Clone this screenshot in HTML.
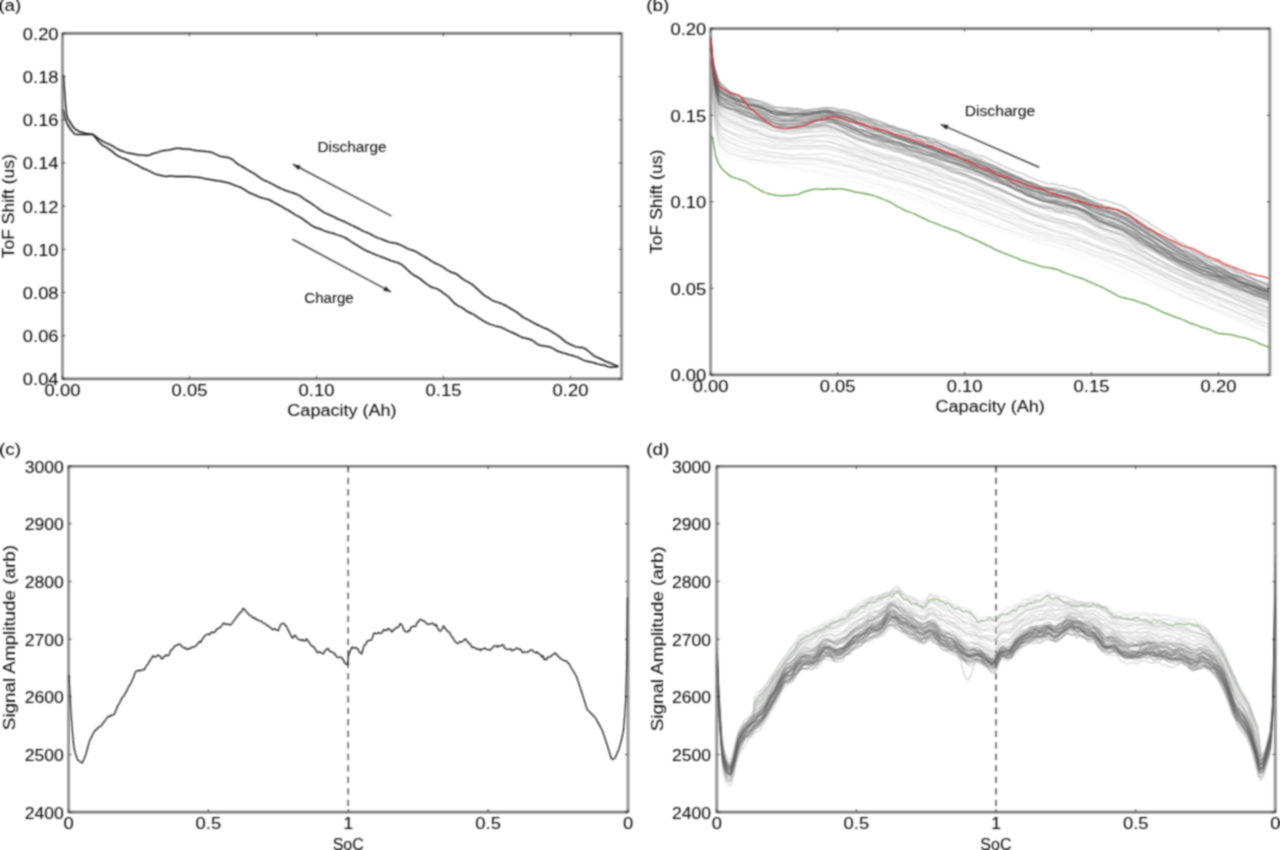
<!DOCTYPE html>
<html><head><meta charset="utf-8"><title>figure</title>
<style>html,body{margin:0;padding:0;background:#fff;overflow:hidden}svg{display:block}
.t{font-family:"Liberation Sans",sans-serif;fill:#000;stroke:#000;stroke-width:0.0;}
.s{font-family:"Liberation Serif",serif;fill:#000;stroke:#000;stroke-width:0.00;}

.axv{fill:none;stroke:#979797;stroke-width:3.0}
.axh{fill:none;stroke:#7c7c7c;stroke-width:2.6}
.tk{fill:none;stroke:#000;stroke-width:.8}
.lb{fill:none;stroke:#b4b4b4;stroke-width:1.1;stroke-linejoin:round}
.dk{fill:none;stroke:#555;stroke-width:1.1;stroke-linejoin:round}
.ld{fill:none;stroke:#bbb;stroke-width:1.1;stroke-linejoin:round}
.dd{fill:none;stroke:#5e5e5e;stroke-width:1.1;stroke-linejoin:round}
</style></head>
<body>
<svg width="1280" height="850" viewBox="0 0 1280 850">
<defs><filter id="bl" x="0" y="0" width="1280" height="850" filterUnits="userSpaceOnUse"><feConvolveMatrix order="7" kernelMatrix="0.00000 0.00003 0.00022 0.00043 0.00022 0.00003 0.00000 0.00003 0.00087 0.00692 0.01383 0.00692 0.00087 0.00003 0.00022 0.00692 0.05519 0.11027 0.05519 0.00692 0.00022 0.00043 0.01383 0.11027 0.22029 0.11027 0.01383 0.00043 0.00022 0.00692 0.05519 0.11027 0.05519 0.00692 0.00022 0.00003 0.00087 0.00692 0.01383 0.00692 0.00087 0.00003 0.00000 0.00003 0.00022 0.00043 0.00022 0.00003 0.00000" preserveAlpha="false"/></filter></defs>
<rect width="1280" height="850" fill="#fff"/>
<g filter="url(#bl)">
<path class="axv" d="M62.50 32.40V379.90M621.60 32.40V379.90"/>
<path class="axh" d="M62.50 33.40H621.60M62.50 378.90H621.60"/>
<path d="M63.5 75.5l1 14.5 1 15 1 9 1.5 5 2 3 2.5 4 2.5 3 5 2.8 6 1.7 6.9 1 0-.1 1.5 1.2 1.5 1.1 1.5 1.1 1.5 1 1.5 1 1.5 .9 1.5 .9 1.5 .8 1.5 .7 1.5 .7 1.5 .6 1.5 .7 1.5 .8 1.5 .9 1.5 1 1.5 .9 1.5 .8 1.5 .7 1.5 .6 1.5 .5 1.5 .6 1.5 .5 1.5 .5 1.5 .2 1.5 .3 1.5 .2 1.5 .3 1.5 .3 1.5 .3 1.5 .2 1.5 .2 1.5 .2 1.5 .1 1.5 .1 1.5 .1 1.5 0 1.5 0 1.5-.5 1.5-.7 1.5-.6 1.5-.4 1.5-.4 1.5-.4 1.5-.5 1.5-.5 1.5-.4 1.5-.4 1.5-.2 1.5-.2 1.5-.1 1.5-.2 1.5-.3 1.5-.4 1.5-.4 1.5-.3 1.5-.2 1.5-.1 1.5 .2 1.5 .2 1.5 .3 1.5 .1 1.5 0 1.5 .1 1.5 .1 1.5 .1 1.5 .4 1.5 .3 1.5 .4 1.5 .2 1.5 .1 1.5 .1 1.5 .2 1.5 .1 1.5 .2 1.5 .1 1.5 .2 1.5 .1 1.5 .3 1.5 .3 1.5 .6 1.5 .7 1.5 .8 1.5 .7 1.5 .6 1.5 .5 1.5 .4 1.5 .3 1.5 .2 1.5 .2 1.5 .2 1.5 .4 1.5 .7 1.5 .9 1.5 1.3 1.5 1.3 1.5 1.2 1.5 1.1 1.5 .9 1.5 .8 1.5 .9 1.5 .9 1.5 1 1.5 .9 1.5 .9 1.5 .8 1.5 .9 1.5 .8 1.5 1 1.5 1 1.5 1.1 1.5 1.1 1.5 1 1.5 1 1.5 .8 1.5 .6 1.5 .6 1.5 .7 1.5 .7 1.5 .8 1.5 .8 1.5 .8 1.5 .8 1.5 .8 1.5 .7 1.5 .7 1.5 .7 1.5 .6 1.5 .7 1.5 .6 1.5 .5 1.5 .4 1.5 .4 1.5 .6 1.5 .5 1.5 .6 1.5 .6 1.5 .7 1.5 .8 1.5 1 1.5 1.1 1.5 1.1 1.5 1 1.5 .9 1.5 .9 1.5 1 1.5 1 1.5 1 1.5 1.1 1.5 1 1.5 1.1 1.5 1.2 1.5 1.1 1.5 1 1.5 .9 1.5 .8 1.5 .7 1.5 .6 1.5 .6 1.5 .7 1.5 .7 1.5 .8 1.5 .8 1.5 .8 1.5 .6 1.5 .6 1.5 .6 1.5 .6 1.5 .6 1.5 .8 1.5 .8 1.5 .8 1.5 .7 1.5 .7 1.5 .6 1.5 .8 1.5 .7 1.5 .8 1.5 .8 1.5 .9 1.5 .7 1.5 .7 1.5 .5 1.5 .6 1.5 .7 1.5 .8 1.5 .8 1.5 .8 1.5 .8 1.5 .7 1.5 .6 1.5 .5 1.5 .5 1.5 .6 1.5 .5 1.5 .7 1.5 .6 1.5 .6 1.5 .4 1.5 .3 1.5 .1 1.5 .2 1.5 .4 1.5 .5 1.5 .6 1.5 .6 1.5 .6 1.5 .7 1.5 .9 1.5 .9 1.5 .7 1.5 .6 1.5 .4 1.5 .5 1.5 .5 1.5 .6 1.5 .8 1.5 .9 1.5 1 1.5 .8 1.5 .9 1.5 .8 1.5 .9 1.5 .9 1.5 1 1.5 .9 1.5 1 1.5 .9 1.5 .8 1.5 .7 1.5 .7 1.5 .7 1.5 .8 1.5 .8 1.5 1 1.5 1.1 1.5 1 1.5 .9 1.5 .8 1.5 .7 1.5 .5 1.5 .5 1.5 .6 1.5 .9 1.5 1.2 1.5 1.3 1.5 1.2 1.5 1 1.5 .9 1.5 .8 1.5 .8 1.5 .9 1.5 .9 1.5 1 1.5 1.2 1.5 1.3 1.5 1.4 1.5 1.4 1.5 1.4 1.5 1.3 1.5 1.4 1.5 1.2 1.5 1 1.5 .9 1.5 1 1.5 1 1.5 .9 1.5 .8 1.5 .6 1.5 .4 1.5 .5 1.5 .4 1.5 .6 1.5 .7 1.5 .6 1.5 .8 1.5 .8 1.5 .9 1.5 .9 1.5 .9 1.5 .9 1.5 .9 1.5 .9 1.5 1 1.5 1.2 1.5 1.3 1.5 1.2 1.5 1 1.5 .8 1.5 .7 1.5 .7 1.5 .8 1.5 .9 1.5 .9 1.5 .9 1.5 .7 1.5 .7 1.5 .7 1.5 .7 1.5 .8 1.5 .7 1.5 .6 1.5 .5 1.5 .7 1.5 .8 1.5 1 1.5 .9 1.5 .9 1.5 .9 1.5 1 1.5 .9 1.5 1.1 1.5 1.2 1.5 1.2 1.5 1.3 1.5 1.2 1.5 1.1 1.5 .8 1.5 .8 1.5 .6 1.5 .6 1.5 .6 1.5 .5 1.5 .4 1.5 .2 1.5 .2 1.5 .2 1.5 .3 1.5 .7 1.5 .9 1.5 1.2 1.5 1.3 1.5 1.3 1.5 1.3 1.5 1.1 1.5 .9 1.5 .7 1.5 .6 1.5 .6 1.5 .7 1.5 .8 1.5 .8 1.5 .7 1.5 .5 1.5 .5 1.5 .6 1.5 .7 1.5 .7 1.5 .6 1.5 .6 1.5 .6" fill="none" stroke="#111" stroke-width="1.5" stroke-linejoin="round" stroke-linecap="round"/>
<path d="M63.2 110l1.3 6 1.5 5 1.5 3.5 2.5 4 2.5 3.3 2.5 2.5 5 .3 12.9 0 0-.3 1.5 2 1.5 1.8 1.5 1.9 1.5 1.8 1.5 1.6 1.5 1.4 1.5 1 1.5 .8 1.5 .8 1.5 .9 1.5 1 1.5 1.1 1.5 1.2 1.5 1.3 1.5 1.2 1.5 1.1 1.5 1 1.5 .7 1.5 .7 1.5 .6 1.5 .5 1.5 .6 1.5 .7 1.5 .8 1.5 .9 1.5 .9 1.5 .8 1.5 .7 1.5 .6 1.5 .8 1.5 .8 1.5 .9 1.5 .8 1.5 .7 1.5 .6 1.5 .6 1.5 .7 1.5 .8 1.5 .8 1.5 .7 1.5 .7 1.5 .6 1.5 .4 1.5 .3 1.5 .4 1.5 .4 1.5 .4 1.5 .2 1.5 .1 1.5-.2 1.5-.1 1.5-.1 1.5 .1 1.5 .1 1.5 .2 1.5 0 1.5 0 1.5 0 1.5 0 1.5 0 1.5 .1 1.5 0 1.5 0 1.5 .1 1.5 0 1.5 .2 1.5 .2 1.5 .1 1.5 .1 1.5 0 1.5 .2 1.5 .2 1.5 .4 1.5 .4 1.5 .3 1.5 .3 1.5 .3 1.5 .2 1.5 .3 1.5 .3 1.5 .3 1.5 .2 1.5 .2 1.5 .2 1.5 .2 1.5 .3 1.5 .3 1.5 .3 1.5 .3 1.5 .4 1.5 .4 1.5 .6 1.5 .6 1.5 .6 1.5 .5 1.5 .6 1.5 .5 1.5 .6 1.5 .7 1.5 .8 1.5 .9 1.5 .9 1.5 1.1 1.5 .9 1.5 .7 1.5 .6 1.5 .6 1.5 .6 1.5 .7 1.5 .7 1.5 .6 1.5 .5 1.5 .5 1.5 .4 1.5 .4 1.5 .3 1.5 .4 1.5 .7 1.5 .8 1.5 .9 1.5 .8 1.5 .8 1.5 .7 1.5 .8 1.5 .8 1.5 .9 1.5 .9 1.5 .9 1.5 .8 1.5 .8 1.5 .9 1.5 .9 1.5 1 1.5 1 1.5 .9 1.5 .8 1.5 .7 1.5 .8 1.5 1 1.5 1.1 1.5 1.1 1.5 1 1.5 1.1 1.5 1.1 1.5 1.2 1.5 1 1.5 .8 1.5 .7 1.5 .5 1.5 .5 1.5 .5 1.5 .6 1.5 .6 1.5 .7 1.5 .6 1.5 .5 1.5 .5 1.5 .3 1.5 .4 1.5 .4 1.5 .5 1.5 .6 1.5 .5 1.5 .5 1.5 .4 1.5 .6 1.5 .5 1.5 .7 1.5 .9 1.5 .9 1.5 1 1.5 1.1 1.5 1 1.5 .9 1.5 .9 1.5 .9 1.5 .9 1.5 .9 1.5 1 1.5 .9 1.5 .8 1.5 .8 1.5 .7 1.5 .6 1.5 .6 1.5 .7 1.5 .6 1.5 .7 1.5 .6 1.5 .6 1.5 .5 1.5 .6 1.5 .6 1.5 .5 1.5 .6 1.5 .6 1.5 .6 1.5 .7 1.5 .6 1.5 .4 1.5 .4 1.5 .4 1.5 .5 1.5 .6 1.5 .7 1.5 1 1.5 1.1 1.5 1.4 1.5 1.4 1.5 1.4 1.5 1.4 1.5 1.4 1.5 1.2 1.5 1 1.5 .8 1.5 .7 1.5 .9 1.5 1.1 1.5 1.2 1.5 1.2 1.5 1.2 1.5 1.1 1.5 1.1 1.5 1.1 1.5 .9 1.5 .7 1.5 .5 1.5 .4 1.5 .5 1.5 .7 1.5 .9 1.5 1 1.5 1.1 1.5 1.1 1.5 1 1.5 1.1 1.5 1.3 1.5 1.5 1.5 1.6 1.5 1.7 1.5 1.6 1.5 1.2 1.5 1 1.5 .8 1.5 .7 1.5 .8 1.5 1 1.5 1 1.5 1.1 1.5 1 1.5 .7 1.5 .7 1.5 .7 1.5 .8 1.5 .9 1.5 1 1.5 1.1 1.5 1 1.5 .9 1.5 .9 1.5 1 1.5 .8 1.5 .8 1.5 .7 1.5 .6 1.5 .5 1.5 .5 1.5 .5 1.5 .4 1.5 .2 1.5 .4 1.5 .4 1.5 .6 1.5 .7 1.5 .8 1.5 .8 1.5 .7 1.5 .7 1.5 .6 1.5 .6 1.5 .7 1.5 .7 1.5 .8 1.5 .8 1.5 .8 1.5 .7 1.5 .4 1.5 .4 1.5 .3 1.5 .4 1.5 .4 1.5 .5 1.5 .8 1.5 1 1.5 1.2 1.5 1.2 1.5 .8 1.5 .5 1.5 .4 1.5 .2 1.5 .2 1.5 .3 1.5 .2 1.5 .3 1.5 .5 1.5 .6 1.5 .8 1.5 .9 1.5 .9 1.5 .7 1.5 .6 1.5 .5 1.5 .4 1.5 .4 1.5 .4 1.5 .5 1.5 .5 1.5 .4 1.5 .4 1.5 .4 1.5 .5 1.5 .4 1.5 .5 1.5 .7 1.5 .8 1.5 .8 1.5 .7 1.5 .6 1.5 .4 1.5 .3 1.5 .3 1.5 .3 1.5 .4 1.5 .4 1.5 .4 1.5 .5 1.5 .4 1.5 .4 1.5 .2 1.5 .2 1.5 .4 1.5 .6 1.5 .6 1.5 .4 1.5 .3 1.5-.1 1.5-.1 1.5 0 1.5-.1 1.5-.6" fill="none" stroke="#111" stroke-width="1.5" stroke-linejoin="round" stroke-linecap="round"/>
<path d="M390.9 215.8l-97.7-51.4" fill="none" stroke="#222" stroke-width="1.2" stroke-linejoin="round" stroke-linecap="round"/>
<path d="M293.2 164.4L300.6 165.4L298.2 170.0Z" fill="#222"/>
<path d="M292.7 239.4l97.9 52.4" fill="none" stroke="#222" stroke-width="1.2" stroke-linejoin="round" stroke-linecap="round"/>
<path d="M390.6 291.8L383.2 290.8L385.7 286.2Z" fill="#222"/>
<text class="t" x="352.0" y="152.0" font-size="14.05" text-anchor="middle" lengthAdjust="spacingAndGlyphs" textLength="69.1">Discharge</text>
<text class="t" x="329.0" y="303.4" font-size="14.05" text-anchor="middle" lengthAdjust="spacingAndGlyphs" textLength="49.5">Charge</text>
<path class="tk" d="M62.5 378.9v-3.0M62.5 33.4v3.0"/>
<text class="t" x="62.5" y="395.8" font-size="16.39" text-anchor="middle" lengthAdjust="spacingAndGlyphs" textLength="35.8">0.00</text>
<path class="tk" d="M189.5 378.9v-3.0M189.5 33.4v3.0"/>
<text class="t" x="189.5" y="395.8" font-size="16.39" text-anchor="middle" lengthAdjust="spacingAndGlyphs" textLength="35.8">0.05</text>
<path class="tk" d="M316.5 378.9v-3.0M316.5 33.4v3.0"/>
<text class="t" x="316.5" y="395.8" font-size="16.39" text-anchor="middle" lengthAdjust="spacingAndGlyphs" textLength="35.8">0.10</text>
<path class="tk" d="M443.5 378.9v-3.0M443.5 33.4v3.0"/>
<text class="t" x="443.5" y="395.8" font-size="16.39" text-anchor="middle" lengthAdjust="spacingAndGlyphs" textLength="35.8">0.15</text>
<path class="tk" d="M570.5 378.9v-3.0M570.5 33.4v3.0"/>
<text class="t" x="570.5" y="395.8" font-size="16.39" text-anchor="middle" lengthAdjust="spacingAndGlyphs" textLength="35.8">0.20</text>
<path class="tk" d="M62.5 378.9h3.0M621.6 378.9h-3.0"/>
<text class="t" x="58.6" y="385.3" font-size="16.39" text-anchor="end" lengthAdjust="spacingAndGlyphs" textLength="35.8">0.04</text>
<path class="tk" d="M62.5 335.7h3.0M621.6 335.7h-3.0"/>
<text class="t" x="58.6" y="342.1" font-size="16.39" text-anchor="end" lengthAdjust="spacingAndGlyphs" textLength="35.8">0.06</text>
<path class="tk" d="M62.5 292.5h3.0M621.6 292.5h-3.0"/>
<text class="t" x="58.6" y="298.9" font-size="16.39" text-anchor="end" lengthAdjust="spacingAndGlyphs" textLength="35.8">0.08</text>
<path class="tk" d="M62.5 249.3h3.0M621.6 249.3h-3.0"/>
<text class="t" x="58.6" y="255.7" font-size="16.39" text-anchor="end" lengthAdjust="spacingAndGlyphs" textLength="35.8">0.10</text>
<path class="tk" d="M62.5 206.2h3.0M621.6 206.2h-3.0"/>
<text class="t" x="58.6" y="212.5" font-size="16.39" text-anchor="end" lengthAdjust="spacingAndGlyphs" textLength="35.8">0.12</text>
<path class="tk" d="M62.5 163.0h3.0M621.6 163.0h-3.0"/>
<text class="t" x="58.6" y="169.3" font-size="16.39" text-anchor="end" lengthAdjust="spacingAndGlyphs" textLength="35.8">0.14</text>
<path class="tk" d="M62.5 119.8h3.0M621.6 119.8h-3.0"/>
<text class="t" x="58.6" y="126.1" font-size="16.39" text-anchor="end" lengthAdjust="spacingAndGlyphs" textLength="35.8">0.16</text>
<path class="tk" d="M62.5 76.6h3.0M621.6 76.6h-3.0"/>
<text class="t" x="58.6" y="83.0" font-size="16.39" text-anchor="end" lengthAdjust="spacingAndGlyphs" textLength="35.8">0.18</text>
<path class="tk" d="M62.5 33.4h3.0M621.6 33.4h-3.0"/>
<text class="t" x="58.6" y="39.8" font-size="16.39" text-anchor="end" lengthAdjust="spacingAndGlyphs" textLength="35.8">0.20</text>
<text class="t" x="342.0" y="416.4" font-size="16.39" text-anchor="middle" lengthAdjust="spacingAndGlyphs" textLength="109.3">Capacity (Ah)</text>
<text class="t" x="14.0" y="206.2" font-size="16.39" text-anchor="middle" lengthAdjust="spacingAndGlyphs" textLength="104.2" transform="rotate(-90 14.0 206.2)">ToF Shift (us)</text>
<path class="axv" d="M710.60 27.60V375.90M1269.80 27.60V375.90"/>
<path class="axh" d="M710.60 28.60H1269.80M710.60 374.90H1269.80"/>
<path d="M711 137l1.5 0 1.5 9.3 1.5 8.4 1.5 5.1 1.5 3.4 1.5 2.8 1.5 2.1 1.5 1.7 1.5 1.4 1.5 1.3 1.5 1.3 1.5 1.3 1.5 1 1.5 .7 1.5 .6 1.5 .5 1.5 .6 1.5 .5 1.5 .4 1.5 .5 1.5 .4 1.5 .6 1.5 .6 1.5 .8 1.5 .9 1.5 1 1.5 1 1.5 1 1.5 .9 1.5 .9 1.5 .8 1.5 .8 1.5 .8 1.5 .7 1.5 .8 1.5 .6 1.5 .5 1.5 .5 1.5 .4 1.5 .4 1.5 .3 1.5 .3 1.5 .3 1.5 .3 1.5 .2 1.5 .1 1.5 0 1.5 0 1.5-.1 1.5 0 1.5-.2 1.5-.1 1.5-.1 1.5-.2 1.5-.1 1.5-.2 1.5-.1 1.5-.4 1.5-.5 1.5-.7 1.5-.7 1.5-.6 1.5-.5 1.5-.4 1.5-.4 1.5-.4 1.5-.4 1.5-.3 1.5-.2 1.5-.1 1.5 0 1.5 .1 1.5 .1 1.5 0 1.5 0 1.5-.2 1.5-.1 1.5-.1 1.5-.1 1.5 .1 1.5 .1 1.5 0 1.5 .1 1.5-.1 1.5-.1 1.5 0 1.5 0 1.5 .2 1.5 .2 1.5 .3 1.5 .3 1.5 .4 1.5 .4 1.5 .5 1.5 .4 1.5 .4 1.5 .2 1.5 .2 1.5 .2 1.5 .3 1.5 .3 1.5 .3 1.5 .3 1.5 .2 1.5 .3 1.5 .3 1.5 .3 1.5 .5 1.5 .6 1.5 .5 1.5 .6 1.5 .5 1.5 .6 1.5 .7 1.5 .6 1.5 .5 1.5 .6 1.5 .6 1.5 .6 1.5 .8 1.5 .9 1.5 1 1.5 .9 1.5 .9 1.5 .7 1.5 .8 1.5 .8 1.5 .8 1.5 .7 1.5 .7 1.5 .6 1.5 .5 1.5 .6 1.5 .5 1.5 .5 1.5 .6 1.5 .7 1.5 .8 1.5 .8 1.5 .8 1.5 .7 1.5 .7 1.5 .7 1.5 .7 1.5 .7 1.5 .7 1.5 .6 1.5 .5 1.5 .6 1.5 .5 1.5 .6 1.5 .6 1.5 .7 1.5 .5 1.5 .6 1.5 .6 1.5 .5 1.5 .5 1.5 .6 1.5 .6 1.5 .5 1.5 .5 1.5 .5 1.5 .5 1.5 .6 1.5 .6 1.5 .9 1.5 .9 1.5 .8 1.5 .7 1.5 .6 1.5 .5 1.5 .6 1.5 .6 1.5 .7 1.5 .7 1.5 .7 1.5 .7 1.5 .7 1.5 .7 1.5 .7 1.5 .8 1.5 .7 1.5 .7 1.5 .7 1.5 .7 1.5 .7 1.5 .9 1.5 .9 1.5 .7 1.5 .7 1.5 .6 1.5 .6 1.5 .6 1.5 .6 1.5 .6 1.5 .6 1.5 .5 1.5 .6 1.5 .5 1.5 .6 1.5 .6 1.5 .6 1.5 .6 1.5 .7 1.5 .7 1.5 .6 1.5 .5 1.5 .5 1.5 .5 1.5 .4 1.5 .5 1.5 .4 1.5 .5 1.5 .4 1.5 .5 1.5 .5 1.5 .4 1.5 .5 1.5 .5 1.5 .4 1.5 .4 1.5 .2 1.5 .2 1.5 .2 1.5 .2 1.5 .3 1.5 .3 1.5 .3 1.5 .3 1.5 .4 1.5 .6 1.5 .8 1.5 .7 1.5 .6 1.5 .7 1.5 .5 1.5 .6 1.5 .5 1.5 .5 1.5 .5 1.5 .6 1.5 .6 1.5 .5 1.5 .4 1.5 .4 1.5 .4 1.5 .5 1.5 .6 1.5 .7 1.5 .7 1.5 .8 1.5 .6 1.5 .6 1.5 .6 1.5 .7 1.5 .6 1.5 .7 1.5 .6 1.5 .7 1.5 .7 1.5 .7 1.5 .8 1.5 .9 1.5 .8 1.5 .7 1.5 .8 1.5 .9 1.5 .8 1.5 .9 1.5 .8 1.5 .7 1.5 .6 1.5 .4 1.5 .3 1.5 .4 1.5 .4 1.5 .4 1.5 .4 1.5 .3 1.5 .3 1.5 .4 1.5 .5 1.5 .6 1.5 .6 1.5 .6 1.5 .5 1.5 .4 1.5 .4 1.5 .4 1.5 .6 1.5 .7 1.5 .8 1.5 .8 1.5 .7 1.5 .7 1.5 .6 1.5 .7 1.5 .7 1.5 .8 1.5 .8 1.5 .6 1.5 .6 1.5 .5 1.5 .5 1.5 .6 1.5 .6 1.5 .7 1.5 .6 1.5 .5 1.5 .5 1.5 .5 1.5 .6 1.5 .6 1.5 .5 1.5 .7 1.5 .7 1.5 .8 1.5 .7 1.5 .6 1.5 .4 1.5 .4 1.5 .5 1.5 .6 1.5 .6 1.5 .6 1.5 .6 1.5 .5 1.5 .4 1.5 .3 1.5 .4 1.5 .5 1.5 .6 1.5 .8 1.5 .8 1.5 .7 1.5 .6 1.5 .4 1.5 .3 1.5 .2 1.5 .2 1.5 .1 1.5 .1 1.5 .1 1.5 .2 1.5 .2 1.5 .2 1.5 .3 1.5 .4 1.5 .5 1.5 .4 1.5 .4 1.5 .3 1.5 .2 1.5 .3 1.5 .3 1.5 .5 1.5 .4 1.5 .5 1.5 .5 1.5 .6 1.5 .6 1.5 .7 1.5 .8 1.5 .6 1.5 .7 1.5 .6 1.5 .6 1.5 .6 1.5 .6 1.5 .5 1.5 .6" fill="none" stroke="#5f9a4a" stroke-width="1.3" stroke-linejoin="round" stroke-linecap="round"/>
<path class="lb" stroke-opacity="0.49" d="M711 43.9l1.5 22.1 1.5 12.4 1.5 7.1 1.5 6.3 1.5 5.2 1.5 2.2 1.5 1.5 1.5 1.1 1.5 .9 1.5 .8 1.5 .6 1.5 .5 1.5 .4 1.5 .3 1.5 .5 1.5 .6 1.5 .7 1.5 .6 1.5 .8 1.5 .7 1.5 .8 1.5 .7 1.5 .7 1.5 .7 1.5 .6 1.5 .6 1.5 .6 1.5 .6 1.5 .6 1.5 .6 1.5 .5 1.5 .7 1.5 .7 1.5 .8 1.5 .8 1.5 .7 1.5 .7 1.5 .6 1.5 .4 1.5 .5 1.5 .4 1.5 .6 1.5 .5 1.5 .5 1.5 .4 1.5 .4 1.5 .3 1.5 .3 1.5 .3 1.5 .3 1.5 .1 1.5 .2 1.5 .1 1.5 .2 1.5 .1 1.5 .1 1.5-.1 1.5-.1 1.5-.2 1.5-.1 1.5 0 1.5 0 1.5 .1 1.5 0 1.5 .1 1.5-.1 1.5 0 1.5-.1 1.5-.1 1.5-.2 1.5-.2 1.5-.2 1.5-.2 1.5-.3 1.5-.2 1.5-.2 1.5 0 1.5 .2 1.5 .3 1.5 .5 1.5 .5 1.5 .5 1.5 .5 1.5 .6 1.5 .6 1.5 .6 1.5 .6 1.5 .6 1.5 .7 1.5 .8 1.5 .8 1.5 .8 1.5 .8 1.5 .8 1.5 .8 1.5 .8 1.5 .7 1.5 .6 1.5 .6 1.5 .5 1.5 .4 1.5 .5 1.5 .5 1.5 .6 1.5 .5 1.5 .4 1.5 .4 1.5 .5 1.5 .5 1.5 .4 1.5 .2 1.5 0 1.5 .2 1.5 .2 1.5 .4 1.5 .5 1.5 .6 1.5 .5 1.5 .4 1.5 .3 1.5 .4 1.5 .2 1.5 .3 1.5 .2 1.5 .3 1.5 .3 1.5 .3 1.5 .3 1.5 .3 1.5 .3 1.5 .3 1.5 .4 1.5 .4 1.5 .5 1.5 .6 1.5 .4 1.5 .4 1.5 .4 1.5 .4 1.5 .5 1.5 .3 1.5 .3 1.5 .3 1.5 .2 1.5 .2 1.5 .3 1.5 .4 1.5 .3 1.5 .4 1.5 .3 1.5 .4 1.5 .3 1.5 .5 1.5 .5 1.5 .5 1.5 .5 1.5 .4 1.5 .6 1.5 .5 1.5 .6 1.5 .5 1.5 .6 1.5 .6 1.5 .6 1.5 .6 1.5 .6 1.5 .5 1.5 .5 1.5 .5 1.5 .5 1.5 .6 1.5 .6 1.5 .7 1.5 .7 1.5 .8 1.5 .6 1.5 .6 1.5 .5 1.5 .5 1.5 .5 1.5 .7 1.5 .6 1.5 .7 1.5 .5 1.5 .6 1.5 .6 1.5 .6 1.5 .6 1.5 .6 1.5 .6 1.5 .7 1.5 .8 1.5 .8 1.5 .7 1.5 .8 1.5 .7 1.5 .6 1.5 .7 1.5 .7 1.5 .8 1.5 .9 1.5 1 1.5 1 1.5 1 1.5 .8 1.5 .8 1.5 .6 1.5 .7 1.5 .7 1.5 .8 1.5 .8 1.5 .7 1.5 .7 1.5 .6 1.5 .6 1.5 .5 1.5 .5 1.5 .5 1.5 .5 1.5 .4 1.5 .5 1.5 .4 1.5 .4 1.5 .4 1.5 .3 1.5 .2 1.5 .3 1.5 .1 1.5 .3 1.5 .3 1.5 .4 1.5 .5 1.5 .4 1.5 .3 1.5 .2 1.5 .4 1.5 .4 1.5 .3 1.5 .3 1.5 .2 1.5 .2 1.5 .2 1.5 .3 1.5 .4 1.5 .6 1.5 .7 1.5 .7 1.5 .9 1.5 .9 1.5 1 1.5 1 1.5 .9 1.5 .8 1.5 .8 1.5 .7 1.5 .8 1.5 .8 1.5 .8 1.5 .7 1.5 .7 1.5 .6 1.5 .5 1.5 .5 1.5 .5 1.5 .5 1.5 .5 1.5 .6 1.5 .6 1.5 .8 1.5 .8 1.5 .9 1.5 .8 1.5 .7 1.5 .7 1.5 .7 1.5 .8 1.5 .8 1.5 .9 1.5 .9 1.5 1 1.5 1 1.5 .9 1.5 .9 1.5 .9 1.5 1 1.5 1 1.5 1.1 1.5 1 1.5 .9 1.5 .8 1.5 .8 1.5 .8 1.5 .9 1.5 .9 1.5 1 1.5 1 1.5 1 1.5 1 1.5 1.1 1.5 1 1.5 .9 1.5 .9 1.5 .9 1.5 .9 1.5 .9 1.5 .9 1.5 .9 1.5 1 1.5 .9 1.5 1 1.5 .8 1.5 .8 1.5 .8 1.5 .9 1.5 .9 1.5 .9 1.5 .9 1.5 .9 1.5 .7 1.5 .8 1.5 .7 1.5 .7 1.5 .6 1.5 .5 1.5 .5 1.5 .5 1.5 .5 1.5 .6 1.5 .6 1.5 .7 1.5 .7 1.5 .7 1.5 .7 1.5 .7 1.5 .6 1.5 .5 1.5 .5 1.5 .5 1.5 .5 1.5 .6 1.5 .5 1.5 .5 1.5 .6 1.5 .7 1.5 .6 1.5 .6 1.5 .4 1.5 .3 1.5 .3 1.5 .5 1.5 .6 1.5 .6 1.5 .5 1.5 .3 1.5 .2 1.5 .3 1.5 .4 1.5 .5 1.5 .6 1.5 .6 1.5 .6 1.5 .5 1.5 .5 1.5 .4 1.5 .4 1.5 .3 1.5 .4 1.5 .5 1.5 .5 1.5 .6 1.5 .5 1.5 .5"/>
<path class="lb" stroke-opacity="0.48" d="M711 48.8l1.5 22.7 1.5 12.6 1.5 7.2 1.5 6.4 1.5 5.4 1.5 2.2 1.5 1.4 1.5 .8 1.5 .6 1.5 .5 1.5 .6 1.5 .6 1.5 .6 1.5 .8 1.5 .9 1.5 .8 1.5 .7 1.5 .6 1.5 .6 1.5 .7 1.5 .6 1.5 .6 1.5 .5 1.5 .5 1.5 .3 1.5 .3 1.5 .2 1.5 .4 1.5 .5 1.5 .7 1.5 .8 1.5 .7 1.5 .5 1.5 .5 1.5 .4 1.5 .4 1.5 .4 1.5 .5 1.5 .6 1.5 .4 1.5 .4 1.5 .4 1.5 .2 1.5 .1 1.5 .2 1.5 .1 1.5 .2 1.5 .3 1.5 .2 1.5 .2 1.5 .1 1.5-.1 1.5-.1 1.5-.3 1.5-.2 1.5-.2 1.5-.3 1.5-.3 1.5-.2 1.5-.2 1.5-.2 1.5-.2 1.5-.3 1.5-.4 1.5-.4 1.5-.5 1.5-.5 1.5-.6 1.5-.5 1.5-.4 1.5-.4 1.5-.4 1.5-.3 1.5-.3 1.5-.2 1.5-.1 1.5 0 1.5 0 1.5 .1 1.5 .2 1.5 .4 1.5 .6 1.5 .7 1.5 .6 1.5 .5 1.5 .4 1.5 .4 1.5 .5 1.5 .8 1.5 .8 1.5 .9 1.5 .8 1.5 .8 1.5 .7 1.5 .6 1.5 .5 1.5 .6 1.5 .7 1.5 .7 1.5 .7 1.5 .6 1.5 .5 1.5 .5 1.5 .6 1.5 .6 1.5 .6 1.5 .6 1.5 .6 1.5 .5 1.5 .4 1.5 .5 1.5 .5 1.5 .5 1.5 .6 1.5 .5 1.5 .5 1.5 .5 1.5 .5 1.5 .3 1.5 .3 1.5 .4 1.5 .5 1.5 .7 1.5 .8 1.5 .9 1.5 .8 1.5 .7 1.5 .5 1.5 .2 1.5 .2 1.5 .3 1.5 .4 1.5 .5 1.5 .6 1.5 .6 1.5 .5 1.5 .6 1.5 .7 1.5 .8 1.5 .8 1.5 .9 1.5 .7 1.5 .6 1.5 .6 1.5 .5 1.5 .7 1.5 .5 1.5 .5 1.5 .3 1.5 .3 1.5 .4 1.5 .4 1.5 .7 1.5 .6 1.5 .7 1.5 .5 1.5 .5 1.5 .5 1.5 .5 1.5 .5 1.5 .5 1.5 .6 1.5 .7 1.5 .6 1.5 .6 1.5 .4 1.5 .4 1.5 .3 1.5 .3 1.5 .5 1.5 .6 1.5 .6 1.5 .6 1.5 .6 1.5 .5 1.5 .5 1.5 .6 1.5 .5 1.5 .5 1.5 .5 1.5 .4 1.5 .3 1.5 .3 1.5 .4 1.5 .5 1.5 .7 1.5 .7 1.5 .6 1.5 .7 1.5 .7 1.5 .7 1.5 .6 1.5 .5 1.5 .5 1.5 .3 1.5 .4 1.5 .4 1.5 .7 1.5 .7 1.5 .9 1.5 .8 1.5 .7 1.5 .6 1.5 .5 1.5 .4 1.5 .5 1.5 .6 1.5 .7 1.5 .8 1.5 .7 1.5 .7 1.5 .8 1.5 .7 1.5 .8 1.5 .7 1.5 .7 1.5 .6 1.5 .7 1.5 .7 1.5 .7 1.5 .7 1.5 .6 1.5 .6 1.5 .4 1.5 .3 1.5 .3 1.5 .3 1.5 .3 1.5 .3 1.5 .4 1.5 .4 1.5 .4 1.5 .3 1.5 .4 1.5 .5 1.5 .5 1.5 .5 1.5 .5 1.5 .5 1.5 .4 1.5 .5 1.5 .4 1.5 .3 1.5 .3 1.5 .4 1.5 .6 1.5 .8 1.5 .9 1.5 .9 1.5 1 1.5 1 1.5 .9 1.5 .9 1.5 .8 1.5 .7 1.5 .8 1.5 .8 1.5 .7 1.5 .7 1.5 .4 1.5 .3 1.5 .3 1.5 .5 1.5 .6 1.5 .8 1.5 .6 1.5 .6 1.5 .5 1.5 .5 1.5 .6 1.5 .6 1.5 .8 1.5 .6 1.5 .6 1.5 .4 1.5 .4 1.5 .5 1.5 .7 1.5 .9 1.5 .9 1.5 .9 1.5 .8 1.5 .7 1.5 .9 1.5 .9 1.5 1 1.5 1.1 1.5 1.1 1.5 .9 1.5 .7 1.5 .7 1.5 .6 1.5 .8 1.5 .9 1.5 1 1.5 1.1 1.5 .9 1.5 .7 1.5 .7 1.5 .8 1.5 .9 1.5 .8 1.5 .9 1.5 .8 1.5 .8 1.5 .9 1.5 .8 1.5 .9 1.5 .9 1.5 1 1.5 .8 1.5 .8 1.5 .7 1.5 .6 1.5 .5 1.5 .6 1.5 .6 1.5 .7 1.5 .8 1.5 .9 1.5 .8 1.5 .8 1.5 .9 1.5 .9 1.5 1 1.5 .9 1.5 .9 1.5 .6 1.5 .6 1.5 .5 1.5 .5 1.5 .5 1.5 .6 1.5 .6 1.5 .6 1.5 .6 1.5 .5 1.5 .6 1.5 .5 1.5 .5 1.5 .5 1.5 .6 1.5 .6 1.5 .6 1.5 .6 1.5 .8 1.5 .7 1.5 .8 1.5 .8 1.5 .7 1.5 .7 1.5 .6 1.5 .4 1.5 .4 1.5 .5 1.5 .5 1.5 .5 1.5 .5 1.5 .6 1.5 .5 1.5 .6 1.5 .5 1.5 .6 1.5 .6 1.5 .4 1.5 .5 1.5 .4 1.5 .6 1.5 .5 1.5 .7 1.5 .6 1.5 .6"/>
<path class="lb" stroke-opacity="0.47" d="M711 43.6l1.5 23.2 1.5 12.8 1.5 7.5 1.5 6.5 1.5 5.4 1.5 2.4 1.5 1.5 1.5 1 1.5 .9 1.5 .8 1.5 .8 1.5 .6 1.5 .5 1.5 .4 1.5 .5 1.5 .6 1.5 .5 1.5 .5 1.5 .6 1.5 .7 1.5 .9 1.5 .8 1.5 .8 1.5 .7 1.5 .6 1.5 .6 1.5 .5 1.5 .4 1.5 .3 1.5 .3 1.5 .5 1.5 .6 1.5 .7 1.5 1 1.5 .9 1.5 .9 1.5 .8 1.5 .7 1.5 .7 1.5 .6 1.5 .6 1.5 .5 1.5 .4 1.5 .5 1.5 .5 1.5 .5 1.5 .4 1.5 .3 1.5 .1 1.5-.1 1.5 0 1.5 0 1.5 .1 1.5 .1 1.5 .2 1.5 0 1.5 0 1.5-.1 1.5 0 1.5 0 1.5 .1 1.5 .2 1.5 .1 1.5-.1 1.5-.2 1.5-.4 1.5-.3 1.5-.2 1.5-.2 1.5-.1 1.5-.1 1.5-.2 1.5-.4 1.5-.3 1.5-.2 1.5 0 1.5 .3 1.5 .3 1.5 .3 1.5 .2 1.5 .4 1.5 .5 1.5 .6 1.5 .6 1.5 .6 1.5 .6 1.5 .4 1.5 .4 1.5 .5 1.5 .7 1.5 .8 1.5 .8 1.5 .8 1.5 .8 1.5 .7 1.5 .7 1.5 .5 1.5 .5 1.5 .5 1.5 .4 1.5 .6 1.5 .6 1.5 .7 1.5 .6 1.5 .6 1.5 .4 1.5 .3 1.5 .2 1.5 .4 1.5 .5 1.5 .6 1.5 .6 1.5 .4 1.5 .4 1.5 .3 1.5 .4 1.5 .4 1.5 .4 1.5 .4 1.5 .3 1.5 .2 1.5 .3 1.5 .3 1.5 .4 1.5 .5 1.5 .5 1.5 .6 1.5 .6 1.5 .5 1.5 .6 1.5 .5 1.5 .6 1.5 .6 1.5 .7 1.5 .6 1.5 .6 1.5 .5 1.5 .4 1.5 .4 1.5 .5 1.5 .5 1.5 .5 1.5 .6 1.5 .4 1.5 .4 1.5 .4 1.5 .5 1.5 .4 1.5 .5 1.5 .5 1.5 .6 1.5 .6 1.5 .7 1.5 .6 1.5 .6 1.5 .5 1.5 .6 1.5 .5 1.5 .5 1.5 .5 1.5 .6 1.5 .7 1.5 .8 1.5 .8 1.5 .8 1.5 .8 1.5 .8 1.5 .7 1.5 .6 1.5 .5 1.5 .4 1.5 .5 1.5 .6 1.5 .6 1.5 .6 1.5 .7 1.5 .6 1.5 .7 1.5 .7 1.5 .6 1.5 .7 1.5 .7 1.5 .7 1.5 .8 1.5 .7 1.5 .6 1.5 .4 1.5 .3 1.5 .5 1.5 .5 1.5 .6 1.5 .5 1.5 .6 1.5 .7 1.5 .7 1.5 .8 1.5 .7 1.5 .7 1.5 .6 1.5 .7 1.5 .7 1.5 .7 1.5 .6 1.5 .7 1.5 .6 1.5 .6 1.5 .6 1.5 .5 1.5 .5 1.5 .5 1.5 .5 1.5 .6 1.5 .7 1.5 .8 1.5 .6 1.5 .5 1.5 .1 1.5 .1 1.5 0 1.5 .1 1.5 .2 1.5 .2 1.5 .5 1.5 .6 1.5 .6 1.5 .5 1.5 .2 1.5 .1 1.5-.1 1.5 0 1.5 .2 1.5 .3 1.5 .3 1.5 .4 1.5 .4 1.5 .3 1.5 .3 1.5 .3 1.5 .2 1.5 .3 1.5 .3 1.5 .4 1.5 .4 1.5 .4 1.5 .5 1.5 .7 1.5 .8 1.5 .9 1.5 .9 1.5 .9 1.5 .8 1.5 .7 1.5 .6 1.5 .7 1.5 .9 1.5 1 1.5 1.1 1.5 .9 1.5 .7 1.5 .5 1.5 .3 1.5 .4 1.5 .3 1.5 .3 1.5 .4 1.5 .4 1.5 .5 1.5 .5 1.5 .5 1.5 .5 1.5 .6 1.5 .5 1.5 .6 1.5 .7 1.5 .7 1.5 .7 1.5 .7 1.5 .7 1.5 .8 1.5 .9 1.5 .9 1.5 .9 1.5 .9 1.5 .9 1.5 .9 1.5 1 1.5 1.1 1.5 .9 1.5 .9 1.5 .7 1.5 .6 1.5 .7 1.5 .8 1.5 1 1.5 1 1.5 .9 1.5 .8 1.5 .7 1.5 .6 1.5 .7 1.5 .9 1.5 1.1 1.5 1 1.5 1.1 1.5 1 1.5 .9 1.5 .9 1.5 .6 1.5 .6 1.5 .6 1.5 .7 1.5 .8 1.5 .9 1.5 1 1.5 .9 1.5 .9 1.5 .7 1.5 .6 1.5 .6 1.5 .6 1.5 .8 1.5 .9 1.5 .9 1.5 .8 1.5 .7 1.5 .6 1.5 .7 1.5 .6 1.5 .6 1.5 .6 1.5 .6 1.5 .7 1.5 .6 1.5 .8 1.5 .8 1.5 .8 1.5 .8 1.5 .7 1.5 .6 1.5 .5 1.5 .6 1.5 .7 1.5 .7 1.5 .7 1.5 .6 1.5 .5 1.5 .6 1.5 .6 1.5 .7 1.5 .7 1.5 .6 1.5 .6 1.5 .6 1.5 .5 1.5 .6 1.5 .7 1.5 .7 1.5 .7 1.5 .5 1.5 .4 1.5 .4 1.5 .4 1.5 .5 1.5 .5 1.5 .5 1.5 .5 1.5 .6 1.5 .8 1.5 .6 1.5 .6 1.5 .5 1.5 .5"/>
<path class="lb" stroke-opacity="0.46" d="M711 46.4l1.5 23.7 1.5 13 1.5 7.3 1.5 6.3 1.5 4.9 1.5 2.1 1.5 1.1 1.5 .9 1.5 .8 1.5 .8 1.5 1 1.5 .8 1.5 .8 1.5 .7 1.5 .6 1.5 .6 1.5 .5 1.5 .5 1.5 .6 1.5 .7 1.5 .7 1.5 .7 1.5 .5 1.5 .5 1.5 .3 1.5 .3 1.5 .4 1.5 .5 1.5 .5 1.5 .7 1.5 .5 1.5 .5 1.5 .4 1.5 .4 1.5 .6 1.5 .6 1.5 .7 1.5 .6 1.5 .6 1.5 .7 1.5 .7 1.5 .6 1.5 .4 1.5 .3 1.5 .2 1.5 .4 1.5 .3 1.5 .3 1.5 .2 1.5 .1 1.5 0 1.5-.1 1.5 0 1.5 0 1.5 0 1.5-.1 1.5 .1 1.5 .2 1.5 0 1.5 0 1.5-.2 1.5-.2 1.5-.1 1.5 0 1.5 0 1.5-.1 1.5-.1 1.5-.2 1.5-.3 1.5-.3 1.5-.3 1.5-.2 1.5-.1 1.5-.2 1.5-.1 1.5-.2 1.5 0 1.5 .2 1.5 .4 1.5 .5 1.5 .5 1.5 .5 1.5 .4 1.5 .5 1.5 .5 1.5 .5 1.5 .5 1.5 .3 1.5 .4 1.5 .5 1.5 .5 1.5 .7 1.5 .8 1.5 .7 1.5 .7 1.5 .7 1.5 .8 1.5 .8 1.5 .9 1.5 .7 1.5 .5 1.5 .3 1.5 .3 1.5 .3 1.5 .5 1.5 .5 1.5 .4 1.5 .4 1.5 .4 1.5 .3 1.5 .4 1.5 .3 1.5 .4 1.5 .5 1.5 .6 1.5 .6 1.5 .7 1.5 .6 1.5 .5 1.5 .4 1.5 .3 1.5 .3 1.5 .3 1.5 .4 1.5 .4 1.5 .6 1.5 .6 1.5 .6 1.5 .7 1.5 .5 1.5 .7 1.5 .7 1.5 .7 1.5 .7 1.5 .4 1.5 .3 1.5 .4 1.5 .5 1.5 .5 1.5 .6 1.5 .6 1.5 .4 1.5 .6 1.5 .7 1.5 .8 1.5 .8 1.5 .8 1.5 .5 1.5 .3 1.5 .2 1.5 .4 1.5 .5 1.5 .7 1.5 .8 1.5 .7 1.5 .6 1.5 .4 1.5 .4 1.5 .5 1.5 .5 1.5 .5 1.5 .6 1.5 .7 1.5 .7 1.5 .7 1.5 .7 1.5 .7 1.5 .6 1.5 .6 1.5 .5 1.5 .3 1.5 .3 1.5 .4 1.5 .5 1.5 .7 1.5 .8 1.5 .7 1.5 .6 1.5 .6 1.5 .6 1.5 .7 1.5 .8 1.5 .8 1.5 .8 1.5 .7 1.5 .6 1.5 .4 1.5 .4 1.5 .4 1.5 .6 1.5 .6 1.5 .8 1.5 .7 1.5 .8 1.5 .7 1.5 .8 1.5 .7 1.5 .6 1.5 .7 1.5 .7 1.5 .8 1.5 .8 1.5 .7 1.5 .6 1.5 .4 1.5 .4 1.5 .4 1.5 .5 1.5 .7 1.5 .7 1.5 .7 1.5 .7 1.5 .6 1.5 .5 1.5 .4 1.5 .5 1.5 .6 1.5 .6 1.5 .6 1.5 .5 1.5 .4 1.5 .2 1.5 .1 1.5 .1 1.5 .1 1.5 .3 1.5 .3 1.5 .3 1.5 .2 1.5 .2 1.5 .2 1.5 .4 1.5 .4 1.5 .4 1.5 .4 1.5 .3 1.5 .4 1.5 .3 1.5 .4 1.5 .5 1.5 .5 1.5 .6 1.5 .5 1.5 .5 1.5 .4 1.5 .5 1.5 .6 1.5 .6 1.5 .7 1.5 .8 1.5 .8 1.5 .9 1.5 .9 1.5 .8 1.5 .8 1.5 .7 1.5 .7 1.5 .7 1.5 .6 1.5 .6 1.5 .6 1.5 .6 1.5 .4 1.5 .4 1.5 .3 1.5 .4 1.5 .5 1.5 .5 1.5 .5 1.5 .6 1.5 .7 1.5 .6 1.5 .7 1.5 .6 1.5 .6 1.5 .7 1.5 .8 1.5 1 1.5 1 1.5 .9 1.5 .8 1.5 .8 1.5 .8 1.5 .9 1.5 .9 1.5 .8 1.5 .8 1.5 .8 1.5 .8 1.5 .9 1.5 1 1.5 1.1 1.5 .9 1.5 .6 1.5 .4 1.5 .4 1.5 .5 1.5 .7 1.5 .7 1.5 .9 1.5 .9 1.5 .9 1.5 .7 1.5 .5 1.5 .5 1.5 .6 1.5 .8 1.5 .9 1.5 .9 1.5 .8 1.5 .6 1.5 .6 1.5 .7 1.5 .8 1.5 .8 1.5 .9 1.5 .7 1.5 .7 1.5 .7 1.5 .6 1.5 .6 1.5 .5 1.5 .6 1.5 .6 1.5 .7 1.5 .7 1.5 .7 1.5 .7 1.5 .7 1.5 .5 1.5 .5 1.5 .5 1.5 .4 1.5 .4 1.5 .4 1.5 .3 1.5 .4 1.5 .4 1.5 .5 1.5 .7 1.5 .8 1.5 .8 1.5 .8 1.5 .7 1.5 .6 1.5 .4 1.5 .5 1.5 .6 1.5 .8 1.5 .8 1.5 .8 1.5 .7 1.5 .5 1.5 .6 1.5 .5 1.5 .5 1.5 .6 1.5 .5 1.5 .7 1.5 .7 1.5 .7 1.5 .7 1.5 .5 1.5 .6 1.5 .5 1.5 .6 1.5 .5 1.5 .5 1.5 .6 1.5 .7 1.5 .7 1.5 .7"/>
<path class="lb" stroke-opacity="0.45" d="M711 47.9l1.5 24.3 1.5 13.4 1.5 7.7 1.5 6.5 1.5 5.3 1.5 2.3 1.5 1.4 1.5 .9 1.5 .7 1.5 .6 1.5 .7 1.5 .6 1.5 .5 1.5 .6 1.5 .7 1.5 .6 1.5 .6 1.5 .5 1.5 .6 1.5 .6 1.5 .7 1.5 .9 1.5 .9 1.5 .9 1.5 .7 1.5 .5 1.5 .4 1.5 .4 1.5 .5 1.5 .5 1.5 .6 1.5 .5 1.5 .5 1.5 .6 1.5 .5 1.5 .7 1.5 .8 1.5 .8 1.5 .7 1.5 .5 1.5 .5 1.5 .3 1.5 .3 1.5 .3 1.5 .3 1.5 .4 1.5 .4 1.5 .3 1.5 .4 1.5 .3 1.5 .4 1.5 .2 1.5 .1 1.5 0 1.5-.2 1.5-.3 1.5-.1 1.5-.2 1.5-.1 1.5-.2 1.5-.3 1.5-.2 1.5 0 1.5 0 1.5 0 1.5-.1 1.5-.1 1.5-.1 1.5-.2 1.5-.2 1.5-.2 1.5-.2 1.5-.2 1.5-.2 1.5-.3 1.5-.3 1.5-.1 1.5 0 1.5 .2 1.5 .4 1.5 .5 1.5 .4 1.5 .4 1.5 .4 1.5 .3 1.5 .3 1.5 .4 1.5 .5 1.5 .6 1.5 .6 1.5 .6 1.5 .4 1.5 .5 1.5 .6 1.5 .6 1.5 .4 1.5 .5 1.5 .4 1.5 .6 1.5 .6 1.5 .6 1.5 .6 1.5 .3 1.5 .1 1.5 .2 1.5 .2 1.5 .5 1.5 .5 1.5 .5 1.5 .4 1.5 .3 1.5 .2 1.5 .1 1.5 0 1.5 .1 1.5 .3 1.5 .5 1.5 .6 1.5 .7 1.5 .5 1.5 .3 1.5 .3 1.5 .3 1.5 .4 1.5 .4 1.5 .4 1.5 .4 1.5 .4 1.5 .5 1.5 .5 1.5 .6 1.5 .7 1.5 .7 1.5 .7 1.5 .6 1.5 .4 1.5 .3 1.5 .3 1.5 .4 1.5 .4 1.5 .6 1.5 .8 1.5 .8 1.5 .8 1.5 .6 1.5 .5 1.5 .5 1.5 .5 1.5 .6 1.5 .6 1.5 .6 1.5 .6 1.5 .6 1.5 .7 1.5 .5 1.5 .5 1.5 .4 1.5 .5 1.5 .5 1.5 .6 1.5 .6 1.5 .6 1.5 .6 1.5 .8 1.5 .7 1.5 .6 1.5 .6 1.5 .5 1.5 .5 1.5 .6 1.5 .7 1.5 .8 1.5 .7 1.5 .7 1.5 .5 1.5 .5 1.5 .5 1.5 .5 1.5 .6 1.5 .7 1.5 .7 1.5 .8 1.5 .7 1.5 .7 1.5 .6 1.5 .6 1.5 .7 1.5 .8 1.5 .7 1.5 .8 1.5 .6 1.5 .6 1.5 .5 1.5 .5 1.5 .6 1.5 .7 1.5 .8 1.5 .7 1.5 .8 1.5 .8 1.5 .8 1.5 .8 1.5 .9 1.5 1 1.5 .9 1.5 .8 1.5 .8 1.5 .8 1.5 .9 1.5 .8 1.5 .8 1.5 .7 1.5 .6 1.5 .5 1.5 .4 1.5 .4 1.5 .3 1.5 .4 1.5 .5 1.5 .6 1.5 .6 1.5 .6 1.5 .6 1.5 .5 1.5 .4 1.5 .4 1.5 .3 1.5 .3 1.5 .5 1.5 .5 1.5 .4 1.5 .2 1.5 .1 1.5 .1 1.5 .3 1.5 .4 1.5 .6 1.5 .5 1.5 .4 1.5 .2 1.5 .2 1.5 .2 1.5 .4 1.5 .4 1.5 .5 1.5 .5 1.5 .6 1.5 .6 1.5 .6 1.5 .8 1.5 .9 1.5 .8 1.5 .8 1.5 .9 1.5 .8 1.5 .8 1.5 .7 1.5 .5 1.5 .3 1.5 .3 1.5 .5 1.5 .5 1.5 .6 1.5 .5 1.5 .4 1.5 .5 1.5 .4 1.5 .5 1.5 .4 1.5 .4 1.5 .4 1.5 .5 1.5 .6 1.5 .8 1.5 .7 1.5 .6 1.5 .5 1.5 .6 1.5 .7 1.5 .8 1.5 .8 1.5 .9 1.5 .8 1.5 .8 1.5 .7 1.5 .9 1.5 .8 1.5 .9 1.5 .9 1.5 .9 1.5 .9 1.5 .8 1.5 .8 1.5 .7 1.5 .7 1.5 .7 1.5 .7 1.5 .7 1.5 .7 1.5 .8 1.5 .7 1.5 .7 1.5 .7 1.5 .7 1.5 .7 1.5 .8 1.5 .9 1.5 .8 1.5 .8 1.5 .9 1.5 .9 1.5 .9 1.5 .9 1.5 .8 1.5 .8 1.5 .7 1.5 .8 1.5 .8 1.5 .7 1.5 .8 1.5 .8 1.5 .9 1.5 .8 1.5 .6 1.5 .6 1.5 .5 1.5 .5 1.5 .6 1.5 .7 1.5 .6 1.5 .7 1.5 .8 1.5 .7 1.5 .6 1.5 .6 1.5 .6 1.5 .6 1.5 .6 1.5 .7 1.5 .8 1.5 .8 1.5 .9 1.5 .8 1.5 .8 1.5 .6 1.5 .6 1.5 .7 1.5 .7 1.5 .8 1.5 .8 1.5 .9 1.5 .8 1.5 .9 1.5 .9 1.5 .7 1.5 .7 1.5 .7 1.5 .6 1.5 .5 1.5 .6 1.5 .7 1.5 .6 1.5 .6 1.5 .4 1.5 .4 1.5 .4 1.5 .4 1.5 .4 1.5 .4 1.5 .5 1.5 .6 1.5 .7"/>
<path class="lb" stroke-opacity="0.43" d="M711 51l1.5 25 1.5 13.5 1.5 7.6 1.5 6.3 1.5 5.2 1.5 2.3 1.5 1.6 1.5 1.2 1.5 .9 1.5 .9 1.5 .7 1.5 .5 1.5 .5 1.5 .6 1.5 .7 1.5 .9 1.5 .9 1.5 .9 1.5 .6 1.5 .5 1.5 .3 1.5 .3 1.5 .4 1.5 .4 1.5 .4 1.5 .4 1.5 .4 1.5 .4 1.5 .3 1.5 .3 1.5 .2 1.5 .3 1.5 .3 1.5 .4 1.5 .5 1.5 .5 1.5 .6 1.5 .6 1.5 .5 1.5 .5 1.5 .5 1.5 .3 1.5 .2 1.5 .1 1.5 .1 1.5 .2 1.5 .3 1.5 .4 1.5 .2 1.5 .1 1.5-.2 1.5-.3 1.5-.4 1.5-.3 1.5-.3 1.5-.1 1.5-.1 1.5 0 1.5 0 1.5 .1 1.5 .2 1.5 .1 1.5 0 1.5-.1 1.5-.3 1.5-.4 1.5-.5 1.5-.4 1.5-.4 1.5-.3 1.5-.2 1.5-.2 1.5-.1 1.5-.1 1.5 .1 1.5 .2 1.5 .3 1.5 .2 1.5 .2 1.5 .2 1.5 .2 1.5 .2 1.5 .3 1.5 .3 1.5 .3 1.5 .4 1.5 .4 1.5 .5 1.5 .7 1.5 .9 1.5 1 1.5 1 1.5 .8 1.5 .7 1.5 .5 1.5 .5 1.5 .5 1.5 .5 1.5 .5 1.5 .3 1.5 .3 1.5 .3 1.5 .3 1.5 .4 1.5 .4 1.5 .5 1.5 .6 1.5 .5 1.5 .5 1.5 .4 1.5 .3 1.5 .2 1.5 .3 1.5 .3 1.5 .3 1.5 .4 1.5 .4 1.5 .5 1.5 .5 1.5 .6 1.5 .5 1.5 .4 1.5 .5 1.5 .5 1.5 .4 1.5 .3 1.5 .4 1.5 .4 1.5 .6 1.5 .6 1.5 .6 1.5 .6 1.5 .7 1.5 .5 1.5 .5 1.5 .5 1.5 .5 1.5 .5 1.5 .7 1.5 .7 1.5 .6 1.5 .5 1.5 .5 1.5 .5 1.5 .4 1.5 .6 1.5 .5 1.5 .7 1.5 .6 1.5 .5 1.5 .5 1.5 .6 1.5 .5 1.5 .5 1.5 .7 1.5 .7 1.5 .9 1.5 1 1.5 1 1.5 .8 1.5 .6 1.5 .5 1.5 .4 1.5 .5 1.5 .5 1.5 .5 1.5 .6 1.5 .6 1.5 .6 1.5 .6 1.5 .7 1.5 .7 1.5 .6 1.5 .5 1.5 .4 1.5 .6 1.5 .8 1.5 .9 1.5 .9 1.5 .7 1.5 .6 1.5 .3 1.5 .4 1.5 .6 1.5 .6 1.5 .7 1.5 .6 1.5 .6 1.5 .5 1.5 .7 1.5 .6 1.5 .6 1.5 .6 1.5 .5 1.5 .5 1.5 .6 1.5 .6 1.5 .6 1.5 .7 1.5 .8 1.5 .8 1.5 .8 1.5 .7 1.5 .6 1.5 .4 1.5 .5 1.5 .6 1.5 .8 1.5 .9 1.5 .7 1.5 .5 1.5 .4 1.5 .5 1.5 .4 1.5 .5 1.5 .4 1.5 .5 1.5 .7 1.5 .6 1.5 .5 1.5 .5 1.5 .3 1.5 .3 1.5 .3 1.5 .3 1.5 .2 1.5 .1 1.5 .2 1.5 .2 1.5 .3 1.5 .4 1.5 .3 1.5 .3 1.5 .2 1.5 0 1.5 .2 1.5 .2 1.5 .3 1.5 .5 1.5 .5 1.5 .5 1.5 .5 1.5 .6 1.5 .6 1.5 .6 1.5 .7 1.5 .7 1.5 .7 1.5 .9 1.5 .9 1.5 1 1.5 1.1 1.5 .9 1.5 .8 1.5 .6 1.5 .7 1.5 .7 1.5 .7 1.5 .8 1.5 .6 1.5 .7 1.5 .6 1.5 .7 1.5 .8 1.5 .8 1.5 .7 1.5 .6 1.5 .5 1.5 .5 1.5 .5 1.5 .7 1.5 .7 1.5 .7 1.5 .7 1.5 .8 1.5 .9 1.5 1 1.5 .9 1.5 1 1.5 .9 1.5 .9 1.5 1 1.5 .9 1.5 1 1.5 1 1.5 1 1.5 1 1.5 1 1.5 .9 1.5 .9 1.5 .9 1.5 1.1 1.5 1 1.5 1.1 1.5 1 1.5 .9 1.5 .9 1.5 .8 1.5 .9 1.5 .9 1.5 .9 1.5 .7 1.5 .7 1.5 .7 1.5 .8 1.5 .8 1.5 .7 1.5 .7 1.5 .6 1.5 .7 1.5 .7 1.5 .7 1.5 .9 1.5 .9 1.5 .9 1.5 .8 1.5 .7 1.5 .7 1.5 .5 1.5 .5 1.5 .5 1.5 .5 1.5 .7 1.5 .7 1.5 .7 1.5 .6 1.5 .4 1.5 .5 1.5 .5 1.5 .5 1.5 .7 1.5 .6 1.5 .5 1.5 .4 1.5 .4 1.5 .5 1.5 .6 1.5 .7 1.5 .6 1.5 .5 1.5 .4 1.5 .2 1.5 .3 1.5 .4 1.5 .6 1.5 .7 1.5 .7 1.5 .7 1.5 .6 1.5 .5 1.5 .5 1.5 .5 1.5 .6 1.5 .7 1.5 .7 1.5 .6 1.5 .6 1.5 .5 1.5 .5 1.5 .4 1.5 .4 1.5 .5 1.5 .6 1.5 .6 1.5 .6 1.5 .4 1.5 .5 1.5 .4 1.5 .5 1.5 .6 1.5 .5 1.5 .5"/>
<path class="lb" stroke-opacity="0.42" d="M711 40.8l1.5 25.3 1.5 13.7 1.5 7.7 1.5 6.3 1.5 5.1 1.5 2.2 1.5 1.4 1.5 1.1 1.5 .8 1.5 .9 1.5 .8 1.5 .6 1.5 .6 1.5 .6 1.5 .6 1.5 .8 1.5 .8 1.5 .9 1.5 .7 1.5 .7 1.5 .9 1.5 .9 1.5 .8 1.5 .6 1.5 .4 1.5 .5 1.5 .5 1.5 .8 1.5 .7 1.5 .7 1.5 .6 1.5 .5 1.5 .5 1.5 .6 1.5 .7 1.5 .8 1.5 .9 1.5 1 1.5 .9 1.5 .7 1.5 .7 1.5 .5 1.5 .5 1.5 .4 1.5 .5 1.5 .4 1.5 .3 1.5 .4 1.5 .4 1.5 .4 1.5 .3 1.5 .1 1.5 0 1.5 0 1.5-.3 1.5-.4 1.5-.3 1.5-.3 1.5-.4 1.5-.2 1.5-.1 1.5-.1 1.5 0 1.5 0 1.5-.1 1.5-.2 1.5-.5 1.5-.6 1.5-.6 1.5-.6 1.5-.5 1.5-.3 1.5-.2 1.5-.1 1.5-.1 1.5 0 1.5 0 1.5-.2 1.5-.1 1.5-.1 1.5 .1 1.5 .2 1.5 .3 1.5 .4 1.5 .5 1.5 .5 1.5 .5 1.5 .4 1.5 .5 1.5 .5 1.5 .5 1.5 .6 1.5 .6 1.5 .7 1.5 .9 1.5 .7 1.5 .7 1.5 .5 1.5 .6 1.5 .6 1.5 .8 1.5 .8 1.5 .8 1.5 .5 1.5 .5 1.5 .3 1.5 .4 1.5 .5 1.5 .5 1.5 .6 1.5 .6 1.5 .6 1.5 .5 1.5 .7 1.5 .6 1.5 .7 1.5 .7 1.5 .8 1.5 .7 1.5 .6 1.5 .6 1.5 .5 1.5 .7 1.5 .7 1.5 .7 1.5 .7 1.5 .6 1.5 .6 1.5 .5 1.5 .5 1.5 .5 1.5 .5 1.5 .6 1.5 .6 1.5 .6 1.5 .7 1.5 .7 1.5 .6 1.5 .4 1.5 .4 1.5 .3 1.5 .3 1.5 .4 1.5 .5 1.5 .5 1.5 .6 1.5 .6 1.5 .6 1.5 .6 1.5 .6 1.5 .5 1.5 .6 1.5 .5 1.5 .5 1.5 .5 1.5 .5 1.5 .4 1.5 .5 1.5 .5 1.5 .4 1.5 .4 1.5 .5 1.5 .6 1.5 .5 1.5 .5 1.5 .5 1.5 .6 1.5 .6 1.5 .5 1.5 .5 1.5 .4 1.5 .5 1.5 .6 1.5 .7 1.5 .8 1.5 .7 1.5 .8 1.5 .7 1.5 .9 1.5 .7 1.5 .7 1.5 .5 1.5 .6 1.5 .6 1.5 .6 1.5 .7 1.5 .6 1.5 .6 1.5 .4 1.5 .4 1.5 .3 1.5 .3 1.5 .5 1.5 .7 1.5 .8 1.5 .8 1.5 .8 1.5 .9 1.5 .8 1.5 .9 1.5 .7 1.5 .7 1.5 .7 1.5 .6 1.5 .5 1.5 .6 1.5 .7 1.5 .7 1.5 .7 1.5 .7 1.5 .5 1.5 .5 1.5 .4 1.5 .5 1.5 .6 1.5 .7 1.5 .8 1.5 .6 1.5 .5 1.5 .3 1.5 .2 1.5 .2 1.5 .1 1.5 .2 1.5 .4 1.5 .4 1.5 .7 1.5 .5 1.5 .5 1.5 .4 1.5 .2 1.5 .3 1.5 .2 1.5 .2 1.5 .3 1.5 .4 1.5 .5 1.5 .4 1.5 .4 1.5 .2 1.5 .2 1.5 .1 1.5 .2 1.5 .2 1.5 .2 1.5 .3 1.5 .4 1.5 .6 1.5 .7 1.5 .7 1.5 .6 1.5 .8 1.5 .8 1.5 .9 1.5 .9 1.5 .8 1.5 .8 1.5 .6 1.5 .5 1.5 .4 1.5 .4 1.5 .5 1.5 .6 1.5 .5 1.5 .5 1.5 .5 1.5 .5 1.5 .5 1.5 .5 1.5 .6 1.5 .6 1.5 .4 1.5 .5 1.5 .6 1.5 .6 1.5 .8 1.5 .8 1.5 .8 1.5 .9 1.5 .8 1.5 .8 1.5 .9 1.5 .9 1.5 .8 1.5 1 1.5 .9 1.5 1 1.5 1.1 1.5 1.2 1.5 1 1.5 .9 1.5 .8 1.5 .7 1.5 .9 1.5 1.1 1.5 1.1 1.5 .9 1.5 .9 1.5 .8 1.5 .9 1.5 .7 1.5 .8 1.5 .7 1.5 .8 1.5 .8 1.5 .7 1.5 .8 1.5 .8 1.5 1 1.5 1.1 1.5 1.2 1.5 1 1.5 .8 1.5 .7 1.5 .7 1.5 .8 1.5 .9 1.5 .9 1.5 .9 1.5 .8 1.5 .7 1.5 .6 1.5 .6 1.5 .9 1.5 1.1 1.5 1.1 1.5 1.1 1.5 .9 1.5 .7 1.5 .6 1.5 .5 1.5 .5 1.5 .4 1.5 .4 1.5 .3 1.5 .4 1.5 .5 1.5 .6 1.5 .7 1.5 .8 1.5 .7 1.5 .6 1.5 .6 1.5 .5 1.5 .5 1.5 .6 1.5 .5 1.5 .5 1.5 .5 1.5 .4 1.5 .4 1.5 .5 1.5 .5 1.5 .4 1.5 .5 1.5 .4 1.5 .6 1.5 .5 1.5 .7 1.5 .7 1.5 .7 1.5 .6 1.5 .5 1.5 .5 1.5 .4 1.5 .4 1.5 .5 1.5 .5 1.5 .5 1.5 .4 1.5 .6 1.5 .5"/>
<path class="lb" stroke-opacity="0.41" d="M711 45.6l1.5 26.2 1.5 14.2 1.5 8.1 1.5 6.7 1.5 5.4 1.5 2.4 1.5 1.4 1.5 1.1 1.5 .8 1.5 .8 1.5 .8 1.5 .6 1.5 .6 1.5 .6 1.5 .6 1.5 .6 1.5 .6 1.5 .6 1.5 .7 1.5 .6 1.5 .6 1.5 .6 1.5 .7 1.5 .7 1.5 .6 1.5 .6 1.5 .5 1.5 .4 1.5 .2 1.5 .2 1.5 .2 1.5 .2 1.5 .3 1.5 .3 1.5 .4 1.5 .7 1.5 .8 1.5 .8 1.5 .8 1.5 .7 1.5 .6 1.5 .4 1.5 .4 1.5 .3 1.5 .3 1.5 .2 1.5 .1 1.5 .1 1.5 .2 1.5 .3 1.5 .3 1.5 .3 1.5 .2 1.5 .1 1.5-.1 1.5-.1 1.5-.1 1.5-.2 1.5-.2 1.5-.2 1.5-.2 1.5-.2 1.5-.1 1.5 0 1.5 0 1.5 .1 1.5 .1 1.5 .1 1.5 0 1.5-.1 1.5-.2 1.5-.2 1.5-.2 1.5-.1 1.5 0 1.5 .2 1.5 .2 1.5 .3 1.5 .3 1.5 .4 1.5 .5 1.5 .5 1.5 .6 1.5 .6 1.5 .6 1.5 .7 1.5 .7 1.5 .7 1.5 .7 1.5 .7 1.5 .8 1.5 .8 1.5 .9 1.5 .9 1.5 .9 1.5 .9 1.5 .9 1.5 .9 1.5 .7 1.5 .6 1.5 .6 1.5 .7 1.5 .7 1.5 .7 1.5 .5 1.5 .5 1.5 .5 1.5 .6 1.5 .6 1.5 .5 1.5 .5 1.5 .4 1.5 .4 1.5 .4 1.5 .4 1.5 .3 1.5 .5 1.5 .4 1.5 .4 1.5 .3 1.5 .3 1.5 .2 1.5 .2 1.5 .3 1.5 .4 1.5 .4 1.5 .4 1.5 .4 1.5 .4 1.5 .4 1.5 .5 1.5 .5 1.5 .5 1.5 .3 1.5 .3 1.5 .3 1.5 .3 1.5 .4 1.5 .3 1.5 .4 1.5 .4 1.5 .5 1.5 .5 1.5 .6 1.5 .4 1.5 .5 1.5 .4 1.5 .3 1.5 .3 1.5 .4 1.5 .5 1.5 .4 1.5 .4 1.5 .3 1.5 .3 1.5 .3 1.5 .4 1.5 .4 1.5 .4 1.5 .3 1.5 .3 1.5 .2 1.5 .3 1.5 .4 1.5 .5 1.5 .7 1.5 .6 1.5 .7 1.5 .6 1.5 .5 1.5 .4 1.5 .5 1.5 .5 1.5 .4 1.5 .5 1.5 .4 1.5 .5 1.5 .5 1.5 .6 1.5 .8 1.5 .7 1.5 .7 1.5 .6 1.5 .4 1.5 .4 1.5 .4 1.5 .5 1.5 .7 1.5 .6 1.5 .6 1.5 .6 1.5 .7 1.5 .7 1.5 .7 1.5 .8 1.5 .7 1.5 .7 1.5 .4 1.5 .5 1.5 .6 1.5 .7 1.5 .9 1.5 .8 1.5 .9 1.5 .7 1.5 .7 1.5 .7 1.5 .7 1.5 .7 1.5 .8 1.5 .7 1.5 .7 1.5 .5 1.5 .4 1.5 .3 1.5 .4 1.5 .5 1.5 .6 1.5 .7 1.5 .7 1.5 .7 1.5 .6 1.5 .6 1.5 .6 1.5 .6 1.5 .4 1.5 .4 1.5 .3 1.5 .2 1.5 .2 1.5 .3 1.5 .2 1.5 .3 1.5 .2 1.5 .3 1.5 .4 1.5 .4 1.5 .5 1.5 .6 1.5 .6 1.5 .6 1.5 .5 1.5 .5 1.5 .4 1.5 .5 1.5 .5 1.5 .5 1.5 .6 1.5 .7 1.5 .9 1.5 .9 1.5 1.1 1.5 .9 1.5 .9 1.5 .9 1.5 .8 1.5 .8 1.5 .7 1.5 .7 1.5 .6 1.5 .6 1.5 .6 1.5 .6 1.5 .5 1.5 .7 1.5 .7 1.5 .9 1.5 .9 1.5 .8 1.5 .7 1.5 .7 1.5 .6 1.5 .7 1.5 .7 1.5 .6 1.5 .6 1.5 .6 1.5 .7 1.5 .9 1.5 .8 1.5 .9 1.5 .9 1.5 1 1.5 1.1 1.5 1.2 1.5 1.1 1.5 .9 1.5 .8 1.5 .7 1.5 .8 1.5 .9 1.5 1 1.5 1.1 1.5 1 1.5 .8 1.5 .8 1.5 .6 1.5 .7 1.5 .8 1.5 .7 1.5 .7 1.5 .8 1.5 .8 1.5 .6 1.5 .7 1.5 .6 1.5 .7 1.5 .8 1.5 .7 1.5 .8 1.5 .7 1.5 .7 1.5 .8 1.5 .7 1.5 .7 1.5 .7 1.5 .7 1.5 .7 1.5 .7 1.5 .7 1.5 .7 1.5 .7 1.5 .6 1.5 .7 1.5 .6 1.5 .6 1.5 .6 1.5 .6 1.5 .6 1.5 .6 1.5 .6 1.5 .4 1.5 .4 1.5 .4 1.5 .4 1.5 .5 1.5 .5 1.5 .7 1.5 .8 1.5 .8 1.5 .6 1.5 .6 1.5 .5 1.5 .5 1.5 .5 1.5 .6 1.5 .7 1.5 .8 1.5 .8 1.5 .8 1.5 .8 1.5 .7 1.5 .8 1.5 .7 1.5 .7 1.5 .6 1.5 .5 1.5 .4 1.5 .6 1.5 .5 1.5 .6 1.5 .6 1.5 .6 1.5 .6 1.5 .6 1.5 .6 1.5 .7 1.5 .7 1.5 .8 1.5 .8 1.5 .8 1.5 .8"/>
<path class="lb" stroke-opacity="0.40" d="M711 44.4l1.5 26.6 1.5 14.3 1.5 8 1.5 6.6 1.5 5.4 1.5 2.7 1.5 1.8 1.5 1.3 1.5 1 1.5 .7 1.5 .6 1.5 .5 1.5 .5 1.5 .5 1.5 .6 1.5 .6 1.5 .5 1.5 .5 1.5 .6 1.5 .6 1.5 .7 1.5 .8 1.5 .7 1.5 .5 1.5 .6 1.5 .4 1.5 .5 1.5 .4 1.5 .3 1.5 .3 1.5 .3 1.5 .1 1.5 .2 1.5 .3 1.5 .3 1.5 .6 1.5 .5 1.5 .5 1.5 .4 1.5 .4 1.5 .4 1.5 .6 1.5 .5 1.5 .6 1.5 .4 1.5 .4 1.5 .3 1.5 .1 1.5-.1 1.5-.2 1.5-.1 1.5 0 1.5 .1 1.5 .2 1.5-.1 1.5-.2 1.5-.3 1.5-.3 1.5-.1 1.5-.1 1.5-.1 1.5-.2 1.5-.2 1.5-.1 1.5-.2 1.5-.1 1.5-.3 1.5-.4 1.5-.3 1.5-.1 1.5 0 1.5 .1 1.5 .1 1.5-.1 1.5 0 1.5 .1 1.5 .1 1.5 .2 1.5 .1 1.5 .3 1.5 .2 1.5 .4 1.5 .4 1.5 .5 1.5 .6 1.5 .6 1.5 .7 1.5 .6 1.5 .7 1.5 .8 1.5 .8 1.5 .8 1.5 .7 1.5 .7 1.5 .6 1.5 .7 1.5 .7 1.5 .7 1.5 .6 1.5 .6 1.5 .4 1.5 .4 1.5 .3 1.5 .5 1.5 .8 1.5 .9 1.5 .9 1.5 .8 1.5 .5 1.5 .4 1.5 .2 1.5 .3 1.5 .3 1.5 .5 1.5 .8 1.5 .7 1.5 .6 1.5 .5 1.5 .2 1.5 .2 1.5 .2 1.5 .2 1.5 .4 1.5 .5 1.5 .7 1.5 .6 1.5 .7 1.5 .5 1.5 .5 1.5 .5 1.5 .4 1.5 .5 1.5 .4 1.5 .5 1.5 .5 1.5 .5 1.5 .7 1.5 .7 1.5 .6 1.5 .7 1.5 .5 1.5 .5 1.5 .5 1.5 .4 1.5 .4 1.5 .5 1.5 .6 1.5 .5 1.5 .4 1.5 .4 1.5 .4 1.5 .4 1.5 .5 1.5 .6 1.5 .6 1.5 .6 1.5 .6 1.5 .7 1.5 .7 1.5 .7 1.5 .6 1.5 .6 1.5 .5 1.5 .5 1.5 .6 1.5 .5 1.5 .6 1.5 .6 1.5 .5 1.5 .5 1.5 .6 1.5 .6 1.5 .8 1.5 .8 1.5 .8 1.5 .7 1.5 .7 1.5 .7 1.5 .7 1.5 .7 1.5 .6 1.5 .5 1.5 .6 1.5 .6 1.5 .6 1.5 .6 1.5 .6 1.5 .6 1.5 .5 1.5 .6 1.5 .7 1.5 .6 1.5 .5 1.5 .5 1.5 .5 1.5 .5 1.5 .5 1.5 .5 1.5 .6 1.5 .6 1.5 .6 1.5 .8 1.5 .7 1.5 .7 1.5 .5 1.5 .5 1.5 .4 1.5 .4 1.5 .6 1.5 .7 1.5 .7 1.5 .5 1.5 .5 1.5 .3 1.5 .3 1.5 .3 1.5 .2 1.5 .3 1.5 .3 1.5 .3 1.5 .3 1.5 .3 1.5 .2 1.5 .2 1.5 .2 1.5 .2 1.5 .3 1.5 .3 1.5 .4 1.5 .4 1.5 .3 1.5 .4 1.5 .3 1.5 .3 1.5 .4 1.5 .6 1.5 .7 1.5 .5 1.5 .4 1.5 .2 1.5 .2 1.5 .3 1.5 .3 1.5 .4 1.5 .6 1.5 .7 1.5 .7 1.5 .6 1.5 .6 1.5 .7 1.5 .7 1.5 .9 1.5 .9 1.5 .9 1.5 .9 1.5 .9 1.5 1 1.5 1 1.5 1 1.5 1 1.5 .8 1.5 .9 1.5 .7 1.5 .8 1.5 .8 1.5 .6 1.5 .6 1.5 .6 1.5 .6 1.5 .7 1.5 .8 1.5 .8 1.5 .8 1.5 .9 1.5 .9 1.5 .9 1.5 1 1.5 1 1.5 1 1.5 1 1.5 1 1.5 1 1.5 1.1 1.5 1 1.5 1 1.5 .9 1.5 .8 1.5 1 1.5 1.1 1.5 1.2 1.5 1.1 1.5 1 1.5 .8 1.5 .8 1.5 .8 1.5 .9 1.5 1 1.5 .9 1.5 .8 1.5 .7 1.5 .7 1.5 .6 1.5 .6 1.5 .6 1.5 .6 1.5 .7 1.5 .7 1.5 .8 1.5 .8 1.5 .7 1.5 .7 1.5 .6 1.5 .6 1.5 .5 1.5 .6 1.5 .7 1.5 .7 1.5 .7 1.5 .5 1.5 .5 1.5 .4 1.5 .4 1.5 .3 1.5 .5 1.5 .6 1.5 .7 1.5 .6 1.5 .6 1.5 .5 1.5 .5 1.5 .5 1.5 .6 1.5 .5 1.5 .5 1.5 .4 1.5 .4 1.5 .2 1.5 .2 1.5 .2 1.5 .4 1.5 .6 1.5 .6 1.5 .7 1.5 .6 1.5 .6 1.5 .5 1.5 .6 1.5 .5 1.5 .6 1.5 .4 1.5 .4 1.5 .4 1.5 .5 1.5 .6 1.5 .9 1.5 .9 1.5 1 1.5 .8 1.5 .7 1.5 .6 1.5 .5 1.5 .4 1.5 .4 1.5 .6 1.5 .6 1.5 .7 1.5 .7 1.5 .7 1.5 .5 1.5 .5 1.5 .5 1.5 .5"/>
<path class="lb" stroke-opacity="0.39" d="M711 47.8l1.5 27.7 1.5 14.9 1.5 8.2 1.5 6.6 1.5 5.3 1.5 2.5 1.5 1.6 1.5 1.2 1.5 1 1.5 .9 1.5 .9 1.5 .8 1.5 .8 1.5 .7 1.5 .9 1.5 .9 1.5 .8 1.5 .7 1.5 .6 1.5 .5 1.5 .6 1.5 .8 1.5 .7 1.5 .7 1.5 .5 1.5 .5 1.5 .4 1.5 .4 1.5 .4 1.5 .5 1.5 .6 1.5 .8 1.5 .8 1.5 .8 1.5 .7 1.5 .6 1.5 .5 1.5 .4 1.5 .4 1.5 .4 1.5 .4 1.5 .4 1.5 .4 1.5 .4 1.5 .2 1.5 .1 1.5 .1 1.5 .2 1.5 .2 1.5 .1 1.5 .2 1.5 0 1.5 0 1.5-.2 1.5-.3 1.5-.4 1.5-.3 1.5-.2 1.5-.2 1.5-.3 1.5-.3 1.5-.2 1.5-.3 1.5-.1 1.5 0 1.5 .1 1.5 0 1.5-.1 1.5-.3 1.5-.3 1.5-.4 1.5-.2 1.5-.2 1.5-.1 1.5-.1 1.5 0 1.5 0 1.5 .3 1.5 .4 1.5 .4 1.5 .3 1.5 .2 1.5 .1 1.5 .1 1.5 .1 1.5 .2 1.5 .4 1.5 .6 1.5 .7 1.5 .7 1.5 .7 1.5 .7 1.5 .6 1.5 .6 1.5 .6 1.5 .6 1.5 .6 1.5 .4 1.5 .5 1.5 .6 1.5 .7 1.5 .9 1.5 .8 1.5 .7 1.5 .5 1.5 .5 1.5 .4 1.5 .4 1.5 .4 1.5 .4 1.5 .4 1.5 .5 1.5 .4 1.5 .5 1.5 .5 1.5 .5 1.5 .5 1.5 .4 1.5 .3 1.5 .4 1.5 .4 1.5 .4 1.5 .5 1.5 .5 1.5 .6 1.5 .6 1.5 .7 1.5 .6 1.5 .6 1.5 .5 1.5 .6 1.5 .6 1.5 .8 1.5 .7 1.5 .6 1.5 .7 1.5 .6 1.5 .5 1.5 .6 1.5 .4 1.5 .4 1.5 .4 1.5 .6 1.5 .7 1.5 .8 1.5 .9 1.5 .8 1.5 .7 1.5 .6 1.5 .5 1.5 .6 1.5 .6 1.5 .5 1.5 .5 1.5 .5 1.5 .5 1.5 .5 1.5 .6 1.5 .7 1.5 .7 1.5 .8 1.5 .8 1.5 .6 1.5 .4 1.5 .3 1.5 .2 1.5 .2 1.5 .4 1.5 .6 1.5 .8 1.5 .9 1.5 .8 1.5 .6 1.5 .4 1.5 .5 1.5 .6 1.5 .7 1.5 .8 1.5 .8 1.5 .7 1.5 .7 1.5 .8 1.5 .6 1.5 .6 1.5 .5 1.5 .5 1.5 .5 1.5 .6 1.5 .8 1.5 .9 1.5 .8 1.5 .7 1.5 .5 1.5 .6 1.5 .5 1.5 .6 1.5 .5 1.5 .6 1.5 .7 1.5 .9 1.5 .9 1.5 .9 1.5 .7 1.5 .6 1.5 .6 1.5 .6 1.5 .7 1.5 .7 1.5 .7 1.5 .7 1.5 .6 1.5 .6 1.5 .6 1.5 .6 1.5 .6 1.5 .5 1.5 .4 1.5 .3 1.5 .3 1.5 .5 1.5 .5 1.5 .5 1.5 .6 1.5 .6 1.5 .4 1.5 .3 1.5 .1 1.5 .1 1.5 .2 1.5 .2 1.5 .2 1.5 .3 1.5 .2 1.5 .2 1.5 .2 1.5 .4 1.5 .5 1.5 .4 1.5 .3 1.5 .4 1.5 .4 1.5 .4 1.5 .5 1.5 .4 1.5 .4 1.5 .5 1.5 .6 1.5 .6 1.5 .7 1.5 .8 1.5 .8 1.5 .6 1.5 .6 1.5 .5 1.5 .6 1.5 .7 1.5 .9 1.5 .9 1.5 .8 1.5 .7 1.5 .7 1.5 .5 1.5 .5 1.5 .5 1.5 .5 1.5 .6 1.5 .6 1.5 .6 1.5 .6 1.5 .6 1.5 .7 1.5 .7 1.5 .7 1.5 .7 1.5 .7 1.5 .7 1.5 .8 1.5 .8 1.5 .9 1.5 1 1.5 1 1.5 .9 1.5 .8 1.5 .8 1.5 .8 1.5 .8 1.5 .8 1.5 .9 1.5 .8 1.5 .8 1.5 .9 1.5 .9 1.5 1 1.5 1.1 1.5 1 1.5 1 1.5 .8 1.5 .8 1.5 .6 1.5 .5 1.5 .6 1.5 .5 1.5 .7 1.5 .9 1.5 1 1.5 .9 1.5 .9 1.5 .8 1.5 .7 1.5 .6 1.5 .6 1.5 .7 1.5 .7 1.5 .8 1.5 .7 1.5 .6 1.5 .5 1.5 .6 1.5 .7 1.5 .7 1.5 .8 1.5 .6 1.5 .4 1.5 .3 1.5 .4 1.5 .4 1.5 .6 1.5 .5 1.5 .3 1.5 .2 1.5 .2 1.5 .3 1.5 .4 1.5 .5 1.5 .7 1.5 .8 1.5 .7 1.5 .7 1.5 .5 1.5 .5 1.5 .5 1.5 .5 1.5 .5 1.5 .4 1.5 .5 1.5 .5 1.5 .5 1.5 .5 1.5 .5 1.5 .6 1.5 .6 1.5 .7 1.5 .6 1.5 .6 1.5 .4 1.5 .5 1.5 .6 1.5 .7 1.5 .8 1.5 .7 1.5 .6 1.5 .5 1.5 .5 1.5 .6 1.5 .6 1.5 .6 1.5 .5 1.5 .5 1.5 .5 1.5 .4 1.5 .4 1.5 .4"/>
<path class="lb" stroke-opacity="0.38" d="M711 47.3l1.5 28.3 1.5 15.2 1.5 8.5 1.5 6.6 1.5 5.2 1.5 2.4 1.5 1.4 1.5 1.2 1.5 1 1.5 .9 1.5 .8 1.5 .7 1.5 .6 1.5 .6 1.5 .6 1.5 .4 1.5 .5 1.5 .6 1.5 .7 1.5 .8 1.5 .8 1.5 .6 1.5 .5 1.5 .5 1.5 .4 1.5 .5 1.5 .5 1.5 .6 1.5 .4 1.5 .3 1.5 .2 1.5 .2 1.5 .2 1.5 .4 1.5 .5 1.5 .7 1.5 .7 1.5 .6 1.5 .6 1.5 .6 1.5 .6 1.5 .5 1.5 .4 1.5 .3 1.5 .2 1.5 .2 1.5 .1 1.5 .2 1.5 .2 1.5 .3 1.5 .4 1.5 .3 1.5 .1 1.5 .1 1.5 .1 1.5 0 1.5-.1 1.5-.2 1.5-.3 1.5-.4 1.5-.3 1.5-.3 1.5 0 1.5 .1 1.5 .2 1.5 .2 1.5 .2 1.5-.1 1.5-.1 1.5-.1 1.5-.2 1.5-.1 1.5 0 1.5-.1 1.5 .1 1.5 .1 1.5 .3 1.5 .4 1.5 .4 1.5 .4 1.5 .4 1.5 .3 1.5 .6 1.5 .6 1.5 .8 1.5 .7 1.5 .7 1.5 .6 1.5 .6 1.5 .6 1.5 .6 1.5 .6 1.5 .5 1.5 .6 1.5 .6 1.5 .7 1.5 .8 1.5 .6 1.5 .7 1.5 .5 1.5 .5 1.5 .3 1.5 .3 1.5 .4 1.5 .4 1.5 .5 1.5 .5 1.5 .4 1.5 .3 1.5 .3 1.5 .3 1.5 .5 1.5 .6 1.5 .5 1.5 .5 1.5 .4 1.5 .3 1.5 .4 1.5 .3 1.5 .4 1.5 .4 1.5 .4 1.5 .4 1.5 .4 1.5 .3 1.5 .3 1.5 .4 1.5 .5 1.5 .4 1.5 .6 1.5 .5 1.5 .6 1.5 .4 1.5 .4 1.5 .3 1.5 .3 1.5 .3 1.5 .4 1.5 .5 1.5 .4 1.5 .4 1.5 .4 1.5 .4 1.5 .5 1.5 .6 1.5 .5 1.5 .6 1.5 .6 1.5 .5 1.5 .5 1.5 .5 1.5 .4 1.5 .4 1.5 .4 1.5 .3 1.5 .4 1.5 .4 1.5 .6 1.5 .6 1.5 .7 1.5 .8 1.5 .9 1.5 .7 1.5 .6 1.5 .4 1.5 .3 1.5 .3 1.5 .4 1.5 .5 1.5 .5 1.5 .6 1.5 .7 1.5 .7 1.5 .7 1.5 .8 1.5 .7 1.5 .7 1.5 .7 1.5 .6 1.5 .6 1.5 .7 1.5 .8 1.5 .7 1.5 .6 1.5 .6 1.5 .7 1.5 .8 1.5 .8 1.5 .9 1.5 .9 1.5 .9 1.5 .8 1.5 .7 1.5 .8 1.5 .7 1.5 .8 1.5 .8 1.5 .9 1.5 .8 1.5 .9 1.5 .7 1.5 .6 1.5 .7 1.5 .7 1.5 .9 1.5 .9 1.5 .9 1.5 .8 1.5 .7 1.5 .7 1.5 .8 1.5 .8 1.5 .8 1.5 .6 1.5 .5 1.5 .4 1.5 .4 1.5 .3 1.5 .5 1.5 .5 1.5 .8 1.5 .8 1.5 .7 1.5 .7 1.5 .5 1.5 .4 1.5 .4 1.5 .3 1.5 .2 1.5 .2 1.5 .1 1.5 .2 1.5 .3 1.5 .3 1.5 .3 1.5 .4 1.5 .6 1.5 .6 1.5 .6 1.5 .3 1.5 .2 1.5 .1 1.5 .1 1.5 .4 1.5 .4 1.5 .5 1.5 .6 1.5 .5 1.5 .7 1.5 .7 1.5 .7 1.5 .6 1.5 .6 1.5 .6 1.5 .8 1.5 .8 1.5 .7 1.5 .6 1.5 .6 1.5 .5 1.5 .6 1.5 .4 1.5 .3 1.5 .2 1.5 .1 1.5 .3 1.5 .3 1.5 .5 1.5 .5 1.5 .6 1.5 .6 1.5 .6 1.5 .5 1.5 .5 1.5 .4 1.5 .6 1.5 .6 1.5 .6 1.5 .6 1.5 .6 1.5 .8 1.5 .8 1.5 .9 1.5 .8 1.5 .9 1.5 .8 1.5 .8 1.5 .7 1.5 .8 1.5 .7 1.5 .7 1.5 .7 1.5 .7 1.5 .8 1.5 .9 1.5 .9 1.5 .8 1.5 .8 1.5 .6 1.5 .6 1.5 .7 1.5 1 1.5 1.2 1.5 1.2 1.5 1 1.5 1 1.5 .9 1.5 .7 1.5 .7 1.5 .5 1.5 .6 1.5 .5 1.5 .5 1.5 .8 1.5 .8 1.5 .9 1.5 .9 1.5 .9 1.5 .7 1.5 .7 1.5 .7 1.5 .6 1.5 .5 1.5 .6 1.5 .7 1.5 .7 1.5 .8 1.5 .8 1.5 .6 1.5 .5 1.5 .4 1.5 .4 1.5 .7 1.5 .8 1.5 1 1.5 .9 1.5 .7 1.5 .5 1.5 .4 1.5 .3 1.5 .5 1.5 .7 1.5 .7 1.5 .7 1.5 .5 1.5 .4 1.5 .3 1.5 .4 1.5 .5 1.5 .6 1.5 .8 1.5 .9 1.5 .8 1.5 .8 1.5 .6 1.5 .5 1.5 .5 1.5 .5 1.5 .7 1.5 .6 1.5 .7 1.5 .6 1.5 .6 1.5 .6 1.5 .6 1.5 .6 1.5 .5 1.5 .5 1.5 .3 1.5 .4 1.5 .5 1.5 .4"/>
<path class="lb" stroke-opacity="0.36" d="M711 46l1.5 29.1 1.5 15.8 1.5 8.9 1.5 7.1 1.5 5.5 1.5 2.6 1.5 1.5 1.5 1 1.5 .8 1.5 .8 1.5 1 1.5 .9 1.5 1 1.5 .9 1.5 .8 1.5 .7 1.5 .5 1.5 .6 1.5 .5 1.5 .6 1.5 .7 1.5 .7 1.5 .7 1.5 .6 1.5 .5 1.5 .6 1.5 .5 1.5 .6 1.5 .4 1.5 .4 1.5 .4 1.5 .5 1.5 .8 1.5 .8 1.5 .9 1.5 .8 1.5 .6 1.5 .5 1.5 .3 1.5 .2 1.5 .2 1.5 .3 1.5 .4 1.5 .5 1.5 .6 1.5 .5 1.5 .5 1.5 .3 1.5 .3 1.5 .3 1.5 .1 1.5 .2 1.5 .2 1.5 .2 1.5 .1 1.5 0 1.5 .1 1.5 0 1.5 .1 1.5 0 1.5 .1 1.5 .2 1.5 .1 1.5 .1 1.5-.1 1.5-.2 1.5-.3 1.5-.2 1.5-.3 1.5-.2 1.5-.2 1.5 0 1.5-.1 1.5-.1 1.5-.1 1.5-.2 1.5-.1 1.5 0 1.5 .3 1.5 .3 1.5 .5 1.5 .4 1.5 .3 1.5 .3 1.5 .4 1.5 .5 1.5 .5 1.5 .6 1.5 .6 1.5 .6 1.5 .6 1.5 .5 1.5 .4 1.5 .4 1.5 .5 1.5 .5 1.5 .5 1.5 .5 1.5 .4 1.5 .4 1.5 .4 1.5 .4 1.5 .5 1.5 .5 1.5 .4 1.5 .4 1.5 .3 1.5 .3 1.5 .2 1.5 .4 1.5 .4 1.5 .4 1.5 .4 1.5 .3 1.5 .3 1.5 .3 1.5 .3 1.5 .3 1.5 .3 1.5 .4 1.5 .4 1.5 .4 1.5 .5 1.5 .4 1.5 .4 1.5 .3 1.5 .3 1.5 .5 1.5 .6 1.5 .6 1.5 .5 1.5 .6 1.5 .5 1.5 .4 1.5 .4 1.5 .2 1.5 .3 1.5 .3 1.5 .3 1.5 .4 1.5 .4 1.5 .5 1.5 .6 1.5 .7 1.5 .5 1.5 .4 1.5 .4 1.5 .4 1.5 .5 1.5 .5 1.5 .4 1.5 .4 1.5 .4 1.5 .4 1.5 .5 1.5 .6 1.5 .7 1.5 .7 1.5 .7 1.5 .6 1.5 .6 1.5 .5 1.5 .5 1.5 .5 1.5 .5 1.5 .5 1.5 .5 1.5 .6 1.5 .6 1.5 .4 1.5 .4 1.5 .3 1.5 .3 1.5 .5 1.5 .5 1.5 .6 1.5 .6 1.5 .6 1.5 .6 1.5 .6 1.5 .5 1.5 .6 1.5 .6 1.5 .7 1.5 .6 1.5 .6 1.5 .7 1.5 .6 1.5 .7 1.5 .7 1.5 .7 1.5 .6 1.5 .5 1.5 .6 1.5 .7 1.5 .8 1.5 .9 1.5 .9 1.5 .8 1.5 .7 1.5 .8 1.5 .7 1.5 .7 1.5 .6 1.5 .6 1.5 .7 1.5 .8 1.5 .9 1.5 .9 1.5 .7 1.5 .6 1.5 .6 1.5 .7 1.5 .7 1.5 .6 1.5 .6 1.5 .5 1.5 .5 1.5 .3 1.5 .5 1.5 .4 1.5 .5 1.5 .6 1.5 .5 1.5 .6 1.5 .6 1.5 .5 1.5 .5 1.5 .2 1.5 .2 1.5 .1 1.5 .2 1.5 .2 1.5 .4 1.5 .4 1.5 .5 1.5 .5 1.5 .6 1.5 .5 1.5 .6 1.5 .4 1.5 .4 1.5 .2 1.5 .2 1.5 .3 1.5 .3 1.5 .5 1.5 .6 1.5 .8 1.5 .8 1.5 .8 1.5 .8 1.5 .9 1.5 .7 1.5 .7 1.5 .6 1.5 .6 1.5 .5 1.5 .5 1.5 .5 1.5 .4 1.5 .4 1.5 .2 1.5 .4 1.5 .5 1.5 .8 1.5 .9 1.5 .8 1.5 .8 1.5 .5 1.5 .4 1.5 .4 1.5 .4 1.5 .5 1.5 .7 1.5 .7 1.5 .8 1.5 .9 1.5 .8 1.5 .7 1.5 .8 1.5 .8 1.5 .9 1.5 .9 1.5 .9 1.5 .8 1.5 .7 1.5 .6 1.5 .6 1.5 .7 1.5 .7 1.5 .8 1.5 .7 1.5 .8 1.5 .8 1.5 .8 1.5 .9 1.5 .9 1.5 .9 1.5 .9 1.5 .9 1.5 .9 1.5 .8 1.5 .9 1.5 .8 1.5 .8 1.5 .7 1.5 .7 1.5 .6 1.5 .7 1.5 .8 1.5 .7 1.5 .7 1.5 .7 1.5 .9 1.5 .9 1.5 .9 1.5 .9 1.5 .7 1.5 .8 1.5 .7 1.5 .8 1.5 .7 1.5 .7 1.5 .8 1.5 .7 1.5 .9 1.5 .9 1.5 .8 1.5 .7 1.5 .5 1.5 .6 1.5 .5 1.5 .7 1.5 .7 1.5 .7 1.5 .7 1.5 .7 1.5 .6 1.5 .5 1.5 .5 1.5 .5 1.5 .5 1.5 .6 1.5 .8 1.5 .9 1.5 1 1.5 1 1.5 .9 1.5 .9 1.5 .7 1.5 .5 1.5 .5 1.5 .3 1.5 .4 1.5 .5 1.5 .6 1.5 .7 1.5 .7 1.5 .6 1.5 .7 1.5 .7 1.5 .7 1.5 .8 1.5 .7 1.5 .6 1.5 .6 1.5 .4 1.5 .4 1.5 .3 1.5 .3 1.5 .5"/>
<path class="lb" stroke-opacity="0.35" d="M711 49.6l1.5 29.6 1.5 15.6 1.5 8.7 1.5 6.6 1.5 5.2 1.5 2.5 1.5 1.6 1.5 1.2 1.5 1.1 1.5 .9 1.5 .9 1.5 .7 1.5 .7 1.5 .6 1.5 .5 1.5 .7 1.5 .7 1.5 .7 1.5 .6 1.5 .6 1.5 .4 1.5 .4 1.5 .3 1.5 .3 1.5 .4 1.5 .5 1.5 .6 1.5 .5 1.5 .4 1.5 .4 1.5 .3 1.5 .3 1.5 .3 1.5 .3 1.5 .5 1.5 .5 1.5 .5 1.5 .4 1.5 .4 1.5 .3 1.5 .3 1.5 .2 1.5 .2 1.5 .2 1.5 .2 1.5 .2 1.5 .1 1.5 0 1.5 .1 1.5-.1 1.5-.1 1.5-.2 1.5-.2 1.5-.2 1.5-.3 1.5-.2 1.5-.2 1.5-.2 1.5-.1 1.5 .1 1.5 .1 1.5 0 1.5-.2 1.5-.4 1.5-.4 1.5-.4 1.5-.4 1.5-.2 1.5-.1 1.5-.1 1.5 0 1.5 .1 1.5 0 1.5 0 1.5 0 1.5 0 1.5 0 1.5 0 1.5 .1 1.5 .2 1.5 .2 1.5 .4 1.5 .4 1.5 .6 1.5 .6 1.5 .6 1.5 .6 1.5 .4 1.5 .5 1.5 .5 1.5 .6 1.5 .9 1.5 1 1.5 1.1 1.5 1 1.5 .9 1.5 .8 1.5 .7 1.5 .5 1.5 .5 1.5 .4 1.5 .5 1.5 .7 1.5 .8 1.5 .8 1.5 .7 1.5 .7 1.5 .6 1.5 .7 1.5 .7 1.5 .7 1.5 .7 1.5 .6 1.5 .7 1.5 .6 1.5 .6 1.5 .7 1.5 .7 1.5 .6 1.5 .7 1.5 .7 1.5 .6 1.5 .7 1.5 .6 1.5 .6 1.5 .4 1.5 .3 1.5 .4 1.5 .4 1.5 .5 1.5 .7 1.5 .8 1.5 .7 1.5 .6 1.5 .5 1.5 .3 1.5 .3 1.5 .4 1.5 .4 1.5 .5 1.5 .5 1.5 .4 1.5 .5 1.5 .4 1.5 .3 1.5 .2 1.5 .4 1.5 .4 1.5 .4 1.5 .4 1.5 .5 1.5 .5 1.5 .6 1.5 .5 1.5 .6 1.5 .4 1.5 .4 1.5 .4 1.5 .3 1.5 .3 1.5 .2 1.5 .4 1.5 .4 1.5 .5 1.5 .6 1.5 .5 1.5 .5 1.5 .5 1.5 .4 1.5 .5 1.5 .5 1.5 .6 1.5 .6 1.5 .7 1.5 .7 1.5 .7 1.5 .7 1.5 .6 1.5 .6 1.5 .6 1.5 .4 1.5 .4 1.5 .5 1.5 .6 1.5 .7 1.5 .8 1.5 .8 1.5 .8 1.5 .7 1.5 .5 1.5 .5 1.5 .4 1.5 .5 1.5 .6 1.5 .8 1.5 .8 1.5 .9 1.5 .8 1.5 .7 1.5 .7 1.5 .8 1.5 .7 1.5 .7 1.5 .6 1.5 .6 1.5 .7 1.5 .6 1.5 .7 1.5 .8 1.5 .7 1.5 .6 1.5 .5 1.5 .5 1.5 .5 1.5 .5 1.5 .6 1.5 .5 1.5 .5 1.5 .4 1.5 .4 1.5 .3 1.5 .4 1.5 .4 1.5 .3 1.5 .4 1.5 .2 1.5 .3 1.5 .4 1.5 .4 1.5 .5 1.5 .5 1.5 .6 1.5 .4 1.5 .5 1.5 .4 1.5 .3 1.5 .2 1.5 .2 1.5 .2 1.5 .1 1.5 .3 1.5 .3 1.5 .3 1.5 .4 1.5 .5 1.5 .5 1.5 .7 1.5 .7 1.5 .8 1.5 .8 1.5 .8 1.5 .7 1.5 .8 1.5 .9 1.5 .8 1.5 .8 1.5 .8 1.5 .7 1.5 .7 1.5 .7 1.5 .7 1.5 .5 1.5 .4 1.5 .3 1.5 .4 1.5 .4 1.5 .5 1.5 .6 1.5 .7 1.5 .8 1.5 .8 1.5 .8 1.5 .7 1.5 .7 1.5 .7 1.5 .7 1.5 .7 1.5 .8 1.5 1 1.5 1 1.5 .9 1.5 .8 1.5 .7 1.5 .9 1.5 .9 1.5 .9 1.5 .9 1.5 1 1.5 1 1.5 1.1 1.5 1.1 1.5 1 1.5 .8 1.5 .7 1.5 .6 1.5 .7 1.5 .6 1.5 .8 1.5 .9 1.5 .9 1.5 .9 1.5 .9 1.5 .8 1.5 .9 1.5 .9 1.5 .7 1.5 .7 1.5 .6 1.5 .5 1.5 .5 1.5 .6 1.5 .5 1.5 .7 1.5 .7 1.5 .8 1.5 .9 1.5 .8 1.5 .8 1.5 .7 1.5 .5 1.5 .4 1.5 .5 1.5 .4 1.5 .5 1.5 .6 1.5 .6 1.5 .7 1.5 .7 1.5 .6 1.5 .4 1.5 .3 1.5 .2 1.5 .3 1.5 .5 1.5 .7 1.5 .8 1.5 .8 1.5 .8 1.5 .7 1.5 .5 1.5 .3 1.5 .3 1.5 .4 1.5 .4 1.5 .5 1.5 .6 1.5 .6 1.5 .5 1.5 .5 1.5 .4 1.5 .4 1.5 .6 1.5 .7 1.5 .8 1.5 .8 1.5 .7 1.5 .6 1.5 .4 1.5 .3 1.5 .3 1.5 .3 1.5 .6 1.5 .7 1.5 .8 1.5 .6 1.5 .6 1.5 .5 1.5 .6 1.5 .7 1.5 .7 1.5 .8 1.5 .9"/>
<path class="lb" stroke-opacity="0.34" d="M711 43.2l1.5 30.4 1.5 16.3 1.5 9.3 1.5 7.3 1.5 5.8 1.5 3.1 1.5 2 1.5 1.5 1.5 1.1 1.5 .9 1.5 .7 1.5 .6 1.5 .3 1.5 .3 1.5 .3 1.5 .4 1.5 .5 1.5 .7 1.5 .7 1.5 .7 1.5 .6 1.5 .5 1.5 .6 1.5 .6 1.5 .6 1.5 .6 1.5 .5 1.5 .3 1.5 .2 1.5 .3 1.5 .3 1.5 .5 1.5 .6 1.5 .7 1.5 .8 1.5 .7 1.5 .7 1.5 .5 1.5 .4 1.5 .4 1.5 .2 1.5 .2 1.5 .1 1.5 .3 1.5 .4 1.5 .5 1.5 .5 1.5 .4 1.5 .4 1.5 .4 1.5 .4 1.5 .3 1.5 0 1.5-.1 1.5-.2 1.5-.1 1.5-.1 1.5 0 1.5 .1 1.5 .1 1.5 0 1.5 .1 1.5 .1 1.5 .2 1.5 .2 1.5 .2 1.5 0 1.5-.1 1.5-.1 1.5-.1 1.5 0 1.5 0 1.5 .1 1.5 .1 1.5 .2 1.5 .1 1.5 .2 1.5 .2 1.5 .3 1.5 .4 1.5 .5 1.5 .5 1.5 .5 1.5 .5 1.5 .4 1.5 .4 1.5 .3 1.5 .4 1.5 .5 1.5 .7 1.5 .7 1.5 .7 1.5 .6 1.5 .7 1.5 .7 1.5 .6 1.5 .6 1.5 .5 1.5 .5 1.5 .5 1.5 .4 1.5 .4 1.5 .5 1.5 .4 1.5 .4 1.5 .6 1.5 .5 1.5 .5 1.5 .5 1.5 .5 1.5 .3 1.5 .3 1.5 .3 1.5 .2 1.5 .2 1.5 .2 1.5 .2 1.5 .2 1.5 .2 1.5 .2 1.5 .4 1.5 .4 1.5 .4 1.5 .5 1.5 .4 1.5 .4 1.5 .3 1.5 .5 1.5 .5 1.5 .7 1.5 .6 1.5 .6 1.5 .6 1.5 .5 1.5 .3 1.5 .3 1.5 .3 1.5 .1 1.5 .3 1.5 .4 1.5 .5 1.5 .6 1.5 .6 1.5 .4 1.5 .4 1.5 .4 1.5 .4 1.5 .6 1.5 .6 1.5 .6 1.5 .7 1.5 .6 1.5 .5 1.5 .6 1.5 .4 1.5 .5 1.5 .4 1.5 .3 1.5 .3 1.5 .3 1.5 .3 1.5 .5 1.5 .7 1.5 .8 1.5 .7 1.5 .7 1.5 .5 1.5 .5 1.5 .5 1.5 .5 1.5 .6 1.5 .7 1.5 .8 1.5 .8 1.5 .7 1.5 .5 1.5 .5 1.5 .5 1.5 .4 1.5 .5 1.5 .5 1.5 .6 1.5 .6 1.5 .6 1.5 .7 1.5 .7 1.5 .7 1.5 .5 1.5 .4 1.5 .4 1.5 .4 1.5 .5 1.5 .5 1.5 .5 1.5 .5 1.5 .6 1.5 .6 1.5 .6 1.5 .6 1.5 .6 1.5 .7 1.5 .7 1.5 .7 1.5 .8 1.5 .7 1.5 .7 1.5 .6 1.5 .7 1.5 .6 1.5 .5 1.5 .4 1.5 .4 1.5 .4 1.5 .4 1.5 .5 1.5 .7 1.5 .7 1.5 .7 1.5 .7 1.5 .4 1.5 .4 1.5 .2 1.5 .3 1.5 .4 1.5 .6 1.5 .6 1.5 .7 1.5 .7 1.5 .7 1.5 .6 1.5 .7 1.5 .6 1.5 .5 1.5 .5 1.5 .3 1.5 .3 1.5 .4 1.5 .4 1.5 .6 1.5 .6 1.5 .6 1.5 .4 1.5 .5 1.5 .6 1.5 .7 1.5 .8 1.5 .8 1.5 .8 1.5 .8 1.5 .8 1.5 .9 1.5 .8 1.5 .9 1.5 .9 1.5 .9 1.5 .8 1.5 .8 1.5 .8 1.5 .7 1.5 .7 1.5 .6 1.5 .5 1.5 .5 1.5 .6 1.5 .5 1.5 .5 1.5 .5 1.5 .5 1.5 .5 1.5 .5 1.5 .7 1.5 .7 1.5 .7 1.5 .9 1.5 1 1.5 .9 1.5 .8 1.5 .6 1.5 .6 1.5 .5 1.5 .6 1.5 .7 1.5 .6 1.5 .7 1.5 .7 1.5 .8 1.5 .9 1.5 .9 1.5 1 1.5 .9 1.5 .8 1.5 .8 1.5 .8 1.5 .8 1.5 .7 1.5 .8 1.5 .7 1.5 .7 1.5 .8 1.5 .8 1.5 .9 1.5 .8 1.5 .8 1.5 .6 1.5 .6 1.5 .6 1.5 .6 1.5 .7 1.5 .6 1.5 .6 1.5 .6 1.5 .6 1.5 .7 1.5 .9 1.5 .9 1.5 .8 1.5 .7 1.5 .5 1.5 .5 1.5 .5 1.5 .6 1.5 .7 1.5 .6 1.5 .6 1.5 .6 1.5 .7 1.5 .6 1.5 .7 1.5 .8 1.5 .7 1.5 .7 1.5 .6 1.5 .5 1.5 .4 1.5 .5 1.5 .4 1.5 .5 1.5 .6 1.5 .7 1.5 .7 1.5 .7 1.5 .7 1.5 .8 1.5 .7 1.5 .6 1.5 .6 1.5 .5 1.5 .6 1.5 .7 1.5 .7 1.5 .6 1.5 .6 1.5 .6 1.5 .6 1.5 .7 1.5 .9 1.5 .8 1.5 .8 1.5 .6 1.5 .6 1.5 .5 1.5 .6 1.5 .6 1.5 .7 1.5 .7 1.5 .7 1.5 .6 1.5 .5 1.5 .6 1.5 .5 1.5 .4 1.5 .3"/>
<path class="lb" stroke-opacity="0.33" d="M711 52.6l1.5 31.1 1.5 16.7 1.5 9.3 1.5 7.2 1.5 5.4 1.5 2.7 1.5 1.5 1.5 1.2 1.5 1 1.5 1 1.5 .8 1.5 .8 1.5 .6 1.5 .5 1.5 .6 1.5 .6 1.5 .5 1.5 .4 1.5 .3 1.5 .3 1.5 .2 1.5 .4 1.5 .5 1.5 .6 1.5 .4 1.5 .3 1.5 .3 1.5 .2 1.5 .1 1.5 .1 1.5 .1 1.5 0 1.5 .1 1.5 .3 1.5 .3 1.5 .4 1.5 .3 1.5 .4 1.5 .3 1.5 .2 1.5 .2 1.5-.1 1.5 0 1.5 0 1.5 .2 1.5 .3 1.5 .3 1.5 .1 1.5 0 1.5-.2 1.5-.2 1.5-.1 1.5-.1 1.5 .1 1.5 0 1.5 .1 1.5 .1 1.5 0 1.5 0 1.5-.1 1.5-.1 1.5-.3 1.5-.4 1.5-.4 1.5-.3 1.5-.1 1.5 .1 1.5 .2 1.5 .3 1.5 .2 1.5 .2 1.5 .1 1.5 .1 1.5 .2 1.5 .3 1.5 .3 1.5 .2 1.5 .2 1.5 .2 1.5 .1 1.5 .3 1.5 .4 1.5 .6 1.5 .8 1.5 .7 1.5 .7 1.5 .6 1.5 .6 1.5 .7 1.5 .7 1.5 .8 1.5 .7 1.5 .8 1.5 .8 1.5 .9 1.5 1 1.5 .9 1.5 .7 1.5 .4 1.5 .3 1.5 .3 1.5 .3 1.5 .4 1.5 .5 1.5 .6 1.5 .5 1.5 .5 1.5 .5 1.5 .5 1.5 .4 1.5 .5 1.5 .4 1.5 .5 1.5 .4 1.5 .5 1.5 .4 1.5 .3 1.5 .3 1.5 .1 1.5 .2 1.5 .2 1.5 .4 1.5 .5 1.5 .7 1.5 .6 1.5 .6 1.5 .4 1.5 .5 1.5 .5 1.5 .6 1.5 .5 1.5 .3 1.5 .2 1.5 .3 1.5 .3 1.5 .4 1.5 .6 1.5 .7 1.5 .6 1.5 .6 1.5 .4 1.5 .4 1.5 .3 1.5 .4 1.5 .5 1.5 .6 1.5 .6 1.5 .5 1.5 .5 1.5 .6 1.5 .6 1.5 .7 1.5 .8 1.5 .8 1.5 .6 1.5 .6 1.5 .4 1.5 .3 1.5 .3 1.5 .3 1.5 .3 1.5 .6 1.5 .7 1.5 .8 1.5 .7 1.5 .7 1.5 .6 1.5 .7 1.5 .7 1.5 .6 1.5 .7 1.5 .5 1.5 .6 1.5 .5 1.5 .5 1.5 .5 1.5 .7 1.5 .7 1.5 .6 1.5 .6 1.5 .5 1.5 .6 1.5 .7 1.5 .9 1.5 .7 1.5 .7 1.5 .6 1.5 .5 1.5 .6 1.5 .5 1.5 .5 1.5 .5 1.5 .6 1.5 .6 1.5 .6 1.5 .6 1.5 .5 1.5 .6 1.5 .5 1.5 .7 1.5 .6 1.5 .7 1.5 .7 1.5 .6 1.5 .6 1.5 .5 1.5 .4 1.5 .5 1.5 .4 1.5 .3 1.5 .3 1.5 .4 1.5 .5 1.5 .5 1.5 .6 1.5 .6 1.5 .7 1.5 .6 1.5 .5 1.5 .5 1.5 .4 1.5 .3 1.5 .3 1.5 .2 1.5 .2 1.5 .3 1.5 .4 1.5 .5 1.5 .5 1.5 .3 1.5 .3 1.5 .2 1.5 .3 1.5 .2 1.5 .4 1.5 .4 1.5 .5 1.5 .6 1.5 .7 1.5 .7 1.5 .6 1.5 .6 1.5 .4 1.5 .3 1.5 .2 1.5 .2 1.5 .5 1.5 .7 1.5 .8 1.5 .7 1.5 .6 1.5 .5 1.5 .7 1.5 .8 1.5 .9 1.5 .8 1.5 .8 1.5 .7 1.5 .7 1.5 .7 1.5 .7 1.5 .6 1.5 .7 1.5 .6 1.5 .6 1.5 .5 1.5 .4 1.5 .4 1.5 .4 1.5 .5 1.5 .5 1.5 .5 1.5 .6 1.5 .7 1.5 .8 1.5 .8 1.5 .8 1.5 .7 1.5 .7 1.5 .7 1.5 .7 1.5 .7 1.5 .8 1.5 .9 1.5 .8 1.5 .8 1.5 .7 1.5 .8 1.5 .6 1.5 .7 1.5 .5 1.5 .6 1.5 .6 1.5 .6 1.5 .8 1.5 .7 1.5 .6 1.5 .6 1.5 .5 1.5 .6 1.5 .7 1.5 .7 1.5 .8 1.5 .9 1.5 .8 1.5 .8 1.5 .6 1.5 .5 1.5 .6 1.5 .6 1.5 .8 1.5 .9 1.5 .9 1.5 .9 1.5 .7 1.5 .5 1.5 .5 1.5 .4 1.5 .5 1.5 .5 1.5 .7 1.5 .8 1.5 .8 1.5 .7 1.5 .6 1.5 .6 1.5 .7 1.5 .7 1.5 .8 1.5 .8 1.5 .7 1.5 .6 1.5 .6 1.5 .7 1.5 .7 1.5 .8 1.5 .8 1.5 .8 1.5 .7 1.5 .7 1.5 .8 1.5 .8 1.5 .7 1.5 .6 1.5 .5 1.5 .5 1.5 .7 1.5 .7 1.5 .9 1.5 .9 1.5 .9 1.5 .8 1.5 .7 1.5 .7 1.5 .6 1.5 .7 1.5 .7 1.5 .7 1.5 .8 1.5 .8 1.5 .7 1.5 .8 1.5 .7 1.5 .8 1.5 .8 1.5 .6 1.5 .5 1.5 .4 1.5 .5 1.5 .6 1.5 .6 1.5 .7"/>
<path class="lb" stroke-opacity="0.32" d="M711 45.9l1.5 31.9 1.5 17 1.5 9.6 1.5 7.1 1.5 5.6 1.5 2.7 1.5 1.8 1.5 1.3 1.5 1.2 1.5 .9 1.5 .9 1.5 .7 1.5 .7 1.5 .7 1.5 .6 1.5 .6 1.5 .6 1.5 .6 1.5 .6 1.5 .7 1.5 .6 1.5 .6 1.5 .5 1.5 .5 1.5 .6 1.5 .5 1.5 .4 1.5 .4 1.5 .4 1.5 .5 1.5 .4 1.5 .4 1.5 .5 1.5 .5 1.5 .4 1.5 .4 1.5 .3 1.5 .4 1.5 .6 1.5 .7 1.5 .8 1.5 .6 1.5 .4 1.5 .2 1.5 .2 1.5 .1 1.5 .2 1.5 .2 1.5 .4 1.5 .3 1.5 .3 1.5 .2 1.5 .1 1.5 .1 1.5 0 1.5 .1 1.5 0 1.5-.1 1.5 0 1.5 .1 1.5 .1 1.5 .1 1.5 .1 1.5 .1 1.5 .1 1.5 .1 1.5 0 1.5-.2 1.5 0 1.5 0 1.5 .1 1.5 .1 1.5 .1 1.5 0 1.5 0 1.5-.1 1.5-.1 1.5 0 1.5 .3 1.5 .4 1.5 .5 1.5 .5 1.5 .4 1.5 .4 1.5 .4 1.5 .4 1.5 .5 1.5 .5 1.5 .5 1.5 .6 1.5 .6 1.5 .4 1.5 .3 1.5 .4 1.5 .5 1.5 .6 1.5 .7 1.5 .7 1.5 .5 1.5 .5 1.5 .6 1.5 .6 1.5 .8 1.5 .8 1.5 .7 1.5 .7 1.5 .5 1.5 .5 1.5 .3 1.5 .3 1.5 .2 1.5 .2 1.5 .3 1.5 .4 1.5 .5 1.5 .5 1.5 .6 1.5 .7 1.5 .6 1.5 .5 1.5 .5 1.5 .4 1.5 .3 1.5 .4 1.5 .5 1.5 .4 1.5 .4 1.5 .4 1.5 .5 1.5 .5 1.5 .5 1.5 .6 1.5 .6 1.5 .6 1.5 .6 1.5 .6 1.5 .6 1.5 .6 1.5 .7 1.5 .6 1.5 .4 1.5 .4 1.5 .4 1.5 .4 1.5 .4 1.5 .4 1.5 .4 1.5 .4 1.5 .4 1.5 .3 1.5 .4 1.5 .3 1.5 .4 1.5 .5 1.5 .4 1.5 .4 1.5 .4 1.5 .4 1.5 .4 1.5 .6 1.5 .6 1.5 .6 1.5 .6 1.5 .5 1.5 .5 1.5 .5 1.5 .6 1.5 .5 1.5 .6 1.5 .5 1.5 .5 1.5 .4 1.5 .5 1.5 .5 1.5 .4 1.5 .4 1.5 .4 1.5 .4 1.5 .3 1.5 .3 1.5 .3 1.5 .3 1.5 .5 1.5 .8 1.5 .8 1.5 .9 1.5 .7 1.5 .6 1.5 .4 1.5 .4 1.5 .3 1.5 .5 1.5 .5 1.5 .6 1.5 .7 1.5 .5 1.5 .5 1.5 .5 1.5 .4 1.5 .5 1.5 .6 1.5 .5 1.5 .6 1.5 .6 1.5 .7 1.5 .7 1.5 .6 1.5 .6 1.5 .6 1.5 .5 1.5 .6 1.5 .7 1.5 .6 1.5 .7 1.5 .6 1.5 .6 1.5 .6 1.5 .5 1.5 .6 1.5 .6 1.5 .5 1.5 .5 1.5 .5 1.5 .4 1.5 .5 1.5 .6 1.5 .6 1.5 .5 1.5 .4 1.5 .4 1.5 .3 1.5 .3 1.5 .5 1.5 .5 1.5 .6 1.5 .5 1.5 .6 1.5 .5 1.5 .5 1.5 .5 1.5 .5 1.5 .4 1.5 .5 1.5 .5 1.5 .6 1.5 .6 1.5 .5 1.5 .5 1.5 .5 1.5 .7 1.5 .9 1.5 1.1 1.5 1.3 1.5 1.1 1.5 1 1.5 .7 1.5 .4 1.5 .5 1.5 .4 1.5 .5 1.5 .6 1.5 .7 1.5 .7 1.5 .6 1.5 .6 1.5 .6 1.5 .5 1.5 .5 1.5 .6 1.5 .5 1.5 .6 1.5 .5 1.5 .5 1.5 .6 1.5 .7 1.5 .8 1.5 .9 1.5 .9 1.5 .8 1.5 .7 1.5 .8 1.5 .7 1.5 .8 1.5 .8 1.5 .8 1.5 .9 1.5 1 1.5 1.1 1.5 .9 1.5 .9 1.5 .8 1.5 .7 1.5 .6 1.5 .6 1.5 .7 1.5 .8 1.5 1 1.5 1 1.5 1 1.5 .9 1.5 .8 1.5 .7 1.5 .8 1.5 .8 1.5 .9 1.5 .9 1.5 1 1.5 .8 1.5 .8 1.5 .8 1.5 .8 1.5 .6 1.5 .6 1.5 .5 1.5 .5 1.5 .6 1.5 .7 1.5 .7 1.5 .8 1.5 .7 1.5 .6 1.5 .6 1.5 .5 1.5 .6 1.5 .6 1.5 .8 1.5 .7 1.5 .7 1.5 .7 1.5 .8 1.5 .9 1.5 .8 1.5 .7 1.5 .7 1.5 .6 1.5 .7 1.5 .6 1.5 .5 1.5 .4 1.5 .5 1.5 .4 1.5 .5 1.5 .6 1.5 .7 1.5 .6 1.5 .7 1.5 .6 1.5 .6 1.5 .5 1.5 .6 1.5 .6 1.5 .7 1.5 .8 1.5 .8 1.5 .8 1.5 .7 1.5 .6 1.5 .6 1.5 .7 1.5 .6 1.5 .6 1.5 .6 1.5 .5 1.5 .6 1.5 .6 1.5 .6 1.5 .6 1.5 .6 1.5 .5 1.5 .5 1.5 .4 1.5 .5"/>
<path class="lb" stroke-opacity="0.30" d="M711 48.1l1.5 32.5 1.5 17.4 1.5 10 1.5 7.6 1.5 5.9 1.5 3 1.5 1.9 1.5 1.3 1.5 1 1.5 .9 1.5 .9 1.5 .9 1.5 .7 1.5 .8 1.5 .7 1.5 .6 1.5 .6 1.5 .4 1.5 .3 1.5 .4 1.5 .4 1.5 .5 1.5 .4 1.5 .3 1.5 .2 1.5 .3 1.5 .4 1.5 .5 1.5 .5 1.5 .5 1.5 .4 1.5 .5 1.5 .5 1.5 .5 1.5 .4 1.5 .3 1.5 .3 1.5 .4 1.5 .4 1.5 .5 1.5 .4 1.5 .3 1.5 .1 1.5 0 1.5 0 1.5 .1 1.5 0 1.5 .2 1.5 .2 1.5 .2 1.5 .1 1.5 .1 1.5 0 1.5 .1 1.5 0 1.5 .1 1.5 .1 1.5 0 1.5 .1 1.5 .1 1.5 0 1.5-.1 1.5-.1 1.5-.1 1.5 0 1.5 0 1.5 0 1.5 0 1.5 0 1.5-.1 1.5 0 1.5-.1 1.5-.1 1.5 .1 1.5 .1 1.5 .1 1.5 .2 1.5 .3 1.5 .2 1.5 .3 1.5 .4 1.5 .5 1.5 .6 1.5 .5 1.5 .6 1.5 .6 1.5 .5 1.5 .5 1.5 .5 1.5 .6 1.5 .8 1.5 .8 1.5 .7 1.5 .6 1.5 .5 1.5 .4 1.5 .5 1.5 .5 1.5 .7 1.5 .6 1.5 .4 1.5 .3 1.5 .1 1.5 .2 1.5 .3 1.5 .4 1.5 .5 1.5 .5 1.5 .5 1.5 .6 1.5 .5 1.5 .6 1.5 .4 1.5 .4 1.5 .3 1.5 .4 1.5 .4 1.5 .6 1.5 .6 1.5 .7 1.5 .7 1.5 .5 1.5 .4 1.5 .3 1.5 .4 1.5 .4 1.5 .5 1.5 .5 1.5 .5 1.5 .4 1.5 .4 1.5 .3 1.5 .3 1.5 .2 1.5 .3 1.5 .4 1.5 .5 1.5 .5 1.5 .5 1.5 .5 1.5 .4 1.5 .3 1.5 .3 1.5 .4 1.5 .4 1.5 .5 1.5 .5 1.5 .4 1.5 .5 1.5 .4 1.5 .3 1.5 .1 1.5 .3 1.5 .4 1.5 .6 1.5 .7 1.5 .8 1.5 .6 1.5 .4 1.5 .3 1.5 .2 1.5 .2 1.5 .3 1.5 .3 1.5 .4 1.5 .5 1.5 .7 1.5 .7 1.5 .7 1.5 .5 1.5 .5 1.5 .4 1.5 .5 1.5 .5 1.5 .5 1.5 .5 1.5 .5 1.5 .5 1.5 .4 1.5 .3 1.5 .4 1.5 .5 1.5 .7 1.5 .8 1.5 .7 1.5 .5 1.5 .4 1.5 .4 1.5 .5 1.5 .7 1.5 .6 1.5 .7 1.5 .5 1.5 .6 1.5 .6 1.5 .7 1.5 .6 1.5 .8 1.5 .8 1.5 .9 1.5 .8 1.5 .7 1.5 .6 1.5 .7 1.5 .7 1.5 .9 1.5 .9 1.5 .7 1.5 .8 1.5 .7 1.5 .7 1.5 .7 1.5 .5 1.5 .4 1.5 .4 1.5 .4 1.5 .6 1.5 .7 1.5 .6 1.5 .7 1.5 .7 1.5 .7 1.5 .6 1.5 .5 1.5 .3 1.5 .1 1.5 .2 1.5 .4 1.5 .5 1.5 .7 1.5 .6 1.5 .5 1.5 .3 1.5 .4 1.5 .4 1.5 .4 1.5 .5 1.5 .4 1.5 .5 1.5 .5 1.5 .5 1.5 .6 1.5 .6 1.5 .6 1.5 .5 1.5 .5 1.5 .5 1.5 .5 1.5 .4 1.5 .6 1.5 .6 1.5 .7 1.5 .7 1.5 .6 1.5 .6 1.5 .7 1.5 .7 1.5 .8 1.5 .7 1.5 .7 1.5 .6 1.5 .5 1.5 .6 1.5 .5 1.5 .5 1.5 .5 1.5 .5 1.5 .5 1.5 .5 1.5 .5 1.5 .4 1.5 .3 1.5 .4 1.5 .5 1.5 .6 1.5 .8 1.5 .9 1.5 1 1.5 .8 1.5 .8 1.5 .6 1.5 .7 1.5 .8 1.5 .8 1.5 .8 1.5 .8 1.5 .7 1.5 .6 1.5 .6 1.5 .6 1.5 .7 1.5 .7 1.5 .8 1.5 .9 1.5 .7 1.5 .8 1.5 .6 1.5 .7 1.5 .7 1.5 .6 1.5 .6 1.5 .6 1.5 .6 1.5 .7 1.5 .7 1.5 .8 1.5 .8 1.5 .8 1.5 .9 1.5 .9 1.5 .8 1.5 .7 1.5 .6 1.5 .7 1.5 .7 1.5 .6 1.5 .6 1.5 .5 1.5 .5 1.5 .4 1.5 .6 1.5 .6 1.5 .7 1.5 .6 1.5 .5 1.5 .6 1.5 .7 1.5 .8 1.5 .7 1.5 .7 1.5 .6 1.5 .5 1.5 .5 1.5 .5 1.5 .6 1.5 .7 1.5 .8 1.5 .6 1.5 .5 1.5 .4 1.5 .5 1.5 .5 1.5 .5 1.5 .7 1.5 .7 1.5 .8 1.5 .8 1.5 .9 1.5 .8 1.5 .8 1.5 .7 1.5 .6 1.5 .6 1.5 .5 1.5 .6 1.5 .5 1.5 .5 1.5 .4 1.5 .5 1.5 .7 1.5 .7 1.5 .8 1.5 .8 1.5 .8 1.5 .8 1.5 .7 1.5 .7 1.5 .6 1.5 .5 1.5 .6 1.5 .5 1.5 .6"/>
<path class="lb" stroke-opacity="0.29" d="M711 47.6l1.5 33.6 1.5 18 1.5 10.1 1.5 7.6 1.5 5.8 1.5 3.1 1.5 1.9 1.5 1.4 1.5 1.2 1.5 .9 1.5 .8 1.5 .8 1.5 .8 1.5 .8 1.5 .8 1.5 .7 1.5 .7 1.5 .6 1.5 .6 1.5 .6 1.5 .5 1.5 .4 1.5 .5 1.5 .4 1.5 .6 1.5 .6 1.5 .6 1.5 .5 1.5 .3 1.5 .3 1.5 .2 1.5 .3 1.5 .4 1.5 .5 1.5 .4 1.5 .4 1.5 .4 1.5 .5 1.5 .3 1.5 .3 1.5 .2 1.5 .2 1.5 .2 1.5 .3 1.5 .2 1.5 .1 1.5 .1 1.5 .1 1.5 .1 1.5 .2 1.5 0 1.5 0 1.5 .1 1.5 .1 1.5 .1 1.5 0 1.5 0 1.5 0 1.5 0 1.5 0 1.5 0 1.5 0 1.5 .1 1.5 0 1.5 0 1.5-.1 1.5-.2 1.5-.3 1.5-.3 1.5 0 1.5 0 1.5 .1 1.5 .1 1.5 .1 1.5 0 1.5 0 1.5 .1 1.5 .2 1.5 .3 1.5 .4 1.5 .5 1.5 .5 1.5 .5 1.5 .3 1.5 .2 1.5 .1 1.5 .1 1.5 .2 1.5 .3 1.5 .4 1.5 .5 1.5 .6 1.5 .6 1.5 .6 1.5 .7 1.5 .6 1.5 .7 1.5 .6 1.5 .7 1.5 .6 1.5 .6 1.5 .6 1.5 .5 1.5 .3 1.5 .3 1.5 .3 1.5 .3 1.5 .3 1.5 .4 1.5 .4 1.5 .6 1.5 .6 1.5 .6 1.5 .4 1.5 .4 1.5 .2 1.5 .4 1.5 .4 1.5 .6 1.5 .5 1.5 .6 1.5 .5 1.5 .5 1.5 .4 1.5 .4 1.5 .4 1.5 .5 1.5 .4 1.5 .5 1.5 .4 1.5 .4 1.5 .5 1.5 .5 1.5 .6 1.5 .5 1.5 .5 1.5 .4 1.5 .5 1.5 .5 1.5 .6 1.5 .7 1.5 .8 1.5 .7 1.5 .6 1.5 .7 1.5 .7 1.5 .6 1.5 .7 1.5 .6 1.5 .5 1.5 .5 1.5 .5 1.5 .7 1.5 .8 1.5 .7 1.5 .5 1.5 .4 1.5 .4 1.5 .4 1.5 .7 1.5 .7 1.5 .7 1.5 .6 1.5 .4 1.5 .3 1.5 .5 1.5 .6 1.5 .7 1.5 .8 1.5 .7 1.5 .5 1.5 .3 1.5 .3 1.5 .4 1.5 .7 1.5 .7 1.5 .6 1.5 .6 1.5 .5 1.5 .5 1.5 .7 1.5 .7 1.5 .6 1.5 .7 1.5 .6 1.5 .6 1.5 .6 1.5 .7 1.5 .6 1.5 .6 1.5 .5 1.5 .5 1.5 .4 1.5 .4 1.5 .5 1.5 .4 1.5 .5 1.5 .7 1.5 .7 1.5 .6 1.5 .6 1.5 .6 1.5 .6 1.5 .6 1.5 .7 1.5 .9 1.5 .9 1.5 .9 1.5 .9 1.5 .8 1.5 .6 1.5 .6 1.5 .5 1.5 .5 1.5 .7 1.5 .7 1.5 .7 1.5 .6 1.5 .5 1.5 .4 1.5 .5 1.5 .6 1.5 .7 1.5 .7 1.5 .6 1.5 .4 1.5 .3 1.5 .4 1.5 .4 1.5 .5 1.5 .6 1.5 .6 1.5 .5 1.5 .4 1.5 .4 1.5 .3 1.5 .4 1.5 .4 1.5 .4 1.5 .4 1.5 .5 1.5 .6 1.5 .7 1.5 .7 1.5 .7 1.5 .7 1.5 .7 1.5 .7 1.5 .7 1.5 .7 1.5 .7 1.5 .6 1.5 .6 1.5 .7 1.5 .6 1.5 .7 1.5 .7 1.5 .8 1.5 .8 1.5 .8 1.5 .7 1.5 .7 1.5 .5 1.5 .5 1.5 .5 1.5 .5 1.5 .5 1.5 .5 1.5 .5 1.5 .6 1.5 .5 1.5 .6 1.5 .4 1.5 .5 1.5 .4 1.5 .5 1.5 .5 1.5 .7 1.5 .8 1.5 .9 1.5 .9 1.5 .8 1.5 .7 1.5 .7 1.5 .6 1.5 .7 1.5 .7 1.5 .8 1.5 .9 1.5 1 1.5 .9 1.5 .9 1.5 .8 1.5 .8 1.5 .7 1.5 .6 1.5 .7 1.5 .8 1.5 .7 1.5 .7 1.5 .6 1.5 .8 1.5 .9 1.5 .8 1.5 .7 1.5 .6 1.5 .4 1.5 .6 1.5 .6 1.5 .8 1.5 .6 1.5 .6 1.5 .4 1.5 .5 1.5 .5 1.5 .7 1.5 .8 1.5 .9 1.5 .8 1.5 .8 1.5 .6 1.5 .6 1.5 .6 1.5 .5 1.5 .7 1.5 .6 1.5 .6 1.5 .6 1.5 .6 1.5 .6 1.5 .5 1.5 .5 1.5 .5 1.5 .4 1.5 .5 1.5 .4 1.5 .6 1.5 .7 1.5 .7 1.5 .7 1.5 .6 1.5 .4 1.5 .3 1.5 .4 1.5 .5 1.5 .5 1.5 .6 1.5 .5 1.5 .6 1.5 .6 1.5 .5 1.5 .6 1.5 .4 1.5 .5 1.5 .5 1.5 .5 1.5 .7 1.5 .7 1.5 .6 1.5 .5 1.5 .4 1.5 .4 1.5 .4 1.5 .5 1.5 .6 1.5 .4 1.5 .4 1.5 .4 1.5 .3 1.5 .4 1.5 .4 1.5 .6"/>
<path class="lb" stroke-opacity="0.28" d="M711 47.2l1.5 34.2 1.5 18.1 1.5 10.2 1.5 7.6 1.5 5.8 1.5 3 1.5 1.8 1.5 1.4 1.5 1 1.5 .9 1.5 .7 1.5 .5 1.5 .5 1.5 .5 1.5 .7 1.5 .7 1.5 .7 1.5 .9 1.5 .7 1.5 .7 1.5 .5 1.5 .6 1.5 .5 1.5 .6 1.5 .6 1.5 .5 1.5 .4 1.5 .4 1.5 .3 1.5 .3 1.5 .3 1.5 .2 1.5 .2 1.5 .1 1.5 .2 1.5 .4 1.5 .5 1.5 .6 1.5 .5 1.5 .4 1.5 .2 1.5 0 1.5 .1 1.5 .1 1.5 .2 1.5 .3 1.5 .4 1.5 .5 1.5 .2 1.5 .1 1.5-.2 1.5-.2 1.5-.3 1.5-.1 1.5 0 1.5 0 1.5-.1 1.5-.1 1.5-.1 1.5-.1 1.5-.1 1.5 0 1.5 0 1.5 0 1.5 0 1.5 0 1.5-.1 1.5-.1 1.5 0 1.5-.2 1.5-.3 1.5-.4 1.5-.3 1.5-.2 1.5 .1 1.5 .2 1.5 .3 1.5 .4 1.5 .3 1.5 .4 1.5 .3 1.5 .4 1.5 .5 1.5 .6 1.5 .5 1.5 .5 1.5 .3 1.5 .3 1.5 .2 1.5 .3 1.5 .4 1.5 .6 1.5 .9 1.5 1.1 1.5 1 1.5 .8 1.5 .7 1.5 .4 1.5 .4 1.5 .3 1.5 .3 1.5 .3 1.5 .4 1.5 .4 1.5 .5 1.5 .5 1.5 .6 1.5 .5 1.5 .6 1.5 .5 1.5 .6 1.5 .7 1.5 .7 1.5 .6 1.5 .5 1.5 .2 1.5 .2 1.5 .2 1.5 .5 1.5 .7 1.5 .7 1.5 .8 1.5 .5 1.5 .5 1.5 .4 1.5 .4 1.5 .4 1.5 .4 1.5 .6 1.5 .7 1.5 .7 1.5 .6 1.5 .6 1.5 .5 1.5 .6 1.5 .7 1.5 .5 1.5 .5 1.5 .4 1.5 .3 1.5 .4 1.5 .5 1.5 .6 1.5 .7 1.5 .6 1.5 .7 1.5 .5 1.5 .6 1.5 .7 1.5 .7 1.5 .8 1.5 .8 1.5 .6 1.5 .7 1.5 .5 1.5 .6 1.5 .5 1.5 .6 1.5 .5 1.5 .5 1.5 .6 1.5 .6 1.5 .7 1.5 .7 1.5 .8 1.5 .8 1.5 .7 1.5 .7 1.5 .6 1.5 .6 1.5 .6 1.5 .6 1.5 .6 1.5 .6 1.5 .7 1.5 .7 1.5 .7 1.5 .9 1.5 .8 1.5 .8 1.5 .7 1.5 .5 1.5 .4 1.5 .4 1.5 .4 1.5 .6 1.5 .6 1.5 .6 1.5 .6 1.5 .6 1.5 .7 1.5 .7 1.5 .7 1.5 .8 1.5 .8 1.5 .6 1.5 .6 1.5 .4 1.5 .5 1.5 .4 1.5 .3 1.5 .4 1.5 .4 1.5 .4 1.5 .6 1.5 .6 1.5 .7 1.5 .8 1.5 .7 1.5 .6 1.5 .5 1.5 .3 1.5 .3 1.5 .3 1.5 .1 1.5 .1 1.5 .1 1.5 .2 1.5 .4 1.5 .5 1.5 .6 1.5 .6 1.5 .5 1.5 .3 1.5 .2 1.5 .2 1.5 .4 1.5 .3 1.5 .4 1.5 .2 1.5 .2 1.5 .2 1.5 .3 1.5 .4 1.5 .3 1.5 .2 1.5 .2 1.5 .1 1.5 .3 1.5 .4 1.5 .5 1.5 .6 1.5 .5 1.5 .5 1.5 .5 1.5 .5 1.5 .5 1.5 .6 1.5 .7 1.5 .7 1.5 .7 1.5 .7 1.5 .7 1.5 .6 1.5 .5 1.5 .6 1.5 .6 1.5 .7 1.5 .8 1.5 .8 1.5 .7 1.5 .7 1.5 .7 1.5 .7 1.5 .6 1.5 .5 1.5 .5 1.5 .4 1.5 .4 1.5 .5 1.5 .5 1.5 .7 1.5 1 1.5 1 1.5 1 1.5 .7 1.5 .6 1.5 .5 1.5 .6 1.5 .7 1.5 .9 1.5 1 1.5 1 1.5 .9 1.5 .9 1.5 .8 1.5 .9 1.5 .9 1.5 .9 1.5 .8 1.5 .8 1.5 .7 1.5 .8 1.5 .9 1.5 .9 1.5 .9 1.5 .7 1.5 .6 1.5 .6 1.5 .6 1.5 .8 1.5 .9 1.5 .8 1.5 .7 1.5 .6 1.5 .5 1.5 .6 1.5 .6 1.5 .5 1.5 .5 1.5 .6 1.5 .5 1.5 .7 1.5 .7 1.5 .8 1.5 .7 1.5 .6 1.5 .7 1.5 .6 1.5 .6 1.5 .4 1.5 .3 1.5 .4 1.5 .3 1.5 .5 1.5 .4 1.5 .5 1.5 .7 1.5 .7 1.5 .6 1.5 .5 1.5 .4 1.5 .4 1.5 .5 1.5 .5 1.5 .6 1.5 .5 1.5 .4 1.5 .4 1.5 .4 1.5 .5 1.5 .7 1.5 .9 1.5 .9 1.5 .7 1.5 .6 1.5 .5 1.5 .4 1.5 .5 1.5 .5 1.5 .6 1.5 .7 1.5 .7 1.5 .7 1.5 .8 1.5 .8 1.5 .8 1.5 .7 1.5 .6 1.5 .5 1.5 .6 1.5 .7 1.5 .8 1.5 .8 1.5 .9 1.5 .9 1.5 .8 1.5 .8 1.5 .7 1.5 .6 1.5 .5 1.5 .6"/>
<path class="lb" stroke-opacity="0.27" d="M711 49l1.5 35 1.5 18.4 1.5 10.2 1.5 7.4 1.5 5.7 1.5 3 1.5 2 1.5 1.7 1.5 1.3 1.5 1.2 1.5 1 1.5 .9 1.5 .9 1.5 .8 1.5 .7 1.5 .5 1.5 .5 1.5 .3 1.5 .3 1.5 .4 1.5 .5 1.5 .5 1.5 .5 1.5 .5 1.5 .4 1.5 .3 1.5 .2 1.5 .2 1.5 .2 1.5 .3 1.5 .2 1.5 .2 1.5 .2 1.5 .2 1.5 .3 1.5 .4 1.5 .5 1.5 .6 1.5 .5 1.5 .4 1.5 .1 1.5 0 1.5-.1 1.5 0 1.5 .2 1.5 .2 1.5 .2 1.5 .3 1.5 .2 1.5 .1 1.5 .1 1.5-.1 1.5-.2 1.5-.1 1.5-.1 1.5 .1 1.5 .1 1.5 0 1.5-.1 1.5-.2 1.5-.3 1.5-.1 1.5 .1 1.5 .1 1.5 .1 1.5 0 1.5 0 1.5-.1 1.5 0 1.5 .1 1.5 0 1.5 0 1.5 0 1.5 0 1.5 .1 1.5 .1 1.5 .2 1.5 .1 1.5 .2 1.5 .2 1.5 .5 1.5 .5 1.5 .5 1.5 .5 1.5 .4 1.5 .3 1.5 .3 1.5 .5 1.5 .6 1.5 .8 1.5 .7 1.5 .7 1.5 .6 1.5 .6 1.5 .6 1.5 .6 1.5 .5 1.5 .5 1.5 .5 1.5 .4 1.5 .5 1.5 .5 1.5 .5 1.5 .5 1.5 .4 1.5 .4 1.5 .3 1.5 .4 1.5 .6 1.5 .7 1.5 .7 1.5 .6 1.5 .6 1.5 .6 1.5 .5 1.5 .5 1.5 .5 1.5 .5 1.5 .6 1.5 .5 1.5 .5 1.5 .5 1.5 .5 1.5 .5 1.5 .5 1.5 .5 1.5 .4 1.5 .4 1.5 .4 1.5 .4 1.5 .4 1.5 .4 1.5 .5 1.5 .5 1.5 .5 1.5 .5 1.5 .4 1.5 .6 1.5 .7 1.5 .7 1.5 .7 1.5 .7 1.5 .6 1.5 .5 1.5 .6 1.5 .6 1.5 .6 1.5 .6 1.5 .5 1.5 .6 1.5 .6 1.5 .4 1.5 .4 1.5 .2 1.5 .2 1.5 .4 1.5 .5 1.5 .7 1.5 .7 1.5 .7 1.5 .5 1.5 .5 1.5 .4 1.5 .4 1.5 .3 1.5 .4 1.5 .4 1.5 .5 1.5 .6 1.5 .6 1.5 .6 1.5 .5 1.5 .5 1.5 .4 1.5 .5 1.5 .6 1.5 .5 1.5 .5 1.5 .6 1.5 .6 1.5 .6 1.5 .6 1.5 .4 1.5 .3 1.5 .3 1.5 .4 1.5 .5 1.5 .7 1.5 .6 1.5 .6 1.5 .5 1.5 .5 1.5 .6 1.5 .7 1.5 .6 1.5 .7 1.5 .7 1.5 .7 1.5 .7 1.5 .6 1.5 .7 1.5 .7 1.5 .7 1.5 .9 1.5 .9 1.5 .8 1.5 .7 1.5 .7 1.5 .6 1.5 .5 1.5 .7 1.5 .7 1.5 .8 1.5 .8 1.5 .7 1.5 .7 1.5 .5 1.5 .4 1.5 .4 1.5 .4 1.5 .6 1.5 .8 1.5 .7 1.5 .8 1.5 .6 1.5 .7 1.5 .6 1.5 .6 1.5 .6 1.5 .6 1.5 .5 1.5 .5 1.5 .5 1.5 .6 1.5 .6 1.5 .6 1.5 .5 1.5 .4 1.5 .4 1.5 .5 1.5 .5 1.5 .5 1.5 .5 1.5 .5 1.5 .4 1.5 .5 1.5 .4 1.5 .5 1.5 .6 1.5 .7 1.5 .7 1.5 .8 1.5 .6 1.5 .6 1.5 .7 1.5 .8 1.5 .7 1.5 .7 1.5 .5 1.5 .5 1.5 .6 1.5 .5 1.5 .6 1.5 .6 1.5 .6 1.5 .6 1.5 .6 1.5 .5 1.5 .4 1.5 .4 1.5 .5 1.5 .6 1.5 .8 1.5 .7 1.5 .6 1.5 .5 1.5 .5 1.5 .4 1.5 .4 1.5 .4 1.5 .5 1.5 .5 1.5 .7 1.5 .6 1.5 .8 1.5 .7 1.5 .7 1.5 .9 1.5 .8 1.5 .8 1.5 .6 1.5 .4 1.5 .5 1.5 .5 1.5 .7 1.5 .7 1.5 .9 1.5 .8 1.5 .9 1.5 .7 1.5 .6 1.5 .5 1.5 .4 1.5 .4 1.5 .4 1.5 .6 1.5 .7 1.5 .8 1.5 .9 1.5 .8 1.5 .9 1.5 .7 1.5 .7 1.5 .7 1.5 .5 1.5 .5 1.5 .4 1.5 .5 1.5 .7 1.5 .7 1.5 .7 1.5 .7 1.5 .7 1.5 .6 1.5 .6 1.5 .5 1.5 .4 1.5 .5 1.5 .5 1.5 .6 1.5 .6 1.5 .6 1.5 .7 1.5 .6 1.5 .5 1.5 .5 1.5 .5 1.5 .6 1.5 .6 1.5 .7 1.5 .7 1.5 .7 1.5 .7 1.5 .7 1.5 .6 1.5 .5 1.5 .5 1.5 .5 1.5 .3 1.5 .4 1.5 .5 1.5 .6 1.5 .6 1.5 .6 1.5 .6 1.5 .7 1.5 .7 1.5 .7 1.5 .7 1.5 .6 1.5 .7 1.5 .7 1.5 .8 1.5 .7 1.5 .6 1.5 .7 1.5 .6 1.5 .6 1.5 .7 1.5 .8 1.5 .8 1.5 .6"/>
<path class="lb" stroke-opacity="0.26" d="M711 47.7l1.5 35.7 1.5 19 1.5 10.6 1.5 7.9 1.5 6 1.5 3.5 1.5 2.1 1.5 1.7 1.5 1.2 1.5 1.1 1.5 .8 1.5 .7 1.5 .7 1.5 .7 1.5 .7 1.5 .6 1.5 .5 1.5 .6 1.5 .5 1.5 .4 1.5 .5 1.5 .4 1.5 .5 1.5 .5 1.5 .5 1.5 .4 1.5 .5 1.5 .4 1.5 .5 1.5 .5 1.5 .4 1.5 .5 1.5 .5 1.5 .5 1.5 .5 1.5 .5 1.5 .3 1.5 .4 1.5 .3 1.5 .3 1.5 .3 1.5 .3 1.5 .2 1.5 .1 1.5 .1 1.5 .1 1.5 .1 1.5 .3 1.5 .4 1.5 .6 1.5 .5 1.5 .4 1.5 .1 1.5 0 1.5-.1 1.5-.2 1.5-.3 1.5-.2 1.5-.3 1.5-.1 1.5 .2 1.5 .2 1.5 .2 1.5 0 1.5 0 1.5-.1 1.5-.2 1.5 0 1.5-.1 1.5 0 1.5-.1 1.5-.2 1.5-.1 1.5-.2 1.5 0 1.5 0 1.5 .1 1.5 .3 1.5 .4 1.5 .3 1.5 .3 1.5 .3 1.5 .2 1.5 .3 1.5 .5 1.5 .5 1.5 .5 1.5 .5 1.5 .5 1.5 .5 1.5 .5 1.5 .4 1.5 .4 1.5 .4 1.5 .4 1.5 .5 1.5 .4 1.5 .6 1.5 .6 1.5 .6 1.5 .6 1.5 .4 1.5 .3 1.5 .2 1.5 .2 1.5 .2 1.5 .3 1.5 .4 1.5 .7 1.5 .8 1.5 .9 1.5 .7 1.5 .5 1.5 .5 1.5 .4 1.5 .5 1.5 .6 1.5 .6 1.5 .7 1.5 .7 1.5 .7 1.5 .7 1.5 .6 1.5 .5 1.5 .5 1.5 .5 1.5 .6 1.5 .6 1.5 .7 1.5 .6 1.5 .5 1.5 .5 1.5 .5 1.5 .6 1.5 .5 1.5 .5 1.5 .7 1.5 .7 1.5 .7 1.5 .8 1.5 .7 1.5 .6 1.5 .5 1.5 .4 1.5 .5 1.5 .5 1.5 .7 1.5 .6 1.5 .5 1.5 .5 1.5 .5 1.5 .6 1.5 .6 1.5 .5 1.5 .3 1.5 .3 1.5 .4 1.5 .5 1.5 .6 1.5 .7 1.5 .7 1.5 .5 1.5 .6 1.5 .4 1.5 .5 1.5 .6 1.5 .7 1.5 .6 1.5 .6 1.5 .5 1.5 .4 1.5 .3 1.5 .5 1.5 .6 1.5 .5 1.5 .5 1.5 .3 1.5 .3 1.5 .3 1.5 .4 1.5 .5 1.5 .5 1.5 .5 1.5 .4 1.5 .4 1.5 .5 1.5 .5 1.5 .6 1.5 .6 1.5 .6 1.5 .6 1.5 .4 1.5 .3 1.5 .4 1.5 .6 1.5 .6 1.5 .6 1.5 .6 1.5 .6 1.5 .5 1.5 .5 1.5 .5 1.5 .6 1.5 .6 1.5 .7 1.5 .6 1.5 .6 1.5 .4 1.5 .2 1.5 .3 1.5 .5 1.5 .6 1.5 .7 1.5 .7 1.5 .6 1.5 .7 1.5 .5 1.5 .5 1.5 .4 1.5 .5 1.5 .5 1.5 .7 1.5 .7 1.5 .6 1.5 .5 1.5 .4 1.5 .3 1.5 .3 1.5 .4 1.5 .5 1.5 .5 1.5 .5 1.5 .4 1.5 .2 1.5 .2 1.5 .2 1.5 .4 1.5 .4 1.5 .6 1.5 .6 1.5 .7 1.5 .8 1.5 .8 1.5 .7 1.5 .7 1.5 .6 1.5 .5 1.5 .5 1.5 .5 1.5 .5 1.5 .5 1.5 .6 1.5 .6 1.5 .7 1.5 .5 1.5 .6 1.5 .5 1.5 .6 1.5 .6 1.5 .5 1.5 .6 1.5 .4 1.5 .4 1.5 .3 1.5 .4 1.5 .4 1.5 .4 1.5 .4 1.5 .3 1.5 .4 1.5 .4 1.5 .5 1.5 .7 1.5 .8 1.5 .8 1.5 .7 1.5 .6 1.5 .4 1.5 .5 1.5 .7 1.5 .7 1.5 .9 1.5 .8 1.5 .8 1.5 .6 1.5 .7 1.5 .5 1.5 .6 1.5 .6 1.5 .6 1.5 .7 1.5 .6 1.5 .5 1.5 .5 1.5 .5 1.5 .5 1.5 .7 1.5 .8 1.5 .9 1.5 .9 1.5 .8 1.5 .7 1.5 .6 1.5 .6 1.5 .6 1.5 .7 1.5 .8 1.5 .6 1.5 .6 1.5 .5 1.5 .6 1.5 .6 1.5 .6 1.5 .8 1.5 .8 1.5 .8 1.5 .8 1.5 .8 1.5 .7 1.5 .6 1.5 .6 1.5 .5 1.5 .7 1.5 .7 1.5 .7 1.5 .7 1.5 .8 1.5 .6 1.5 .5 1.5 .5 1.5 .5 1.5 .5 1.5 .8 1.5 .7 1.5 .7 1.5 .7 1.5 .6 1.5 .7 1.5 .7 1.5 .7 1.5 .7 1.5 .5 1.5 .5 1.5 .5 1.5 .6 1.5 .7 1.5 .8 1.5 .8 1.5 .8 1.5 .7 1.5 .6 1.5 .5 1.5 .6 1.5 .6 1.5 .7 1.5 .8 1.5 .8 1.5 .8 1.5 .8 1.5 .8 1.5 .7 1.5 .7 1.5 .6 1.5 .5 1.5 .6 1.5 .5 1.5 .6 1.5 .7 1.5 .8 1.5 .7 1.5 .8 1.5 .7"/>
<path class="lb" stroke-opacity="0.24" d="M711 49.4l1.5 36.5 1.5 19.4 1.5 10.9 1.5 8 1.5 6.2 1.5 3.5 1.5 2.2 1.5 1.7 1.5 1.2 1.5 .9 1.5 .8 1.5 .9 1.5 .9 1.5 .9 1.5 .8 1.5 .6 1.5 .5 1.5 .2 1.5 .3 1.5 .4 1.5 .4 1.5 .5 1.5 .5 1.5 .6 1.5 .6 1.5 .7 1.5 .5 1.5 .3 1.5 .2 1.5 .2 1.5 .2 1.5 .2 1.5 .2 1.5 .3 1.5 .2 1.5 .2 1.5 .1 1.5 .2 1.5 .2 1.5 .2 1.5 .2 1.5 .1 1.5 .2 1.5 .2 1.5 .2 1.5 .2 1.5 .1 1.5 .1 1.5 .2 1.5 .1 1.5 .2 1.5 .1 1.5 .1 1.5 0 1.5 0 1.5 0 1.5-.2 1.5-.2 1.5-.2 1.5-.2 1.5 .1 1.5 .1 1.5 .2 1.5 .3 1.5 .1 1.5 0 1.5-.2 1.5-.2 1.5-.2 1.5 0 1.5 0 1.5 0 1.5-.1 1.5-.1 1.5 0 1.5 .1 1.5 .3 1.5 .5 1.5 .4 1.5 .5 1.5 .4 1.5 .3 1.5 .1 1.5 .1 1.5 .1 1.5 .3 1.5 .4 1.5 .6 1.5 .6 1.5 .5 1.5 .4 1.5 .4 1.5 .3 1.5 .4 1.5 .4 1.5 .4 1.5 .4 1.5 .5 1.5 .5 1.5 .5 1.5 .5 1.5 .5 1.5 .4 1.5 .5 1.5 .5 1.5 .4 1.5 .3 1.5 .2 1.5 .3 1.5 .4 1.5 .5 1.5 .6 1.5 .6 1.5 .6 1.5 .6 1.5 .5 1.5 .4 1.5 .3 1.5 .3 1.5 .3 1.5 .4 1.5 .4 1.5 .5 1.5 .5 1.5 .5 1.5 .5 1.5 .5 1.5 .5 1.5 .5 1.5 .4 1.5 .4 1.5 .3 1.5 .4 1.5 .4 1.5 .4 1.5 .4 1.5 .4 1.5 .4 1.5 .5 1.5 .5 1.5 .4 1.5 .5 1.5 .5 1.5 .5 1.5 .5 1.5 .5 1.5 .4 1.5 .5 1.5 .5 1.5 .6 1.5 .6 1.5 .7 1.5 .7 1.5 .7 1.5 .6 1.5 .5 1.5 .5 1.5 .5 1.5 .4 1.5 .5 1.5 .6 1.5 .6 1.5 .8 1.5 .9 1.5 .8 1.5 .7 1.5 .7 1.5 .6 1.5 .7 1.5 .7 1.5 .7 1.5 .6 1.5 .7 1.5 .6 1.5 .6 1.5 .7 1.5 .6 1.5 .7 1.5 .7 1.5 .7 1.5 .7 1.5 .7 1.5 .7 1.5 .7 1.5 .8 1.5 .8 1.5 .8 1.5 .7 1.5 .7 1.5 .7 1.5 .7 1.5 .8 1.5 .8 1.5 .8 1.5 .8 1.5 .6 1.5 .7 1.5 .6 1.5 .6 1.5 .7 1.5 .7 1.5 .7 1.5 .7 1.5 .7 1.5 .7 1.5 .7 1.5 .7 1.5 .7 1.5 .6 1.5 .6 1.5 .5 1.5 .5 1.5 .4 1.5 .4 1.5 .3 1.5 .3 1.5 .4 1.5 .6 1.5 .8 1.5 .7 1.5 .6 1.5 .5 1.5 .5 1.5 .4 1.5 .3 1.5 .4 1.5 .3 1.5 .2 1.5 .1 1.5 .3 1.5 .4 1.5 .6 1.5 .6 1.5 .6 1.5 .5 1.5 .5 1.5 .4 1.5 .3 1.5 .4 1.5 .3 1.5 .3 1.5 .3 1.5 .2 1.5 .1 1.5 .2 1.5 .5 1.5 .5 1.5 .6 1.5 .6 1.5 .4 1.5 .5 1.5 .7 1.5 .7 1.5 .9 1.5 .7 1.5 .5 1.5 .4 1.5 .4 1.5 .4 1.5 .5 1.5 .5 1.5 .5 1.5 .5 1.5 .4 1.5 .4 1.5 .3 1.5 .5 1.5 .6 1.5 .6 1.5 .6 1.5 .6 1.5 .4 1.5 .3 1.5 .4 1.5 .3 1.5 .3 1.5 .4 1.5 .5 1.5 .6 1.5 .6 1.5 .7 1.5 .8 1.5 .8 1.5 .7 1.5 .8 1.5 .8 1.5 .7 1.5 .8 1.5 .8 1.5 .7 1.5 .7 1.5 .5 1.5 .5 1.5 .6 1.5 .6 1.5 .7 1.5 .9 1.5 .9 1.5 .9 1.5 .8 1.5 .8 1.5 .6 1.5 .5 1.5 .5 1.5 .4 1.5 .5 1.5 .5 1.5 .5 1.5 .7 1.5 .6 1.5 .7 1.5 .8 1.5 .9 1.5 1.1 1.5 1 1.5 1 1.5 .9 1.5 .7 1.5 .8 1.5 .8 1.5 .8 1.5 .7 1.5 .5 1.5 .5 1.5 .4 1.5 .4 1.5 .4 1.5 .6 1.5 .6 1.5 .8 1.5 .7 1.5 .8 1.5 .8 1.5 .8 1.5 .7 1.5 .7 1.5 .6 1.5 .5 1.5 .7 1.5 .6 1.5 .7 1.5 .7 1.5 .7 1.5 .7 1.5 .8 1.5 .8 1.5 .9 1.5 .9 1.5 1 1.5 1 1.5 .8 1.5 .7 1.5 .6 1.5 .6 1.5 .7 1.5 .7 1.5 .7 1.5 .6 1.5 .6 1.5 .7 1.5 .7 1.5 .8 1.5 .8 1.5 .8 1.5 .7 1.5 .7 1.5 .8 1.5 .9 1.5 .9 1.5 .8 1.5 .7 1.5 .6"/>
<path class="lb" stroke-opacity="0.23" d="M711 49.9l1.5 37.3 1.5 19.7 1.5 11.1 1.5 7.9 1.5 5.9 1.5 3.4 1.5 2.1 1.5 1.7 1.5 1.3 1.5 1.1 1.5 .8 1.5 .5 1.5 .5 1.5 .4 1.5 .7 1.5 .7 1.5 .8 1.5 .7 1.5 .6 1.5 .6 1.5 .6 1.5 .6 1.5 .6 1.5 .7 1.5 .7 1.5 .5 1.5 .4 1.5 .4 1.5 .2 1.5 .3 1.5 .2 1.5 .2 1.5 .2 1.5 .2 1.5 .3 1.5 .3 1.5 .4 1.5 .4 1.5 .4 1.5 .3 1.5 .4 1.5 .2 1.5 .2 1.5 .1 1.5 .1 1.5 .2 1.5 .1 1.5 0 1.5 .1 1.5 .2 1.5 .3 1.5 .2 1.5 .3 1.5 .2 1.5 0 1.5 0 1.5-.1 1.5 0 1.5-.1 1.5-.1 1.5 0 1.5-.1 1.5 0 1.5 0 1.5 .1 1.5 0 1.5-.1 1.5-.1 1.5 0 1.5 0 1.5 .1 1.5 .1 1.5 .1 1.5 0 1.5 0 1.5 .1 1.5 .2 1.5 .3 1.5 .4 1.5 .5 1.5 .4 1.5 .4 1.5 .2 1.5 .1 1.5 .1 1.5 0 1.5 .1 1.5 .3 1.5 .4 1.5 .6 1.5 .6 1.5 .6 1.5 .4 1.5 .4 1.5 .4 1.5 .5 1.5 .4 1.5 .4 1.5 .4 1.5 .4 1.5 .5 1.5 .5 1.5 .4 1.5 .5 1.5 .5 1.5 .5 1.5 .5 1.5 .5 1.5 .4 1.5 .4 1.5 .3 1.5 .2 1.5 .1 1.5 .1 1.5 .1 1.5 .4 1.5 .5 1.5 .7 1.5 .7 1.5 .7 1.5 .7 1.5 .6 1.5 .5 1.5 .3 1.5 .3 1.5 .3 1.5 .4 1.5 .5 1.5 .6 1.5 .7 1.5 .6 1.5 .5 1.5 .5 1.5 .5 1.5 .5 1.5 .7 1.5 .7 1.5 .6 1.5 .5 1.5 .5 1.5 .4 1.5 .6 1.5 .6 1.5 .6 1.5 .4 1.5 .5 1.5 .4 1.5 .4 1.5 .5 1.5 .5 1.5 .7 1.5 .7 1.5 .8 1.5 .6 1.5 .6 1.5 .5 1.5 .5 1.5 .5 1.5 .5 1.5 .5 1.5 .4 1.5 .5 1.5 .5 1.5 .6 1.5 .8 1.5 .7 1.5 .6 1.5 .5 1.5 .6 1.5 .6 1.5 .6 1.5 .6 1.5 .3 1.5 .3 1.5 .4 1.5 .3 1.5 .5 1.5 .6 1.5 .5 1.5 .6 1.5 .7 1.5 .6 1.5 .6 1.5 .5 1.5 .6 1.5 .5 1.5 .4 1.5 .4 1.5 .4 1.5 .5 1.5 .7 1.5 .8 1.5 .9 1.5 .8 1.5 .7 1.5 .6 1.5 .5 1.5 .5 1.5 .4 1.5 .3 1.5 .4 1.5 .3 1.5 .4 1.5 .4 1.5 .6 1.5 .5 1.5 .7 1.5 .5 1.5 .5 1.5 .5 1.5 .4 1.5 .5 1.5 .5 1.5 .5 1.5 .4 1.5 .3 1.5 .2 1.5 .3 1.5 .2 1.5 .3 1.5 .2 1.5 .4 1.5 .3 1.5 .5 1.5 .4 1.5 .5 1.5 .5 1.5 .4 1.5 .4 1.5 .4 1.5 .3 1.5 .3 1.5 .3 1.5 .4 1.5 .5 1.5 .4 1.5 .4 1.5 .5 1.5 .5 1.5 .7 1.5 .6 1.5 .6 1.5 .6 1.5 .3 1.5 .2 1.5 .2 1.5 .2 1.5 .4 1.5 .5 1.5 .7 1.5 .8 1.5 .8 1.5 .9 1.5 .8 1.5 .7 1.5 .8 1.5 .7 1.5 .8 1.5 .6 1.5 .4 1.5 .3 1.5 .3 1.5 .2 1.5 .4 1.5 .5 1.5 .7 1.5 .9 1.5 .8 1.5 .9 1.5 .8 1.5 .8 1.5 .7 1.5 .7 1.5 .6 1.5 .7 1.5 .6 1.5 .7 1.5 .6 1.5 .5 1.5 .5 1.5 .7 1.5 .8 1.5 .8 1.5 .8 1.5 .7 1.5 .7 1.5 .7 1.5 .6 1.5 .7 1.5 .7 1.5 .7 1.5 .7 1.5 .6 1.5 .8 1.5 .9 1.5 .9 1.5 1 1.5 .7 1.5 .7 1.5 .7 1.5 .8 1.5 .8 1.5 .9 1.5 .9 1.5 .8 1.5 .8 1.5 .8 1.5 .6 1.5 .6 1.5 .6 1.5 .6 1.5 .7 1.5 .7 1.5 .8 1.5 .7 1.5 .7 1.5 .7 1.5 .7 1.5 .6 1.5 .7 1.5 .7 1.5 .7 1.5 .7 1.5 .7 1.5 .6 1.5 .6 1.5 .6 1.5 .8 1.5 .9 1.5 .9 1.5 .9 1.5 .7 1.5 .6 1.5 .4 1.5 .4 1.5 .5 1.5 .7 1.5 .7 1.5 .7 1.5 .6 1.5 .5 1.5 .4 1.5 .5 1.5 .5 1.5 .7 1.5 .7 1.5 .6 1.5 .6 1.5 .5 1.5 .7 1.5 .9 1.5 .9 1.5 .9 1.5 .7 1.5 .5 1.5 .4 1.5 .4 1.5 .5 1.5 .5 1.5 .5 1.5 .5 1.5 .5 1.5 .5 1.5 .7 1.5 .7 1.5 .8 1.5 .8 1.5 .6 1.5 .6 1.5 .4 1.5 .5 1.5 .6"/>
<path class="lb" stroke-opacity="0.22" d="M711 51.2l1.5 38.2 1.5 20 1.5 11.1 1.5 7.8 1.5 5.9 1.5 3.3 1.5 2.1 1.5 1.7 1.5 1.4 1.5 1.3 1.5 1.3 1.5 1 1.5 .9 1.5 .6 1.5 .5 1.5 .3 1.5 .4 1.5 .6 1.5 .7 1.5 .7 1.5 .6 1.5 .5 1.5 .3 1.5 .1 1.5 .1 1.5 .1 1.5 .2 1.5 .2 1.5 .3 1.5 .4 1.5 .3 1.5 .2 1.5 .2 1.5 .3 1.5 .4 1.5 .5 1.5 .4 1.5 .3 1.5 .3 1.5 .3 1.5 .4 1.5 .4 1.5 .2 1.5 .1 1.5 .1 1.5 0 1.5 .1 1.5 0 1.5-.1 1.5-.1 1.5 0 1.5 .1 1.5 .1 1.5 0 1.5 0 1.5-.1 1.5 0 1.5 .1 1.5 .1 1.5 .1 1.5 0 1.5 .1 1.5-.1 1.5 0 1.5 0 1.5 0 1.5 .1 1.5 .2 1.5 .1 1.5 .2 1.5 .2 1.5 .1 1.5 .1 1.5 .1 1.5 .1 1.5 .1 1.5 .1 1.5 .2 1.5 .1 1.5 .3 1.5 .3 1.5 .3 1.5 .3 1.5 .2 1.5 .4 1.5 .5 1.5 .6 1.5 .6 1.5 .5 1.5 .5 1.5 .4 1.5 .3 1.5 .3 1.5 .2 1.5 .3 1.5 .3 1.5 .4 1.5 .4 1.5 .5 1.5 .6 1.5 .6 1.5 .6 1.5 .6 1.5 .3 1.5 .2 1.5 .1 1.5 .2 1.5 .3 1.5 .5 1.5 .7 1.5 .5 1.5 .4 1.5 .3 1.5 .2 1.5 .4 1.5 .6 1.5 .7 1.5 .8 1.5 .7 1.5 .4 1.5 .3 1.5 .2 1.5 .3 1.5 .4 1.5 .6 1.5 .7 1.5 .7 1.5 .7 1.5 .6 1.5 .4 1.5 .3 1.5 .3 1.5 .3 1.5 .4 1.5 .5 1.5 .5 1.5 .6 1.5 .7 1.5 .7 1.5 .7 1.5 .6 1.5 .6 1.5 .5 1.5 .4 1.5 .5 1.5 .4 1.5 .5 1.5 .6 1.5 .6 1.5 .6 1.5 .7 1.5 .7 1.5 .6 1.5 .4 1.5 .5 1.5 .5 1.5 .6 1.5 .6 1.5 .7 1.5 .8 1.5 .7 1.5 .7 1.5 .5 1.5 .4 1.5 .4 1.5 .5 1.5 .7 1.5 .7 1.5 .7 1.5 .6 1.5 .5 1.5 .6 1.5 .7 1.5 .6 1.5 .4 1.5 .4 1.5 .3 1.5 .4 1.5 .6 1.5 .7 1.5 .8 1.5 .8 1.5 .5 1.5 .4 1.5 .4 1.5 .4 1.5 .5 1.5 .5 1.5 .5 1.5 .5 1.5 .6 1.5 .8 1.5 .9 1.5 .9 1.5 .7 1.5 .6 1.5 .5 1.5 .6 1.5 .5 1.5 .6 1.5 .4 1.5 .5 1.5 .5 1.5 .5 1.5 .6 1.5 .6 1.5 .5 1.5 .6 1.5 .5 1.5 .6 1.5 .6 1.5 .5 1.5 .5 1.5 .5 1.5 .5 1.5 .6 1.5 .6 1.5 .5 1.5 .4 1.5 .2 1.5 0 1.5 .1 1.5 .3 1.5 .6 1.5 .8 1.5 .9 1.5 .8 1.5 .5 1.5 .4 1.5 .2 1.5 .2 1.5 .2 1.5 .3 1.5 .3 1.5 .4 1.5 .4 1.5 .4 1.5 .2 1.5 .2 1.5 .2 1.5 .3 1.5 .3 1.5 .3 1.5 .5 1.5 .4 1.5 .4 1.5 .3 1.5 .2 1.5 .2 1.5 .3 1.5 .4 1.5 .6 1.5 .6 1.5 .5 1.5 .5 1.5 .4 1.5 .3 1.5 .4 1.5 .3 1.5 .5 1.5 .4 1.5 .5 1.5 .4 1.5 .4 1.5 .5 1.5 .5 1.5 .7 1.5 .7 1.5 .6 1.5 .4 1.5 .4 1.5 .4 1.5 .4 1.5 .5 1.5 .6 1.5 .6 1.5 .7 1.5 .6 1.5 .7 1.5 .8 1.5 .7 1.5 .8 1.5 .8 1.5 .9 1.5 .9 1.5 .9 1.5 .9 1.5 .8 1.5 .8 1.5 .7 1.5 .7 1.5 .7 1.5 .7 1.5 .8 1.5 .8 1.5 1 1.5 1 1.5 .9 1.5 .9 1.5 .9 1.5 .9 1.5 .9 1.5 .9 1.5 .9 1.5 .9 1.5 .8 1.5 .9 1.5 .9 1.5 .9 1.5 .8 1.5 .6 1.5 .5 1.5 .4 1.5 .6 1.5 .8 1.5 .8 1.5 .8 1.5 .8 1.5 .7 1.5 .8 1.5 .9 1.5 .8 1.5 .8 1.5 .6 1.5 .7 1.5 .8 1.5 .8 1.5 .8 1.5 .7 1.5 .7 1.5 .7 1.5 .8 1.5 .7 1.5 .6 1.5 .6 1.5 .6 1.5 .5 1.5 .6 1.5 .8 1.5 .9 1.5 .9 1.5 .8 1.5 .6 1.5 .5 1.5 .5 1.5 .6 1.5 .6 1.5 .8 1.5 .9 1.5 .9 1.5 .8 1.5 .8 1.5 .6 1.5 .5 1.5 .5 1.5 .5 1.5 .6 1.5 .7 1.5 .7 1.5 .7 1.5 .6 1.5 .7 1.5 .6 1.5 .4 1.5 .5 1.5 .5 1.5 .4 1.5 .6 1.5 .7 1.5 .7 1.5 .7 1.5 .7"/>
<path class="lb" stroke-opacity="0.21" d="M711 45.2l1.5 39 1.5 20.5 1.5 11.4 1.5 7.9 1.5 5.9 1.5 3.2 1.5 2 1.5 1.6 1.5 1.3 1.5 1.2 1.5 1.2 1.5 1 1.5 .8 1.5 .6 1.5 .6 1.5 .5 1.5 .6 1.5 .6 1.5 .8 1.5 .6 1.5 .5 1.5 .4 1.5 .3 1.5 .3 1.5 .6 1.5 .6 1.5 .7 1.5 .5 1.5 .2 1.5-.1 1.5-.1 1.5 0 1.5 .2 1.5 .3 1.5 .5 1.5 .4 1.5 .3 1.5 .3 1.5 .2 1.5 .3 1.5 .2 1.5 .1 1.5 .1 1.5 .1 1.5 .3 1.5 .4 1.5 .4 1.5 .3 1.5 .3 1.5 .2 1.5 .2 1.5 .3 1.5 .4 1.5 .2 1.5 .1 1.5 0 1.5 0 1.5 .1 1.5 .1 1.5 .3 1.5 .2 1.5 .3 1.5 .3 1.5 .3 1.5 .3 1.5 .2 1.5 .2 1.5 .2 1.5 .2 1.5 .4 1.5 .3 1.5 .2 1.5 .1 1.5 .2 1.5 .1 1.5 .2 1.5 .2 1.5 .1 1.5 .2 1.5 .2 1.5 .2 1.5 .3 1.5 .3 1.5 .4 1.5 .5 1.5 .6 1.5 .7 1.5 .5 1.5 .5 1.5 .4 1.5 .4 1.5 .3 1.5 .3 1.5 .4 1.5 .5 1.5 .6 1.5 .6 1.5 .6 1.5 .6 1.5 .5 1.5 .3 1.5 .3 1.5 .1 1.5 0 1.5 .1 1.5 .2 1.5 .4 1.5 .5 1.5 .6 1.5 .6 1.5 .5 1.5 .6 1.5 .5 1.5 .5 1.5 .4 1.5 .5 1.5 .4 1.5 .5 1.5 .5 1.5 .5 1.5 .4 1.5 .4 1.5 .4 1.5 .4 1.5 .5 1.5 .3 1.5 .4 1.5 .4 1.5 .5 1.5 .4 1.5 .5 1.5 .6 1.5 .5 1.5 .6 1.5 .4 1.5 .5 1.5 .4 1.5 .5 1.5 .5 1.5 .5 1.5 .5 1.5 .6 1.5 .5 1.5 .5 1.5 .6 1.5 .7 1.5 .8 1.5 .7 1.5 .7 1.5 .5 1.5 .5 1.5 .5 1.5 .6 1.5 .7 1.5 .7 1.5 .6 1.5 .5 1.5 .4 1.5 .4 1.5 .4 1.5 .5 1.5 .6 1.5 .8 1.5 .7 1.5 .8 1.5 .7 1.5 .6 1.5 .5 1.5 .5 1.5 .6 1.5 .6 1.5 .7 1.5 .6 1.5 .6 1.5 .6 1.5 .7 1.5 .7 1.5 .8 1.5 .7 1.5 .7 1.5 .6 1.5 .4 1.5 .4 1.5 .4 1.5 .5 1.5 .5 1.5 .5 1.5 .6 1.5 .5 1.5 .6 1.5 .6 1.5 .6 1.5 .6 1.5 .5 1.5 .6 1.5 .7 1.5 .7 1.5 .7 1.5 .7 1.5 .6 1.5 .6 1.5 .5 1.5 .6 1.5 .6 1.5 .6 1.5 .6 1.5 .7 1.5 .7 1.5 .7 1.5 .7 1.5 .6 1.5 .4 1.5 .4 1.5 .3 1.5 .4 1.5 .4 1.5 .4 1.5 .4 1.5 .5 1.5 .5 1.5 .6 1.5 .6 1.5 .5 1.5 .5 1.5 .6 1.5 .6 1.5 .6 1.5 .5 1.5 .5 1.5 .4 1.5 .4 1.5 .4 1.5 .4 1.5 .4 1.5 .5 1.5 .5 1.5 .5 1.5 .6 1.5 .5 1.5 .5 1.5 .5 1.5 .4 1.5 .4 1.5 .4 1.5 .4 1.5 .4 1.5 .6 1.5 .6 1.5 .8 1.5 .7 1.5 .7 1.5 .5 1.5 .4 1.5 .4 1.5 .4 1.5 .5 1.5 .6 1.5 .7 1.5 .7 1.5 .6 1.5 .5 1.5 .6 1.5 .5 1.5 .5 1.5 .4 1.5 .2 1.5 .3 1.5 .3 1.5 .3 1.5 .4 1.5 .5 1.5 .5 1.5 .6 1.5 .4 1.5 .4 1.5 .3 1.5 .3 1.5 .4 1.5 .5 1.5 .5 1.5 .7 1.5 .7 1.5 .8 1.5 .8 1.5 .7 1.5 .8 1.5 .6 1.5 .6 1.5 .5 1.5 .4 1.5 .4 1.5 .4 1.5 .5 1.5 .6 1.5 .6 1.5 .6 1.5 .6 1.5 .8 1.5 .8 1.5 .7 1.5 .7 1.5 .8 1.5 .8 1.5 .8 1.5 .8 1.5 .7 1.5 .6 1.5 .4 1.5 .3 1.5 .3 1.5 .6 1.5 .7 1.5 1 1.5 .9 1.5 1 1.5 .9 1.5 .8 1.5 .8 1.5 .8 1.5 .7 1.5 .9 1.5 .9 1.5 .8 1.5 .9 1.5 .7 1.5 .7 1.5 .6 1.5 .6 1.5 .6 1.5 .6 1.5 .7 1.5 .7 1.5 .7 1.5 .7 1.5 .9 1.5 .8 1.5 .9 1.5 .9 1.5 .8 1.5 .7 1.5 .7 1.5 .6 1.5 .5 1.5 .6 1.5 .7 1.5 .7 1.5 .9 1.5 .9 1.5 .9 1.5 .8 1.5 .7 1.5 .6 1.5 .6 1.5 .6 1.5 .7 1.5 .8 1.5 .7 1.5 .7 1.5 .5 1.5 .6 1.5 .7 1.5 .8 1.5 .8 1.5 .9 1.5 .9 1.5 .8 1.5 .8 1.5 .7 1.5 .7 1.5 .8 1.5 .7 1.5 .5"/>
<path class="lb" stroke-opacity="0.20" d="M711 51.1l1.5 39.7 1.5 20.9 1.5 11.6 1.5 8.1 1.5 6 1.5 3.6 1.5 2.2 1.5 1.7 1.5 1.4 1.5 1.1 1.5 1 1.5 .9 1.5 .6 1.5 .5 1.5 .5 1.5 .6 1.5 .6 1.5 .6 1.5 .8 1.5 .6 1.5 .7 1.5 .4 1.5 .4 1.5 .2 1.5 .1 1.5 .2 1.5 .1 1.5 .1 1.5 0 1.5 .1 1.5 .1 1.5 .2 1.5 .4 1.5 .3 1.5 .4 1.5 .2 1.5 .2 1.5 0 1.5 .1 1.5-.1 1.5 .1 1.5 .1 1.5 0 1.5 .1 1.5 0 1.5-.1 1.5 0 1.5 .1 1.5 .2 1.5 .3 1.5 .2 1.5 0 1.5-.1 1.5 0 1.5 0 1.5 .1 1.5 .2 1.5 .3 1.5 .2 1.5 0 1.5 .1 1.5 0 1.5 0 1.5 .1 1.5 0 1.5-.1 1.5-.3 1.5-.2 1.5-.2 1.5 0 1.5 .1 1.5 .1 1.5 0 1.5 .1 1.5 .1 1.5 .2 1.5 .3 1.5 .3 1.5 .5 1.5 .6 1.5 .6 1.5 .5 1.5 .3 1.5 .1 1.5 .1 1.5 0 1.5 .1 1.5 .2 1.5 .4 1.5 .5 1.5 .5 1.5 .5 1.5 .5 1.5 .4 1.5 .4 1.5 .5 1.5 .8 1.5 .8 1.5 .7 1.5 .6 1.5 .4 1.5 .2 1.5 .2 1.5 .2 1.5 .3 1.5 .3 1.5 .5 1.5 .6 1.5 .7 1.5 .6 1.5 .3 1.5 .2 1.5 .2 1.5 .3 1.5 .5 1.5 .6 1.5 .6 1.5 .6 1.5 .4 1.5 .5 1.5 .4 1.5 .3 1.5 .3 1.5 .2 1.5 .2 1.5 .3 1.5 .4 1.5 .5 1.5 .6 1.5 .5 1.5 .6 1.5 .5 1.5 .6 1.5 .5 1.5 .6 1.5 .6 1.5 .5 1.5 .5 1.5 .6 1.5 .6 1.5 .6 1.5 .7 1.5 .7 1.5 .7 1.5 .5 1.5 .4 1.5 .3 1.5 .4 1.5 .6 1.5 .8 1.5 .9 1.5 .8 1.5 .7 1.5 .5 1.5 .4 1.5 .5 1.5 .5 1.5 .5 1.5 .6 1.5 .5 1.5 .6 1.5 .6 1.5 .8 1.5 .6 1.5 .6 1.5 .4 1.5 .5 1.5 .6 1.5 .8 1.5 .7 1.5 .7 1.5 .5 1.5 .4 1.5 .4 1.5 .4 1.5 .4 1.5 .5 1.5 .6 1.5 .5 1.5 .5 1.5 .6 1.5 .8 1.5 .6 1.5 .6 1.5 .5 1.5 .7 1.5 .8 1.5 .9 1.5 .9 1.5 .8 1.5 .7 1.5 .5 1.5 .5 1.5 .4 1.5 .4 1.5 .5 1.5 .6 1.5 .8 1.5 .7 1.5 .8 1.5 .7 1.5 .6 1.5 .6 1.5 .6 1.5 .8 1.5 .9 1.5 .8 1.5 .8 1.5 .6 1.5 .6 1.5 .5 1.5 .6 1.5 .7 1.5 .7 1.5 .8 1.5 .8 1.5 .6 1.5 .6 1.5 .5 1.5 .6 1.5 .5 1.5 .5 1.5 .5 1.5 .4 1.5 .5 1.5 .4 1.5 .5 1.5 .5 1.5 .5 1.5 .6 1.5 .6 1.5 .5 1.5 .4 1.5 .3 1.5 .3 1.5 .3 1.5 .5 1.5 .6 1.5 .7 1.5 .6 1.5 .6 1.5 .7 1.5 .6 1.5 .6 1.5 .4 1.5 .3 1.5 .3 1.5 .4 1.5 .4 1.5 .5 1.5 .6 1.5 .6 1.5 .6 1.5 .6 1.5 .5 1.5 .5 1.5 .5 1.5 .5 1.5 .4 1.5 .5 1.5 .4 1.5 .4 1.5 .4 1.5 .5 1.5 .5 1.5 .5 1.5 .4 1.5 .3 1.5 .4 1.5 .4 1.5 .5 1.5 .5 1.5 .5 1.5 .5 1.5 .6 1.5 .6 1.5 .6 1.5 .8 1.5 .7 1.5 .6 1.5 .6 1.5 .6 1.5 .7 1.5 .7 1.5 .7 1.5 .7 1.5 .8 1.5 .7 1.5 .6 1.5 .4 1.5 .5 1.5 .5 1.5 .6 1.5 .6 1.5 .7 1.5 .7 1.5 .6 1.5 .7 1.5 .6 1.5 .6 1.5 .5 1.5 .6 1.5 .7 1.5 .6 1.5 .7 1.5 .8 1.5 .7 1.5 .7 1.5 .6 1.5 .7 1.5 .6 1.5 .7 1.5 .8 1.5 .9 1.5 .8 1.5 .8 1.5 .6 1.5 .5 1.5 .4 1.5 .5 1.5 .6 1.5 .5 1.5 .6 1.5 .6 1.5 .6 1.5 .6 1.5 .7 1.5 .7 1.5 .7 1.5 .7 1.5 .7 1.5 .6 1.5 .5 1.5 .6 1.5 .6 1.5 .6 1.5 .5 1.5 .5 1.5 .4 1.5 .6 1.5 .7 1.5 .9 1.5 .9 1.5 .9 1.5 .7 1.5 .7 1.5 .5 1.5 .6 1.5 .6 1.5 .7 1.5 .8 1.5 .7 1.5 .6 1.5 .6 1.5 .6 1.5 .5 1.5 .5 1.5 .7 1.5 .6 1.5 .7 1.5 .7 1.5 .6 1.5 .6 1.5 .5 1.5 .6 1.5 .5 1.5 .5 1.5 .6 1.5 .5 1.5 .5 1.5 .5 1.5 .6"/>
<path class="lb" stroke-opacity="0.19" d="M711 48.4l1.5 40.5 1.5 21.3 1.5 11.7 1.5 8 1.5 5.9 1.5 3.4 1.5 2.1 1.5 1.5 1.5 1.2 1.5 1 1.5 .8 1.5 .7 1.5 .6 1.5 .7 1.5 .8 1.5 .7 1.5 .7 1.5 .6 1.5 .6 1.5 .4 1.5 .4 1.5 .3 1.5 .3 1.5 .3 1.5 .4 1.5 .4 1.5 .3 1.5 .3 1.5 .2 1.5 .2 1.5 .2 1.5 0 1.5-.1 1.5 0 1.5 0 1.5 0 1.5 .1 1.5 .2 1.5 .1 1.5 .3 1.5 .3 1.5 .2 1.5 .2 1.5 .1 1.5 .1 1.5 .2 1.5 .2 1.5 .3 1.5 .2 1.5 .1 1.5 .2 1.5 .1 1.5 .2 1.5 .2 1.5 .2 1.5 .1 1.5 .1 1.5 .1 1.5 0 1.5-.1 1.5-.1 1.5-.3 1.5-.1 1.5 0 1.5 .2 1.5 .3 1.5 .3 1.5 .4 1.5 .3 1.5 .2 1.5 .2 1.5 .1 1.5 .2 1.5 .2 1.5 .2 1.5 .3 1.5 .4 1.5 .4 1.5 .4 1.5 .3 1.5 .4 1.5 .5 1.5 .6 1.5 .5 1.5 .4 1.5 .3 1.5 .2 1.5 .3 1.5 .3 1.5 .3 1.5 .3 1.5 .4 1.5 .4 1.5 .4 1.5 .5 1.5 .5 1.5 .4 1.5 .5 1.5 .6 1.5 .7 1.5 .8 1.5 .7 1.5 .4 1.5 .3 1.5 .3 1.5 .3 1.5 .4 1.5 .5 1.5 .5 1.5 .5 1.5 .4 1.5 .4 1.5 .3 1.5 .4 1.5 .3 1.5 .4 1.5 .5 1.5 .4 1.5 .4 1.5 .3 1.5 .3 1.5 .4 1.5 .4 1.5 .5 1.5 .4 1.5 .4 1.5 .4 1.5 .4 1.5 .4 1.5 .3 1.5 .4 1.5 .4 1.5 .4 1.5 .4 1.5 .3 1.5 .4 1.5 .5 1.5 .6 1.5 .5 1.5 .6 1.5 .4 1.5 .4 1.5 .3 1.5 .3 1.5 .4 1.5 .5 1.5 .6 1.5 .7 1.5 .6 1.5 .7 1.5 .6 1.5 .6 1.5 .5 1.5 .5 1.5 .5 1.5 .5 1.5 .4 1.5 .3 1.5 .3 1.5 .3 1.5 .5 1.5 .7 1.5 .8 1.5 .8 1.5 .7 1.5 .5 1.5 .4 1.5 .6 1.5 .6 1.5 .8 1.5 .8 1.5 .7 1.5 .6 1.5 .6 1.5 .5 1.5 .4 1.5 .5 1.5 .6 1.5 .8 1.5 .9 1.5 1.1 1.5 1 1.5 .9 1.5 .7 1.5 .6 1.5 .4 1.5 .5 1.5 .5 1.5 .6 1.5 .5 1.5 .4 1.5 .6 1.5 .7 1.5 .9 1.5 .8 1.5 .8 1.5 .7 1.5 .5 1.5 .6 1.5 .5 1.5 .6 1.5 .7 1.5 .7 1.5 .7 1.5 .6 1.5 .6 1.5 .5 1.5 .5 1.5 .4 1.5 .4 1.5 .4 1.5 .5 1.5 .5 1.5 .4 1.5 .6 1.5 .4 1.5 .5 1.5 .4 1.5 .3 1.5 .3 1.5 .4 1.5 .4 1.5 .4 1.5 .4 1.5 .4 1.5 .3 1.5 .3 1.5 .3 1.5 .4 1.5 .6 1.5 .7 1.5 .6 1.5 .6 1.5 .5 1.5 .3 1.5 .3 1.5 .3 1.5 .3 1.5 .3 1.5 .3 1.5 .4 1.5 .5 1.5 .5 1.5 .6 1.5 .6 1.5 .7 1.5 .7 1.5 .6 1.5 .6 1.5 .6 1.5 .7 1.5 .9 1.5 .9 1.5 .9 1.5 .6 1.5 .4 1.5 .3 1.5 .3 1.5 .5 1.5 .5 1.5 .6 1.5 .7 1.5 .6 1.5 .7 1.5 .6 1.5 .5 1.5 .7 1.5 .6 1.5 .7 1.5 .7 1.5 .7 1.5 .6 1.5 .8 1.5 .8 1.5 .9 1.5 .9 1.5 .9 1.5 .7 1.5 .6 1.5 .7 1.5 .7 1.5 .8 1.5 .6 1.5 .7 1.5 .6 1.5 .8 1.5 .8 1.5 .9 1.5 .7 1.5 .7 1.5 .7 1.5 .6 1.5 .6 1.5 .7 1.5 .8 1.5 .9 1.5 .9 1.5 .9 1.5 .9 1.5 .7 1.5 .8 1.5 .7 1.5 .6 1.5 .6 1.5 .7 1.5 .7 1.5 .7 1.5 .6 1.5 .6 1.5 .6 1.5 .6 1.5 .5 1.5 .7 1.5 .7 1.5 .9 1.5 .9 1.5 .8 1.5 .6 1.5 .6 1.5 .5 1.5 .6 1.5 .6 1.5 .6 1.5 .6 1.5 .4 1.5 .4 1.5 .4 1.5 .5 1.5 .6 1.5 .7 1.5 .7 1.5 .8 1.5 .7 1.5 .6 1.5 .5 1.5 .4 1.5 .3 1.5 .3 1.5 .4 1.5 .6 1.5 .6 1.5 .6 1.5 .5 1.5 .4 1.5 .4 1.5 .4 1.5 .5 1.5 .4 1.5 .6 1.5 .5 1.5 .6 1.5 .6 1.5 .7 1.5 .6 1.5 .6 1.5 .5 1.5 .4 1.5 .6 1.5 .6 1.5 .7 1.5 .7 1.5 .6 1.5 .5 1.5 .6 1.5 .7 1.5 .6 1.5 .6 1.5 .6 1.5 .5 1.5 .5 1.5 .6 1.5 .7"/>
<path class="lb" stroke-opacity="0.17" d="M711 53.5l1.5 41.2 1.5 21.3 1.5 11.7 1.5 8 1.5 5.9 1.5 3.5 1.5 2.1 1.5 1.6 1.5 1.3 1.5 1.1 1.5 .9 1.5 .7 1.5 .6 1.5 .6 1.5 .5 1.5 .5 1.5 .4 1.5 .4 1.5 .4 1.5 .5 1.5 .5 1.5 .5 1.5 .5 1.5 .3 1.5 .3 1.5 .1 1.5 .2 1.5 .1 1.5 .2 1.5 .2 1.5 .1 1.5 .1 1.5 0 1.5 0 1.5 0 1.5 .1 1.5 .2 1.5 .3 1.5 .3 1.5 .4 1.5 .3 1.5 .3 1.5 .2 1.5 .1 1.5 .1 1.5 .1 1.5 0 1.5-.1 1.5-.1 1.5-.2 1.5-.1 1.5-.1 1.5 .1 1.5 0 1.5 .1 1.5 .1 1.5 0 1.5 0 1.5 0 1.5 .2 1.5 .1 1.5 .1 1.5-.1 1.5-.2 1.5-.1 1.5 0 1.5 .2 1.5 .3 1.5 .3 1.5 .2 1.5-.1 1.5-.2 1.5-.2 1.5-.1 1.5 .1 1.5 .2 1.5 .2 1.5 .3 1.5 .3 1.5 .4 1.5 .3 1.5 .3 1.5 .2 1.5 0 1.5 .1 1.5 .2 1.5 .4 1.5 .4 1.5 .4 1.5 .4 1.5 .5 1.5 .5 1.5 .5 1.5 .7 1.5 .6 1.5 .5 1.5 .4 1.5 .2 1.5 .1 1.5 .2 1.5 .2 1.5 .4 1.5 .4 1.5 .4 1.5 .4 1.5 .5 1.5 .5 1.5 .6 1.5 .4 1.5 .5 1.5 .6 1.5 .6 1.5 .7 1.5 .5 1.5 .5 1.5 .3 1.5 .4 1.5 .3 1.5 .5 1.5 .6 1.5 .6 1.5 .7 1.5 .5 1.5 .4 1.5 .4 1.5 .3 1.5 .4 1.5 .2 1.5 .3 1.5 .5 1.5 .5 1.5 .6 1.5 .6 1.5 .6 1.5 .6 1.5 .7 1.5 .8 1.5 .8 1.5 .8 1.5 .8 1.5 .7 1.5 .8 1.5 .7 1.5 .5 1.5 .4 1.5 .4 1.5 .5 1.5 .7 1.5 .8 1.5 .8 1.5 .8 1.5 .6 1.5 .6 1.5 .7 1.5 .7 1.5 .8 1.5 .7 1.5 .8 1.5 .8 1.5 .7 1.5 .6 1.5 .7 1.5 .6 1.5 .8 1.5 .8 1.5 .9 1.5 .8 1.5 .7 1.5 .6 1.5 .5 1.5 .7 1.5 .6 1.5 .7 1.5 .6 1.5 .4 1.5 .5 1.5 .5 1.5 .5 1.5 .5 1.5 .6 1.5 .5 1.5 .5 1.5 .6 1.5 .6 1.5 .6 1.5 .8 1.5 .7 1.5 .7 1.5 .5 1.5 .5 1.5 .4 1.5 .3 1.5 .3 1.5 .2 1.5 .4 1.5 .6 1.5 .6 1.5 .6 1.5 .6 1.5 .4 1.5 .3 1.5 .3 1.5 .3 1.5 .3 1.5 .3 1.5 .3 1.5 .4 1.5 .5 1.5 .6 1.5 .5 1.5 .6 1.5 .4 1.5 .4 1.5 .5 1.5 .3 1.5 .4 1.5 .3 1.5 .3 1.5 .3 1.5 .4 1.5 .5 1.5 .5 1.5 .5 1.5 .4 1.5 .4 1.5 .3 1.5 .3 1.5 .3 1.5 .4 1.5 .4 1.5 .5 1.5 .4 1.5 .4 1.5 .4 1.5 .3 1.5 .1 1.5 .2 1.5 .2 1.5 .4 1.5 .5 1.5 .6 1.5 .5 1.5 .4 1.5 .4 1.5 .4 1.5 .4 1.5 .5 1.5 .6 1.5 .6 1.5 .7 1.5 .7 1.5 .6 1.5 .6 1.5 .5 1.5 .4 1.5 .4 1.5 .4 1.5 .3 1.5 .3 1.5 .3 1.5 .3 1.5 .3 1.5 .5 1.5 .7 1.5 .8 1.5 .9 1.5 .8 1.5 .6 1.5 .6 1.5 .7 1.5 .6 1.5 .5 1.5 .5 1.5 .5 1.5 .6 1.5 .7 1.5 .9 1.5 .7 1.5 .6 1.5 .6 1.5 .7 1.5 .7 1.5 .7 1.5 .8 1.5 .8 1.5 .8 1.5 .8 1.5 .9 1.5 .8 1.5 .7 1.5 .5 1.5 .6 1.5 .5 1.5 .5 1.5 .6 1.5 .6 1.5 .7 1.5 .9 1.5 1 1.5 .9 1.5 .8 1.5 .7 1.5 .6 1.5 .6 1.5 .7 1.5 .8 1.5 .9 1.5 .8 1.5 .8 1.5 .7 1.5 .7 1.5 .7 1.5 .7 1.5 .7 1.5 .8 1.5 .7 1.5 .7 1.5 .6 1.5 .5 1.5 .5 1.5 .6 1.5 .7 1.5 .8 1.5 .8 1.5 .9 1.5 .7 1.5 .7 1.5 .6 1.5 .6 1.5 .6 1.5 .6 1.5 .6 1.5 .7 1.5 .8 1.5 .7 1.5 .7 1.5 .7 1.5 .7 1.5 .8 1.5 .7 1.5 .7 1.5 .6 1.5 .5 1.5 .6 1.5 .6 1.5 .6 1.5 .7 1.5 .8 1.5 .9 1.5 .9 1.5 .7 1.5 .6 1.5 .5 1.5 .5 1.5 .4 1.5 .5 1.5 .6 1.5 .8 1.5 .9 1.5 .9 1.5 .8 1.5 .7 1.5 .6 1.5 .4 1.5 .4 1.5 .5 1.5 .6 1.5 .8 1.5 .8 1.5 .7 1.5 .7 1.5 .6"/>
<path class="lb" stroke-opacity="0.16" d="M711 49.3l1.5 41.9 1.5 21.9 1.5 12.1 1.5 8.3 1.5 6.2 1.5 3.7 1.5 2.4 1.5 1.9 1.5 1.5 1.5 1.2 1.5 1 1.5 .9 1.5 .7 1.5 .7 1.5 .6 1.5 .5 1.5 .5 1.5 .5 1.5 .4 1.5 .3 1.5 .4 1.5 .5 1.5 .5 1.5 .5 1.5 .4 1.5 .3 1.5 .2 1.5 .4 1.5 .3 1.5 .2 1.5 0 1.5 .1 1.5 0 1.5 .1 1.5 .2 1.5 .3 1.5 .3 1.5 .3 1.5 .2 1.5 .1 1.5 .1 1.5 .1 1.5 0 1.5 0 1.5-.1 1.5 0 1.5 .1 1.5 .3 1.5 .3 1.5 .4 1.5 .3 1.5 .2 1.5 .2 1.5 .2 1.5 0 1.5 0 1.5-.1 1.5-.1 1.5 0 1.5 .1 1.5 .1 1.5 .2 1.5 .2 1.5 .1 1.5 .1 1.5 0 1.5-.1 1.5-.1 1.5 .1 1.5 .3 1.5 .4 1.5 .5 1.5 .4 1.5 .4 1.5 .3 1.5 .3 1.5 .3 1.5 .3 1.5 .2 1.5 .2 1.5 .2 1.5 .2 1.5 .2 1.5 .2 1.5 .4 1.5 .4 1.5 .6 1.5 .5 1.5 .3 1.5 .1 1.5 .2 1.5 .3 1.5 .4 1.5 .5 1.5 .6 1.5 .6 1.5 .7 1.5 .6 1.5 .7 1.5 .6 1.5 .5 1.5 .3 1.5 .2 1.5 .2 1.5 .3 1.5 .6 1.5 .6 1.5 .6 1.5 .5 1.5 .3 1.5 .3 1.5 .4 1.5 .5 1.5 .7 1.5 .7 1.5 .9 1.5 .8 1.5 .8 1.5 .7 1.5 .7 1.5 .5 1.5 .5 1.5 .4 1.5 .4 1.5 .3 1.5 .5 1.5 .4 1.5 .6 1.5 .6 1.5 .7 1.5 .6 1.5 .6 1.5 .7 1.5 .6 1.5 .6 1.5 .5 1.5 .4 1.5 .4 1.5 .5 1.5 .7 1.5 .8 1.5 .9 1.5 .8 1.5 .6 1.5 .6 1.5 .5 1.5 .5 1.5 .6 1.5 .6 1.5 .6 1.5 .6 1.5 .5 1.5 .6 1.5 .6 1.5 .6 1.5 .6 1.5 .7 1.5 .7 1.5 .8 1.5 .7 1.5 .6 1.5 .5 1.5 .5 1.5 .6 1.5 .5 1.5 .5 1.5 .3 1.5 .4 1.5 .5 1.5 .5 1.5 .7 1.5 .6 1.5 .6 1.5 .6 1.5 .6 1.5 .7 1.5 .7 1.5 .6 1.5 .4 1.5 .4 1.5 .2 1.5 .3 1.5 .3 1.5 .4 1.5 .6 1.5 .8 1.5 .8 1.5 .7 1.5 .4 1.5 .3 1.5 .2 1.5 .3 1.5 .4 1.5 .5 1.5 .5 1.5 .4 1.5 .5 1.5 .5 1.5 .6 1.5 .6 1.5 .6 1.5 .4 1.5 .3 1.5 .4 1.5 .3 1.5 .4 1.5 .4 1.5 .4 1.5 .5 1.5 .5 1.5 .4 1.5 .3 1.5 .3 1.5 .2 1.5 .3 1.5 .3 1.5 .4 1.5 .3 1.5 .5 1.5 .5 1.5 .6 1.5 .6 1.5 .5 1.5 .5 1.5 .4 1.5 .3 1.5 .3 1.5 .2 1.5 .2 1.5 .2 1.5 .4 1.5 .6 1.5 .6 1.5 .4 1.5 .3 1.5 .3 1.5 .3 1.5 .4 1.5 .6 1.5 .6 1.5 .5 1.5 .5 1.5 .5 1.5 .4 1.5 .5 1.5 .5 1.5 .5 1.5 .6 1.5 .5 1.5 .7 1.5 .7 1.5 .8 1.5 .8 1.5 .7 1.5 .6 1.5 .3 1.5 .3 1.5 .2 1.5 .3 1.5 .5 1.5 .6 1.5 .7 1.5 .8 1.5 .7 1.5 .6 1.5 .6 1.5 .6 1.5 .7 1.5 .8 1.5 .8 1.5 .8 1.5 .8 1.5 .6 1.5 .6 1.5 .6 1.5 .6 1.5 .7 1.5 .6 1.5 .7 1.5 .7 1.5 .7 1.5 .8 1.5 .8 1.5 .7 1.5 .7 1.5 .8 1.5 1 1.5 1 1.5 1 1.5 .9 1.5 .9 1.5 .8 1.5 .8 1.5 .8 1.5 .8 1.5 .7 1.5 .7 1.5 .6 1.5 .6 1.5 .7 1.5 .7 1.5 .7 1.5 .7 1.5 .6 1.5 .5 1.5 .6 1.5 .7 1.5 .7 1.5 .7 1.5 .7 1.5 .6 1.5 .7 1.5 .8 1.5 .8 1.5 .8 1.5 .8 1.5 .6 1.5 .6 1.5 .5 1.5 .6 1.5 .6 1.5 .5 1.5 .6 1.5 .6 1.5 .5 1.5 .7 1.5 .6 1.5 .5 1.5 .4 1.5 .4 1.5 .5 1.5 .6 1.5 .7 1.5 .6 1.5 .5 1.5 .5 1.5 .5 1.5 .6 1.5 .6 1.5 .5 1.5 .6 1.5 .5 1.5 .5 1.5 .7 1.5 .6 1.5 .6 1.5 .6 1.5 .6 1.5 .7 1.5 .6 1.5 .5 1.5 .3 1.5 .4 1.5 .4 1.5 .5 1.5 .6 1.5 .4 1.5 .4 1.5 .3 1.5 .3 1.5 .5 1.5 .5 1.5 .5 1.5 .6 1.5 .7 1.5 .7 1.5 .7 1.5 .6 1.5 .6 1.5 .6 1.5 .6 1.5 .7"/>
<path class="lb" stroke-opacity="0.15" d="M711 47.3l1.5 42.8 1.5 22.4 1.5 12.4 1.5 8.4 1.5 6.1 1.5 3.6 1.5 2.1 1.5 1.6 1.5 1.3 1.5 1.1 1.5 .9 1.5 .7 1.5 .7 1.5 .7 1.5 .7 1.5 .6 1.5 .7 1.5 .6 1.5 .5 1.5 .5 1.5 .3 1.5 .3 1.5 .1 1.5 .2 1.5 .3 1.5 .3 1.5 .4 1.5 .5 1.5 .6 1.5 .6 1.5 .7 1.5 .5 1.5 .4 1.5 .4 1.5 .3 1.5 .3 1.5 .2 1.5 .3 1.5 .2 1.5 .2 1.5 .2 1.5 .3 1.5 .3 1.5 .3 1.5 .3 1.5 .2 1.5 .2 1.5 .3 1.5 .3 1.5 .4 1.5 .3 1.5 .3 1.5 .3 1.5 .3 1.5 .2 1.5 .3 1.5 .3 1.5 .2 1.5 .2 1.5 .2 1.5 .2 1.5 .4 1.5 .3 1.5 .4 1.5 .3 1.5 .3 1.5 .2 1.5 .2 1.5 .2 1.5 .2 1.5 .3 1.5 .3 1.5 .4 1.5 .4 1.5 .4 1.5 .4 1.5 .3 1.5 .4 1.5 .3 1.5 .3 1.5 .4 1.5 .4 1.5 .3 1.5 .1 1.5 .1 1.5 0 1.5 .1 1.5 .2 1.5 .3 1.5 .3 1.5 .3 1.5 .3 1.5 .3 1.5 .4 1.5 .3 1.5 .4 1.5 .3 1.5 .2 1.5 .3 1.5 .3 1.5 .5 1.5 .5 1.5 .6 1.5 .4 1.5 .5 1.5 .4 1.5 .4 1.5 .4 1.5 .3 1.5 .2 1.5 .3 1.5 .4 1.5 .4 1.5 .4 1.5 .4 1.5 .4 1.5 .4 1.5 .5 1.5 .4 1.5 .5 1.5 .5 1.5 .4 1.5 .3 1.5 .1 1.5 .1 1.5 .2 1.5 .3 1.5 .5 1.5 .5 1.5 .5 1.5 .4 1.5 .5 1.5 .5 1.5 .6 1.5 .6 1.5 .6 1.5 .5 1.5 .5 1.5 .6 1.5 .7 1.5 .7 1.5 .5 1.5 .5 1.5 .3 1.5 .4 1.5 .4 1.5 .6 1.5 .8 1.5 .8 1.5 .8 1.5 .7 1.5 .7 1.5 .5 1.5 .5 1.5 .4 1.5 .5 1.5 .6 1.5 .5 1.5 .5 1.5 .4 1.5 .4 1.5 .4 1.5 .5 1.5 .6 1.5 .7 1.5 .6 1.5 .5 1.5 .6 1.5 .6 1.5 .8 1.5 .8 1.5 .8 1.5 .8 1.5 .6 1.5 .6 1.5 .5 1.5 .5 1.5 .6 1.5 .5 1.5 .6 1.5 .5 1.5 .4 1.5 .5 1.5 .6 1.5 .7 1.5 .6 1.5 .7 1.5 .5 1.5 .5 1.5 .6 1.5 .7 1.5 .7 1.5 .6 1.5 .6 1.5 .5 1.5 .4 1.5 .5 1.5 .5 1.5 .6 1.5 .7 1.5 .6 1.5 .6 1.5 .5 1.5 .3 1.5 .1 1.5 .1 1.5 .2 1.5 .3 1.5 .4 1.5 .5 1.5 .7 1.5 .7 1.5 .5 1.5 .3 1.5 .3 1.5 .4 1.5 .4 1.5 .4 1.5 .5 1.5 .5 1.5 .3 1.5 .2 1.5 .2 1.5 .2 1.5 .3 1.5 .4 1.5 .6 1.5 .5 1.5 .5 1.5 .5 1.5 .5 1.5 .5 1.5 .4 1.5 .5 1.5 .3 1.5 .4 1.5 .2 1.5 .3 1.5 .4 1.5 .5 1.5 .6 1.5 .6 1.5 .7 1.5 .6 1.5 .6 1.5 .6 1.5 .6 1.5 .4 1.5 .4 1.5 .3 1.5 .4 1.5 .5 1.5 .5 1.5 .6 1.5 .5 1.5 .5 1.5 .5 1.5 .6 1.5 .7 1.5 .8 1.5 1 1.5 .9 1.5 .8 1.5 .6 1.5 .5 1.5 .5 1.5 .6 1.5 .6 1.5 .7 1.5 .6 1.5 .5 1.5 .6 1.5 .6 1.5 .7 1.5 .8 1.5 .7 1.5 .7 1.5 .6 1.5 .4 1.5 .5 1.5 .6 1.5 .7 1.5 .8 1.5 .8 1.5 .9 1.5 .8 1.5 .8 1.5 .7 1.5 .7 1.5 .8 1.5 .8 1.5 .7 1.5 .8 1.5 .7 1.5 .8 1.5 .8 1.5 1 1.5 .9 1.5 .8 1.5 .8 1.5 .6 1.5 .6 1.5 .6 1.5 .5 1.5 .4 1.5 .5 1.5 .6 1.5 .7 1.5 .7 1.5 .9 1.5 .9 1.5 .9 1.5 .9 1.5 .7 1.5 .4 1.5 .3 1.5 .3 1.5 .4 1.5 .6 1.5 .7 1.5 .8 1.5 .7 1.5 .6 1.5 .5 1.5 .5 1.5 .6 1.5 .6 1.5 .7 1.5 .7 1.5 .7 1.5 .7 1.5 .5 1.5 .6 1.5 .5 1.5 .5 1.5 .6 1.5 .6 1.5 .5 1.5 .7 1.5 .7 1.5 .8 1.5 .6 1.5 .5 1.5 .5 1.5 .6 1.5 .7 1.5 .7 1.5 .7 1.5 .7 1.5 .5 1.5 .5 1.5 .6 1.5 .6 1.5 .6 1.5 .6 1.5 .6 1.5 .6 1.5 .4 1.5 .5 1.5 .4 1.5 .4 1.5 .4 1.5 .5 1.5 .7 1.5 .7 1.5 .7 1.5 .6 1.5 .6 1.5 .6 1.5 .6 1.5 .6 1.5 .6"/>
<path class="lb" stroke-opacity="0.14" d="M711 47.8l1.5 43.9 1.5 23 1.5 12.9 1.5 8.6 1.5 6.3 1.5 3.8 1.5 2.2 1.5 1.7 1.5 1.3 1.5 1 1.5 .7 1.5 .6 1.5 .6 1.5 .7 1.5 .7 1.5 .7 1.5 .5 1.5 .5 1.5 .4 1.5 .4 1.5 .4 1.5 .5 1.5 .4 1.5 .3 1.5 .2 1.5 0 1.5 0 1.5 .1 1.5 .1 1.5 .2 1.5 .3 1.5 .3 1.5 .2 1.5 .3 1.5 .2 1.5 .1 1.5 .1 1.5 .1 1.5 0 1.5 .1 1.5 0 1.5 0 1.5 .1 1.5 .1 1.5 .2 1.5 .2 1.5 .1 1.5 .3 1.5 .3 1.5 .3 1.5 .1 1.5 .1 1.5 .1 1.5 .1 1.5-.1 1.5-.2 1.5-.1 1.5 0 1.5 .2 1.5 .1 1.5 .1 1.5 .2 1.5 .2 1.5 .2 1.5 .2 1.5 .2 1.5 .2 1.5 .4 1.5 .4 1.5 .5 1.5 .3 1.5 .3 1.5 .1 1.5 .1 1.5 .1 1.5 .2 1.5 .3 1.5 .2 1.5 .3 1.5 .4 1.5 .5 1.5 .4 1.5 .4 1.5 .3 1.5 .3 1.5 .3 1.5 .3 1.5 .5 1.5 .5 1.5 .6 1.5 .6 1.5 .6 1.5 .5 1.5 .6 1.5 .4 1.5 .4 1.5 .4 1.5 .4 1.5 .4 1.5 .4 1.5 .4 1.5 .5 1.5 .5 1.5 .6 1.5 .7 1.5 .8 1.5 .9 1.5 .8 1.5 .7 1.5 .5 1.5 .4 1.5 .3 1.5 .3 1.5 .5 1.5 .7 1.5 .8 1.5 .7 1.5 .7 1.5 .5 1.5 .5 1.5 .4 1.5 .5 1.5 .5 1.5 .7 1.5 .7 1.5 .7 1.5 .6 1.5 .5 1.5 .4 1.5 .2 1.5 .2 1.5 .4 1.5 .6 1.5 .7 1.5 .6 1.5 .5 1.5 .5 1.5 .5 1.5 .4 1.5 .6 1.5 .6 1.5 .6 1.5 .7 1.5 .6 1.5 .5 1.5 .6 1.5 .6 1.5 .7 1.5 .7 1.5 .6 1.5 .4 1.5 .3 1.5 .3 1.5 .4 1.5 .5 1.5 .6 1.5 .7 1.5 .6 1.5 .7 1.5 .7 1.5 .6 1.5 .7 1.5 .6 1.5 .5 1.5 .4 1.5 .3 1.5 .2 1.5 .2 1.5 .3 1.5 .5 1.5 .5 1.5 .6 1.5 .7 1.5 .6 1.5 .7 1.5 .6 1.5 .5 1.5 .4 1.5 .4 1.5 .5 1.5 .6 1.5 .5 1.5 .4 1.5 .5 1.5 .5 1.5 .5 1.5 .5 1.5 .5 1.5 .6 1.5 .6 1.5 .7 1.5 .6 1.5 .6 1.5 .5 1.5 .5 1.5 .6 1.5 .6 1.5 .6 1.5 .4 1.5 .4 1.5 .5 1.5 .7 1.5 .7 1.5 .7 1.5 .6 1.5 .6 1.5 .5 1.5 .4 1.5 .4 1.5 .5 1.5 .6 1.5 .5 1.5 .5 1.5 .4 1.5 .5 1.5 .4 1.5 .4 1.5 .3 1.5 .4 1.5 .4 1.5 .5 1.5 .4 1.5 .3 1.5 .5 1.5 .4 1.5 .5 1.5 .5 1.5 .4 1.5 .3 1.5 .5 1.5 .4 1.5 .5 1.5 .4 1.5 .4 1.5 .4 1.5 .4 1.5 .6 1.5 .6 1.5 .6 1.5 .4 1.5 .4 1.5 .4 1.5 .5 1.5 .5 1.5 .6 1.5 .5 1.5 .4 1.5 .2 1.5 .2 1.5 .2 1.5 .3 1.5 .4 1.5 .5 1.5 .6 1.5 .7 1.5 .6 1.5 .5 1.5 .4 1.5 .3 1.5 .3 1.5 .3 1.5 .5 1.5 .6 1.5 .7 1.5 .8 1.5 .7 1.5 .7 1.5 .5 1.5 .4 1.5 .4 1.5 .4 1.5 .4 1.5 .5 1.5 .4 1.5 .6 1.5 .6 1.5 .8 1.5 .9 1.5 1 1.5 .9 1.5 .8 1.5 .7 1.5 .6 1.5 .6 1.5 .6 1.5 .7 1.5 .6 1.5 .5 1.5 .4 1.5 .5 1.5 .6 1.5 .7 1.5 .7 1.5 .8 1.5 .8 1.5 .8 1.5 .7 1.5 .7 1.5 .7 1.5 .7 1.5 .7 1.5 .7 1.5 .9 1.5 .8 1.5 .7 1.5 .7 1.5 .7 1.5 .7 1.5 .8 1.5 .8 1.5 .9 1.5 .7 1.5 .6 1.5 .6 1.5 .5 1.5 .6 1.5 .7 1.5 .8 1.5 .8 1.5 .8 1.5 .9 1.5 .9 1.5 .9 1.5 .7 1.5 .6 1.5 .6 1.5 .6 1.5 .7 1.5 .8 1.5 .7 1.5 .7 1.5 .6 1.5 .7 1.5 .6 1.5 .7 1.5 .7 1.5 .7 1.5 .7 1.5 .8 1.5 .9 1.5 .8 1.5 .8 1.5 .8 1.5 .5 1.5 .5 1.5 .4 1.5 .6 1.5 .7 1.5 .9 1.5 .8 1.5 .7 1.5 .5 1.5 .5 1.5 .6 1.5 .8 1.5 .7 1.5 .7 1.5 .6 1.5 .7 1.5 .6 1.5 .5 1.5 .5 1.5 .5 1.5 .5 1.5 .6 1.5 .6 1.5 .7 1.5 .8 1.5 .7 1.5 .7 1.5 .7 1.5 .6"/>
<path class="lb" stroke-opacity="0.13" d="M711 51.3l1.5 44.4 1.5 23.1 1.5 12.8 1.5 8.5 1.5 6.1 1.5 3.6 1.5 2.2 1.5 1.9 1.5 1.4 1.5 1 1.5 .7 1.5 .4 1.5 .5 1.5 .7 1.5 .9 1.5 .8 1.5 .7 1.5 .4 1.5 .2 1.5 .1 1.5 .1 1.5 .1 1.5 .2 1.5 .2 1.5 .2 1.5 .3 1.5 .1 1.5 .2 1.5 .2 1.5 .1 1.5 .2 1.5 .1 1.5 .1 1.5 .2 1.5 .1 1.5 .1 1.5 .3 1.5 .3 1.5 .4 1.5 .4 1.5 .3 1.5 .3 1.5 .1 1.5 .1 1.5 .1 1.5 0 1.5 .2 1.5 .2 1.5 .3 1.5 .3 1.5 .3 1.5 .3 1.5 .4 1.5 .3 1.5 .4 1.5 .3 1.5 .3 1.5 .2 1.5 .2 1.5 .3 1.5 .4 1.5 .4 1.5 .5 1.5 .3 1.5 .2 1.5 0 1.5 0 1.5 .1 1.5 .2 1.5 .3 1.5 .3 1.5 .4 1.5 .3 1.5 .5 1.5 .5 1.5 .5 1.5 .3 1.5 .3 1.5 .1 1.5 .1 1.5 .2 1.5 .2 1.5 .3 1.5 .5 1.5 .4 1.5 .4 1.5 .5 1.5 .6 1.5 .6 1.5 .5 1.5 .4 1.5 .3 1.5 .2 1.5 .3 1.5 .3 1.5 .4 1.5 .3 1.5 .3 1.5 .2 1.5 .4 1.5 .4 1.5 .5 1.5 .5 1.5 .4 1.5 .3 1.5 .4 1.5 .4 1.5 .5 1.5 .7 1.5 .6 1.5 .5 1.5 .3 1.5 .4 1.5 .4 1.5 .4 1.5 .4 1.5 .4 1.5 .6 1.5 .6 1.5 .6 1.5 .6 1.5 .4 1.5 .4 1.5 .3 1.5 .2 1.5 .4 1.5 .5 1.5 .6 1.5 .6 1.5 .6 1.5 .5 1.5 .5 1.5 .6 1.5 .6 1.5 .6 1.5 .5 1.5 .4 1.5 .5 1.5 .6 1.5 .7 1.5 .8 1.5 .8 1.5 .7 1.5 .6 1.5 .5 1.5 .5 1.5 .4 1.5 .4 1.5 .6 1.5 .6 1.5 .5 1.5 .5 1.5 .4 1.5 .4 1.5 .5 1.5 .6 1.5 .6 1.5 .6 1.5 .7 1.5 .7 1.5 .7 1.5 .7 1.5 .5 1.5 .5 1.5 .4 1.5 .4 1.5 .5 1.5 .6 1.5 .7 1.5 .6 1.5 .4 1.5 .4 1.5 .4 1.5 .4 1.5 .4 1.5 .5 1.5 .5 1.5 .5 1.5 .6 1.5 .6 1.5 .5 1.5 .5 1.5 .4 1.5 .4 1.5 .4 1.5 .5 1.5 .5 1.5 .6 1.5 .5 1.5 .6 1.5 .6 1.5 .6 1.5 .5 1.5 .5 1.5 .5 1.5 .4 1.5 .4 1.5 .2 1.5 .2 1.5 .3 1.5 .3 1.5 .5 1.5 .7 1.5 .8 1.5 .7 1.5 .5 1.5 .5 1.5 .3 1.5 .5 1.5 .4 1.5 .5 1.5 .6 1.5 .4 1.5 .3 1.5 .3 1.5 .3 1.5 .4 1.5 .5 1.5 .5 1.5 .5 1.5 .5 1.5 .3 1.5 .4 1.5 .5 1.5 .5 1.5 .4 1.5 .4 1.5 .4 1.5 .3 1.5 .5 1.5 .6 1.5 .7 1.5 .7 1.5 .6 1.5 .6 1.5 .7 1.5 .6 1.5 .7 1.5 .5 1.5 .5 1.5 .4 1.5 .4 1.5 .5 1.5 .6 1.5 .6 1.5 .6 1.5 .7 1.5 .8 1.5 .7 1.5 .7 1.5 .6 1.5 .5 1.5 .4 1.5 .4 1.5 .4 1.5 .6 1.5 .6 1.5 .5 1.5 .5 1.5 .4 1.5 .5 1.5 .7 1.5 .8 1.5 .9 1.5 .9 1.5 .7 1.5 .7 1.5 .5 1.5 .6 1.5 .7 1.5 .6 1.5 .6 1.5 .6 1.5 .7 1.5 .6 1.5 .5 1.5 .4 1.5 .5 1.5 .6 1.5 .8 1.5 .7 1.5 .7 1.5 .6 1.5 .6 1.5 .5 1.5 .5 1.5 .4 1.5 .4 1.5 .5 1.5 .5 1.5 .6 1.5 .6 1.5 .6 1.5 .5 1.5 .5 1.5 .6 1.5 .6 1.5 .8 1.5 .8 1.5 .7 1.5 .7 1.5 .6 1.5 .6 1.5 .8 1.5 .7 1.5 .7 1.5 .6 1.5 .5 1.5 .3 1.5 .4 1.5 .3 1.5 .5 1.5 .7 1.5 .7 1.5 .8 1.5 .7 1.5 .6 1.5 .5 1.5 .5 1.5 .6 1.5 .5 1.5 .6 1.5 .7 1.5 .6 1.5 .7 1.5 .6 1.5 .6 1.5 .7 1.5 .8 1.5 .6 1.5 .6 1.5 .5 1.5 .5 1.5 .7 1.5 .7 1.5 .7 1.5 .7 1.5 .6 1.5 .6 1.5 .5 1.5 .5 1.5 .5 1.5 .6 1.5 .6 1.5 .7 1.5 .5 1.5 .5 1.5 .4 1.5 .4 1.5 .4 1.5 .6 1.5 .6 1.5 .7 1.5 .7 1.5 .6 1.5 .6 1.5 .6 1.5 .7 1.5 .7 1.5 .8 1.5 .9 1.5 .8 1.5 .7 1.5 .6 1.5 .5 1.5 .6 1.5 .5 1.5 .6 1.5 .7 1.5 .5 1.5 .6 1.5 .6"/>
<path class="dk" stroke-opacity="0.42" d="M711 37.6l1.5 18.3 1.5 10.4 1.5 5.7 1.5 5.5 1.5 5.1 1.5 2.6 1.5 1.8 1.5 1.3 1.5 1 1.5 1 1.5 1 1.5 1.1 1.5 1.1 1.5 1.1 1.5 1 1.5 .9 1.5 .9 1.5 .7 1.5 .6 1.5 .6 1.5 .5 1.5 .6 1.5 .6 1.5 .6 1.5 .5 1.5 .4 1.5 .5 1.5 .6 1.5 .6 1.5 .7 1.5 .6 1.5 .6 1.5 .7 1.5 .7 1.5 .7 1.5 .6 1.5 .6 1.5 .5 1.5 .5 1.5 .5 1.5 .3 1.5 .1 1.5 .2 1.5 .3 1.5 .5 1.5 .5 1.5 .3 1.5 0 1.5-.1 1.5 .1 1.5 .2 1.5 .4 1.5 .2 1.5 .2 1.5 0 1.5-.1 1.5-.1 1.5-.1 1.5-.1 1.5 0 1.5 0 1.5 0 1.5-.1 1.5-.1 1.5-.2 1.5-.3 1.5-.2 1.5-.2 1.5-.3 1.5-.3 1.5-.2 1.5-.3 1.5-.2 1.5-.2 1.5-.2 1.5-.2 1.5 0 1.5 0 1.5 .2 1.5 .2 1.5 .2 1.5 .1 1.5 .1 1.5 0 1.5 0 1.5 .2 1.5 .3 1.5 .3 1.5 .2 1.5 .1 1.5 .1 1.5 .4 1.5 .5 1.5 .6 1.5 .5 1.5 .5 1.5 .4 1.5 .3 1.5 .5 1.5 .6 1.5 .5 1.5 .6 1.5 .4 1.5 .5 1.5 .5 1.5 .6 1.5 .6 1.5 .6 1.5 .6 1.5 .6 1.5 .7 1.5 .5 1.5 .3 1.5 .3 1.5 .4 1.5 .4 1.5 .5 1.5 .5 1.5 .5 1.5 .4 1.5 .5 1.5 .5 1.5 .5 1.5 .5 1.5 .3 1.5 .3 1.5 .1 1.5 .2 1.5 .3 1.5 .4 1.5 .7 1.5 1 1.5 1.2 1.5 1 1.5 .7 1.5 .4 1.5 .1 1.5 .2 1.5 .4 1.5 .4 1.5 .6 1.5 .6 1.5 .7 1.5 .7 1.5 .8 1.5 .7 1.5 .5 1.5 .3 1.5 .2 1.5 .3 1.5 .3 1.5 .6 1.5 .7 1.5 .9 1.5 .9 1.5 .8 1.5 .8 1.5 .7 1.5 .6 1.5 .6 1.5 .4 1.5 .3 1.5 .3 1.5 .4 1.5 .5 1.5 .8 1.5 1 1.5 1.1 1.5 1.1 1.5 .9 1.5 .7 1.5 .6 1.5 .6 1.5 .6 1.5 .7 1.5 .7 1.5 .7 1.5 .7 1.5 .6 1.5 .6 1.5 .6 1.5 .5 1.5 .6 1.5 .7 1.5 .8 1.5 .9 1.5 .8 1.5 .8 1.5 .6 1.5 .4 1.5 .4 1.5 .5 1.5 .5 1.5 .6 1.5 .7 1.5 .8 1.5 .9 1.5 .9 1.5 .7 1.5 .7 1.5 .6 1.5 .7 1.5 .5 1.5 .5 1.5 .4 1.5 .4 1.5 .6 1.5 .7 1.5 .7 1.5 .7 1.5 .6 1.5 .4 1.5 .2 1.5 .2 1.5 .4 1.5 .6 1.5 .8 1.5 .9 1.5 .7 1.5 .5 1.5 .2 1.5 .2 1.5 .1 1.5 .3 1.5 .4 1.5 .5 1.5 .5 1.5 .5 1.5 .4 1.5 .5 1.5 .3 1.5 .2 1.5 .1 1.5 .1 1.5 .2 1.5 .4 1.5 .4 1.5 .3 1.5 .2 1.5 .1 1.5 .3 1.5 .4 1.5 .6 1.5 .6 1.5 .7 1.5 .5 1.5 .6 1.5 .5 1.5 .7 1.5 .7 1.5 .7 1.5 .9 1.5 .9 1.5 .9 1.5 .7 1.5 .5 1.5 .4 1.5 .5 1.5 .6 1.5 .8 1.5 .9 1.5 1 1.5 .9 1.5 .7 1.5 .3 1.5 .1 1.5 0 1.5 .1 1.5 .3 1.5 .3 1.5 .4 1.5 .5 1.5 .7 1.5 .9 1.5 1 1.5 .9 1.5 .8 1.5 .6 1.5 .5 1.5 .7 1.5 1 1.5 1.3 1.5 1.4 1.5 1.3 1.5 1 1.5 .8 1.5 .7 1.5 .9 1.5 .9 1.5 1.1 1.5 1 1.5 .8 1.5 .8 1.5 .7 1.5 .9 1.5 .9 1.5 1.1 1.5 1.2 1.5 1.2 1.5 1.2 1.5 1.1 1.5 1.1 1.5 .9 1.5 .9 1.5 1 1.5 1 1.5 1 1.5 1.1 1.5 .9 1.5 1.1 1.5 1 1.5 1.1 1.5 1 1.5 .8 1.5 .6 1.5 .5 1.5 .5 1.5 .7 1.5 .7 1.5 .9 1.5 .9 1.5 .9 1.5 .8 1.5 .8 1.5 .9 1.5 .8 1.5 .9 1.5 .9 1.5 .9 1.5 .8 1.5 .7 1.5 .6 1.5 .5 1.5 .4 1.5 .5 1.5 .5 1.5 .7 1.5 .8 1.5 .9 1.5 .8 1.5 .6 1.5 .6 1.5 .6 1.5 .7 1.5 .7 1.5 .7 1.5 .6 1.5 .6 1.5 .4 1.5 .5 1.5 .4 1.5 .4 1.5 .5 1.5 .6 1.5 .7 1.5 .7 1.5 .5 1.5 .4 1.5 .3 1.5 .3 1.5 .6 1.5 .6 1.5 .8 1.5 .7 1.5 .7 1.5 .6 1.5 .5 1.5 .4 1.5 .4 1.5 .3 1.5 .4 1.5 .4"/>
<path class="dk" stroke-opacity="0.42" d="M711 42.1l1.5 21 1.5 11.8 1.5 6.9 1.5 6.2 1.5 5.4 1.5 2.3 1.5 1.4 1.5 .8 1.5 .4 1.5 .2 1.5 .2 1.5 .1 1.5 .2 1.5 .4 1.5 .6 1.5 .8 1.5 .9 1.5 1 1.5 1 1.5 .8 1.5 .7 1.5 .7 1.5 .7 1.5 .6 1.5 .5 1.5 .5 1.5 .5 1.5 .4 1.5 .3 1.5 .2 1.5 .3 1.5 .3 1.5 .5 1.5 .7 1.5 .8 1.5 .8 1.5 .8 1.5 .8 1.5 .8 1.5 .7 1.5 .6 1.5 .4 1.5 .4 1.5 .3 1.5 .4 1.5 .5 1.5 .6 1.5 .4 1.5 .3 1.5 .2 1.5 0 1.5 0 1.5 0 1.5 0 1.5 .1 1.5 .1 1.5 .1 1.5-.1 1.5-.3 1.5-.3 1.5-.4 1.5-.2 1.5-.2 1.5 0 1.5 .2 1.5 .2 1.5 .2 1.5 0 1.5-.2 1.5-.4 1.5-.5 1.5-.5 1.5-.2 1.5 .1 1.5 .2 1.5 .3 1.5 .2 1.5 0 1.5 .1 1.5 .2 1.5 .2 1.5 .4 1.5 .3 1.5 .4 1.5 .6 1.5 .8 1.5 .7 1.5 .8 1.5 .7 1.5 .8 1.5 .7 1.5 .7 1.5 .6 1.5 .6 1.5 .7 1.5 .7 1.5 .7 1.5 .7 1.5 .6 1.5 .3 1.5 .2 1.5 .2 1.5 .5 1.5 .6 1.5 .6 1.5 .6 1.5 .5 1.5 .4 1.5 .3 1.5 .3 1.5 .4 1.5 .3 1.5 .5 1.5 .5 1.5 .6 1.5 .6 1.5 .5 1.5 .5 1.5 .4 1.5 .5 1.5 .5 1.5 .6 1.5 .6 1.5 .3 1.5 .2 1.5 .2 1.5 .4 1.5 .5 1.5 .6 1.5 .7 1.5 .7 1.5 .6 1.5 .4 1.5 .4 1.5 .3 1.5 .2 1.5 .3 1.5 .4 1.5 .3 1.5 .4 1.5 .4 1.5 .4 1.5 .5 1.5 .6 1.5 .7 1.5 .7 1.5 .7 1.5 .6 1.5 .4 1.5 .2 1.5 .1 1.5 .2 1.5 .3 1.5 .5 1.5 .6 1.5 .6 1.5 .7 1.5 .5 1.5 .6 1.5 .5 1.5 .6 1.5 .5 1.5 .5 1.5 .4 1.5 .3 1.5 .3 1.5 .5 1.5 .5 1.5 .6 1.5 .6 1.5 .6 1.5 .7 1.5 .7 1.5 .8 1.5 .8 1.5 .6 1.5 .7 1.5 .5 1.5 .6 1.5 .5 1.5 .4 1.5 .3 1.5 .3 1.5 .4 1.5 .5 1.5 .5 1.5 .7 1.5 .7 1.5 .7 1.5 .8 1.5 .7 1.5 .7 1.5 .7 1.5 .6 1.5 .5 1.5 .4 1.5 .5 1.5 .7 1.5 .9 1.5 .8 1.5 .8 1.5 .6 1.5 .6 1.5 .6 1.5 .8 1.5 .8 1.5 .7 1.5 .7 1.5 .6 1.5 .5 1.5 .5 1.5 .5 1.5 .5 1.5 .4 1.5 .5 1.5 .7 1.5 .8 1.5 .8 1.5 .8 1.5 .7 1.5 .5 1.5 .4 1.5 .3 1.5 .1 1.5 .1 1.5 .1 1.5 .3 1.5 .4 1.5 .5 1.5 .5 1.5 .4 1.5 .6 1.5 .6 1.5 .5 1.5 .4 1.5 .4 1.5 .2 1.5 .1 1.5 .1 1.5 .2 1.5 .4 1.5 .6 1.5 .7 1.5 .7 1.5 .6 1.5 .6 1.5 .7 1.5 .8 1.5 .8 1.5 .9 1.5 .8 1.5 .8 1.5 .7 1.5 .8 1.5 .8 1.5 .7 1.5 .8 1.5 .7 1.5 .6 1.5 .4 1.5 .5 1.5 .4 1.5 .6 1.5 .6 1.5 .6 1.5 .5 1.5 .6 1.5 .6 1.5 .7 1.5 .8 1.5 .7 1.5 .6 1.5 .6 1.5 .6 1.5 .6 1.5 .8 1.5 .8 1.5 .8 1.5 .8 1.5 .9 1.5 1 1.5 1.2 1.5 1.3 1.5 1.3 1.5 1.1 1.5 .9 1.5 .8 1.5 .8 1.5 .7 1.5 .8 1.5 1 1.5 .9 1.5 1 1.5 1.1 1.5 1 1.5 1.1 1.5 1.1 1.5 1 1.5 .9 1.5 .8 1.5 .7 1.5 .7 1.5 .7 1.5 .9 1.5 1 1.5 1.2 1.5 1.1 1.5 1.1 1.5 1.1 1.5 1.1 1.5 1.1 1.5 .9 1.5 .8 1.5 .7 1.5 .7 1.5 .8 1.5 .9 1.5 1 1.5 .8 1.5 .7 1.5 .5 1.5 .5 1.5 .6 1.5 .4 1.5 .5 1.5 .5 1.5 .6 1.5 .6 1.5 .7 1.5 .7 1.5 .7 1.5 .7 1.5 .7 1.5 .6 1.5 .6 1.5 .6 1.5 .6 1.5 .6 1.5 .7 1.5 .7 1.5 .8 1.5 .7 1.5 .8 1.5 .8 1.5 .8 1.5 .8 1.5 .6 1.5 .6 1.5 .5 1.5 .4 1.5 .4 1.5 .5 1.5 .5 1.5 .4 1.5 .4 1.5 .4 1.5 .5 1.5 .7 1.5 .8 1.5 .8 1.5 .7 1.5 .4 1.5 .4 1.5 .2 1.5 .2 1.5 .4 1.5 .5 1.5 .7 1.5 .7 1.5 .5 1.5 .3 1.5 .1"/>
<path class="dk" stroke-opacity="0.42" d="M711 44.1l1.5 18.8 1.5 10.5 1.5 5.6 1.5 5.2 1.5 4.5 1.5 1.9 1.5 1.2 1.5 1 1.5 .8 1.5 .9 1.5 .9 1.5 .7 1.5 .6 1.5 .5 1.5 .7 1.5 .6 1.5 .7 1.5 .7 1.5 .7 1.5 .8 1.5 .8 1.5 .7 1.5 .8 1.5 .7 1.5 .8 1.5 .6 1.5 .6 1.5 .4 1.5 .3 1.5 .1 1.5-.1 1.5-.1 1.5 .1 1.5 .3 1.5 .7 1.5 .8 1.5 .9 1.5 .8 1.5 .7 1.5 .6 1.5 .6 1.5 .3 1.5 .3 1.5 .1 1.5 .2 1.5 .3 1.5 .3 1.5 .2 1.5 .2 1.5 0 1.5-.2 1.5-.4 1.5-.4 1.5-.3 1.5-.1 1.5 .2 1.5 .4 1.5 .3 1.5 .1 1.5 .1 1.5 0 1.5 .1 1.5 .1 1.5 0 1.5 0 1.5-.1 1.5-.1 1.5-.2 1.5-.2 1.5-.3 1.5-.3 1.5-.4 1.5-.4 1.5-.3 1.5-.2 1.5 .1 1.5 .3 1.5 .4 1.5 .5 1.5 .4 1.5 .4 1.5 .2 1.5 .3 1.5 .5 1.5 .5 1.5 .4 1.5 .2 1.5 .1 1.5 .1 1.5 .4 1.5 .5 1.5 .7 1.5 .6 1.5 .5 1.5 .6 1.5 .6 1.5 .6 1.5 .6 1.5 .5 1.5 .5 1.5 .5 1.5 .6 1.5 .6 1.5 .6 1.5 .5 1.5 .5 1.5 .4 1.5 .5 1.5 .5 1.5 .7 1.5 .7 1.5 .7 1.5 .5 1.5 .5 1.5 .4 1.5 .4 1.5 .5 1.5 .5 1.5 .6 1.5 .4 1.5 .4 1.5 .4 1.5 .3 1.5 .5 1.5 .6 1.5 .6 1.5 .7 1.5 .5 1.5 .5 1.5 .5 1.5 .7 1.5 .7 1.5 .7 1.5 .6 1.5 .5 1.5 .5 1.5 .5 1.5 .4 1.5 .5 1.5 .6 1.5 .5 1.5 .5 1.5 .4 1.5 .5 1.5 .3 1.5 .3 1.5 .3 1.5 .3 1.5 .4 1.5 .5 1.5 .5 1.5 .5 1.5 .5 1.5 .6 1.5 .7 1.5 .7 1.5 .5 1.5 .5 1.5 .5 1.5 .6 1.5 .5 1.5 .4 1.5 .3 1.5 .1 1.5 .2 1.5 .4 1.5 .5 1.5 .8 1.5 .8 1.5 .7 1.5 .6 1.5 .4 1.5 .4 1.5 .3 1.5 .3 1.5 .2 1.5 .3 1.5 .3 1.5 .4 1.5 .5 1.5 .7 1.5 .7 1.5 .9 1.5 .8 1.5 .7 1.5 .6 1.5 .7 1.5 .7 1.5 .7 1.5 .6 1.5 .5 1.5 .5 1.5 .4 1.5 .5 1.5 .5 1.5 .7 1.5 .8 1.5 .9 1.5 .8 1.5 .7 1.5 .5 1.5 .5 1.5 .5 1.5 .5 1.5 .5 1.5 .6 1.5 .7 1.5 .7 1.5 .7 1.5 .8 1.5 .8 1.5 .6 1.5 .7 1.5 .6 1.5 .6 1.5 .6 1.5 .6 1.5 .5 1.5 .6 1.5 .5 1.5 .5 1.5 .6 1.5 .4 1.5 .4 1.5 .4 1.5 .3 1.5 .1 1.5 .1 1.5 0 1.5 .1 1.5 .2 1.5 .3 1.5 .5 1.5 .7 1.5 .6 1.5 .4 1.5 .2 1.5 .1 1.5 .2 1.5 .2 1.5 .4 1.5 .5 1.5 .6 1.5 .7 1.5 .6 1.5 .7 1.5 .6 1.5 .7 1.5 .7 1.5 .8 1.5 .9 1.5 .8 1.5 .7 1.5 .7 1.5 .6 1.5 .7 1.5 .6 1.5 .7 1.5 .6 1.5 .6 1.5 .4 1.5 .5 1.5 .6 1.5 .6 1.5 .4 1.5 .4 1.5 .5 1.5 .6 1.5 .6 1.5 .5 1.5 .4 1.5 .3 1.5 .3 1.5 .6 1.5 .7 1.5 .9 1.5 1 1.5 1 1.5 .9 1.5 .8 1.5 .9 1.5 .9 1.5 1 1.5 1.3 1.5 1.3 1.5 1.3 1.5 1.1 1.5 1 1.5 1 1.5 .9 1.5 .8 1.5 .7 1.5 .7 1.5 .9 1.5 .9 1.5 1 1.5 1 1.5 .9 1.5 .9 1.5 .9 1.5 1 1.5 1.2 1.5 1.1 1.5 1.2 1.5 1.1 1.5 1 1.5 .9 1.5 .8 1.5 .9 1.5 .8 1.5 .9 1.5 .9 1.5 .9 1.5 .9 1.5 .9 1.5 1 1.5 1 1.5 .9 1.5 .8 1.5 .8 1.5 .6 1.5 .7 1.5 .7 1.5 .7 1.5 .8 1.5 .7 1.5 .7 1.5 .7 1.5 .9 1.5 .9 1.5 .8 1.5 .7 1.5 .6 1.5 .6 1.5 .7 1.5 .7 1.5 .7 1.5 .7 1.5 .5 1.5 .5 1.5 .5 1.5 .6 1.5 .6 1.5 .6 1.5 .6 1.5 .6 1.5 .7 1.5 .7 1.5 .7 1.5 .7 1.5 .7 1.5 .6 1.5 .6 1.5 .6 1.5 .6 1.5 .6 1.5 .6 1.5 .8 1.5 .8 1.5 .9 1.5 .8 1.5 .7 1.5 .6 1.5 .5 1.5 .5 1.5 .6 1.5 .6 1.5 .6 1.5 .5 1.5 .5 1.5 .5 1.5 .5"/>
<path class="dk" stroke-opacity="0.42" d="M711 43.8l1.5 19 1.5 11 1.5 6.2 1.5 5.6 1.5 4.8 1.5 1.9 1.5 1.3 1.5 1.1 1.5 1 1.5 1 1.5 .9 1.5 .7 1.5 .5 1.5 .4 1.5 .4 1.5 .6 1.5 .6 1.5 .5 1.5 .6 1.5 .4 1.5 .5 1.5 .5 1.5 .7 1.5 .6 1.5 .6 1.5 .3 1.5 .1 1.5 0 1.5 0 1.5 .3 1.5 .5 1.5 .6 1.5 .7 1.5 .6 1.5 .5 1.5 .5 1.5 .5 1.5 .4 1.5 .5 1.5 .4 1.5 .4 1.5 .4 1.5 .3 1.5 .3 1.5 .1 1.5 .1 1.5-.1 1.5 0 1.5-.1 1.5 0 1.5 .1 1.5 .3 1.5 .3 1.5 .2 1.5 .1 1.5 0 1.5-.1 1.5 0 1.5 0 1.5 .1 1.5 .1 1.5 .3 1.5 .3 1.5 .1 1.5 0 1.5-.2 1.5-.5 1.5-.5 1.5-.6 1.5-.4 1.5-.2 1.5-.2 1.5-.3 1.5-.3 1.5-.2 1.5 0 1.5 .2 1.5 .2 1.5 .2 1.5 .2 1.5 .1 1.5 .2 1.5 .2 1.5 .4 1.5 .5 1.5 .5 1.5 .5 1.5 .6 1.5 .6 1.5 .8 1.5 .8 1.5 .6 1.5 .4 1.5 .2 1.5 .2 1.5 .3 1.5 .3 1.5 .4 1.5 .6 1.5 .6 1.5 .6 1.5 .6 1.5 .6 1.5 .5 1.5 .5 1.5 .5 1.5 .6 1.5 .8 1.5 .8 1.5 .9 1.5 .8 1.5 .8 1.5 .9 1.5 .7 1.5 .6 1.5 .6 1.5 .5 1.5 .7 1.5 .6 1.5 .6 1.5 .5 1.5 .4 1.5 .3 1.5 .3 1.5 .4 1.5 .4 1.5 .5 1.5 .6 1.5 .5 1.5 .4 1.5 .5 1.5 .6 1.5 .8 1.5 .7 1.5 .8 1.5 .6 1.5 .5 1.5 .5 1.5 .6 1.5 .7 1.5 .7 1.5 .6 1.5 .4 1.5 .3 1.5 .2 1.5 .2 1.5 .4 1.5 .6 1.5 .8 1.5 .7 1.5 .7 1.5 .5 1.5 .5 1.5 .4 1.5 .5 1.5 .6 1.5 .7 1.5 .7 1.5 .7 1.5 .4 1.5 .3 1.5 .3 1.5 .3 1.5 .6 1.5 .6 1.5 .8 1.5 .6 1.5 .6 1.5 .6 1.5 .6 1.5 .6 1.5 .6 1.5 .6 1.5 .5 1.5 .5 1.5 .5 1.5 .6 1.5 .6 1.5 .5 1.5 .3 1.5 .3 1.5 .3 1.5 .5 1.5 .6 1.5 .8 1.5 .7 1.5 .6 1.5 .6 1.5 .6 1.5 .7 1.5 .6 1.5 .4 1.5 .4 1.5 .3 1.5 .3 1.5 .5 1.5 .6 1.5 .7 1.5 .8 1.5 .7 1.5 .7 1.5 .7 1.5 .7 1.5 .5 1.5 .6 1.5 .6 1.5 .7 1.5 .7 1.5 .6 1.5 .5 1.5 .5 1.5 .5 1.5 .5 1.5 .6 1.5 .6 1.5 .6 1.5 .6 1.5 .5 1.5 .4 1.5 .5 1.5 .4 1.5 .4 1.5 .2 1.5 .1 1.5 .1 1.5 .1 1.5 .3 1.5 .4 1.5 .4 1.5 .5 1.5 .4 1.5 .4 1.5 .4 1.5 .3 1.5 .2 1.5 .2 1.5 .2 1.5 .3 1.5 .3 1.5 .5 1.5 .6 1.5 .8 1.5 .8 1.5 .8 1.5 .7 1.5 .7 1.5 .6 1.5 .6 1.5 .8 1.5 .8 1.5 .9 1.5 .7 1.5 .7 1.5 .7 1.5 .7 1.5 .8 1.5 .9 1.5 .9 1.5 1 1.5 .9 1.5 .8 1.5 .6 1.5 .4 1.5 .2 1.5 .2 1.5 .2 1.5 .5 1.5 .7 1.5 .9 1.5 .9 1.5 .7 1.5 .5 1.5 .4 1.5 .5 1.5 .7 1.5 .9 1.5 1.1 1.5 1.2 1.5 1.2 1.5 1 1.5 .8 1.5 .8 1.5 .8 1.5 1 1.5 1 1.5 1.1 1.5 1 1.5 1 1.5 1.1 1.5 1 1.5 1 1.5 .9 1.5 .9 1.5 .8 1.5 .7 1.5 .8 1.5 .9 1.5 1 1.5 1.1 1.5 1.1 1.5 1.1 1.5 1 1.5 .8 1.5 .8 1.5 .7 1.5 .8 1.5 .7 1.5 .7 1.5 .6 1.5 .7 1.5 .8 1.5 .9 1.5 1 1.5 .9 1.5 .8 1.5 .7 1.5 .7 1.5 .7 1.5 .7 1.5 .7 1.5 .7 1.5 .7 1.5 .4 1.5 .4 1.5 .3 1.5 .3 1.5 .6 1.5 .8 1.5 .9 1.5 1.1 1.5 .9 1.5 .7 1.5 .4 1.5 .3 1.5 .2 1.5 .3 1.5 .4 1.5 .4 1.5 .6 1.5 .5 1.5 .7 1.5 .7 1.5 .7 1.5 .9 1.5 .8 1.5 .8 1.5 .7 1.5 .7 1.5 .6 1.5 .6 1.5 .6 1.5 .6 1.5 .6 1.5 .5 1.5 .5 1.5 .6 1.5 .6 1.5 .6 1.5 .6 1.5 .6 1.5 .5 1.5 .6 1.5 .6 1.5 .8 1.5 .8 1.5 .8 1.5 .9 1.5 .7 1.5 .5 1.5 .4 1.5 .3 1.5 .5"/>
<path class="dk" stroke-opacity="0.42" d="M711 45.7l1.5 19.6 1.5 10.9 1.5 6.1 1.5 5.6 1.5 4.9 1.5 2.2 1.5 1.4 1.5 1.1 1.5 .8 1.5 .9 1.5 .7 1.5 .6 1.5 .6 1.5 .6 1.5 .7 1.5 .6 1.5 .6 1.5 .6 1.5 .6 1.5 .5 1.5 .5 1.5 .5 1.5 .4 1.5 .6 1.5 .5 1.5 .5 1.5 .4 1.5 .3 1.5 .2 1.5 .3 1.5 .3 1.5 .3 1.5 .3 1.5 .5 1.5 .5 1.5 .6 1.5 .4 1.5 .4 1.5 .3 1.5 .3 1.5 .4 1.5 .3 1.5 .2 1.5 .1 1.5 .1 1.5 .2 1.5 .2 1.5 0 1.5-.2 1.5-.3 1.5-.1 1.5 0 1.5 .1 1.5 .1 1.5 0 1.5 .1 1.5-.1 1.5-.1 1.5-.2 1.5-.3 1.5-.4 1.5-.2 1.5-.1 1.5-.1 1.5-.1 1.5-.1 1.5-.2 1.5-.3 1.5-.3 1.5-.3 1.5-.3 1.5-.1 1.5 0 1.5 0 1.5 .1 1.5-.1 1.5 0 1.5 .2 1.5 .3 1.5 .4 1.5 .5 1.5 .4 1.5 .5 1.5 .5 1.5 .5 1.5 .5 1.5 .5 1.5 .5 1.5 .4 1.5 .5 1.5 .4 1.5 .4 1.5 .4 1.5 .5 1.5 .6 1.5 .8 1.5 .8 1.5 .9 1.5 .7 1.5 .6 1.5 .5 1.5 .6 1.5 .7 1.5 .7 1.5 .8 1.5 .7 1.5 .5 1.5 .5 1.5 .4 1.5 .5 1.5 .7 1.5 .9 1.5 .8 1.5 .8 1.5 .5 1.5 .5 1.5 .4 1.5 .5 1.5 .5 1.5 .6 1.5 .7 1.5 .5 1.5 .5 1.5 .3 1.5 .3 1.5 .4 1.5 .5 1.5 .4 1.5 .4 1.5 .4 1.5 .5 1.5 .7 1.5 .7 1.5 .5 1.5 .4 1.5 .4 1.5 .5 1.5 .6 1.5 .7 1.5 .5 1.5 .4 1.5 .3 1.5 .4 1.5 .5 1.5 .6 1.5 .7 1.5 .6 1.5 .6 1.5 .5 1.5 .5 1.5 .4 1.5 .4 1.5 .2 1.5 .3 1.5 .4 1.5 .4 1.5 .6 1.5 .5 1.5 .4 1.5 .2 1.5 .2 1.5 .1 1.5 .3 1.5 .5 1.5 .7 1.5 .6 1.5 .6 1.5 .6 1.5 .6 1.5 .6 1.5 .6 1.5 .6 1.5 .5 1.5 .5 1.5 .4 1.5 .5 1.5 .6 1.5 .6 1.5 .8 1.5 .8 1.5 .8 1.5 .7 1.5 .7 1.5 .7 1.5 .9 1.5 .9 1.5 .7 1.5 .6 1.5 .5 1.5 .6 1.5 .7 1.5 .8 1.5 .7 1.5 .7 1.5 .6 1.5 .5 1.5 .4 1.5 .4 1.5 .5 1.5 .7 1.5 1 1.5 1.1 1.5 1.1 1.5 .9 1.5 .8 1.5 .7 1.5 .7 1.5 .8 1.5 .8 1.5 .8 1.5 .7 1.5 .6 1.5 .5 1.5 .5 1.5 .5 1.5 .5 1.5 .6 1.5 .6 1.5 .7 1.5 .6 1.5 .5 1.5 .6 1.5 .5 1.5 .4 1.5 .4 1.5 .4 1.5 .3 1.5 .3 1.5 .2 1.5 .1 1.5 0 1.5 0 1.5 .1 1.5 .1 1.5 .3 1.5 .3 1.5 .4 1.5 .4 1.5 .5 1.5 .5 1.5 .5 1.5 .6 1.5 .5 1.5 .4 1.5 .4 1.5 .5 1.5 .6 1.5 .8 1.5 .9 1.5 .8 1.5 .7 1.5 .6 1.5 .6 1.5 .6 1.5 .7 1.5 .9 1.5 .8 1.5 .8 1.5 .6 1.5 .5 1.5 .4 1.5 .5 1.5 .4 1.5 .4 1.5 .4 1.5 .3 1.5 .4 1.5 .4 1.5 .5 1.5 .7 1.5 .7 1.5 .7 1.5 .7 1.5 .7 1.5 .7 1.5 .7 1.5 .7 1.5 .6 1.5 .8 1.5 .8 1.5 1 1.5 1.1 1.5 1.1 1.5 1 1.5 1 1.5 .9 1.5 .8 1.5 .8 1.5 .8 1.5 .8 1.5 1 1.5 1.1 1.5 .9 1.5 .8 1.5 .7 1.5 .7 1.5 .9 1.5 1 1.5 1.2 1.5 1.1 1.5 1 1.5 .8 1.5 .5 1.5 .6 1.5 .6 1.5 .7 1.5 .9 1.5 1.1 1.5 1.1 1.5 1.1 1.5 1.1 1.5 1 1.5 .9 1.5 .9 1.5 .9 1.5 1 1.5 1.1 1.5 .9 1.5 .8 1.5 .6 1.5 .4 1.5 .4 1.5 .5 1.5 .5 1.5 .6 1.5 .6 1.5 .7 1.5 .9 1.5 1 1.5 1.1 1.5 .9 1.5 .6 1.5 .5 1.5 .4 1.5 .6 1.5 .7 1.5 .7 1.5 .5 1.5 .4 1.5 .3 1.5 .3 1.5 .5 1.5 .8 1.5 1 1.5 1.1 1.5 1 1.5 .7 1.5 .5 1.5 .6 1.5 .6 1.5 .9 1.5 .9 1.5 .8 1.5 .6 1.5 .5 1.5 .3 1.5 .4 1.5 .3 1.5 .5 1.5 .5 1.5 .6 1.5 .5 1.5 .5 1.5 .4 1.5 .5 1.5 .4 1.5 .3 1.5 .4 1.5 .4 1.5 .6 1.5 .7 1.5 .7"/>
<path class="dk" stroke-opacity="0.42" d="M711 38.8l1.5 16.8 1.5 9.6 1.5 5 1.5 5 1.5 4.7 1.5 2.3 1.5 1.7 1.5 1.5 1.5 1.3 1.5 1.4 1.5 1.5 1.5 1.3 1.5 1 1.5 .7 1.5 .4 1.5 .5 1.5 .6 1.5 .9 1.5 1.1 1.5 .8 1.5 .5 1.5 .3 1.5 .1 1.5 .3 1.5 .4 1.5 .5 1.5 .5 1.5 .4 1.5 .3 1.5 .2 1.5 .2 1.5 .3 1.5 .4 1.5 .4 1.5 .6 1.5 .8 1.5 1 1.5 1.2 1.5 .9 1.5 .6 1.5 .4 1.5 .2 1.5 .1 1.5 0 1.5-.1 1.5 0 1.5 .2 1.5 .3 1.5 .1 1.5 0 1.5-.2 1.5-.1 1.5 .1 1.5 .2 1.5 .3 1.5 .1 1.5 0 1.5-.1 1.5 .2 1.5 .4 1.5 .5 1.5 .3 1.5 .2 1.5-.1 1.5-.1 1.5-.1 1.5-.3 1.5-.2 1.5-.3 1.5-.1 1.5 0 1.5-.1 1.5-.3 1.5-.3 1.5-.3 1.5-.1 1.5-.1 1.5 0 1.5 0 1.5 .1 1.5 .1 1.5 .5 1.5 .7 1.5 .9 1.5 .5 1.5 .2 1.5-.2 1.5-.2 1.5 0 1.5 .2 1.5 .3 1.5 .5 1.5 .6 1.5 .5 1.5 .4 1.5 .4 1.5 .5 1.5 .6 1.5 .6 1.5 .6 1.5 .5 1.5 .4 1.5 .4 1.5 .5 1.5 .6 1.5 .5 1.5 .4 1.5 .4 1.5 .6 1.5 .6 1.5 .7 1.5 .7 1.5 .6 1.5 .7 1.5 .8 1.5 .6 1.5 .5 1.5 .4 1.5 .3 1.5 .2 1.5 .3 1.5 .5 1.5 .6 1.5 .8 1.5 .8 1.5 .8 1.5 .6 1.5 .3 1.5 .3 1.5 .2 1.5 .3 1.5 .4 1.5 .7 1.5 .8 1.5 .8 1.5 .7 1.5 .6 1.5 .3 1.5 .2 1.5 .2 1.5 .2 1.5 .4 1.5 .4 1.5 .4 1.5 .5 1.5 .4 1.5 .4 1.5 .3 1.5 .4 1.5 .4 1.5 .5 1.5 .5 1.5 .5 1.5 .5 1.5 .5 1.5 .5 1.5 .6 1.5 .6 1.5 .7 1.5 .7 1.5 .5 1.5 .4 1.5 .5 1.5 .5 1.5 .5 1.5 .7 1.5 .5 1.5 .5 1.5 .4 1.5 .3 1.5 .4 1.5 .6 1.5 .7 1.5 .8 1.5 1 1.5 .9 1.5 .8 1.5 .4 1.5 .1 1.5 .1 1.5 .2 1.5 .5 1.5 .7 1.5 .8 1.5 .8 1.5 .8 1.5 .7 1.5 .8 1.5 .7 1.5 .6 1.5 .7 1.5 .7 1.5 .7 1.5 .7 1.5 .7 1.5 .7 1.5 .8 1.5 .6 1.5 .6 1.5 .5 1.5 .6 1.5 .8 1.5 .7 1.5 .6 1.5 .5 1.5 .4 1.5 .4 1.5 .6 1.5 .7 1.5 .8 1.5 .9 1.5 .8 1.5 .6 1.5 .5 1.5 .5 1.5 .6 1.5 .7 1.5 .6 1.5 .5 1.5 .6 1.5 .5 1.5 .5 1.5 .5 1.5 .4 1.5 .2 1.5 .1 1.5 .1 1.5 0 1.5 .2 1.5 .3 1.5 .5 1.5 .4 1.5 .3 1.5 .2 1.5 .1 1.5 .3 1.5 .4 1.5 .7 1.5 .5 1.5 .4 1.5 .2 1.5 .2 1.5 .3 1.5 .3 1.5 .6 1.5 .6 1.5 .7 1.5 .8 1.5 .8 1.5 1 1.5 .9 1.5 .9 1.5 .7 1.5 .6 1.5 .7 1.5 .7 1.5 .7 1.5 .6 1.5 .3 1.5 .1 1.5 0 1.5 .2 1.5 .4 1.5 .5 1.5 .5 1.5 .5 1.5 .5 1.5 .4 1.5 .4 1.5 .4 1.5 .5 1.5 .6 1.5 .6 1.5 .6 1.5 .8 1.5 .9 1.5 .9 1.5 .9 1.5 1.1 1.5 1.1 1.5 1.1 1.5 1.1 1.5 .9 1.5 .8 1.5 .8 1.5 1 1.5 .9 1.5 .9 1.5 .8 1.5 .9 1.5 1.1 1.5 1.1 1.5 1.1 1.5 .8 1.5 .9 1.5 .9 1.5 1 1.5 .9 1.5 1 1.5 1.1 1.5 1 1.5 1 1.5 .8 1.5 .7 1.5 .6 1.5 .7 1.5 .9 1.5 1.1 1.5 1.2 1.5 1.2 1.5 1 1.5 .9 1.5 .7 1.5 .7 1.5 .8 1.5 .8 1.5 1.1 1.5 1.2 1.5 1.3 1.5 1.2 1.5 1 1.5 .8 1.5 .8 1.5 .6 1.5 .6 1.5 .7 1.5 .7 1.5 .9 1.5 .9 1.5 1 1.5 .8 1.5 .7 1.5 .5 1.5 .5 1.5 .5 1.5 .4 1.5 .4 1.5 .6 1.5 .7 1.5 .9 1.5 .8 1.5 .8 1.5 .7 1.5 .7 1.5 .7 1.5 .6 1.5 .7 1.5 .8 1.5 .8 1.5 .9 1.5 .7 1.5 .6 1.5 .4 1.5 .4 1.5 .4 1.5 .7 1.5 .8 1.5 1 1.5 .8 1.5 .7 1.5 .7 1.5 .8 1.5 .8 1.5 .7 1.5 .5 1.5 .4 1.5 .6 1.5 .7 1.5 .8 1.5 .9 1.5 .8 1.5 .8"/>
<path class="dk" stroke-opacity="0.42" d="M711 48.1l1.5 23.1 1.5 12.9 1.5 7.5 1.5 6.6 1.5 5.2 1.5 2 1.5 1.1 1.5 .6 1.5 .4 1.5 .4 1.5 .3 1.5 .2 1.5 .3 1.5 .5 1.5 .8 1.5 .9 1.5 1 1.5 .9 1.5 .8 1.5 .5 1.5 .4 1.5 .3 1.5 .4 1.5 .6 1.5 .6 1.5 .7 1.5 .7 1.5 .5 1.5 .4 1.5 .4 1.5 .6 1.5 .6 1.5 .6 1.5 .6 1.5 .6 1.5 .5 1.5 .6 1.5 .5 1.5 .5 1.5 .5 1.5 .5 1.5 .6 1.5 .5 1.5 .6 1.5 .4 1.5 .3 1.5 .3 1.5 .2 1.5 .1 1.5 .3 1.5 .3 1.5 .2 1.5 .1 1.5-.1 1.5-.3 1.5-.3 1.5-.4 1.5-.3 1.5-.3 1.5-.3 1.5-.2 1.5-.2 1.5 0 1.5 .1 1.5 .1 1.5 .1 1.5-.1 1.5-.2 1.5-.3 1.5-.3 1.5-.3 1.5-.2 1.5-.2 1.5-.3 1.5-.1 1.5 .1 1.5 .3 1.5 .5 1.5 .6 1.5 .5 1.5 .5 1.5 .6 1.5 .7 1.5 .7 1.5 .7 1.5 .7 1.5 .6 1.5 .7 1.5 .7 1.5 .8 1.5 .8 1.5 .9 1.5 .8 1.5 .8 1.5 .8 1.5 .8 1.5 .7 1.5 .6 1.5 .5 1.5 .4 1.5 .4 1.5 .5 1.5 .5 1.5 .5 1.5 .5 1.5 .5 1.5 .5 1.5 .5 1.5 .4 1.5 .3 1.5 .3 1.5 .3 1.5 .4 1.5 .5 1.5 .5 1.5 .5 1.5 .4 1.5 .4 1.5 .4 1.5 .5 1.5 .6 1.5 .5 1.5 .4 1.5 .3 1.5 .3 1.5 .4 1.5 .5 1.5 .6 1.5 .6 1.5 .6 1.5 .6 1.5 .5 1.5 .3 1.5 .2 1.5 .2 1.5 .3 1.5 .5 1.5 .7 1.5 .9 1.5 1 1.5 .9 1.5 .6 1.5 .4 1.5 .3 1.5 .3 1.5 .5 1.5 .7 1.5 .6 1.5 .5 1.5 .5 1.5 .4 1.5 .6 1.5 .7 1.5 .7 1.5 .7 1.5 .6 1.5 .5 1.5 .5 1.5 .5 1.5 .6 1.5 .7 1.5 .6 1.5 .5 1.5 .4 1.5 .3 1.5 .3 1.5 .3 1.5 .3 1.5 .3 1.5 .5 1.5 .6 1.5 .9 1.5 .9 1.5 .7 1.5 .5 1.5 .4 1.5 .3 1.5 .5 1.5 .6 1.5 .6 1.5 .7 1.5 .7 1.5 .7 1.5 .7 1.5 .6 1.5 .6 1.5 .6 1.5 .6 1.5 .6 1.5 .7 1.5 .8 1.5 .8 1.5 .8 1.5 .7 1.5 .8 1.5 .7 1.5 .7 1.5 .6 1.5 .6 1.5 .6 1.5 .8 1.5 .7 1.5 .7 1.5 .7 1.5 .6 1.5 .6 1.5 .6 1.5 .7 1.5 .8 1.5 .6 1.5 .6 1.5 .6 1.5 .7 1.5 .8 1.5 .7 1.5 .6 1.5 .5 1.5 .4 1.5 .3 1.5 .3 1.5 .3 1.5 .2 1.5 .2 1.5 .2 1.5 .2 1.5 .4 1.5 .5 1.5 .8 1.5 .8 1.5 .7 1.5 .4 1.5 .1 1.5 0 1.5 0 1.5 .1 1.5 .3 1.5 .3 1.5 .3 1.5 .3 1.5 .3 1.5 .2 1.5 .4 1.5 .6 1.5 .6 1.5 .7 1.5 .7 1.5 .6 1.5 .8 1.5 .7 1.5 .8 1.5 .8 1.5 .8 1.5 .9 1.5 1 1.5 1.1 1.5 1 1.5 1 1.5 .9 1.5 .8 1.5 .7 1.5 .6 1.5 .5 1.5 .4 1.5 .3 1.5 .3 1.5 .5 1.5 .6 1.5 .6 1.5 .5 1.5 .4 1.5 .4 1.5 .3 1.5 .4 1.5 .5 1.5 .8 1.5 .8 1.5 .9 1.5 1 1.5 1 1.5 .9 1.5 .9 1.5 .8 1.5 .8 1.5 .8 1.5 .9 1.5 .9 1.5 .9 1.5 .8 1.5 .8 1.5 .6 1.5 .6 1.5 .7 1.5 .7 1.5 .7 1.5 .9 1.5 .8 1.5 .8 1.5 .9 1.5 1.1 1.5 .9 1.5 .9 1.5 .6 1.5 .6 1.5 .7 1.5 .9 1.5 1 1.5 1 1.5 .9 1.5 .9 1.5 .9 1.5 .8 1.5 .7 1.5 .7 1.5 .7 1.5 .6 1.5 .6 1.5 .6 1.5 .6 1.5 .7 1.5 .7 1.5 .7 1.5 .8 1.5 .8 1.5 .8 1.5 .6 1.5 .5 1.5 .4 1.5 .4 1.5 .6 1.5 .5 1.5 .5 1.5 .3 1.5 .3 1.5 .2 1.5 .4 1.5 .4 1.5 .5 1.5 .6 1.5 .6 1.5 .6 1.5 .6 1.5 .6 1.5 .6 1.5 .6 1.5 .7 1.5 .7 1.5 .7 1.5 .6 1.5 .6 1.5 .4 1.5 .4 1.5 .4 1.5 .4 1.5 .5 1.5 .4 1.5 .6 1.5 .6 1.5 .7 1.5 .7 1.5 .8 1.5 .7 1.5 .7 1.5 .7 1.5 .5 1.5 .5 1.5 .3 1.5 .3 1.5 .4 1.5 .5 1.5 .6 1.5 .4 1.5 .3"/>
<path class="dk" stroke-opacity="0.42" d="M711 41.9l1.5 19.3 1.5 10.7 1.5 5.9 1.5 5.4 1.5 4.7 1.5 2 1.5 1.5 1.5 1.1 1.5 1 1.5 .9 1.5 .8 1.5 .8 1.5 .7 1.5 .7 1.5 .7 1.5 .7 1.5 .6 1.5 .6 1.5 .5 1.5 .5 1.5 .6 1.5 .7 1.5 .7 1.5 .7 1.5 .6 1.5 .4 1.5 .3 1.5 .2 1.5 .3 1.5 .3 1.5 .5 1.5 .6 1.5 .5 1.5 .5 1.5 .5 1.5 .5 1.5 .6 1.5 .5 1.5 .7 1.5 .8 1.5 .9 1.5 .8 1.5 .6 1.5 .4 1.5 .4 1.5 .2 1.5 .1 1.5 0 1.5-.1 1.5 0 1.5 .1 1.5 0 1.5-.1 1.5-.2 1.5-.2 1.5 .1 1.5 0 1.5 .1 1.5 .1 1.5 0 1.5 .1 1.5 .1 1.5 0 1.5-.3 1.5-.4 1.5-.5 1.5-.4 1.5-.2 1.5 0 1.5 .1 1.5 .1 1.5 .2 1.5 .2 1.5 .1 1.5 0 1.5-.3 1.5-.4 1.5-.5 1.5-.2 1.5 .2 1.5 .6 1.5 .7 1.5 .5 1.5 .4 1.5 .4 1.5 .5 1.5 .5 1.5 .4 1.5 .4 1.5 .5 1.5 .5 1.5 .5 1.5 .6 1.5 .5 1.5 .6 1.5 .7 1.5 .8 1.5 .7 1.5 .6 1.5 .6 1.5 .5 1.5 .5 1.5 .6 1.5 .6 1.5 .5 1.5 .5 1.5 .3 1.5 .3 1.5 .2 1.5 .2 1.5 .5 1.5 .6 1.5 .7 1.5 .6 1.5 .4 1.5 .3 1.5 .3 1.5 .5 1.5 .5 1.5 .5 1.5 .6 1.5 .8 1.5 .9 1.5 .8 1.5 .8 1.5 .7 1.5 .6 1.5 .6 1.5 .4 1.5 .3 1.5 .2 1.5 .3 1.5 .4 1.5 .5 1.5 .5 1.5 .6 1.5 .6 1.5 .6 1.5 .6 1.5 .6 1.5 .5 1.5 .4 1.5 .3 1.5 .3 1.5 .3 1.5 .5 1.5 .6 1.5 .7 1.5 .6 1.5 .6 1.5 .3 1.5 .2 1.5 .2 1.5 .4 1.5 .7 1.5 .8 1.5 .8 1.5 .7 1.5 .5 1.5 .5 1.5 .3 1.5 .5 1.5 .5 1.5 .7 1.5 .7 1.5 .7 1.5 .7 1.5 .6 1.5 .5 1.5 .5 1.5 .6 1.5 .5 1.5 .6 1.5 .5 1.5 .5 1.5 .5 1.5 .6 1.5 .7 1.5 .8 1.5 .7 1.5 .6 1.5 .6 1.5 .6 1.5 .7 1.5 .8 1.5 .8 1.5 .8 1.5 .6 1.5 .4 1.5 .5 1.5 .6 1.5 .8 1.5 .8 1.5 .8 1.5 .8 1.5 .7 1.5 .6 1.5 .6 1.5 .6 1.5 .5 1.5 .4 1.5 .3 1.5 .5 1.5 .5 1.5 .7 1.5 .8 1.5 .7 1.5 .5 1.5 .3 1.5 .4 1.5 .5 1.5 .8 1.5 .8 1.5 .9 1.5 .8 1.5 .6 1.5 .5 1.5 .4 1.5 .3 1.5 .3 1.5 .2 1.5 .3 1.5 .2 1.5 .3 1.5 .4 1.5 .4 1.5 .6 1.5 .6 1.5 .5 1.5 .5 1.5 .4 1.5 .3 1.5 .3 1.5 .3 1.5 .2 1.5 .1 1.5 .1 1.5 .2 1.5 .2 1.5 .3 1.5 .4 1.5 .4 1.5 .6 1.5 .7 1.5 .7 1.5 .8 1.5 .7 1.5 .5 1.5 .4 1.5 .4 1.5 .5 1.5 .6 1.5 .8 1.5 .9 1.5 .8 1.5 .6 1.5 .7 1.5 .8 1.5 .8 1.5 .9 1.5 .8 1.5 .6 1.5 .4 1.5 .2 1.5 .3 1.5 .3 1.5 .4 1.5 .3 1.5 .2 1.5 .4 1.5 .6 1.5 .8 1.5 .9 1.5 .9 1.5 .7 1.5 .8 1.5 .8 1.5 1.1 1.5 1 1.5 1.1 1.5 1.1 1.5 1.1 1.5 1.1 1.5 1.1 1.5 1.1 1.5 1.1 1.5 1.1 1.5 1 1.5 1.1 1.5 1 1.5 1 1.5 1 1.5 1 1.5 1 1.5 .9 1.5 .9 1.5 1 1.5 1 1.5 1.1 1.5 1 1.5 1.1 1.5 1.1 1.5 1 1.5 .9 1.5 .7 1.5 .7 1.5 .8 1.5 .9 1.5 1 1.5 1.1 1.5 1.1 1.5 1 1.5 .9 1.5 .6 1.5 .6 1.5 .7 1.5 .8 1.5 .9 1.5 .9 1.5 .9 1.5 .6 1.5 .7 1.5 .8 1.5 .9 1.5 1.1 1.5 1.1 1.5 .8 1.5 .6 1.5 .4 1.5 .3 1.5 .5 1.5 .6 1.5 .7 1.5 .8 1.5 .9 1.5 .9 1.5 .9 1.5 .8 1.5 .7 1.5 .6 1.5 .5 1.5 .4 1.5 .2 1.5 .2 1.5 .2 1.5 .5 1.5 .7 1.5 .9 1.5 .8 1.5 .8 1.5 .7 1.5 .7 1.5 .7 1.5 .8 1.5 .9 1.5 .8 1.5 .7 1.5 .5 1.5 .4 1.5 .6 1.5 .6 1.5 .8 1.5 .8 1.5 .7 1.5 .5 1.5 .4 1.5 .5 1.5 .6 1.5 .7 1.5 .6 1.5 .5 1.5 .5"/>
<path class="dk" stroke-opacity="0.42" d="M711 41.6l1.5 20.1 1.5 11.6 1.5 6.6 1.5 6 1.5 5 1.5 1.9 1.5 1.1 1.5 .6 1.5 .3 1.5 .5 1.5 .5 1.5 .7 1.5 .8 1.5 .8 1.5 .8 1.5 .8 1.5 .9 1.5 .7 1.5 .6 1.5 .5 1.5 .2 1.5 .3 1.5 .4 1.5 .5 1.5 .6 1.5 .7 1.5 .7 1.5 .7 1.5 .6 1.5 .4 1.5 .3 1.5 .3 1.5 .4 1.5 .5 1.5 .6 1.5 .9 1.5 .7 1.5 .7 1.5 .5 1.5 .4 1.5 .6 1.5 .7 1.5 .7 1.5 .4 1.5 .3 1.5 0 1.5-.1 1.5-.1 1.5 0 1.5 0 1.5 .3 1.5 .4 1.5 .5 1.5 .3 1.5 .2 1.5 .1 1.5 0 1.5-.1 1.5-.2 1.5-.3 1.5-.4 1.5-.2 1.5-.1 1.5 0 1.5 0 1.5 .1 1.5 .1 1.5 .1 1.5-.2 1.5-.2 1.5-.4 1.5-.3 1.5-.2 1.5 .1 1.5 .2 1.5 .1 1.5 .1 1.5 .1 1.5 0 1.5 0 1.5 .2 1.5 .3 1.5 .6 1.5 .7 1.5 .7 1.5 .5 1.5 .4 1.5 .4 1.5 .6 1.5 .7 1.5 .7 1.5 .7 1.5 .5 1.5 .5 1.5 .4 1.5 .6 1.5 .6 1.5 .8 1.5 .6 1.5 .5 1.5 .6 1.5 .6 1.5 .8 1.5 .7 1.5 .7 1.5 .6 1.5 .4 1.5 .3 1.5 .3 1.5 .4 1.5 .5 1.5 .6 1.5 .4 1.5 .4 1.5 .4 1.5 .3 1.5 .4 1.5 .5 1.5 .5 1.5 .6 1.5 .4 1.5 .4 1.5 .2 1.5 .4 1.5 .4 1.5 .6 1.5 .7 1.5 .8 1.5 .8 1.5 .6 1.5 .5 1.5 .4 1.5 .2 1.5 .3 1.5 .3 1.5 .4 1.5 .4 1.5 .5 1.5 .5 1.5 .5 1.5 .7 1.5 .6 1.5 .5 1.5 .4 1.5 .3 1.5 .4 1.5 .5 1.5 .6 1.5 .7 1.5 .7 1.5 .6 1.5 .7 1.5 .8 1.5 .8 1.5 .8 1.5 .6 1.5 .4 1.5 .4 1.5 .5 1.5 .5 1.5 .5 1.5 .6 1.5 .6 1.5 .5 1.5 .5 1.5 .5 1.5 .6 1.5 .7 1.5 .8 1.5 .6 1.5 .6 1.5 .5 1.5 .5 1.5 .6 1.5 .6 1.5 .6 1.5 .5 1.5 .6 1.5 .6 1.5 .8 1.5 1 1.5 .9 1.5 .7 1.5 .6 1.5 .5 1.5 .5 1.5 .7 1.5 .7 1.5 .7 1.5 .4 1.5 .5 1.5 .4 1.5 .4 1.5 .5 1.5 .6 1.5 .8 1.5 .8 1.5 .9 1.5 .9 1.5 .8 1.5 .9 1.5 .9 1.5 .9 1.5 .9 1.5 .9 1.5 .8 1.5 .8 1.5 .6 1.5 .5 1.5 .5 1.5 .6 1.5 .7 1.5 .7 1.5 .7 1.5 .8 1.5 .7 1.5 .5 1.5 .3 1.5 .2 1.5 .2 1.5 .4 1.5 .4 1.5 .4 1.5 .3 1.5 .3 1.5 .4 1.5 .5 1.5 .7 1.5 .5 1.5 .3 1.5 .3 1.5 .4 1.5 .6 1.5 .6 1.5 .5 1.5 .3 1.5 .2 1.5 0 1.5 .1 1.5 .1 1.5 .1 1.5 0 1.5 .2 1.5 .2 1.5 .4 1.5 .6 1.5 .7 1.5 .9 1.5 .9 1.5 1 1.5 .9 1.5 .8 1.5 .8 1.5 .7 1.5 .8 1.5 .9 1.5 1 1.5 1 1.5 .9 1.5 .7 1.5 .4 1.5 .2 1.5 .2 1.5 .2 1.5 .3 1.5 .3 1.5 .5 1.5 .6 1.5 .6 1.5 .6 1.5 .7 1.5 .7 1.5 .6 1.5 .8 1.5 .8 1.5 .9 1.5 1 1.5 .8 1.5 .7 1.5 .8 1.5 .8 1.5 .9 1.5 1.1 1.5 1.3 1.5 1.2 1.5 1.2 1.5 .9 1.5 .7 1.5 .8 1.5 .8 1.5 .9 1.5 .9 1.5 .8 1.5 .7 1.5 .6 1.5 .7 1.5 .9 1.5 1.1 1.5 1.2 1.5 1.2 1.5 1.1 1.5 1 1.5 .9 1.5 1 1.5 .9 1.5 .7 1.5 .5 1.5 .5 1.5 .5 1.5 .8 1.5 .8 1.5 .9 1.5 .7 1.5 .8 1.5 .9 1.5 .9 1.5 .7 1.5 .7 1.5 .5 1.5 .7 1.5 .8 1.5 .9 1.5 .9 1.5 .8 1.5 .7 1.5 .5 1.5 .4 1.5 .4 1.5 .3 1.5 .4 1.5 .4 1.5 .5 1.5 .6 1.5 .7 1.5 .9 1.5 1 1.5 1.2 1.5 1 1.5 .8 1.5 .4 1.5 .2 1.5 .2 1.5 .3 1.5 .5 1.5 .5 1.5 .5 1.5 .4 1.5 .5 1.5 .6 1.5 .6 1.5 .8 1.5 .9 1.5 .8 1.5 .7 1.5 .5 1.5 .5 1.5 .4 1.5 .4 1.5 .4 1.5 .6 1.5 .7 1.5 .7 1.5 .7 1.5 .7 1.5 .6 1.5 .6 1.5 .6 1.5 .4 1.5 .3 1.5 .1 1.5 .1 1.5 .4"/>
<path class="dk" stroke-opacity="0.42" d="M711 49.4l1.5 22 1.5 12.4 1.5 7.2 1.5 6.4 1.5 5.3 1.5 2.1 1.5 1.3 1.5 .9 1.5 .7 1.5 .5 1.5 .4 1.5 .3 1.5 .1 1.5 .2 1.5 .1 1.5 .3 1.5 .6 1.5 .8 1.5 .9 1.5 1 1.5 .9 1.5 .7 1.5 .7 1.5 .6 1.5 .5 1.5 .6 1.5 .5 1.5 .5 1.5 .4 1.5 .2 1.5 .3 1.5 .2 1.5 .2 1.5 .5 1.5 .7 1.5 .9 1.5 .9 1.5 .9 1.5 .9 1.5 .8 1.5 .8 1.5 .6 1.5 .3 1.5 0 1.5-.1 1.5 0 1.5 .1 1.5 .2 1.5 .3 1.5 .2 1.5 .1 1.5 0 1.5 0 1.5-.1 1.5 0 1.5-.1 1.5-.2 1.5-.1 1.5-.2 1.5-.1 1.5-.1 1.5 0 1.5-.2 1.5-.4 1.5-.6 1.5-.7 1.5-.5 1.5-.1 1.5 .2 1.5 .2 1.5 .2 1.5-.1 1.5-.3 1.5-.4 1.5-.4 1.5-.5 1.5-.3 1.5-.1 1.5-.1 1.5 .1 1.5 .3 1.5 .4 1.5 .7 1.5 .8 1.5 .9 1.5 .8 1.5 .8 1.5 .7 1.5 .7 1.5 .6 1.5 .5 1.5 .4 1.5 .6 1.5 .7 1.5 .9 1.5 .8 1.5 .7 1.5 .4 1.5 .2 1.5 .3 1.5 .5 1.5 .7 1.5 .8 1.5 .6 1.5 .4 1.5 .2 1.5 .3 1.5 .3 1.5 .4 1.5 .5 1.5 .7 1.5 .6 1.5 .6 1.5 .4 1.5 .3 1.5 .1 1.5 .1 1.5 .2 1.5 .5 1.5 .6 1.5 .7 1.5 .6 1.5 .5 1.5 .3 1.5 .2 1.5 .4 1.5 .5 1.5 .5 1.5 .5 1.5 .5 1.5 .5 1.5 .5 1.5 .6 1.5 .7 1.5 .6 1.5 .5 1.5 .3 1.5 .3 1.5 .4 1.5 .5 1.5 .6 1.5 .5 1.5 .4 1.5 .4 1.5 .5 1.5 .6 1.5 .7 1.5 .6 1.5 .5 1.5 .5 1.5 .5 1.5 .7 1.5 .7 1.5 .7 1.5 .4 1.5 .3 1.5 .3 1.5 .3 1.5 .6 1.5 .6 1.5 .7 1.5 .6 1.5 .5 1.5 .5 1.5 .5 1.5 .5 1.5 .7 1.5 .6 1.5 .6 1.5 .5 1.5 .3 1.5 .3 1.5 .3 1.5 .5 1.5 .6 1.5 .7 1.5 .8 1.5 .6 1.5 .5 1.5 .5 1.5 .4 1.5 .7 1.5 .9 1.5 1 1.5 1 1.5 .9 1.5 .7 1.5 .4 1.5 .3 1.5 .4 1.5 .4 1.5 .5 1.5 .7 1.5 .7 1.5 .8 1.5 .7 1.5 .8 1.5 .8 1.5 .8 1.5 .8 1.5 .7 1.5 .7 1.5 .7 1.5 .7 1.5 .7 1.5 .7 1.5 .7 1.5 .8 1.5 .7 1.5 .5 1.5 .4 1.5 .4 1.5 .5 1.5 .6 1.5 .8 1.5 .8 1.5 .7 1.5 .6 1.5 .5 1.5 .4 1.5 .4 1.5 .4 1.5 .4 1.5 .4 1.5 .4 1.5 .5 1.5 .4 1.5 .4 1.5 .4 1.5 .5 1.5 .5 1.5 .5 1.5 .5 1.5 .4 1.5 .5 1.5 .4 1.5 .2 1.5 .2 1.5 .1 1.5 .2 1.5 .3 1.5 .2 1.5 .2 1.5 .3 1.5 .5 1.5 .6 1.5 .8 1.5 .9 1.5 .9 1.5 .8 1.5 .8 1.5 .9 1.5 .8 1.5 1 1.5 1 1.5 1 1.5 .9 1.5 .8 1.5 .6 1.5 .5 1.5 .4 1.5 .5 1.5 .6 1.5 .6 1.5 .6 1.5 .5 1.5 .5 1.5 .4 1.5 .5 1.5 .6 1.5 .5 1.5 .6 1.5 .5 1.5 .5 1.5 .5 1.5 .7 1.5 .8 1.5 .8 1.5 .9 1.5 1 1.5 .9 1.5 .8 1.5 .9 1.5 .8 1.5 .7 1.5 .6 1.5 .6 1.5 .7 1.5 .9 1.5 1.1 1.5 1.2 1.5 1.2 1.5 1.1 1.5 1.1 1.5 .9 1.5 .8 1.5 .8 1.5 .8 1.5 .9 1.5 .8 1.5 .8 1.5 .6 1.5 .5 1.5 .4 1.5 .6 1.5 .6 1.5 .9 1.5 1 1.5 1 1.5 1.1 1.5 1 1.5 1 1.5 .9 1.5 .7 1.5 .6 1.5 .7 1.5 .9 1.5 .8 1.5 .9 1.5 .8 1.5 .8 1.5 .9 1.5 .8 1.5 .8 1.5 .7 1.5 .6 1.5 .7 1.5 .5 1.5 .5 1.5 .5 1.5 .5 1.5 .6 1.5 .6 1.5 .6 1.5 .4 1.5 .4 1.5 .5 1.5 .6 1.5 .7 1.5 .7 1.5 .7 1.5 .7 1.5 .8 1.5 .7 1.5 .7 1.5 .6 1.5 .6 1.5 .5 1.5 .5 1.5 .6 1.5 .7 1.5 .7 1.5 .7 1.5 .7 1.5 .5 1.5 .4 1.5 .5 1.5 .4 1.5 .6 1.5 .5 1.5 .6 1.5 .5 1.5 .4 1.5 .4 1.5 .4 1.5 .5 1.5 .6 1.5 .5 1.5 .5 1.5 .4 1.5 .4 1.5 .5"/>
<path class="dk" stroke-opacity="0.42" d="M711 48.8l1.5 21.6 1.5 12.1 1.5 7.1 1.5 6.3 1.5 5.1 1.5 2.1 1.5 1.2 1.5 .8 1.5 .7 1.5 .5 1.5 .5 1.5 .3 1.5 .4 1.5 .5 1.5 .7 1.5 .7 1.5 .7 1.5 .5 1.5 .5 1.5 .5 1.5 .5 1.5 .4 1.5 .5 1.5 .4 1.5 .4 1.5 .5 1.5 .6 1.5 .7 1.5 .6 1.5 .6 1.5 .6 1.5 .4 1.5 .4 1.5 .2 1.5 .3 1.5 .2 1.5 .4 1.5 .4 1.5 .6 1.5 .7 1.5 .8 1.5 .7 1.5 .6 1.5 .3 1.5 .2 1.5 .2 1.5 .1 1.5 .1 1.5 0 1.5 0 1.5-.1 1.5-.2 1.5-.1 1.5-.1 1.5 0 1.5 0 1.5-.1 1.5-.2 1.5-.2 1.5-.1 1.5-.2 1.5-.1 1.5-.2 1.5-.2 1.5-.3 1.5-.4 1.5-.5 1.5-.5 1.5-.3 1.5-.3 1.5-.1 1.5-.2 1.5-.3 1.5-.3 1.5-.2 1.5-.2 1.5-.1 1.5 .2 1.5 .3 1.5 .4 1.5 .5 1.5 .4 1.5 .5 1.5 .6 1.5 .7 1.5 1 1.5 1 1.5 .9 1.5 .7 1.5 .6 1.5 .5 1.5 .5 1.5 .7 1.5 .7 1.5 .6 1.5 .6 1.5 .6 1.5 .6 1.5 .5 1.5 .5 1.5 .5 1.5 .5 1.5 .6 1.5 .5 1.5 .4 1.5 .3 1.5 .2 1.5 .3 1.5 .2 1.5 .3 1.5 .5 1.5 .6 1.5 .6 1.5 .6 1.5 .5 1.5 .4 1.5 .4 1.5 .5 1.5 .6 1.5 .6 1.5 .4 1.5 .3 1.5 .2 1.5 .1 1.5 .2 1.5 .3 1.5 .5 1.5 .7 1.5 .8 1.5 .7 1.5 .6 1.5 .6 1.5 .4 1.5 .2 1.5 .3 1.5 .4 1.5 .6 1.5 .7 1.5 .6 1.5 .5 1.5 .4 1.5 .4 1.5 .5 1.5 .7 1.5 .8 1.5 .9 1.5 .8 1.5 .6 1.5 .3 1.5 .3 1.5 .4 1.5 .4 1.5 .4 1.5 .5 1.5 .5 1.5 .6 1.5 .7 1.5 .7 1.5 .7 1.5 .5 1.5 .5 1.5 .5 1.5 .6 1.5 .7 1.5 .7 1.5 .7 1.5 .6 1.5 .7 1.5 .7 1.5 .8 1.5 .8 1.5 .7 1.5 .6 1.5 .5 1.5 .4 1.5 .4 1.5 .2 1.5 .2 1.5 .2 1.5 .4 1.5 .6 1.5 .8 1.5 .8 1.5 .7 1.5 .8 1.5 .9 1.5 1 1.5 .9 1.5 .8 1.5 .7 1.5 .5 1.5 .6 1.5 .8 1.5 .8 1.5 .9 1.5 .6 1.5 .3 1.5 .2 1.5 .3 1.5 .6 1.5 .8 1.5 1.1 1.5 .9 1.5 .9 1.5 .7 1.5 .8 1.5 .8 1.5 1 1.5 1.1 1.5 1 1.5 .7 1.5 .5 1.5 .2 1.5 .2 1.5 .3 1.5 .5 1.5 .7 1.5 .8 1.5 .8 1.5 .7 1.5 .5 1.5 .3 1.5 .1 1.5 .1 1.5 .1 1.5 .2 1.5 .3 1.5 .2 1.5 .4 1.5 .6 1.5 .6 1.5 .6 1.5 .4 1.5 .3 1.5 .3 1.5 .2 1.5 .3 1.5 .2 1.5 .4 1.5 .4 1.5 .5 1.5 .5 1.5 .5 1.5 .5 1.5 .5 1.5 .4 1.5 .5 1.5 .5 1.5 .7 1.5 .7 1.5 .8 1.5 .8 1.5 .8 1.5 .8 1.5 .9 1.5 .9 1.5 1 1.5 1 1.5 .9 1.5 .8 1.5 .7 1.5 .8 1.5 .8 1.5 .6 1.5 .6 1.5 .4 1.5 .3 1.5 .4 1.5 .4 1.5 .4 1.5 .5 1.5 .5 1.5 .6 1.5 .6 1.5 .6 1.5 .5 1.5 .6 1.5 .7 1.5 .7 1.5 .9 1.5 1.1 1.5 1.1 1.5 1.1 1.5 .9 1.5 .8 1.5 .6 1.5 .7 1.5 .7 1.5 .9 1.5 1 1.5 1 1.5 1.1 1.5 1.1 1.5 .9 1.5 .9 1.5 .8 1.5 1 1.5 .9 1.5 .9 1.5 .7 1.5 .7 1.5 .8 1.5 .8 1.5 .9 1.5 .8 1.5 .9 1.5 1 1.5 1.1 1.5 1 1.5 .8 1.5 .7 1.5 .6 1.5 .5 1.5 .4 1.5 .5 1.5 .6 1.5 .7 1.5 .8 1.5 .8 1.5 .8 1.5 .7 1.5 .6 1.5 .7 1.5 .7 1.5 .7 1.5 .7 1.5 .5 1.5 .5 1.5 .3 1.5 .5 1.5 .7 1.5 .9 1.5 1 1.5 .9 1.5 .7 1.5 .6 1.5 .5 1.5 .3 1.5 .4 1.5 .3 1.5 .4 1.5 .4 1.5 .6 1.5 .7 1.5 .8 1.5 .8 1.5 .8 1.5 .7 1.5 .6 1.5 .4 1.5 .5 1.5 .6 1.5 .6 1.5 .6 1.5 .5 1.5 .4 1.5 .5 1.5 .6 1.5 .7 1.5 .7 1.5 .7 1.5 .6 1.5 .7 1.5 .5 1.5 .5 1.5 .5 1.5 .5 1.5 .6 1.5 .6 1.5 .5 1.5 .5 1.5 .4"/>
<path class="dk" stroke-opacity="0.42" d="M711 42l1.5 20 1.5 11.1 1.5 6.2 1.5 5.5 1.5 4.6 1.5 2 1.5 1.3 1.5 1.2 1.5 1.1 1.5 1 1.5 .8 1.5 .6 1.5 .5 1.5 .4 1.5 .6 1.5 .7 1.5 .7 1.5 .7 1.5 .6 1.5 .6 1.5 .5 1.5 .5 1.5 .6 1.5 .5 1.5 .5 1.5 .3 1.5 .2 1.5 .3 1.5 .4 1.5 .5 1.5 .6 1.5 .6 1.5 .5 1.5 .5 1.5 .6 1.5 .7 1.5 .7 1.5 .7 1.5 .7 1.5 .8 1.5 .7 1.5 .6 1.5 .5 1.5 .4 1.5 .2 1.5 .3 1.5 .2 1.5 .3 1.5 .2 1.5 .2 1.5 0 1.5 0 1.5 0 1.5 .1 1.5 0 1.5 0 1.5 .1 1.5 0 1.5 0 1.5-.1 1.5 0 1.5-.1 1.5-.2 1.5-.2 1.5-.2 1.5-.2 1.5-.2 1.5-.2 1.5-.1 1.5-.1 1.5-.1 1.5 0 1.5 0 1.5 0 1.5 0 1.5-.1 1.5-.1 1.5 0 1.5 .2 1.5 .4 1.5 .4 1.5 .5 1.5 .4 1.5 .4 1.5 .3 1.5 .3 1.5 .4 1.5 .5 1.5 .7 1.5 .7 1.5 .7 1.5 .5 1.5 .4 1.5 .4 1.5 .6 1.5 .6 1.5 .6 1.5 .6 1.5 .6 1.5 .7 1.5 .7 1.5 .7 1.5 .7 1.5 .7 1.5 .6 1.5 .7 1.5 .6 1.5 .4 1.5 .2 1.5 .2 1.5 .2 1.5 .3 1.5 .4 1.5 .6 1.5 .6 1.5 .7 1.5 .7 1.5 .6 1.5 .4 1.5 .5 1.5 .5 1.5 .5 1.5 .6 1.5 .5 1.5 .5 1.5 .4 1.5 .4 1.5 .4 1.5 .6 1.5 .7 1.5 .7 1.5 .8 1.5 .7 1.5 .5 1.5 .3 1.5 .2 1.5 .2 1.5 .2 1.5 .3 1.5 .5 1.5 .5 1.5 .7 1.5 .7 1.5 .8 1.5 .7 1.5 .6 1.5 .6 1.5 .6 1.5 .5 1.5 .5 1.5 .4 1.5 .5 1.5 .5 1.5 .5 1.5 .4 1.5 .4 1.5 .5 1.5 .4 1.5 .4 1.5 .2 1.5 .1 1.5 .2 1.5 .4 1.5 .6 1.5 .7 1.5 .7 1.5 .7 1.5 .6 1.5 .6 1.5 .8 1.5 .7 1.5 .8 1.5 .6 1.5 .6 1.5 .6 1.5 .7 1.5 .8 1.5 .8 1.5 .7 1.5 .8 1.5 .7 1.5 .7 1.5 .5 1.5 .4 1.5 .5 1.5 .4 1.5 .4 1.5 .5 1.5 .6 1.5 .7 1.5 .7 1.5 .7 1.5 .6 1.5 .5 1.5 .5 1.5 .5 1.5 .7 1.5 .8 1.5 .9 1.5 1.1 1.5 1 1.5 .9 1.5 .7 1.5 .7 1.5 .6 1.5 .7 1.5 .6 1.5 .6 1.5 .5 1.5 .5 1.5 .6 1.5 .8 1.5 .8 1.5 .7 1.5 .5 1.5 .5 1.5 .5 1.5 .5 1.5 .6 1.5 .4 1.5 .3 1.5 .3 1.5 .3 1.5 .5 1.5 .5 1.5 .4 1.5 .4 1.5 .4 1.5 .3 1.5 .4 1.5 .3 1.5 .3 1.5 .3 1.5 .2 1.5 .3 1.5 .4 1.5 .6 1.5 .8 1.5 .7 1.5 .6 1.5 .5 1.5 .4 1.5 .2 1.5 0 1.5 .2 1.5 .2 1.5 .6 1.5 .6 1.5 .8 1.5 1 1.5 1.1 1.5 1.2 1.5 1.3 1.5 1.1 1.5 .9 1.5 .6 1.5 .4 1.5 .5 1.5 .5 1.5 .7 1.5 .6 1.5 .5 1.5 .3 1.5 .1 1.5 .1 1.5 .2 1.5 .3 1.5 .4 1.5 .7 1.5 .8 1.5 .9 1.5 .8 1.5 .8 1.5 .7 1.5 .6 1.5 .6 1.5 .6 1.5 .7 1.5 1 1.5 1.1 1.5 1.2 1.5 1.2 1.5 1.1 1.5 1 1.5 1 1.5 1.1 1.5 1.1 1.5 1 1.5 .9 1.5 .7 1.5 .7 1.5 .8 1.5 .9 1.5 1.1 1.5 1.2 1.5 1.2 1.5 1.2 1.5 1 1.5 1 1.5 .9 1.5 .9 1.5 .9 1.5 .8 1.5 .9 1.5 .9 1.5 .9 1.5 .8 1.5 .8 1.5 .8 1.5 .9 1.5 .9 1.5 .9 1.5 .9 1.5 .8 1.5 .8 1.5 .8 1.5 .8 1.5 .9 1.5 .7 1.5 .7 1.5 .8 1.5 .8 1.5 .9 1.5 .8 1.5 .8 1.5 .7 1.5 .5 1.5 .3 1.5 .3 1.5 .4 1.5 .5 1.5 .7 1.5 .8 1.5 .6 1.5 .7 1.5 .6 1.5 .8 1.5 .7 1.5 .7 1.5 .7 1.5 .5 1.5 .5 1.5 .5 1.5 .5 1.5 .6 1.5 .6 1.5 .6 1.5 .6 1.5 .6 1.5 .7 1.5 .6 1.5 .6 1.5 .6 1.5 .6 1.5 .5 1.5 .6 1.5 .6 1.5 .7 1.5 .8 1.5 .7 1.5 .7 1.5 .7 1.5 .6 1.5 .5 1.5 .5 1.5 .5 1.5 .4 1.5 .5 1.5 .5 1.5 .5 1.5 .4 1.5 .3"/>
<path class="dk" stroke-opacity="0.42" d="M711 41.4l1.5 18.9 1.5 10.7 1.5 5.9 1.5 5.5 1.5 5 1.5 2.3 1.5 1.8 1.5 1.3 1.5 1 1.5 .8 1.5 .8 1.5 .7 1.5 .7 1.5 .8 1.5 .9 1.5 .7 1.5 .5 1.5 .4 1.5 .4 1.5 .5 1.5 .6 1.5 .6 1.5 .6 1.5 .5 1.5 .4 1.5 .3 1.5 .2 1.5 .2 1.5 .2 1.5 .4 1.5 .6 1.5 .6 1.5 .5 1.5 .5 1.5 .5 1.5 .5 1.5 .7 1.5 .6 1.5 .7 1.5 .5 1.5 .4 1.5 .4 1.5 .5 1.5 .4 1.5 .4 1.5 .3 1.5 .2 1.5 .1 1.5 .1 1.5 .2 1.5 .1 1.5 0 1.5-.1 1.5-.1 1.5 .1 1.5 .3 1.5 .4 1.5 .3 1.5 .1 1.5 0 1.5-.2 1.5-.2 1.5-.3 1.5-.3 1.5-.2 1.5-.2 1.5-.2 1.5-.2 1.5-.1 1.5-.1 1.5-.2 1.5-.2 1.5-.2 1.5-.2 1.5-.2 1.5-.2 1.5-.1 1.5 0 1.5 .1 1.5 .4 1.5 .4 1.5 .6 1.5 .5 1.5 .3 1.5 .1 1.5 0 1.5 .1 1.5 .1 1.5 .3 1.5 .3 1.5 .5 1.5 .5 1.5 .5 1.5 .6 1.5 .4 1.5 .4 1.5 .2 1.5 .2 1.5 .4 1.5 .5 1.5 .6 1.5 .5 1.5 .5 1.5 .4 1.5 .3 1.5 .4 1.5 .5 1.5 .5 1.5 .6 1.5 .6 1.5 .6 1.5 .8 1.5 .7 1.5 .7 1.5 .4 1.5 .3 1.5 .3 1.5 .3 1.5 .4 1.5 .5 1.5 .5 1.5 .6 1.5 .7 1.5 .8 1.5 .7 1.5 .6 1.5 .5 1.5 .4 1.5 .4 1.5 .4 1.5 .4 1.5 .5 1.5 .4 1.5 .5 1.5 .5 1.5 .7 1.5 .7 1.5 .7 1.5 .7 1.5 .6 1.5 .6 1.5 .4 1.5 .4 1.5 .4 1.5 .4 1.5 .5 1.5 .6 1.5 .7 1.5 .7 1.5 .7 1.5 .6 1.5 .6 1.5 .4 1.5 .4 1.5 .5 1.5 .5 1.5 .6 1.5 .7 1.5 .7 1.5 .5 1.5 .4 1.5 .3 1.5 .5 1.5 .6 1.5 .6 1.5 .7 1.5 .5 1.5 .6 1.5 .7 1.5 .7 1.5 .8 1.5 .8 1.5 .7 1.5 .6 1.5 .5 1.5 .6 1.5 .7 1.5 .8 1.5 .8 1.5 .8 1.5 .8 1.5 .7 1.5 .7 1.5 .6 1.5 .5 1.5 .5 1.5 .6 1.5 .7 1.5 .8 1.5 .7 1.5 .6 1.5 .4 1.5 .3 1.5 .5 1.5 .7 1.5 .9 1.5 .9 1.5 .8 1.5 .7 1.5 .7 1.5 .7 1.5 .6 1.5 .8 1.5 .8 1.5 1 1.5 .8 1.5 .8 1.5 .7 1.5 .5 1.5 .5 1.5 .4 1.5 .5 1.5 .5 1.5 .7 1.5 .7 1.5 .7 1.5 .6 1.5 .5 1.5 .5 1.5 .5 1.5 .7 1.5 .6 1.5 .6 1.5 .6 1.5 .3 1.5 .2 1.5 .1 1.5 .1 1.5 .2 1.5 .4 1.5 .4 1.5 .5 1.5 .4 1.5 .4 1.5 .4 1.5 .2 1.5 .3 1.5 .2 1.5 .3 1.5 .4 1.5 .4 1.5 .5 1.5 .5 1.5 .6 1.5 .7 1.5 .8 1.5 .8 1.5 .8 1.5 .6 1.5 .6 1.5 .5 1.5 .5 1.5 .6 1.5 .7 1.5 .8 1.5 .7 1.5 .6 1.5 .4 1.5 .3 1.5 .2 1.5 .3 1.5 .3 1.5 .4 1.5 .6 1.5 .6 1.5 .8 1.5 .6 1.5 .6 1.5 .5 1.5 .5 1.5 .6 1.5 .5 1.5 .6 1.5 .6 1.5 .6 1.5 .6 1.5 .8 1.5 .8 1.5 .8 1.5 .7 1.5 .6 1.5 .8 1.5 .9 1.5 1.1 1.5 1.2 1.5 1.1 1.5 1 1.5 .8 1.5 .8 1.5 .8 1.5 .8 1.5 .8 1.5 .9 1.5 1 1.5 1 1.5 .9 1.5 .9 1.5 .8 1.5 .7 1.5 .7 1.5 .7 1.5 .8 1.5 .9 1.5 1 1.5 1 1.5 .9 1.5 .8 1.5 .8 1.5 .9 1.5 .8 1.5 .9 1.5 .8 1.5 .8 1.5 .7 1.5 .7 1.5 .6 1.5 .6 1.5 .6 1.5 .7 1.5 .6 1.5 .6 1.5 .8 1.5 .7 1.5 .8 1.5 .7 1.5 .6 1.5 .6 1.5 .5 1.5 .7 1.5 .7 1.5 .7 1.5 .7 1.5 .8 1.5 .8 1.5 .9 1.5 1 1.5 .8 1.5 .7 1.5 .6 1.5 .7 1.5 .8 1.5 .8 1.5 .8 1.5 .8 1.5 .9 1.5 .7 1.5 .7 1.5 .6 1.5 .4 1.5 .5 1.5 .6 1.5 .7 1.5 .7 1.5 .7 1.5 .6 1.5 .7 1.5 .7 1.5 .8 1.5 .8 1.5 .8 1.5 .9 1.5 1.1 1.5 1 1.5 .9 1.5 .8 1.5 .7 1.5 .5 1.5 .5 1.5 .5 1.5 .7 1.5 .6 1.5 .5"/>
<path class="dk" stroke-opacity="0.42" d="M711 46.2l1.5 21.3 1.5 11.9 1.5 6.8 1.5 5.9 1.5 5 1.5 2 1.5 1.1 1.5 .7 1.5 .6 1.5 .8 1.5 .9 1.5 .9 1.5 .6 1.5 .3 1.5 .1 1.5 .2 1.5 .4 1.5 .7 1.5 1 1.5 .9 1.5 .7 1.5 .6 1.5 .5 1.5 .5 1.5 .6 1.5 .8 1.5 .8 1.5 .7 1.5 .5 1.5 .3 1.5 .2 1.5 .3 1.5 .5 1.5 .6 1.5 .6 1.5 .6 1.5 .6 1.5 .5 1.5 .5 1.5 .5 1.5 .4 1.5 .4 1.5 .3 1.5 .3 1.5 .3 1.5 .5 1.5 .3 1.5 .3 1.5 .1 1.5 0 1.5-.1 1.5 0 1.5-.1 1.5-.1 1.5-.1 1.5 0 1.5 .1 1.5 .2 1.5 .2 1.5 .2 1.5-.1 1.5-.2 1.5-.2 1.5-.2 1.5-.1 1.5 .1 1.5 0 1.5-.1 1.5-.3 1.5-.5 1.5-.4 1.5-.3 1.5-.1 1.5-.1 1.5-.1 1.5-.2 1.5-.2 1.5 0 1.5 .1 1.5 .3 1.5 .4 1.5 .6 1.5 .7 1.5 .8 1.5 .8 1.5 .8 1.5 .9 1.5 .7 1.5 .7 1.5 .6 1.5 .4 1.5 .3 1.5 .5 1.5 .6 1.5 .9 1.5 .8 1.5 .8 1.5 .7 1.5 .5 1.5 .5 1.5 .5 1.5 .6 1.5 .5 1.5 .6 1.5 .5 1.5 .4 1.5 .3 1.5 .1 1.5 .2 1.5 .3 1.5 .5 1.5 .7 1.5 .8 1.5 .7 1.5 .5 1.5 .3 1.5 .2 1.5 .1 1.5 .1 1.5 .1 1.5 .4 1.5 .4 1.5 .6 1.5 .5 1.5 .5 1.5 .6 1.5 .7 1.5 .7 1.5 .6 1.5 .5 1.5 .1 1.5 .1 1.5 .1 1.5 .3 1.5 .3 1.5 .4 1.5 .5 1.5 .5 1.5 .7 1.5 .7 1.5 .5 1.5 .5 1.5 .4 1.5 .4 1.5 .5 1.5 .6 1.5 .5 1.5 .4 1.5 .4 1.5 .4 1.5 .5 1.5 .4 1.5 .5 1.5 .4 1.5 .4 1.5 .5 1.5 .5 1.5 .4 1.5 .3 1.5 .3 1.5 .5 1.5 .5 1.5 .7 1.5 .6 1.5 .8 1.5 .7 1.5 .5 1.5 .4 1.5 .3 1.5 .3 1.5 .3 1.5 .6 1.5 .7 1.5 .7 1.5 .7 1.5 .7 1.5 .7 1.5 .7 1.5 .6 1.5 .7 1.5 .5 1.5 .5 1.5 .6 1.5 .6 1.5 .7 1.5 .6 1.5 .7 1.5 .7 1.5 .7 1.5 .6 1.5 .7 1.5 .7 1.5 .8 1.5 .8 1.5 .7 1.5 .7 1.5 .4 1.5 .4 1.5 .3 1.5 .5 1.5 .8 1.5 .9 1.5 1 1.5 1 1.5 .8 1.5 .7 1.5 .5 1.5 .5 1.5 .6 1.5 1 1.5 1.1 1.5 1 1.5 1 1.5 .8 1.5 .7 1.5 .6 1.5 .5 1.5 .5 1.5 .3 1.5 .3 1.5 .4 1.5 .5 1.5 .7 1.5 .5 1.5 .4 1.5 .2 1.5 .2 1.5 .3 1.5 .2 1.5 .2 1.5 .2 1.5 .3 1.5 .5 1.5 .6 1.5 .6 1.5 .6 1.5 .6 1.5 .5 1.5 .5 1.5 .4 1.5 .2 1.5 .2 1.5 .3 1.5 .5 1.5 .7 1.5 .7 1.5 .7 1.5 .6 1.5 .6 1.5 .7 1.5 .9 1.5 .8 1.5 .7 1.5 .8 1.5 .8 1.5 .8 1.5 .8 1.5 .8 1.5 .8 1.5 1 1.5 1.1 1.5 1 1.5 .7 1.5 .3 1.5 .1 1.5 .2 1.5 .4 1.5 .6 1.5 .8 1.5 .7 1.5 .5 1.5 .5 1.5 .5 1.5 .6 1.5 .7 1.5 .8 1.5 .7 1.5 .6 1.5 .7 1.5 .8 1.5 .9 1.5 .9 1.5 1.1 1.5 1.1 1.5 1.1 1.5 1.2 1.5 1 1.5 .9 1.5 .8 1.5 .8 1.5 .8 1.5 .8 1.5 .7 1.5 .7 1.5 .7 1.5 .7 1.5 .7 1.5 .8 1.5 .9 1.5 1 1.5 1 1.5 .8 1.5 .9 1.5 .9 1.5 1.1 1.5 1.2 1.5 1.1 1.5 1 1.5 .8 1.5 .8 1.5 .8 1.5 .7 1.5 .8 1.5 .6 1.5 .6 1.5 .6 1.5 .6 1.5 .4 1.5 .5 1.5 .5 1.5 .6 1.5 .8 1.5 .9 1.5 .7 1.5 .6 1.5 .3 1.5 .4 1.5 .4 1.5 .6 1.5 .7 1.5 .8 1.5 .6 1.5 .5 1.5 .4 1.5 .4 1.5 .5 1.5 .6 1.5 .7 1.5 .6 1.5 .6 1.5 .4 1.5 .4 1.5 .3 1.5 .4 1.5 .3 1.5 .5 1.5 .4 1.5 .4 1.5 .4 1.5 .4 1.5 .5 1.5 .6 1.5 .5 1.5 .5 1.5 .5 1.5 .6 1.5 .6 1.5 .6 1.5 .6 1.5 .4 1.5 .2 1.5 .3 1.5 .4 1.5 .6 1.5 .8 1.5 .7 1.5 .7 1.5 .6 1.5 .5 1.5 .4 1.5 .5 1.5 .4"/>
<path class="dk" stroke-opacity="0.42" d="M711 44.1l1.5 20.5 1.5 11.6 1.5 6.4 1.5 5.9 1.5 5.1 1.5 2.2 1.5 1.5 1.5 1.1 1.5 .7 1.5 .7 1.5 .6 1.5 .7 1.5 .6 1.5 .7 1.5 .6 1.5 .5 1.5 .6 1.5 .5 1.5 .6 1.5 .6 1.5 .7 1.5 .9 1.5 .8 1.5 .6 1.5 .6 1.5 .5 1.5 .5 1.5 .6 1.5 .5 1.5 .6 1.5 .5 1.5 .6 1.5 .6 1.5 .5 1.5 .7 1.5 .8 1.5 .8 1.5 .8 1.5 .8 1.5 .7 1.5 .6 1.5 .5 1.5 .4 1.5 .3 1.5 .2 1.5 .1 1.5-.1 1.5 0 1.5-.1 1.5 .1 1.5 .1 1.5 .2 1.5 .1 1.5 .1 1.5 0 1.5 .2 1.5 .1 1.5 .2 1.5 .1 1.5 .1 1.5 0 1.5 0 1.5-.2 1.5-.5 1.5-.5 1.5-.4 1.5-.2 1.5-.1 1.5 0 1.5-.1 1.5-.2 1.5-.4 1.5-.4 1.5-.3 1.5-.2 1.5-.1 1.5 .1 1.5 .1 1.5 .2 1.5 .3 1.5 .3 1.5 .4 1.5 .3 1.5 .2 1.5 .3 1.5 .4 1.5 .6 1.5 .8 1.5 .9 1.5 .7 1.5 .7 1.5 .7 1.5 .8 1.5 .7 1.5 .6 1.5 .6 1.5 .5 1.5 .5 1.5 .4 1.5 .4 1.5 .2 1.5 .1 1.5 .2 1.5 .4 1.5 .6 1.5 .7 1.5 .6 1.5 .6 1.5 .4 1.5 .5 1.5 .3 1.5 .4 1.5 .4 1.5 .3 1.5 .4 1.5 .4 1.5 .5 1.5 .3 1.5 .3 1.5 .2 1.5 .2 1.5 .2 1.5 .3 1.5 .4 1.5 .4 1.5 .5 1.5 .5 1.5 .4 1.5 .4 1.5 .5 1.5 .6 1.5 .6 1.5 .7 1.5 .6 1.5 .6 1.5 .6 1.5 .5 1.5 .4 1.5 .3 1.5 .3 1.5 .3 1.5 .3 1.5 .4 1.5 .5 1.5 .6 1.5 .7 1.5 .8 1.5 .6 1.5 .7 1.5 .5 1.5 .5 1.5 .4 1.5 .3 1.5 .4 1.5 .5 1.5 .5 1.5 .5 1.5 .5 1.5 .6 1.5 .7 1.5 .6 1.5 .7 1.5 .8 1.5 .8 1.5 .8 1.5 .6 1.5 .4 1.5 .4 1.5 .5 1.5 .7 1.5 .9 1.5 .7 1.5 .6 1.5 .5 1.5 .4 1.5 .4 1.5 .4 1.5 .3 1.5 .3 1.5 .4 1.5 .4 1.5 .5 1.5 .7 1.5 .8 1.5 .9 1.5 .8 1.5 .7 1.5 .6 1.5 .5 1.5 .5 1.5 .5 1.5 .5 1.5 .5 1.5 .7 1.5 .7 1.5 .7 1.5 .8 1.5 .8 1.5 .8 1.5 .8 1.5 .8 1.5 .7 1.5 .9 1.5 .8 1.5 .8 1.5 .6 1.5 .5 1.5 .4 1.5 .3 1.5 .4 1.5 .4 1.5 .7 1.5 .9 1.5 .8 1.5 .8 1.5 .5 1.5 .3 1.5 .2 1.5 0 1.5 .1 1.5 .4 1.5 .4 1.5 .6 1.5 .6 1.5 .4 1.5 .4 1.5 .3 1.5 .4 1.5 .4 1.5 .4 1.5 .4 1.5 .3 1.5 .3 1.5 .2 1.5 .2 1.5 .3 1.5 .3 1.5 .4 1.5 .4 1.5 .4 1.5 .4 1.5 .4 1.5 .4 1.5 .4 1.5 .4 1.5 .5 1.5 .7 1.5 .7 1.5 .8 1.5 1 1.5 1.1 1.5 1.1 1.5 .9 1.5 .7 1.5 .6 1.5 .7 1.5 .8 1.5 .7 1.5 .9 1.5 .7 1.5 .8 1.5 .6 1.5 .7 1.5 .6 1.5 .7 1.5 .6 1.5 .5 1.5 .3 1.5 .3 1.5 .3 1.5 .4 1.5 .6 1.5 .7 1.5 .8 1.5 .9 1.5 .8 1.5 .7 1.5 .8 1.5 .8 1.5 .9 1.5 .9 1.5 1 1.5 .9 1.5 1 1.5 1.1 1.5 1.2 1.5 1.2 1.5 1.1 1.5 1 1.5 .9 1.5 .8 1.5 .7 1.5 .8 1.5 .7 1.5 .9 1.5 .9 1.5 1 1.5 1.2 1.5 1.2 1.5 1 1.5 .9 1.5 .7 1.5 .7 1.5 .7 1.5 .9 1.5 1 1.5 .9 1.5 .8 1.5 .7 1.5 .6 1.5 .6 1.5 .7 1.5 .8 1.5 .9 1.5 .9 1.5 .9 1.5 .7 1.5 .6 1.5 .6 1.5 .7 1.5 .8 1.5 .9 1.5 .9 1.5 .8 1.5 .7 1.5 .7 1.5 .6 1.5 .6 1.5 .7 1.5 .5 1.5 .5 1.5 .5 1.5 .5 1.5 .6 1.5 .5 1.5 .5 1.5 .4 1.5 .5 1.5 .4 1.5 .4 1.5 .3 1.5 .5 1.5 .5 1.5 .6 1.5 .6 1.5 .6 1.5 .7 1.5 .8 1.5 .8 1.5 .7 1.5 .6 1.5 .5 1.5 .5 1.5 .4 1.5 .4 1.5 .5 1.5 .5 1.5 .6 1.5 .6 1.5 .7 1.5 .8 1.5 .8 1.5 .8 1.5 .8 1.5 .6 1.5 .6 1.5 .5 1.5 .5 1.5 .4 1.5 .4 1.5 .4 1.5 .5"/>
<path class="dk" stroke-opacity="0.42" d="M711 39.3l1.5 19.7 1.5 11.1 1.5 6.2 1.5 5.7 1.5 5.1 1.5 2.4 1.5 1.7 1.5 1.1 1.5 .9 1.5 .7 1.5 .7 1.5 .7 1.5 .8 1.5 .8 1.5 .8 1.5 .9 1.5 .8 1.5 .9 1.5 .9 1.5 .8 1.5 .6 1.5 .5 1.5 .6 1.5 .4 1.5 .4 1.5 .2 1.5 .3 1.5 .3 1.5 .6 1.5 .6 1.5 .6 1.5 .4 1.5 .5 1.5 .4 1.5 .5 1.5 .5 1.5 .6 1.5 .8 1.5 .9 1.5 1.1 1.5 1.1 1.5 .8 1.5 .4 1.5 0 1.5-.2 1.5-.1 1.5-.1 1.5 .1 1.5 .1 1.5 .1 1.5 .2 1.5 .2 1.5 .2 1.5 .2 1.5 .1 1.5 .1 1.5 .1 1.5-.1 1.5-.1 1.5-.2 1.5-.2 1.5-.1 1.5-.1 1.5-.1 1.5-.1 1.5-.1 1.5-.2 1.5-.3 1.5-.3 1.5-.3 1.5-.2 1.5-.1 1.5-.2 1.5-.2 1.5-.2 1.5-.1 1.5 0 1.5 .3 1.5 .3 1.5 .4 1.5 .5 1.5 .5 1.5 .5 1.5 .5 1.5 .5 1.5 .4 1.5 .2 1.5 .1 1.5 .1 1.5 .4 1.5 .6 1.5 .6 1.5 .7 1.5 .7 1.5 .7 1.5 .8 1.5 .8 1.5 .7 1.5 .7 1.5 .6 1.5 .5 1.5 .3 1.5 .3 1.5 .5 1.5 .6 1.5 .8 1.5 .8 1.5 .8 1.5 .6 1.5 .5 1.5 .4 1.5 .4 1.5 .4 1.5 .3 1.5 .3 1.5 .2 1.5 .3 1.5 .5 1.5 .6 1.5 .6 1.5 .7 1.5 .6 1.5 .6 1.5 .5 1.5 .5 1.5 .5 1.5 .5 1.5 .7 1.5 .6 1.5 .6 1.5 .7 1.5 .7 1.5 .6 1.5 .6 1.5 .5 1.5 .4 1.5 .5 1.5 .5 1.5 .4 1.5 .4 1.5 .4 1.5 .5 1.5 .5 1.5 .5 1.5 .4 1.5 .4 1.5 .5 1.5 .5 1.5 .7 1.5 .7 1.5 .7 1.5 .7 1.5 .6 1.5 .5 1.5 .5 1.5 .4 1.5 .2 1.5 .3 1.5 .2 1.5 .3 1.5 .5 1.5 .7 1.5 .7 1.5 .7 1.5 .6 1.5 .4 1.5 .2 1.5 .2 1.5 .3 1.5 .4 1.5 .5 1.5 .6 1.5 .5 1.5 .5 1.5 .5 1.5 .5 1.5 .5 1.5 .4 1.5 .5 1.5 .5 1.5 .7 1.5 .8 1.5 .7 1.5 .7 1.5 .7 1.5 .6 1.5 .8 1.5 .9 1.5 .8 1.5 .7 1.5 .6 1.5 .6 1.5 .6 1.5 .6 1.5 .7 1.5 .6 1.5 .7 1.5 .7 1.5 .8 1.5 .9 1.5 1 1.5 1 1.5 .7 1.5 .6 1.5 .5 1.5 .6 1.5 .6 1.5 .7 1.5 .7 1.5 .7 1.5 .7 1.5 .6 1.5 .6 1.5 .5 1.5 .4 1.5 .4 1.5 .2 1.5 .3 1.5 .4 1.5 .5 1.5 .6 1.5 .6 1.5 .6 1.5 .5 1.5 .5 1.5 .6 1.5 .5 1.5 .4 1.5 .4 1.5 .4 1.5 .4 1.5 .4 1.5 .3 1.5 .4 1.5 .4 1.5 .3 1.5 .3 1.5 .3 1.5 .4 1.5 .5 1.5 .6 1.5 .6 1.5 .7 1.5 .6 1.5 .7 1.5 .7 1.5 .8 1.5 .7 1.5 .7 1.5 .6 1.5 .5 1.5 .5 1.5 .8 1.5 .8 1.5 1.1 1.5 1 1.5 1 1.5 .9 1.5 .8 1.5 .6 1.5 .6 1.5 .5 1.5 .5 1.5 .5 1.5 .5 1.5 .5 1.5 .3 1.5 .3 1.5 .3 1.5 .4 1.5 .5 1.5 .8 1.5 1 1.5 1 1.5 1.1 1.5 1 1.5 1 1.5 .8 1.5 .7 1.5 .6 1.5 .6 1.5 .8 1.5 1 1.5 1.1 1.5 1.1 1.5 1.1 1.5 .9 1.5 .7 1.5 .7 1.5 .8 1.5 .9 1.5 1 1.5 1.2 1.5 1.3 1.5 1.1 1.5 1.1 1.5 .8 1.5 .8 1.5 .8 1.5 .9 1.5 1.1 1.5 1.1 1.5 1 1.5 .8 1.5 .8 1.5 .8 1.5 .7 1.5 .7 1.5 .6 1.5 .7 1.5 .8 1.5 .8 1.5 .7 1.5 .8 1.5 .9 1.5 .9 1.5 .9 1.5 .9 1.5 .9 1.5 .8 1.5 .8 1.5 .7 1.5 .5 1.5 .4 1.5 .5 1.5 .6 1.5 .7 1.5 .6 1.5 .5 1.5 .5 1.5 .6 1.5 .5 1.5 .5 1.5 .5 1.5 .6 1.5 .5 1.5 .5 1.5 .5 1.5 .5 1.5 .5 1.5 .7 1.5 .8 1.5 .7 1.5 .7 1.5 .6 1.5 .7 1.5 .7 1.5 .8 1.5 .7 1.5 .7 1.5 .7 1.5 .6 1.5 .7 1.5 .6 1.5 .5 1.5 .4 1.5 .5 1.5 .5 1.5 .5 1.5 .6 1.5 .5 1.5 .4 1.5 .5 1.5 .7 1.5 .7 1.5 .8 1.5 .8 1.5 .8 1.5 .8 1.5 .6 1.5 .5 1.5 .6"/>
<path class="dk" stroke-opacity="0.42" d="M711 46.9l1.5 21 1.5 11.9 1.5 6.7 1.5 5.9 1.5 4.8 1.5 1.8 1.5 1 1.5 .8 1.5 .7 1.5 .8 1.5 .8 1.5 .6 1.5 .8 1.5 .8 1.5 1 1.5 1.1 1.5 1 1.5 .8 1.5 .7 1.5 .5 1.5 .4 1.5 .4 1.5 .4 1.5 .5 1.5 .6 1.5 .7 1.5 .6 1.5 .7 1.5 .7 1.5 .6 1.5 .6 1.5 .5 1.5 .4 1.5 .4 1.5 .4 1.5 .5 1.5 .7 1.5 .7 1.5 .8 1.5 .7 1.5 .6 1.5 .4 1.5 .3 1.5 .3 1.5 .4 1.5 .4 1.5 .4 1.5 .2 1.5 .2 1.5 0 1.5 0 1.5-.1 1.5 0 1.5-.1 1.5 0 1.5 .1 1.5 0 1.5-.1 1.5-.2 1.5-.2 1.5-.3 1.5-.3 1.5-.4 1.5-.4 1.5-.5 1.5-.4 1.5-.5 1.5-.3 1.5-.2 1.5-.1 1.5-.2 1.5-.2 1.5-.1 1.5-.1 1.5 0 1.5 .1 1.5 .4 1.5 .4 1.5 .5 1.5 .3 1.5 .2 1.5 .1 1.5 .2 1.5 .4 1.5 .5 1.5 .6 1.5 .6 1.5 .5 1.5 .5 1.5 .5 1.5 .7 1.5 .7 1.5 .8 1.5 .7 1.5 .6 1.5 .5 1.5 .5 1.5 .7 1.5 .8 1.5 .8 1.5 .9 1.5 .8 1.5 .6 1.5 .5 1.5 .4 1.5 .2 1.5 .2 1.5 .3 1.5 .5 1.5 .6 1.5 .7 1.5 .7 1.5 .4 1.5 .4 1.5 .4 1.5 .6 1.5 .7 1.5 .6 1.5 .7 1.5 .5 1.5 .6 1.5 .5 1.5 .4 1.5 .2 1.5 .2 1.5 .3 1.5 .3 1.5 .4 1.5 .7 1.5 .8 1.5 1 1.5 .8 1.5 .7 1.5 .4 1.5 .3 1.5 .3 1.5 .4 1.5 .7 1.5 .7 1.5 .6 1.5 .4 1.5 .3 1.5 .2 1.5 .3 1.5 .3 1.5 .4 1.5 .3 1.5 .2 1.5 .2 1.5 .4 1.5 .5 1.5 .7 1.5 .8 1.5 .7 1.5 .5 1.5 .5 1.5 .5 1.5 .5 1.5 .6 1.5 .5 1.5 .3 1.5 .3 1.5 .1 1.5 .2 1.5 .3 1.5 .4 1.5 .5 1.5 .4 1.5 .5 1.5 .6 1.5 .6 1.5 .6 1.5 .6 1.5 .5 1.5 .6 1.5 .6 1.5 .7 1.5 .7 1.5 .7 1.5 .5 1.5 .5 1.5 .6 1.5 .4 1.5 .3 1.5 .3 1.5 .3 1.5 .4 1.5 .5 1.5 .7 1.5 .7 1.5 .8 1.5 .7 1.5 .7 1.5 .6 1.5 .7 1.5 .7 1.5 .7 1.5 .6 1.5 .6 1.5 .4 1.5 .4 1.5 .5 1.5 .7 1.5 .7 1.5 .7 1.5 .7 1.5 .6 1.5 .8 1.5 .8 1.5 .8 1.5 .9 1.5 .9 1.5 .8 1.5 .7 1.5 .5 1.5 .3 1.5 .3 1.5 .2 1.5 .5 1.5 .6 1.5 .9 1.5 .8 1.5 .8 1.5 .4 1.5 .3 1.5 .3 1.5 .3 1.5 .4 1.5 .4 1.5 .4 1.5 .5 1.5 .5 1.5 .4 1.5 .4 1.5 .2 1.5 .3 1.5 .2 1.5 .4 1.5 .4 1.5 .5 1.5 .6 1.5 .6 1.5 .7 1.5 .8 1.5 .7 1.5 .7 1.5 .6 1.5 .4 1.5 .6 1.5 .7 1.5 1 1.5 1.2 1.5 1.2 1.5 1 1.5 .9 1.5 .7 1.5 .9 1.5 .9 1.5 1 1.5 .9 1.5 .7 1.5 .6 1.5 .4 1.5 .3 1.5 .3 1.5 .2 1.5 .4 1.5 .6 1.5 .8 1.5 .8 1.5 .8 1.5 .6 1.5 .7 1.5 .7 1.5 .8 1.5 .8 1.5 .9 1.5 .9 1.5 .9 1.5 .8 1.5 .8 1.5 .8 1.5 .9 1.5 1 1.5 1.1 1.5 1.1 1.5 1 1.5 .9 1.5 1 1.5 1 1.5 1 1.5 .9 1.5 .9 1.5 .8 1.5 .9 1.5 .9 1.5 .9 1.5 .9 1.5 .8 1.5 .8 1.5 .8 1.5 .9 1.5 1 1.5 .9 1.5 .8 1.5 .6 1.5 .6 1.5 .7 1.5 .9 1.5 .8 1.5 .8 1.5 .7 1.5 .7 1.5 .8 1.5 .8 1.5 1 1.5 .9 1.5 .9 1.5 .7 1.5 .7 1.5 .6 1.5 .5 1.5 .5 1.5 .5 1.5 .5 1.5 .7 1.5 .7 1.5 .7 1.5 .5 1.5 .4 1.5 .3 1.5 .4 1.5 .4 1.5 .5 1.5 .4 1.5 .5 1.5 .6 1.5 .5 1.5 .6 1.5 .5 1.5 .4 1.5 .4 1.5 .5 1.5 .5 1.5 .6 1.5 .6 1.5 .7 1.5 .7 1.5 .6 1.5 .6 1.5 .5 1.5 .5 1.5 .5 1.5 .5 1.5 .4 1.5 .5 1.5 .5 1.5 .6 1.5 .7 1.5 .8 1.5 .7 1.5 .7 1.5 .7 1.5 .7 1.5 .7 1.5 .7 1.5 .5 1.5 .4 1.5 .4 1.5 .5 1.5 .6 1.5 .6"/>
<path class="dk" stroke-opacity="0.42" d="M711 48.5l1.5 22 1.5 12.2 1.5 7 1.5 6.1 1.5 5 1.5 2 1.5 1.2 1.5 .9 1.5 .7 1.5 .9 1.5 .9 1.5 .8 1.5 .6 1.5 .5 1.5 .4 1.5 .3 1.5 .5 1.5 .7 1.5 .7 1.5 .8 1.5 .6 1.5 .6 1.5 .5 1.5 .6 1.5 .6 1.5 .6 1.5 .5 1.5 .5 1.5 .4 1.5 .5 1.5 .5 1.5 .6 1.5 .6 1.5 .7 1.5 .7 1.5 .6 1.5 .4 1.5 .3 1.5 .2 1.5 .2 1.5 .4 1.5 .4 1.5 .6 1.5 .4 1.5 .4 1.5 .2 1.5 .2 1.5 .2 1.5 .4 1.5 .4 1.5 .3 1.5 .1 1.5-.1 1.5-.2 1.5-.3 1.5-.1 1.5-.2 1.5-.1 1.5-.1 1.5-.2 1.5-.2 1.5-.1 1.5-.1 1.5-.1 1.5 .1 1.5 0 1.5 0 1.5-.2 1.5-.3 1.5-.4 1.5-.5 1.5-.5 1.5-.3 1.5-.3 1.5-.2 1.5 0 1.5 0 1.5 .1 1.5 .1 1.5 .2 1.5 .1 1.5 .3 1.5 .3 1.5 .5 1.5 .6 1.5 .7 1.5 .8 1.5 .9 1.5 1 1.5 1.1 1.5 1 1.5 .8 1.5 .7 1.5 .6 1.5 .5 1.5 .6 1.5 .7 1.5 .7 1.5 .7 1.5 .5 1.5 .6 1.5 .3 1.5 .3 1.5 .2 1.5 .4 1.5 .4 1.5 .7 1.5 .7 1.5 .7 1.5 .6 1.5 .4 1.5 .3 1.5 .4 1.5 .5 1.5 .6 1.5 .6 1.5 .7 1.5 .5 1.5 .5 1.5 .6 1.5 .5 1.5 .4 1.5 .4 1.5 .5 1.5 .5 1.5 .5 1.5 .4 1.5 .4 1.5 .4 1.5 .4 1.5 .6 1.5 .5 1.5 .7 1.5 .7 1.5 .7 1.5 .7 1.5 .7 1.5 .7 1.5 .6 1.5 .5 1.5 .4 1.5 .4 1.5 .4 1.5 .4 1.5 .4 1.5 .4 1.5 .4 1.5 .5 1.5 .7 1.5 .7 1.5 .5 1.5 .6 1.5 .6 1.5 .7 1.5 .8 1.5 .8 1.5 .7 1.5 .4 1.5 .3 1.5 .4 1.5 .4 1.5 .6 1.5 .5 1.5 .4 1.5 .3 1.5 .5 1.5 .5 1.5 .4 1.5 .3 1.5 .3 1.5 .2 1.5 .4 1.5 .4 1.5 .5 1.5 .5 1.5 .6 1.5 .5 1.5 .4 1.5 .4 1.5 .6 1.5 .7 1.5 .8 1.5 .8 1.5 .7 1.5 .7 1.5 .7 1.5 .6 1.5 .5 1.5 .4 1.5 .4 1.5 .5 1.5 .4 1.5 .4 1.5 .4 1.5 .5 1.5 .5 1.5 .6 1.5 .6 1.5 .7 1.5 .9 1.5 .9 1.5 .8 1.5 .6 1.5 .2 1.5 .2 1.5 .3 1.5 .7 1.5 1 1.5 1.1 1.5 1.1 1.5 .9 1.5 .6 1.5 .5 1.5 .3 1.5 .3 1.5 .3 1.5 .5 1.5 .7 1.5 .6 1.5 .5 1.5 .5 1.5 .3 1.5 .3 1.5 .2 1.5 .1 1.5 .1 1.5 .1 1.5 .2 1.5 .3 1.5 .4 1.5 .5 1.5 .6 1.5 .7 1.5 .6 1.5 .4 1.5 .3 1.5 .2 1.5 .2 1.5 .3 1.5 .3 1.5 .3 1.5 .3 1.5 .3 1.5 .4 1.5 .5 1.5 .5 1.5 .6 1.5 .8 1.5 .8 1.5 1 1.5 .8 1.5 .9 1.5 1 1.5 1.1 1.5 1.1 1.5 1 1.5 .8 1.5 .7 1.5 .8 1.5 .7 1.5 .7 1.5 .6 1.5 .5 1.5 .6 1.5 .5 1.5 .7 1.5 .6 1.5 .6 1.5 .5 1.5 .5 1.5 .5 1.5 .6 1.5 .9 1.5 .9 1.5 1 1.5 1.1 1.5 1 1.5 .9 1.5 1 1.5 .9 1.5 1 1.5 .9 1.5 .9 1.5 .9 1.5 1 1.5 .9 1.5 .7 1.5 .7 1.5 .8 1.5 .9 1.5 1.1 1.5 1.1 1.5 .9 1.5 1 1.5 .9 1.5 1 1.5 1.1 1.5 1 1.5 .8 1.5 .8 1.5 .9 1.5 .8 1.5 .9 1.5 .8 1.5 .8 1.5 .8 1.5 .8 1.5 .8 1.5 .9 1.5 .9 1.5 .9 1.5 .8 1.5 .7 1.5 .7 1.5 .7 1.5 .8 1.5 .8 1.5 .8 1.5 .7 1.5 .5 1.5 .3 1.5 .3 1.5 .4 1.5 .7 1.5 1 1.5 1 1.5 .8 1.5 .7 1.5 .5 1.5 .6 1.5 .7 1.5 .9 1.5 .8 1.5 .7 1.5 .5 1.5 .3 1.5 .3 1.5 .3 1.5 .4 1.5 .4 1.5 .4 1.5 .5 1.5 .4 1.5 .6 1.5 .6 1.5 .7 1.5 .8 1.5 .6 1.5 .4 1.5 .3 1.5 .2 1.5 .2 1.5 .4 1.5 .6 1.5 .8 1.5 .9 1.5 .8 1.5 .7 1.5 .7 1.5 .6 1.5 .5 1.5 .5 1.5 .6 1.5 .5 1.5 .5 1.5 .5 1.5 .4 1.5 .5 1.5 .6 1.5 .6 1.5 .6 1.5 .5"/>
<path class="dk" stroke-opacity="0.42" d="M711 43.6l1.5 19.4 1.5 10.9 1.5 6.1 1.5 5.5 1.5 4.8 1.5 2.1 1.5 1.5 1.5 1.1 1.5 .9 1.5 .9 1.5 .8 1.5 .8 1.5 .7 1.5 .7 1.5 .7 1.5 .8 1.5 .9 1.5 .9 1.5 .9 1.5 .8 1.5 .6 1.5 .4 1.5 .4 1.5 .4 1.5 .6 1.5 .6 1.5 .5 1.5 .5 1.5 .4 1.5 .5 1.5 .5 1.5 .6 1.5 .7 1.5 .7 1.5 .8 1.5 .6 1.5 .5 1.5 .5 1.5 .6 1.5 .5 1.5 .5 1.5 .4 1.5 .3 1.5 .2 1.5 .2 1.5 .3 1.5 .2 1.5 .3 1.5 .2 1.5 .1 1.5 .1 1.5 0 1.5 0 1.5 0 1.5 0 1.5-.1 1.5-.2 1.5-.3 1.5-.3 1.5-.1 1.5 0 1.5 0 1.5 0 1.5 0 1.5-.1 1.5-.2 1.5-.3 1.5-.1 1.5 0 1.5 .1 1.5 .1 1.5 0 1.5-.1 1.5-.3 1.5-.3 1.5-.5 1.5-.4 1.5-.4 1.5-.2 1.5 0 1.5 .1 1.5 .3 1.5 .3 1.5 .5 1.5 .6 1.5 .5 1.5 .5 1.5 .4 1.5 .5 1.5 .6 1.5 .5 1.5 .5 1.5 .5 1.5 .5 1.5 .5 1.5 .5 1.5 .6 1.5 .6 1.5 .7 1.5 .7 1.5 .7 1.5 .7 1.5 .5 1.5 .5 1.5 .4 1.5 .5 1.5 .6 1.5 .5 1.5 .4 1.5 .5 1.5 .4 1.5 .6 1.5 .6 1.5 .7 1.5 .7 1.5 .4 1.5 .3 1.5 .3 1.5 .3 1.5 .5 1.5 .6 1.5 .6 1.5 .7 1.5 .7 1.5 .6 1.5 .7 1.5 .4 1.5 .3 1.5 .2 1.5 .3 1.5 .4 1.5 .5 1.5 .6 1.5 .4 1.5 .4 1.5 .4 1.5 .3 1.5 .5 1.5 .6 1.5 .7 1.5 .7 1.5 .6 1.5 .4 1.5 .3 1.5 .3 1.5 .5 1.5 .7 1.5 .7 1.5 .7 1.5 .6 1.5 .3 1.5 .4 1.5 .4 1.5 .5 1.5 .6 1.5 .6 1.5 .7 1.5 .7 1.5 .7 1.5 .6 1.5 .5 1.5 .6 1.5 .6 1.5 .7 1.5 .8 1.5 .7 1.5 .7 1.5 .6 1.5 .5 1.5 .6 1.5 .6 1.5 .6 1.5 .4 1.5 .4 1.5 .4 1.5 .6 1.5 .7 1.5 1 1.5 1 1.5 .9 1.5 .9 1.5 .6 1.5 .6 1.5 .4 1.5 .5 1.5 .5 1.5 .5 1.5 .6 1.5 .7 1.5 .8 1.5 .8 1.5 .8 1.5 .7 1.5 .6 1.5 .4 1.5 .6 1.5 .8 1.5 1 1.5 1 1.5 .9 1.5 .8 1.5 .8 1.5 .7 1.5 .7 1.5 .7 1.5 .5 1.5 .4 1.5 .3 1.5 .4 1.5 .5 1.5 .7 1.5 .8 1.5 .9 1.5 .8 1.5 .5 1.5 .3 1.5 .2 1.5 .3 1.5 .4 1.5 .5 1.5 .4 1.5 .4 1.5 .5 1.5 .5 1.5 .4 1.5 .2 1.5 .2 1.5 .2 1.5 .1 1.5 0 1.5 .1 1.5 .1 1.5 .2 1.5 .3 1.5 .5 1.5 .4 1.5 .6 1.5 .5 1.5 .6 1.5 .6 1.5 .4 1.5 .3 1.5 .1 1.5-.1 1.5 .1 1.5 .2 1.5 .5 1.5 .6 1.5 .7 1.5 .8 1.5 .8 1.5 .9 1.5 .9 1.5 .6 1.5 .5 1.5 .4 1.5 .6 1.5 .6 1.5 .6 1.5 .6 1.5 .5 1.5 .3 1.5 .4 1.5 .4 1.5 .5 1.5 .7 1.5 .7 1.5 .6 1.5 .4 1.5 .4 1.5 .4 1.5 .6 1.5 .7 1.5 .7 1.5 .9 1.5 .9 1.5 .9 1.5 .9 1.5 .9 1.5 .9 1.5 1 1.5 1 1.5 .9 1.5 .8 1.5 .7 1.5 .7 1.5 .9 1.5 1 1.5 1.1 1.5 1 1.5 1 1.5 1 1.5 1 1.5 .9 1.5 .8 1.5 .6 1.5 .7 1.5 .9 1.5 1.1 1.5 1.2 1.5 1.2 1.5 1.2 1.5 1.3 1.5 1.1 1.5 1.1 1.5 .8 1.5 .7 1.5 .6 1.5 .7 1.5 .8 1.5 .9 1.5 .9 1.5 .8 1.5 .7 1.5 .6 1.5 .7 1.5 .8 1.5 .9 1.5 .9 1.5 1 1.5 .9 1.5 .9 1.5 .8 1.5 .7 1.5 .5 1.5 .3 1.5 .3 1.5 .5 1.5 .6 1.5 .8 1.5 .7 1.5 .7 1.5 .6 1.5 .3 1.5 .4 1.5 .4 1.5 .7 1.5 .9 1.5 1 1.5 .9 1.5 .8 1.5 .8 1.5 .8 1.5 .5 1.5 .4 1.5 .3 1.5 .4 1.5 .4 1.5 .5 1.5 .6 1.5 .8 1.5 .9 1.5 .9 1.5 1 1.5 .8 1.5 .7 1.5 .5 1.5 .4 1.5 .4 1.5 .6 1.5 .8 1.5 .7 1.5 .7 1.5 .6 1.5 .5 1.5 .5 1.5 .6 1.5 .7 1.5 .6 1.5 .6 1.5 .6 1.5 .4"/>
<path class="dk" stroke-opacity="0.42" d="M711 45l1.5 20.3 1.5 11.3 1.5 6.4 1.5 5.9 1.5 5.2 1.5 2.2 1.5 1.4 1.5 .9 1.5 .8 1.5 .7 1.5 .7 1.5 .5 1.5 .4 1.5 .3 1.5 .5 1.5 .8 1.5 .9 1.5 .9 1.5 .7 1.5 .5 1.5 .5 1.5 .6 1.5 .7 1.5 .6 1.5 .4 1.5 .4 1.5 .3 1.5 .4 1.5 .5 1.5 .5 1.5 .5 1.5 .5 1.5 .4 1.5 .7 1.5 .7 1.5 .8 1.5 .6 1.5 .4 1.5 .3 1.5 .3 1.5 .4 1.5 .5 1.5 .5 1.5 .5 1.5 .5 1.5 .4 1.5 .4 1.5 .2 1.5 .1 1.5 .1 1.5 .1 1.5 0 1.5-.1 1.5-.2 1.5-.2 1.5-.2 1.5-.1 1.5-.1 1.5-.1 1.5 0 1.5-.1 1.5 .1 1.5 .1 1.5 0 1.5-.1 1.5-.2 1.5-.2 1.5-.3 1.5-.3 1.5-.4 1.5-.4 1.5-.4 1.5-.3 1.5-.1 1.5 0 1.5 0 1.5 .1 1.5 0 1.5 0 1.5 .2 1.5 .3 1.5 .4 1.5 .5 1.5 .5 1.5 .5 1.5 .5 1.5 .5 1.5 .5 1.5 .5 1.5 .7 1.5 .9 1.5 1 1.5 1.1 1.5 .9 1.5 .9 1.5 .8 1.5 .7 1.5 .6 1.5 .4 1.5 .3 1.5 .5 1.5 .7 1.5 .8 1.5 .7 1.5 .5 1.5 .4 1.5 .5 1.5 .6 1.5 .5 1.5 .5 1.5 .3 1.5 .3 1.5 .2 1.5 .3 1.5 .3 1.5 .5 1.5 .6 1.5 .7 1.5 .7 1.5 .6 1.5 .7 1.5 .5 1.5 .6 1.5 .5 1.5 .5 1.5 .4 1.5 .5 1.5 .6 1.5 .5 1.5 .5 1.5 .4 1.5 .4 1.5 .3 1.5 .4 1.5 .6 1.5 .7 1.5 .6 1.5 .6 1.5 .6 1.5 .6 1.5 .8 1.5 .8 1.5 .7 1.5 .4 1.5 .2 1.5 .1 1.5 0 1.5 .3 1.5 .4 1.5 .5 1.5 .7 1.5 .7 1.5 .5 1.5 .5 1.5 .5 1.5 .4 1.5 .5 1.5 .5 1.5 .6 1.5 .7 1.5 .8 1.5 .7 1.5 .7 1.5 .6 1.5 .5 1.5 .5 1.5 .5 1.5 .7 1.5 .7 1.5 .7 1.5 .6 1.5 .4 1.5 .4 1.5 .6 1.5 .8 1.5 .9 1.5 .8 1.5 .6 1.5 .5 1.5 .5 1.5 .6 1.5 .7 1.5 .9 1.5 .8 1.5 .7 1.5 .6 1.5 .4 1.5 .4 1.5 .4 1.5 .6 1.5 .8 1.5 .9 1.5 1.1 1.5 1 1.5 .9 1.5 .9 1.5 .7 1.5 .6 1.5 .6 1.5 .5 1.5 .5 1.5 .4 1.5 .5 1.5 .7 1.5 .7 1.5 .6 1.5 .6 1.5 .6 1.5 .7 1.5 .8 1.5 .7 1.5 .9 1.5 .9 1.5 1 1.5 .7 1.5 .5 1.5 .3 1.5 .2 1.5 .1 1.5 .1 1.5 .3 1.5 .5 1.5 .5 1.5 .6 1.5 .5 1.5 .4 1.5 .2 1.5 .1 1.5 .2 1.5 .4 1.5 .5 1.5 .5 1.5 .3 1.5 .3 1.5 .2 1.5 .4 1.5 .5 1.5 .6 1.5 .5 1.5 .3 1.5 .3 1.5 .2 1.5 .2 1.5 .4 1.5 .5 1.5 .6 1.5 .7 1.5 .6 1.5 .7 1.5 .7 1.5 .8 1.5 .9 1.5 .9 1.5 .8 1.5 .7 1.5 .8 1.5 .7 1.5 .8 1.5 .9 1.5 .7 1.5 .4 1.5 .2 1.5 .1 1.5 .3 1.5 .4 1.5 .7 1.5 .8 1.5 .8 1.5 .8 1.5 .7 1.5 .6 1.5 .6 1.5 .5 1.5 .7 1.5 .7 1.5 .9 1.5 .8 1.5 .9 1.5 .8 1.5 .7 1.5 .8 1.5 .7 1.5 .8 1.5 1 1.5 .9 1.5 1 1.5 1 1.5 1.1 1.5 1 1.5 1 1.5 .9 1.5 .9 1.5 1 1.5 1 1.5 1 1.5 .8 1.5 .6 1.5 .7 1.5 .7 1.5 .8 1.5 .9 1.5 .8 1.5 .8 1.5 .7 1.5 .8 1.5 .8 1.5 1 1.5 1 1.5 1 1.5 .9 1.5 .7 1.5 .6 1.5 .7 1.5 .8 1.5 .7 1.5 .8 1.5 .7 1.5 .8 1.5 .7 1.5 .7 1.5 .7 1.5 .8 1.5 .9 1.5 .8 1.5 .9 1.5 .9 1.5 .7 1.5 .5 1.5 .4 1.5 .3 1.5 .2 1.5 .2 1.5 .4 1.5 .6 1.5 .7 1.5 .7 1.5 .6 1.5 .5 1.5 .4 1.5 .5 1.5 .5 1.5 .6 1.5 .5 1.5 .3 1.5 .2 1.5 .2 1.5 .4 1.5 .6 1.5 .9 1.5 .8 1.5 .6 1.5 .5 1.5 .4 1.5 .6 1.5 .6 1.5 .7 1.5 .5 1.5 .5 1.5 .3 1.5 .4 1.5 .5 1.5 .6 1.5 .6 1.5 .6 1.5 .5 1.5 .5 1.5 .5 1.5 .6 1.5 .5 1.5 .5 1.5 .4 1.5 .4"/>
<path class="dk" stroke-opacity="0.42" d="M711 44.5l1.5 21.1 1.5 12 1.5 6.8 1.5 6 1.5 4.9 1.5 1.9 1.5 1.2 1.5 1.1 1.5 .9 1.5 .9 1.5 .7 1.5 .5 1.5 .4 1.5 .5 1.5 .6 1.5 .6 1.5 .6 1.5 .5 1.5 .4 1.5 .5 1.5 .5 1.5 .5 1.5 .6 1.5 .6 1.5 .7 1.5 .5 1.5 .4 1.5 .4 1.5 .4 1.5 .7 1.5 .7 1.5 .7 1.5 .6 1.5 .7 1.5 .7 1.5 .7 1.5 .8 1.5 .6 1.5 .5 1.5 .4 1.5 .5 1.5 .4 1.5 .4 1.5 .5 1.5 .3 1.5 .2 1.5 .1 1.5-.1 1.5 0 1.5-.1 1.5 0 1.5 0 1.5-.1 1.5-.1 1.5-.1 1.5-.2 1.5-.1 1.5 .1 1.5 .3 1.5 .2 1.5 .1 1.5-.2 1.5-.4 1.5-.6 1.5-.5 1.5-.3 1.5-.3 1.5-.2 1.5-.4 1.5-.4 1.5-.5 1.5-.3 1.5-.2 1.5 0 1.5 0 1.5 .1 1.5 .2 1.5 .2 1.5 .5 1.5 .5 1.5 .5 1.5 .6 1.5 .6 1.5 .6 1.5 .6 1.5 .5 1.5 .5 1.5 .5 1.5 .5 1.5 .5 1.5 .6 1.5 .6 1.5 .7 1.5 .7 1.5 .8 1.5 .7 1.5 .6 1.5 .6 1.5 .5 1.5 .6 1.5 .6 1.5 .5 1.5 .5 1.5 .6 1.5 .7 1.5 .8 1.5 .8 1.5 .6 1.5 .6 1.5 .4 1.5 .4 1.5 .5 1.5 .5 1.5 .8 1.5 .7 1.5 .7 1.5 .6 1.5 .7 1.5 .6 1.5 .7 1.5 .5 1.5 .3 1.5 0 1.5 .1 1.5 .3 1.5 .7 1.5 .8 1.5 .9 1.5 .8 1.5 .9 1.5 .7 1.5 .5 1.5 .5 1.5 .4 1.5 .7 1.5 .6 1.5 .7 1.5 .5 1.5 .3 1.5 .3 1.5 .4 1.5 .7 1.5 .8 1.5 .7 1.5 .6 1.5 .4 1.5 .5 1.5 .5 1.5 .7 1.5 .6 1.5 .6 1.5 .4 1.5 .3 1.5 .2 1.5 .2 1.5 .3 1.5 .4 1.5 .4 1.5 .5 1.5 .4 1.5 .4 1.5 .5 1.5 .4 1.5 .2 1.5 .4 1.5 .3 1.5 .4 1.5 .5 1.5 .4 1.5 .4 1.5 .3 1.5 .4 1.5 .4 1.5 .6 1.5 .6 1.5 .8 1.5 .9 1.5 .9 1.5 1 1.5 1 1.5 .8 1.5 .7 1.5 .5 1.5 .4 1.5 .4 1.5 .3 1.5 .4 1.5 .4 1.5 .6 1.5 .6 1.5 .7 1.5 .7 1.5 .8 1.5 .7 1.5 .8 1.5 .7 1.5 .8 1.5 .7 1.5 .7 1.5 .8 1.5 .9 1.5 1.1 1.5 1 1.5 .9 1.5 .6 1.5 .5 1.5 .5 1.5 .7 1.5 .7 1.5 .7 1.5 .8 1.5 .7 1.5 .7 1.5 .7 1.5 .8 1.5 1 1.5 .9 1.5 .7 1.5 .4 1.5 .4 1.5 .3 1.5 .5 1.5 .4 1.5 .4 1.5 .4 1.5 .3 1.5 .3 1.5 .4 1.5 .3 1.5 .3 1.5 .3 1.5 .4 1.5 .4 1.5 .4 1.5 .3 1.5 .2 1.5 .1 1.5 .1 1.5 .1 1.5 .3 1.5 .4 1.5 .3 1.5 .4 1.5 .4 1.5 .5 1.5 .5 1.5 .6 1.5 .5 1.5 .6 1.5 .7 1.5 .7 1.5 .7 1.5 .8 1.5 .8 1.5 .8 1.5 .7 1.5 .6 1.5 .5 1.5 .7 1.5 .8 1.5 .8 1.5 .8 1.5 .6 1.5 .4 1.5 .4 1.5 .4 1.5 .3 1.5 .4 1.5 .5 1.5 .6 1.5 .6 1.5 .5 1.5 .6 1.5 .5 1.5 .6 1.5 .7 1.5 .7 1.5 .9 1.5 .9 1.5 1 1.5 .9 1.5 1.1 1.5 1.1 1.5 1.2 1.5 1.2 1.5 1.2 1.5 1.1 1.5 1 1.5 1 1.5 .8 1.5 1 1.5 .9 1.5 .9 1.5 .8 1.5 .8 1.5 .7 1.5 .6 1.5 .7 1.5 .7 1.5 .9 1.5 .9 1.5 1 1.5 1.1 1.5 1 1.5 1 1.5 .9 1.5 .8 1.5 .8 1.5 .8 1.5 .8 1.5 .7 1.5 .8 1.5 .7 1.5 .7 1.5 .6 1.5 .6 1.5 .7 1.5 .9 1.5 .8 1.5 .9 1.5 .7 1.5 .8 1.5 .7 1.5 .6 1.5 .7 1.5 .6 1.5 .7 1.5 .6 1.5 .6 1.5 .6 1.5 .6 1.5 .7 1.5 .6 1.5 .5 1.5 .4 1.5 .4 1.5 .4 1.5 .4 1.5 .4 1.5 .5 1.5 .5 1.5 .6 1.5 .6 1.5 .6 1.5 .7 1.5 .6 1.5 .4 1.5 .4 1.5 .3 1.5 .4 1.5 .6 1.5 .6 1.5 .7 1.5 .7 1.5 .6 1.5 .7 1.5 .7 1.5 .6 1.5 .7 1.5 .6 1.5 .5 1.5 .6 1.5 .6 1.5 .7 1.5 .6 1.5 .7 1.5 .6 1.5 .6 1.5 .6 1.5 .5 1.5 .5 1.5 .6"/>
<path class="dk" stroke-opacity="0.42" d="M711 39.1l1.5 19.4 1.5 11 1.5 6.2 1.5 5.5 1.5 4.8 1.5 2 1.5 1.5 1.5 1.2 1.5 1.1 1.5 .9 1.5 .8 1.5 .8 1.5 .7 1.5 .8 1.5 .9 1.5 .9 1.5 .9 1.5 .7 1.5 .5 1.5 .4 1.5 .5 1.5 .5 1.5 .5 1.5 .7 1.5 .6 1.5 .7 1.5 .7 1.5 .6 1.5 .3 1.5 .2 1.5 .1 1.5 .1 1.5 .2 1.5 .3 1.5 .5 1.5 .6 1.5 .9 1.5 .7 1.5 .7 1.5 .5 1.5 .4 1.5 .5 1.5 .5 1.5 .4 1.5 .3 1.5 .1 1.5 .2 1.5 .2 1.5 .4 1.5 .4 1.5 .4 1.5 .3 1.5 0 1.5-.1 1.5-.2 1.5-.1 1.5 0 1.5 0 1.5 .2 1.5 .1 1.5 .2 1.5 .2 1.5 .2 1.5 .1 1.5-.2 1.5-.4 1.5-.5 1.5-.5 1.5-.2 1.5 0 1.5 .1 1.5 .1 1.5 0 1.5-.1 1.5-.1 1.5-.1 1.5-.1 1.5-.1 1.5 0 1.5 .2 1.5 .3 1.5 .5 1.5 .7 1.5 .6 1.5 .6 1.5 .5 1.5 .4 1.5 .4 1.5 .4 1.5 .4 1.5 .4 1.5 .5 1.5 .6 1.5 .7 1.5 .9 1.5 .7 1.5 .7 1.5 .7 1.5 .6 1.5 .6 1.5 .7 1.5 .6 1.5 .5 1.5 .4 1.5 .4 1.5 .5 1.5 .5 1.5 .6 1.5 .6 1.5 .5 1.5 .5 1.5 .3 1.5 .1 1.5 .1 1.5 .2 1.5 .3 1.5 .6 1.5 .7 1.5 .8 1.5 .7 1.5 .7 1.5 .7 1.5 .7 1.5 .7 1.5 .6 1.5 .5 1.5 .4 1.5 .4 1.5 .5 1.5 .7 1.5 .7 1.5 .8 1.5 .6 1.5 .6 1.5 .4 1.5 .4 1.5 .3 1.5 .3 1.5 .4 1.5 .5 1.5 .4 1.5 .5 1.5 .6 1.5 .5 1.5 .5 1.5 .5 1.5 .6 1.5 .6 1.5 .6 1.5 .8 1.5 .7 1.5 .6 1.5 .5 1.5 .5 1.5 .4 1.5 .3 1.5 .3 1.5 .4 1.5 .6 1.5 .7 1.5 .7 1.5 .4 1.5 .3 1.5 .2 1.5 .3 1.5 .5 1.5 .8 1.5 .7 1.5 .7 1.5 .5 1.5 .6 1.5 .5 1.5 .7 1.5 .6 1.5 .6 1.5 .4 1.5 .4 1.5 .6 1.5 .7 1.5 .7 1.5 .6 1.5 .5 1.5 .4 1.5 .5 1.5 .8 1.5 .8 1.5 .9 1.5 .8 1.5 .7 1.5 .4 1.5 .2 1.5 .2 1.5 .3 1.5 .4 1.5 .6 1.5 .9 1.5 .9 1.5 .9 1.5 .9 1.5 .7 1.5 .7 1.5 .7 1.5 .9 1.5 .9 1.5 .8 1.5 .5 1.5 .5 1.5 .5 1.5 .6 1.5 .7 1.5 .5 1.5 .5 1.5 .6 1.5 .6 1.5 .7 1.5 .7 1.5 .8 1.5 .8 1.5 .8 1.5 .7 1.5 .5 1.5 .6 1.5 .5 1.5 .4 1.5 .2 1.5 .1 1.5 0 1.5 .2 1.5 .3 1.5 .3 1.5 .4 1.5 .3 1.5 .3 1.5 .2 1.5 .2 1.5 .2 1.5 .2 1.5 .4 1.5 .6 1.5 .7 1.5 .6 1.5 .7 1.5 .7 1.5 .6 1.5 .5 1.5 .5 1.5 .4 1.5 .4 1.5 .4 1.5 .6 1.5 .7 1.5 .8 1.5 .8 1.5 .9 1.5 .8 1.5 .9 1.5 .9 1.5 .9 1.5 .8 1.5 .9 1.5 .7 1.5 .7 1.5 .3 1.5 .1 1.5 0 1.5 .2 1.5 .4 1.5 .5 1.5 .6 1.5 .5 1.5 .6 1.5 .7 1.5 .8 1.5 .9 1.5 .9 1.5 .9 1.5 .9 1.5 .8 1.5 .8 1.5 .7 1.5 .9 1.5 1.1 1.5 1.2 1.5 1.1 1.5 .9 1.5 .7 1.5 .7 1.5 .9 1.5 1 1.5 1.2 1.5 1.2 1.5 1.2 1.5 .9 1.5 .7 1.5 .7 1.5 .7 1.5 .7 1.5 .8 1.5 .7 1.5 .7 1.5 .7 1.5 .8 1.5 .9 1.5 1 1.5 1.2 1.5 1.2 1.5 1.2 1.5 1 1.5 .7 1.5 .5 1.5 .4 1.5 .6 1.5 .9 1.5 1.1 1.5 1.2 1.5 1.3 1.5 1 1.5 .8 1.5 .6 1.5 .4 1.5 .4 1.5 .5 1.5 .7 1.5 .8 1.5 .8 1.5 .9 1.5 .9 1.5 .8 1.5 .8 1.5 .8 1.5 .7 1.5 .7 1.5 .6 1.5 .4 1.5 .2 1.5 .3 1.5 .5 1.5 .7 1.5 .8 1.5 .9 1.5 .7 1.5 .7 1.5 .7 1.5 .8 1.5 .7 1.5 .5 1.5 .6 1.5 .6 1.5 .7 1.5 .8 1.5 .7 1.5 .8 1.5 .7 1.5 .8 1.5 .8 1.5 .8 1.5 .6 1.5 .4 1.5 .4 1.5 .5 1.5 .6 1.5 .7 1.5 .9 1.5 .8 1.5 .5 1.5 .4 1.5 .4 1.5 .5 1.5 .4 1.5 .5 1.5 .3 1.5 .4"/>
<path class="dk" stroke-opacity="0.42" d="M711 47l1.5 21.7 1.5 12 1.5 6.9 1.5 6.3 1.5 5.2 1.5 2.3 1.5 1.3 1.5 .7 1.5 .4 1.5 .3 1.5 .3 1.5 .4 1.5 .4 1.5 .5 1.5 .6 1.5 .7 1.5 .7 1.5 .7 1.5 .7 1.5 .6 1.5 .7 1.5 .6 1.5 .7 1.5 .6 1.5 .5 1.5 .5 1.5 .3 1.5 .4 1.5 .3 1.5 .4 1.5 .5 1.5 .6 1.5 .6 1.5 .7 1.5 .7 1.5 .8 1.5 .6 1.5 .7 1.5 .7 1.5 .7 1.5 .8 1.5 .5 1.5 .4 1.5 .2 1.5 .3 1.5 .3 1.5 .2 1.5 .1 1.5-.1 1.5-.1 1.5 0 1.5 .1 1.5 .2 1.5 .2 1.5 .2 1.5-.1 1.5-.1 1.5-.1 1.5-.2 1.5-.3 1.5-.3 1.5-.2 1.5 0 1.5-.1 1.5 0 1.5-.2 1.5-.3 1.5-.4 1.5-.4 1.5-.5 1.5-.4 1.5-.2 1.5-.1 1.5-.1 1.5-.1 1.5-.2 1.5 0 1.5 0 1.5 .1 1.5 .3 1.5 .4 1.5 .5 1.5 .5 1.5 .6 1.5 .5 1.5 .4 1.5 .5 1.5 .6 1.5 .8 1.5 .9 1.5 .9 1.5 .7 1.5 .7 1.5 .8 1.5 .7 1.5 .8 1.5 .6 1.5 .5 1.5 .6 1.5 .6 1.5 .7 1.5 .8 1.5 .7 1.5 .7 1.5 .6 1.5 .5 1.5 .4 1.5 .1 1.5 .1 1.5 .2 1.5 .2 1.5 .4 1.5 .6 1.5 .6 1.5 .6 1.5 .6 1.5 .3 1.5 .2 1.5 .2 1.5 .4 1.5 .5 1.5 .6 1.5 .5 1.5 .3 1.5 0 1.5 .1 1.5 .2 1.5 .4 1.5 .5 1.5 .4 1.5 .5 1.5 .4 1.5 .5 1.5 .7 1.5 .7 1.5 .7 1.5 .6 1.5 .7 1.5 .7 1.5 .9 1.5 .9 1.5 .8 1.5 .6 1.5 .3 1.5 .1 1.5 0 1.5-.1 1.5-.1 1.5 .1 1.5 .5 1.5 .6 1.5 .9 1.5 .7 1.5 .7 1.5 .7 1.5 .6 1.5 .6 1.5 .5 1.5 .4 1.5 .5 1.5 .5 1.5 .8 1.5 .9 1.5 .8 1.5 .7 1.5 .5 1.5 .4 1.5 .4 1.5 .4 1.5 .5 1.5 .4 1.5 .4 1.5 .4 1.5 .3 1.5 .5 1.5 .6 1.5 .7 1.5 .8 1.5 .7 1.5 .7 1.5 .5 1.5 .5 1.5 .7 1.5 .8 1.5 .9 1.5 .9 1.5 .7 1.5 .6 1.5 .6 1.5 .5 1.5 .6 1.5 .6 1.5 .6 1.5 .6 1.5 .6 1.5 .6 1.5 .7 1.5 .8 1.5 .7 1.5 .7 1.5 .7 1.5 .7 1.5 .7 1.5 .8 1.5 .8 1.5 .7 1.5 .7 1.5 .6 1.5 .7 1.5 .8 1.5 .9 1.5 .9 1.5 .8 1.5 .7 1.5 .5 1.5 .4 1.5 .4 1.5 .3 1.5 .4 1.5 .5 1.5 .5 1.5 .7 1.5 .6 1.5 .5 1.5 .5 1.5 .4 1.5 .2 1.5 .1 1.5 .2 1.5 .2 1.5 .5 1.5 .6 1.5 .5 1.5 .3 1.5 .2 1.5 .2 1.5 .3 1.5 .4 1.5 .4 1.5 .6 1.5 .6 1.5 .6 1.5 .6 1.5 .6 1.5 .5 1.5 .5 1.5 .5 1.5 .6 1.5 .7 1.5 .7 1.5 .9 1.5 1 1.5 1.3 1.5 1.2 1.5 1.1 1.5 1 1.5 .7 1.5 .8 1.5 .8 1.5 .7 1.5 .7 1.5 .6 1.5 .5 1.5 .6 1.5 .6 1.5 .7 1.5 .6 1.5 .6 1.5 .6 1.5 .4 1.5 .4 1.5 .4 1.5 .5 1.5 .6 1.5 1 1.5 1.1 1.5 1.3 1.5 1.1 1.5 1 1.5 .8 1.5 .8 1.5 1 1.5 1.1 1.5 1.2 1.5 1.2 1.5 1.1 1.5 1.1 1.5 .8 1.5 .6 1.5 .5 1.5 .5 1.5 .5 1.5 .5 1.5 .8 1.5 1 1.5 1 1.5 1.1 1.5 .9 1.5 .9 1.5 .7 1.5 .8 1.5 .9 1.5 .9 1.5 .9 1.5 .9 1.5 .7 1.5 .6 1.5 .6 1.5 .6 1.5 .7 1.5 .8 1.5 .9 1.5 1 1.5 .8 1.5 .6 1.5 .5 1.5 .5 1.5 .5 1.5 .6 1.5 .7 1.5 .9 1.5 .9 1.5 .9 1.5 .8 1.5 .6 1.5 .5 1.5 .4 1.5 .6 1.5 .7 1.5 .6 1.5 .6 1.5 .4 1.5 .3 1.5 .3 1.5 .2 1.5 .4 1.5 .5 1.5 .7 1.5 .8 1.5 .8 1.5 .8 1.5 .9 1.5 .8 1.5 .7 1.5 .4 1.5 .5 1.5 .7 1.5 .7 1.5 .8 1.5 .9 1.5 .8 1.5 .8 1.5 .7 1.5 .7 1.5 .5 1.5 .5 1.5 .5 1.5 .5 1.5 .6 1.5 .7 1.5 .7 1.5 .6 1.5 .6 1.5 .6 1.5 .4 1.5 .5 1.5 .5 1.5 .7 1.5 .6 1.5 .7 1.5 .6 1.5 .6"/>
<path class="dk" stroke-opacity="0.42" d="M711 40.5l1.5 17.5 1.5 10.1 1.5 5.5 1.5 5.2 1.5 4.7 1.5 2.1 1.5 1.4 1.5 1 1.5 .8 1.5 1 1.5 1 1.5 .9 1.5 .8 1.5 .6 1.5 .6 1.5 .6 1.5 .7 1.5 .6 1.5 .5 1.5 .5 1.5 .6 1.5 .6 1.5 .3 1.5 .3 1.5 .1 1.5 .1 1.5 .3 1.5 .3 1.5 .5 1.5 .5 1.5 .6 1.5 .7 1.5 .6 1.5 .5 1.5 .5 1.5 .3 1.5 .2 1.5 .3 1.5 .5 1.5 .7 1.5 .7 1.5 .7 1.5 .5 1.5 .4 1.5 .2 1.5 .1 1.5 .1 1.5 .1 1.5 .1 1.5 .2 1.5 .1 1.5 .3 1.5 .4 1.5 .4 1.5 .4 1.5 .2 1.5 0 1.5 0 1.5 .1 1.5 .2 1.5 .3 1.5 .2 1.5 .1 1.5 .1 1.5 .1 1.5 .2 1.5 .3 1.5 .2 1.5 .1 1.5-.3 1.5-.4 1.5-.5 1.5-.4 1.5-.3 1.5-.2 1.5 0 1.5 0 1.5 .3 1.5 .3 1.5 .4 1.5 .4 1.5 .3 1.5 .3 1.5 .2 1.5 .3 1.5 .4 1.5 .4 1.5 .5 1.5 .4 1.5 .2 1.5 .2 1.5 .2 1.5 .2 1.5 .2 1.5 .4 1.5 .5 1.5 .6 1.5 .6 1.5 .6 1.5 .5 1.5 .4 1.5 .5 1.5 .3 1.5 .4 1.5 .5 1.5 .6 1.5 .7 1.5 .9 1.5 .9 1.5 .9 1.5 .7 1.5 .4 1.5 .2 1.5 .2 1.5 .1 1.5 .1 1.5 .2 1.5 .4 1.5 .5 1.5 .6 1.5 .7 1.5 .6 1.5 .5 1.5 .6 1.5 .6 1.5 .5 1.5 .6 1.5 .5 1.5 .5 1.5 .7 1.5 .8 1.5 .7 1.5 .5 1.5 .2 1.5 .1 1.5 .1 1.5 .3 1.5 .3 1.5 .5 1.5 .4 1.5 .4 1.5 .5 1.5 .7 1.5 .8 1.5 .9 1.5 .7 1.5 .5 1.5 .3 1.5 .2 1.5 .3 1.5 .3 1.5 .5 1.5 .5 1.5 .7 1.5 .6 1.5 .7 1.5 .8 1.5 .8 1.5 .7 1.5 .6 1.5 .5 1.5 .6 1.5 .6 1.5 .7 1.5 .7 1.5 .5 1.5 .6 1.5 .6 1.5 .7 1.5 .8 1.5 .8 1.5 .7 1.5 .7 1.5 .5 1.5 .6 1.5 .7 1.5 .6 1.5 .6 1.5 .6 1.5 .6 1.5 .5 1.5 .6 1.5 .5 1.5 .7 1.5 .6 1.5 .5 1.5 .5 1.5 .6 1.5 .6 1.5 .7 1.5 .7 1.5 .7 1.5 .8 1.5 .7 1.5 .7 1.5 .8 1.5 .8 1.5 .8 1.5 .7 1.5 .8 1.5 .6 1.5 .7 1.5 .7 1.5 .9 1.5 .9 1.5 .8 1.5 .7 1.5 .5 1.5 .4 1.5 .6 1.5 .6 1.5 .7 1.5 .6 1.5 .5 1.5 .7 1.5 .6 1.5 .7 1.5 .6 1.5 .6 1.5 .5 1.5 .4 1.5 .3 1.5 .2 1.5 .2 1.5 0 1.5 .1 1.5 .3 1.5 .3 1.5 .4 1.5 .3 1.5 .4 1.5 .3 1.5 .5 1.5 .5 1.5 .7 1.5 .6 1.5 .6 1.5 .5 1.5 .3 1.5 .2 1.5 .2 1.5 .3 1.5 .4 1.5 .4 1.5 .5 1.5 .5 1.5 .6 1.5 .5 1.5 .6 1.5 .6 1.5 .6 1.5 .7 1.5 .8 1.5 .8 1.5 .8 1.5 .6 1.5 .5 1.5 .5 1.5 .5 1.5 .5 1.5 .7 1.5 .7 1.5 .7 1.5 .4 1.5 .2 1.5 .1 1.5 .1 1.5 .1 1.5 .2 1.5 .5 1.5 .7 1.5 .8 1.5 .8 1.5 .8 1.5 .9 1.5 .9 1.5 .8 1.5 .8 1.5 .7 1.5 .9 1.5 1.1 1.5 1.1 1.5 1 1.5 1.1 1.5 1.1 1.5 1.1 1.5 1 1.5 1 1.5 .9 1.5 .8 1.5 .8 1.5 .7 1.5 .7 1.5 .7 1.5 .8 1.5 1 1.5 1.1 1.5 1.1 1.5 1.2 1.5 1.2 1.5 1 1.5 .9 1.5 .7 1.5 .8 1.5 .8 1.5 .9 1.5 .8 1.5 .9 1.5 .8 1.5 .9 1.5 1 1.5 1.2 1.5 1.1 1.5 1 1.5 .8 1.5 .8 1.5 .6 1.5 .7 1.5 .7 1.5 .7 1.5 .6 1.5 .6 1.5 .7 1.5 .9 1.5 .9 1.5 1 1.5 .7 1.5 .6 1.5 .5 1.5 .5 1.5 .6 1.5 .5 1.5 .6 1.5 .5 1.5 .6 1.5 .6 1.5 .5 1.5 .6 1.5 .4 1.5 .6 1.5 .6 1.5 .7 1.5 .7 1.5 .6 1.5 .5 1.5 .4 1.5 .5 1.5 .6 1.5 .8 1.5 .9 1.5 .9 1.5 .8 1.5 .7 1.5 .4 1.5 .4 1.5 .3 1.5 .5 1.5 .5 1.5 .6 1.5 .6 1.5 .6 1.5 .6 1.5 .6 1.5 .7 1.5 .7 1.5 .7 1.5 .5 1.5 .4 1.5 .3 1.5 .4 1.5 .4 1.5 .5"/>
<path class="dk" stroke-opacity="0.42" d="M711 41.4l1.5 17.2 1.5 9.8 1.5 5.3 1.5 5 1.5 4.5 1.5 2.2 1.5 1.6 1.5 1.3 1.5 1.3 1.5 1.2 1.5 1.3 1.5 1.2 1.5 1 1.5 .9 1.5 .6 1.5 .6 1.5 .5 1.5 .5 1.5 .6 1.5 .4 1.5 .4 1.5 .4 1.5 .4 1.5 .6 1.5 .6 1.5 .7 1.5 .6 1.5 .7 1.5 .5 1.5 .5 1.5 .4 1.5 .5 1.5 .4 1.5 .4 1.5 .4 1.5 .5 1.5 .6 1.5 .5 1.5 .5 1.5 .5 1.5 .4 1.5 .6 1.5 .5 1.5 .5 1.5 .4 1.5 .2 1.5 0 1.5-.2 1.5-.3 1.5-.3 1.5-.2 1.5-.1 1.5-.1 1.5-.1 1.5 0 1.5 0 1.5 .1 1.5 .3 1.5 .5 1.5 .4 1.5 .2 1.5 0 1.5-.2 1.5-.3 1.5-.3 1.5-.3 1.5-.3 1.5-.2 1.5-.1 1.5-.1 1.5-.2 1.5-.4 1.5-.3 1.5-.3 1.5 0 1.5 0 1.5 .1 1.5 .2 1.5 .1 1.5 .1 1.5 0 1.5 .1 1.5 .1 1.5 .1 1.5 .2 1.5 .2 1.5 .1 1.5 .1 1.5 .2 1.5 .3 1.5 .4 1.5 .5 1.5 .5 1.5 .5 1.5 .2 1.5 .2 1.5 .1 1.5 .3 1.5 .6 1.5 .8 1.5 .8 1.5 .9 1.5 .8 1.5 .7 1.5 .7 1.5 .7 1.5 .5 1.5 .4 1.5 .4 1.5 .4 1.5 .3 1.5 .4 1.5 .4 1.5 .4 1.5 .4 1.5 .6 1.5 .7 1.5 .9 1.5 .7 1.5 .6 1.5 .4 1.5 .5 1.5 .5 1.5 .6 1.5 .5 1.5 .4 1.5 .3 1.5 .4 1.5 .4 1.5 .5 1.5 .6 1.5 .4 1.5 .4 1.5 .3 1.5 .5 1.5 .6 1.5 .9 1.5 .8 1.5 .7 1.5 .6 1.5 .5 1.5 .5 1.5 .4 1.5 .4 1.5 .3 1.5 .2 1.5 .4 1.5 .6 1.5 .7 1.5 .8 1.5 .9 1.5 1 1.5 .8 1.5 .7 1.5 .6 1.5 .5 1.5 .6 1.5 .5 1.5 .6 1.5 .5 1.5 .5 1.5 .4 1.5 .4 1.5 .4 1.5 .3 1.5 .5 1.5 .4 1.5 .5 1.5 .5 1.5 .6 1.5 .6 1.5 .7 1.5 .8 1.5 .8 1.5 .8 1.5 .8 1.5 .7 1.5 .5 1.5 .4 1.5 .6 1.5 .7 1.5 .9 1.5 .9 1.5 .9 1.5 .7 1.5 .7 1.5 .6 1.5 .6 1.5 .6 1.5 .7 1.5 .8 1.5 .7 1.5 .8 1.5 .9 1.5 .7 1.5 .6 1.5 .5 1.5 .4 1.5 .6 1.5 .8 1.5 .9 1.5 .7 1.5 .7 1.5 .6 1.5 .7 1.5 .8 1.5 .9 1.5 .9 1.5 .8 1.5 .5 1.5 .4 1.5 .3 1.5 .3 1.5 .5 1.5 .6 1.5 .7 1.5 .7 1.5 .7 1.5 .5 1.5 .6 1.5 .6 1.5 .5 1.5 .5 1.5 .4 1.5 .2 1.5 0 1.5 0 1.5 0 1.5 0 1.5 .1 1.5 .3 1.5 .3 1.5 .3 1.5 .4 1.5 .4 1.5 .4 1.5 .4 1.5 .5 1.5 .6 1.5 .5 1.5 .6 1.5 .5 1.5 .5 1.5 .5 1.5 .5 1.5 .6 1.5 .8 1.5 .7 1.5 .7 1.5 .7 1.5 .6 1.5 .5 1.5 .6 1.5 .5 1.5 .5 1.5 .6 1.5 .7 1.5 .7 1.5 .6 1.5 .6 1.5 .6 1.5 .6 1.5 .5 1.5 .5 1.5 .4 1.5 .4 1.5 .4 1.5 .4 1.5 .4 1.5 .3 1.5 .5 1.5 .6 1.5 .9 1.5 .9 1.5 1 1.5 1 1.5 .9 1.5 .9 1.5 .9 1.5 .8 1.5 .7 1.5 .5 1.5 .7 1.5 .7 1.5 .8 1.5 .9 1.5 .9 1.5 1.1 1.5 1.1 1.5 1.2 1.5 1.1 1.5 1.1 1.5 .9 1.5 .9 1.5 .8 1.5 .9 1.5 .9 1.5 1 1.5 1 1.5 1.1 1.5 1 1.5 .8 1.5 .8 1.5 .7 1.5 .9 1.5 .9 1.5 .8 1.5 .8 1.5 .7 1.5 .6 1.5 .6 1.5 .8 1.5 .9 1.5 1.1 1.5 1.1 1.5 .9 1.5 .7 1.5 .6 1.5 .5 1.5 .6 1.5 .7 1.5 .8 1.5 .8 1.5 .7 1.5 .7 1.5 .5 1.5 .5 1.5 .4 1.5 .6 1.5 .6 1.5 .8 1.5 .7 1.5 .5 1.5 .4 1.5 .3 1.5 .5 1.5 .6 1.5 .7 1.5 1 1.5 1 1.5 .8 1.5 .7 1.5 .5 1.5 .5 1.5 .5 1.5 .5 1.5 .5 1.5 .6 1.5 .7 1.5 .7 1.5 .8 1.5 .8 1.5 .7 1.5 .8 1.5 .7 1.5 .6 1.5 .7 1.5 .6 1.5 .8 1.5 .7 1.5 .8 1.5 .7 1.5 .7 1.5 .5 1.5 .3 1.5 .4 1.5 .5 1.5 .5 1.5 .6 1.5 .5 1.5 .4 1.5 .5"/>
<path class="dk" stroke-opacity="0.42" d="M711 36.8l1.5 18.2 1.5 10.4 1.5 5.6 1.5 5.3 1.5 4.6 1.5 2 1.5 1.4 1.5 1.2 1.5 1.3 1.5 1.5 1.5 1.6 1.5 1.3 1.5 1.1 1.5 .7 1.5 .5 1.5 .6 1.5 .6 1.5 .6 1.5 .7 1.5 .8 1.5 .8 1.5 .8 1.5 .6 1.5 .6 1.5 .3 1.5 .3 1.5 .3 1.5 .3 1.5 .6 1.5 .7 1.5 .8 1.5 .5 1.5 .4 1.5 .3 1.5 .4 1.5 .6 1.5 .7 1.5 .7 1.5 .7 1.5 .5 1.5 .6 1.5 .6 1.5 .6 1.5 .6 1.5 .6 1.5 .5 1.5 .4 1.5 .3 1.5 0 1.5-.1 1.5-.4 1.5-.3 1.5-.1 1.5 .2 1.5 .4 1.5 .3 1.5 .3 1.5 .2 1.5 0 1.5 .1 1.5-.1 1.5 0 1.5 .1 1.5-.1 1.5-.1 1.5-.3 1.5-.2 1.5-.2 1.5-.2 1.5-.1 1.5-.1 1.5-.1 1.5-.2 1.5-.2 1.5-.3 1.5-.2 1.5 0 1.5 .1 1.5 .3 1.5 .3 1.5 .4 1.5 .3 1.5 .3 1.5 .1 1.5 .1 1.5 .2 1.5 .2 1.5 .4 1.5 .5 1.5 .5 1.5 .5 1.5 .4 1.5 .4 1.5 .5 1.5 .8 1.5 1 1.5 1 1.5 .8 1.5 .5 1.5 .4 1.5 .1 1.5 .3 1.5 .4 1.5 .7 1.5 .7 1.5 .7 1.5 .5 1.5 .5 1.5 .6 1.5 .7 1.5 .6 1.5 .5 1.5 .4 1.5 .5 1.5 .5 1.5 .6 1.5 .6 1.5 .7 1.5 .5 1.5 .6 1.5 .4 1.5 .2 1.5 .2 1.5 .3 1.5 .4 1.5 .5 1.5 .6 1.5 .7 1.5 .7 1.5 .7 1.5 .6 1.5 .6 1.5 .5 1.5 .4 1.5 .4 1.5 .2 1.5 .3 1.5 .4 1.5 .5 1.5 .6 1.5 .6 1.5 .6 1.5 .5 1.5 .5 1.5 .4 1.5 .4 1.5 .4 1.5 .4 1.5 .5 1.5 .5 1.5 .4 1.5 .4 1.5 .2 1.5 .3 1.5 .4 1.5 .5 1.5 .6 1.5 .7 1.5 .7 1.5 .6 1.5 .7 1.5 .8 1.5 .8 1.5 .7 1.5 .4 1.5 .3 1.5 .5 1.5 .5 1.5 .6 1.5 .5 1.5 .4 1.5 .2 1.5 .4 1.5 .6 1.5 .7 1.5 .8 1.5 .6 1.5 .6 1.5 .5 1.5 .7 1.5 .8 1.5 .8 1.5 .8 1.5 .5 1.5 .5 1.5 .4 1.5 .5 1.5 .7 1.5 .8 1.5 .8 1.5 .9 1.5 .8 1.5 .8 1.5 .7 1.5 .5 1.5 .6 1.5 .6 1.5 .6 1.5 .7 1.5 .6 1.5 .7 1.5 .7 1.5 .7 1.5 .7 1.5 .7 1.5 .8 1.5 .8 1.5 .7 1.5 .8 1.5 .8 1.5 .7 1.5 .9 1.5 .8 1.5 .7 1.5 .7 1.5 .6 1.5 .6 1.5 .5 1.5 .5 1.5 .4 1.5 .5 1.5 .5 1.5 .5 1.5 .3 1.5 .3 1.5 .4 1.5 .5 1.5 .5 1.5 .4 1.5 .3 1.5 .2 1.5 .3 1.5 .2 1.5 .2 1.5 .2 1.5 .1 1.5 .1 1.5 .3 1.5 .4 1.5 .5 1.5 .5 1.5 .6 1.5 .6 1.5 .6 1.5 .5 1.5 .5 1.5 .5 1.5 .7 1.5 .8 1.5 .9 1.5 1 1.5 1 1.5 1 1.5 .7 1.5 .7 1.5 .6 1.5 .7 1.5 .7 1.5 .7 1.5 .5 1.5 .5 1.5 .4 1.5 .5 1.5 .6 1.5 .6 1.5 .6 1.5 .4 1.5 .3 1.5 .3 1.5 .3 1.5 .4 1.5 .7 1.5 .8 1.5 .8 1.5 .9 1.5 .7 1.5 .7 1.5 .7 1.5 .8 1.5 1 1.5 1 1.5 1.1 1.5 .9 1.5 .9 1.5 1 1.5 1 1.5 1 1.5 1 1.5 1 1.5 .9 1.5 1 1.5 1 1.5 1 1.5 1.1 1.5 1.2 1.5 1.2 1.5 1.2 1.5 1 1.5 .8 1.5 .5 1.5 .5 1.5 .6 1.5 .8 1.5 .8 1.5 .9 1.5 .9 1.5 .7 1.5 .7 1.5 .7 1.5 .8 1.5 .9 1.5 1 1.5 1 1.5 .9 1.5 .8 1.5 .9 1.5 .8 1.5 .7 1.5 .6 1.5 .4 1.5 .5 1.5 .5 1.5 .7 1.5 .9 1.5 1.1 1.5 1.1 1.5 1 1.5 .8 1.5 .6 1.5 .6 1.5 .7 1.5 .8 1.5 .8 1.5 .6 1.5 .5 1.5 .4 1.5 .3 1.5 .3 1.5 .5 1.5 .6 1.5 .8 1.5 .8 1.5 .8 1.5 .7 1.5 .8 1.5 .7 1.5 .6 1.5 .5 1.5 .4 1.5 .5 1.5 .5 1.5 .5 1.5 .4 1.5 .6 1.5 .6 1.5 .7 1.5 .7 1.5 .7 1.5 .8 1.5 .7 1.5 .7 1.5 .5 1.5 .5 1.5 .6 1.5 .7 1.5 .8 1.5 .9 1.5 .8 1.5 .7 1.5 .5 1.5 .5 1.5 .4"/>
<path d="M711 38l1.5 20.7 1.5 14.7 1.5 6.4 1.5 3.1 1.5 2 1.5 1.5 1.5 1.4 1.5 1.2 1.5 1.1 1.5 .9 1.5 .7 1.5 .7 1.5 .6 1.5 .6 1.5 .6 1.5 .5 1.5 .2 1.5 .2 1.5 .6 1.5 1.4 1.5 1.9 1.5 1.8 1.5 1.9 1.5 2 1.5 1.8 1.5 1.5 1.5 1.3 1.5 1.2 1.5 1.2 1.5 1.2 1.5 1.3 1.5 1.3 1.5 1.3 1.5 1.2 1.5 1.3 1.5 1.1 1.5 1.1 1.5 1.1 1.5 1 1.5 1.1 1.5 1.1 1.5 .8 1.5 .6 1.5 .4 1.5 .2 1.5 .3 1.5 .2 1.5 .2 1.5 .2 1.5 0 1.5-.1 1.5-.3 1.5-.4 1.5-.4 1.5-.2 1.5-.1 1.5-.2 1.5-.1 1.5-.3 1.5-.2 1.5-.4 1.5-.5 1.5-.6 1.5-.6 1.5-.8 1.5-.7 1.5-.7 1.5-.7 1.5-.6 1.5-.4 1.5-.4 1.5-.3 1.5-.4 1.5-.3 1.5-.4 1.5-.4 1.5-.3 1.5-.4 1.5-.2 1.5-.2 1.5 0 1.5 0 1.5 .1 1.5 .1 1.5 .2 1.5 .3 1.5 .4 1.5 .4 1.5 .6 1.5 .5 1.5 .6 1.5 .5 1.5 .5 1.5 .4 1.5 .5 1.5 .4 1.5 .4 1.5 .3 1.5 .2 1.5 .3 1.5 .4 1.5 .5 1.5 .7 1.5 .7 1.5 .6 1.5 .6 1.5 .5 1.5 .4 1.5 .3 1.5 .2 1.5 .2 1.5 .2 1.5 .3 1.5 .3 1.5 .5 1.5 .5 1.5 .5 1.5 .5 1.5 .6 1.5 .5 1.5 .6 1.5 .6 1.5 .5 1.5 .4 1.5 .3 1.5 .3 1.5 .4 1.5 .5 1.5 .6 1.5 .5 1.5 .5 1.5 .5 1.5 .5 1.5 .6 1.5 .5 1.5 .4 1.5 .4 1.5 .3 1.5 .5 1.5 .5 1.5 .6 1.5 .6 1.5 .6 1.5 .5 1.5 .6 1.5 .5 1.5 .5 1.5 .6 1.5 .6 1.5 .7 1.5 .6 1.5 .5 1.5 .6 1.5 .6 1.5 .6 1.5 .7 1.5 .6 1.5 .5 1.5 .4 1.5 .5 1.5 .6 1.5 .6 1.5 .8 1.5 .8 1.5 .8 1.5 .8 1.5 .7 1.5 .8 1.5 .6 1.5 .6 1.5 .5 1.5 .6 1.5 .6 1.5 .8 1.5 .9 1.5 .8 1.5 .8 1.5 .7 1.5 .6 1.5 .6 1.5 .6 1.5 .5 1.5 .4 1.5 .5 1.5 .5 1.5 .6 1.5 .9 1.5 .9 1.5 .9 1.5 .8 1.5 .5 1.5 .5 1.5 .4 1.5 .6 1.5 .5 1.5 .5 1.5 .5 1.5 .5 1.5 .6 1.5 .6 1.5 .7 1.5 .5 1.5 .4 1.5 .3 1.5 .3 1.5 .4 1.5 .6 1.5 .7 1.5 .7 1.5 .7 1.5 .6 1.5 .6 1.5 .5 1.5 .5 1.5 .3 1.5 .4 1.5 .3 1.5 .4 1.5 .4 1.5 .5 1.5 .5 1.5 .6 1.5 .7 1.5 .7 1.5 .6 1.5 .5 1.5 .3 1.5 .4 1.5 .4 1.5 .5 1.5 .5 1.5 .6 1.5 .5 1.5 .4 1.5 .4 1.5 .4 1.5 .3 1.5 .3 1.5 .4 1.5 .4 1.5 .5 1.5 .5 1.5 .5 1.5 .4 1.5 .4 1.5 .4 1.5 .5 1.5 .6 1.5 .5 1.5 .7 1.5 .5 1.5 .5 1.5 .3 1.5 .3 1.5 .2 1.5 .3 1.5 .4 1.5 .4 1.5 .4 1.5 .3 1.5 .2 1.5 .1 1.5 .1 1.5 0 1.5 .1 1.5 .2 1.5 .4 1.5 .5 1.5 .5 1.5 .3 1.5 .4 1.5 .3 1.5 .5 1.5 .7 1.5 .7 1.5 .7 1.5 .7 1.5 .7 1.5 .9 1.5 1.1 1.5 1.2 1.5 1.2 1.5 1.1 1.5 1.1 1.5 1.1 1.5 1.1 1.5 1.1 1.5 1.1 1.5 1 1.5 .9 1.5 .8 1.5 .7 1.5 .7 1.5 .9 1.5 1 1.5 .9 1.5 .9 1.5 .7 1.5 .6 1.5 .6 1.5 .8 1.5 .8 1.5 .9 1.5 .7 1.5 .8 1.5 .6 1.5 .7 1.5 .7 1.5 .7 1.5 .7 1.5 .9 1.5 .8 1.5 .8 1.5 .7 1.5 .6 1.5 .5 1.5 .5 1.5 .3 1.5 .3 1.5 .4 1.5 .5 1.5 .7 1.5 .8 1.5 .7 1.5 .8 1.5 .7 1.5 .8 1.5 .7 1.5 .8 1.5 .8 1.5 .8 1.5 .6 1.5 .5 1.5 .6 1.5 .5 1.5 .6 1.5 .5 1.5 .6 1.5 .7 1.5 .9 1.5 .9 1.5 .8 1.5 .7 1.5 .6 1.5 .6 1.5 .5 1.5 .6 1.5 .5 1.5 .6 1.5 .6 1.5 .7 1.5 .5 1.5 .6 1.5 .6 1.5 .6 1.5 .6 1.5 .7 1.5 .5 1.5 .5 1.5 .3 1.5 .4 1.5 .3 1.5 .4 1.5 .4 1.5 .3 1.5 .3 1.5 .4 1.5 .4 1.5 .4 1.5 .4 1.5 .4 1.5 .2" fill="none" stroke="#d62728" stroke-width="1.3" stroke-opacity="0.90" stroke-linejoin="round" stroke-linecap="round"/>
<path d="M1038.8 167.1l-97.8-42.6" fill="none" stroke="#222" stroke-width="1.2" stroke-linejoin="round" stroke-linecap="round"/>
<path d="M941.0 124.5L948.5 124.9L946.4 129.7Z" fill="#222"/>
<text class="t" x="1000.0" y="116.3" font-size="14.05" text-anchor="middle" lengthAdjust="spacingAndGlyphs" textLength="70.5">Discharge</text>
<path class="tk" d="M710.6 374.9v-3.0M710.6 28.6v3.0"/>
<text class="t" x="710.6" y="391.8" font-size="16.39" text-anchor="middle" lengthAdjust="spacingAndGlyphs" textLength="35.8">0.00</text>
<path class="tk" d="M837.6 374.9v-3.0M837.6 28.6v3.0"/>
<text class="t" x="837.6" y="391.8" font-size="16.39" text-anchor="middle" lengthAdjust="spacingAndGlyphs" textLength="35.8">0.05</text>
<path class="tk" d="M964.6 374.9v-3.0M964.6 28.6v3.0"/>
<text class="t" x="964.6" y="391.8" font-size="16.39" text-anchor="middle" lengthAdjust="spacingAndGlyphs" textLength="35.8">0.10</text>
<path class="tk" d="M1091.5 374.9v-3.0M1091.5 28.6v3.0"/>
<text class="t" x="1091.5" y="391.8" font-size="16.39" text-anchor="middle" lengthAdjust="spacingAndGlyphs" textLength="35.8">0.15</text>
<path class="tk" d="M1218.5 374.9v-3.0M1218.5 28.6v3.0"/>
<text class="t" x="1218.5" y="391.8" font-size="16.39" text-anchor="middle" lengthAdjust="spacingAndGlyphs" textLength="35.8">0.20</text>
<path class="tk" d="M710.6 374.9h3.0M1269.8 374.9h-3.0"/>
<text class="t" x="706.3" y="381.3" font-size="16.39" text-anchor="end" lengthAdjust="spacingAndGlyphs" textLength="35.8">0.00</text>
<path class="tk" d="M710.6 288.3h3.0M1269.8 288.3h-3.0"/>
<text class="t" x="706.3" y="294.7" font-size="16.39" text-anchor="end" lengthAdjust="spacingAndGlyphs" textLength="35.8">0.05</text>
<path class="tk" d="M710.6 201.8h3.0M1269.8 201.8h-3.0"/>
<text class="t" x="706.3" y="208.1" font-size="16.39" text-anchor="end" lengthAdjust="spacingAndGlyphs" textLength="35.8">0.10</text>
<path class="tk" d="M710.6 115.2h3.0M1269.8 115.2h-3.0"/>
<text class="t" x="706.3" y="121.5" font-size="16.39" text-anchor="end" lengthAdjust="spacingAndGlyphs" textLength="35.8">0.15</text>
<path class="tk" d="M710.6 28.6h3.0M1269.8 28.6h-3.0"/>
<text class="t" x="706.3" y="35.0" font-size="16.39" text-anchor="end" lengthAdjust="spacingAndGlyphs" textLength="35.8">0.20</text>
<text class="t" x="990.2" y="412.3" font-size="16.39" text-anchor="middle" lengthAdjust="spacingAndGlyphs" textLength="109.3">Capacity (Ah)</text>
<text class="t" x="662.5" y="201.8" font-size="16.39" text-anchor="middle" lengthAdjust="spacingAndGlyphs" textLength="104.2" transform="rotate(-90 662.5 201.8)">ToF Shift (us)</text>
<path class="axv" d="M68.60 465.25V813.10M628.00 465.25V813.10"/>
<path class="axh" d="M68.60 466.25H628.00M68.60 812.10H628.00"/>
<path d="M348.1 466.25V812.1" stroke="#222" stroke-width="1.15" stroke-dasharray="6.2,5.3" fill="none"/>
<path d="M68.9 675.3l.1 1.8 1.2 21 1.2 20.9 1.2 15.1 1.2 12.2 1.2 5.8 1.2 3.7 1.2 3.6 1.2 1.2 1.2 .8 1.2 .8 1.2 .8 1.2-2.5 1.2-3.1 1.2-3 1.2-4.4 1.2-4.4 1.2-4.4 1.2-2.4 1.2-2.4 1.2-2.4 1.2-2.3 1.2-1.2 1.2-1.2 1.2-1.2 1.2-1.2 1.2-.7 1.2-.2 1.2-2.5 1.2-1.1 1.2-1.7 1.2-1.7 1.2-2 1.2-.6 1.2 .3 1.2-1.5 1.2 .1 1.2-.6 1.2-1 1.2-2.9 1.2-3 1.2-3 1.2-1.5 1.2-2.5 1.2-2.8 1.2-1.1 1.2-1.4 1.2-2.7 1.2-1.3 1.2-2.9 1.2-2.6 1.2-1.2 1.2-2.8 1.2-2.5 1.2-2.8 1.2-3.7 1.2-2 1.2-.4 1.2-.2 1.2 .6 1.2-.8 1.2-.4 1.2 .1 1.2-.5 1.2-2.8 1.2-1.2 1.2-1.7 1.2-2.3 1.2-1.7 1.2-2 1.2-2 1.2 1.1 1.2 .1 1.2-.5 1.2-1.2 1.2 .2 1.2 .8 1.2 2.5 1.2 0 1.2-2 1.2-.5 1.2-1.2 1.2 .7 1.2-.2 1.2-2.5 1.2-3.2 1.2-.1 1.2-1.8 1.2-1.7 1.2-.5 1.2-.4 1.2-1.1 1.2-.1 1.2 .7 1.2 1.9 1.2 .1 1.2 1.4 1.2-.6 1.2 1.9 1.2 0 1.2-1.1 1.2 .2 1.2-1.3 1.2 .1 1.2-.5 1.2-.5 1.2-.7 1.2-2 1.2-.7 1.2-1.5 1.2 .6 1.2-3.2 1.2-.8 1.2-2.2 1.2-.8 1.2-.6 1.2-.5 1.2 .8 1.2-1.7 1.2-1.3 1.2 .9 1.2-.2 1.2-1.2 1.2-1.9 1.2-.5 1.2-1.3 1.2 .1 1.2-1.7 1.2-1.7 1.2-1.2 1.2 .8 1.2 .6 1.2-.4 1.2 .1 1.2 .8 1.2-.3 1.2-1.5 1.2-2 1.2-1.4 1.2-1.4 1.2-2.1 1.2-1.1 1.2-2 1.2-1 1.2-.7 1.2-3 1.2 .3 1.2 1.9 1.2 1.5 1.2 .8 1.2 1.8 1.2 .8 1.2 .6 1.2 1 1.2 1.2 1.2-.6 1.2 1.8 1.2 0 1.2 .6 1.2 .9 1.2 0 1.2 1 1.2 1.1 1.2 .2 1.2 .8 1.2 1.4 1.2 0 1.2 1.3 1.2 .8 1.2 1.4 1.2 .6 1.2-1 1.2 .4 1.2 .8 1.2 .9 1.2-1.8 1.2-3.6 1.2-1.4 1.2-.5 1.2-.2 1.2 2 1.2 .6 1.2 2.7 1.2 2.1 1.2 2.6 1.2 2.2 1.2 2.5 1.2-.6 1.2-2.1 1.2 .8 1.2 1.8 1.2 1.3 1.2 .4 1.2 .3 1.2 .7 1.2-1 1.2 1.3 1.2-.1 1.2-2.1 1.2 2.3 1.2 .8 1.2 2.8 1.2 1 1.2 1 1.2 .1 1.2 2.2 1.2 1.5 1.2 2.4 1.2-.6 1.2-.3 1.2 .8 1.2 .8 1.2 .3 1.2-2.5 1.2-1.4 1.2-1 1.2-.4 1.2 2.6 1.2 .5 1.2 .2 1.2 .8 1.2 .9 1.2 1.5 1.2 1.6 1.2 .7 1.2-.3 1.2 .5 1.2 0 1.2 1.1 1.2 2.3 1.2 2.2 1.2 1.3 1.2 .2 1.2-9.2 1.2-3.4 1.2-2.9 1.2-2.1 1.2 1.2 1.2-.2 1.2-.6 1.2 1.3 1.2 .5 1.2 3.1 1.2 .7 1.2 .9 1.2-4.8 1.2-4 1.2-.3 1.2-2.4 1.2-1.8 1.2-.2 1.2 .1 1.2-.5 1.2-2.8 1.2-3.7 1.2-.4 1.2 .4 1.2 .1 1.2-1.1 1.2 .8 1.2-.1 1.2-.8 1.2-2.7 1.2 .9 1.2-.8 1.2 .3 1.2-1.6 1.2 1 1.2 .4 1.2 2 1.2-1 1.2-1.8 1.2-.4 1.2-1 1.2-.5 1.2-1 1.2-2.6 1.2 .6 1.2 2.1 1.2 3.5 1.2 1.2 1.2 .9 1.2 .1 1.2-1.5 1.2 .3 1.2-3.6 1.2-.4 1.2-.6 1.2 .3 1.2-.2 1.2-3.6 1.2-.6 1.2-2 1.2-.8 1.2 .8 1.2 .7 1.2-.1 1.2 2 1.2 .6 1.2 1 1.2 .1 1.2-.6 1.2-.1 1.2-.6 1.2 1.1 1.2 1.4 1.2-1.1 1.2 3.3 1.2 2.1 1.2 1.3 1.2-.4 1.2-2.1 1.2-2.7 1.2 1.1 1.2 2.5 1.2 .8 1.2 1.6 1.2 .1 1.2 2.5 1.2 2.1 1.2 1.4 1.2 2 1.2 1.8 1.2 1.1 1.2 .6 1.2-1.1 1.2-.9 1.2 .3 1.2-.6 1.2-.6 1.2-1.9 1.2 1 1.2 1.6 1.2 1.7 1.2 .5 1.2 2.1 1.2 1.6 1.2-.2 1.2 .6 1.2 .8 1.2 .8 1.2-.5 1.2 .4 1.2 1.3 1.2-1.3 1.2-.1 1.2-.9 1.2 .4 1.2 .8 1.2 .3 1.2 .1 1.2 .4 1.2-1.9 1.2-.3 1.2-2 1.2 0 1.2-.2 1.2 1.2 1.2-1.2 1.2 .3 1.2-.3 1.2-1 1.2 .3 1.2 2.8 1.2 1 1.2 .3 1.2 .1 1.2-.2 1.2-.3 1.2 1.9 1.2-.3 1.2-1 1.2-.4 1.2-1.1 1.2 .9 1.2 .5 1.2-.2 1.2 1.3 1.2 2.3 1.2-.7 1.2 .2 1.2-.1 1.2 0 1.2-.5 1.2-1.1 1.2-.6 1.2 .3 1.2 1.4 1.2 .4 1.2 .9 1.2-1 1.2 1.1 1.2 1.4 1.2 .1 1.2 2.4 1.2-1.2 1.2 4 1.2-.7 1.2 .7 1.2-2.7 1.2 0 1.2 .1 1.2-1 1.2-1.6 1.2-.3 1.2-1.2 1.2 1 1.2 1.5 1.2 1.1 1.2 1.2 1.2 1.3 1.2 .3 1.2 .9 1.2 .7 1.2-.4 1.2 1.1 1.2 1.4 1.2 1.1 1.2 2.5 1.2 2 1.2 2 1.2 2 1.2 2 1.2 2.1 1.2 3.6 1.2 3.6 1.2 3.6 1.2 3.6 1.2 3.9 1.2 3.8 1.2 3.8 1.2 3.8 1.2 3.2 1.2 1.2 1.2 1.2 1.2 1.2 1.2 1.2 1.2 1.2 1.2 1.2 1.2 1.6 1.2 2.2 1.2 2.2 1.2 2.2 1.2 2.2 1.2 2.2 1.2 2.9 1.2 3.6 1.2 3.6 1.2 3.6 1.2 3.8 1.2 3.9 1.2 3.9 1.2 3.9 1.2 .8 1.2-.8 1.2-.7 1.2-2.7 1.2-2.7 1.2-2.7 1.2-4 1.2-4.2 1.2-5 1.2-5.6 1.2-13.7 1.2-18.2 1.3-48.6 .4-53" fill="none" stroke="#111" stroke-width="1.25" stroke-linejoin="round" stroke-linecap="round"/>
<path class="tk" d="M68.6 812.1v-3.0M68.6 466.2v3.0"/>
<text class="t" x="68.6" y="828.6" font-size="16.39" text-anchor="middle" lengthAdjust="spacingAndGlyphs" textLength="10.2">0</text>
<path class="tk" d="M208.4 812.1v-3.0M208.4 466.2v3.0"/>
<text class="t" x="208.4" y="828.6" font-size="16.39" text-anchor="middle" lengthAdjust="spacingAndGlyphs" textLength="25.6">0.5</text>
<path class="tk" d="M348.3 812.1v-3.0M348.3 466.2v3.0"/>
<text class="t" x="348.3" y="828.6" font-size="16.39" text-anchor="middle" lengthAdjust="spacingAndGlyphs" textLength="10.2">1</text>
<path class="tk" d="M488.1 812.1v-3.0M488.1 466.2v3.0"/>
<text class="t" x="488.1" y="828.6" font-size="16.39" text-anchor="middle" lengthAdjust="spacingAndGlyphs" textLength="25.6">0.5</text>
<path class="tk" d="M628.0 812.1v-3.0M628.0 466.2v3.0"/>
<text class="t" x="628.0" y="828.6" font-size="16.39" text-anchor="middle" lengthAdjust="spacingAndGlyphs" textLength="10.2">0</text>
<path class="tk" d="M68.6 812.1h3.0M628.0 812.1h-3.0"/>
<text class="t" x="63.9" y="818.5" font-size="16.39" text-anchor="end" lengthAdjust="spacingAndGlyphs" textLength="39.1">2400</text>
<path class="tk" d="M68.6 754.5h3.0M628.0 754.5h-3.0"/>
<text class="t" x="63.9" y="760.8" font-size="16.39" text-anchor="end" lengthAdjust="spacingAndGlyphs" textLength="39.1">2500</text>
<path class="tk" d="M68.6 696.8h3.0M628.0 696.8h-3.0"/>
<text class="t" x="63.9" y="703.2" font-size="16.39" text-anchor="end" lengthAdjust="spacingAndGlyphs" textLength="39.1">2600</text>
<path class="tk" d="M68.6 639.2h3.0M628.0 639.2h-3.0"/>
<text class="t" x="63.9" y="645.5" font-size="16.39" text-anchor="end" lengthAdjust="spacingAndGlyphs" textLength="39.1">2700</text>
<path class="tk" d="M68.6 581.5h3.0M628.0 581.5h-3.0"/>
<text class="t" x="63.9" y="587.9" font-size="16.39" text-anchor="end" lengthAdjust="spacingAndGlyphs" textLength="39.1">2800</text>
<path class="tk" d="M68.6 523.9h3.0M628.0 523.9h-3.0"/>
<text class="t" x="63.9" y="530.3" font-size="16.39" text-anchor="end" lengthAdjust="spacingAndGlyphs" textLength="39.1">2900</text>
<path class="tk" d="M68.6 466.2h3.0M628.0 466.2h-3.0"/>
<text class="t" x="63.9" y="472.6" font-size="16.39" text-anchor="end" lengthAdjust="spacingAndGlyphs" textLength="39.1">3000</text>
<text class="t" x="348.3" y="849.6" font-size="16.39" text-anchor="middle" lengthAdjust="spacingAndGlyphs" textLength="31.3">SoC</text>
<text class="t" x="15.0" y="637.6" font-size="16.39" text-anchor="middle" lengthAdjust="spacingAndGlyphs" textLength="185.1" transform="rotate(-90 15.0 637.6)">Signal Amplitude (arb)</text>
<path class="axv" d="M716.75 465.25V813.10M1275.30 465.25V813.10"/>
<path class="axh" d="M716.75 466.25H1275.30M716.75 812.10H1275.30"/>
<path d="M996 466.25V812.1" stroke="#222" stroke-width="1.15" stroke-dasharray="6.2,5.3" fill="none"/>
<path d="M754 704.1l1.2-1.3 1.2-2.2 1.2-1.7 1.2-2 1.2-1.8 1.2-.8 1.2-1 1.2-1.7 1.2-2.2 1.2-1.6 1.2-.8 1.2-1.4 1.2-2 1.2-2.1 1.2-2.4 1.2-2.2 1.2-1.5 1.2-1.5 1.2-1.8 1.2-1.7 1.2-1.4 1.2-.8 1.2-1 1.2-2 1.2-1.8 1.2-1.2 1.2-1.4 1.2-1.7 1.2-2.4 1.2-2.3 1.2-1.9 1.2-1.1 1.2-1.3 1.2-1.7 1.2-1.8 1.2-2.2 1.2-2.6 1.2-1.3 1.2-.5 1.2-.5 1.2-.9 1.2-.7 1.2-.7 1.2-.8 1.2-.3 1.2 .2 1.2-.2 1.2-1.3 1.2-1.3 1.2-.1 1.2 .1 1.2-.7 1.2-1.1 1.2-.4 1.2-.3 1.2-.1 1.2-.4 1.2-1.3 1.2-1.8 1.2-1.1 1.2 .3 1.2 .3 1.2-1 1.2-1.7 1.2-1 1.2-.2 1.2-.3 1.2-.1 1.2-.6 1.2-1 1.2-.5 1.2-.3 1.2-.3 1.2-.5 1.2-.5 1.2 .2 1.2-.4 1.2-1.4 1.2-1.8 1.2-2.1 1.2-1.1 1.2-.4 1.2 .5 1.2 .2 1.2-1.2 1.2-.6 1.2-1.1 1.2-1.5 1.2-.7 1.2-.7 1.2-.3 1.2 .2 1.2-1 1.2-1.6 1.2-.8 1.2-.3 1.2-.3 1.2 .3 1.2-.3 1.2-.4 1.2-.9 1.2-.9 1.2-1.1 1.2-.8 1.2-.3 1.2-.2 1.2-.6 1.2-.5 1.2-.2 1.2-.1 1.2-.4 1.2-1.1 1.2 0 1.2 1.3 1.2 .5 1.2-1.2 1.2-1.6 1.2-1.1 1.2-1.1 1.2-.9 1.2 1 1.2 1.6 1.2 2.1 1.2 2 1.2 1.9 1.2 .2 1.2-.7 1.2-.1 1.2 1.7 1.2 2.5 1.2 1.2 1.2-.6 1.2-.4 1.2 .2 1.2-.2 1.2-.1 1.2 1.8 1.2 1.5 1.2-.3 1.2 0 1.2 1 1.2-.8 1.2-1.9 1.2-1.1 1.2-1.6 1.2-1.7 1.2-.9 1.2 .2 1.2-.1 1.2-.2 1.2-.2 1.2-.4 1.2 .4 1.2 1.7 1.2 .7 1.2-.4 1.2 .2 1.2 1.2 1.2 1.1 1.2 .2 1.2-.5 1.2-.6 1.2 .8 1.2 2.1 1.2 1.7 1.2 .9 1.2 .7 1.2 .4 1.2-1.1 1.2-1 1.2 .9 1.2 1.4 1.2 1.5 1.2 1.3 1.2-.5 1.2-1.3 1.2 .1 1.2 .7 1.2 .5 1.2 1.1 1.2 1.8 1.2 1.1 1.2 .9 1.2 .7 1.2 1.7 1.2 2.7 1.2 .9 1.2-.8 1.2-1.1 1.2-.4 1.2 .4 1.2 .2 1.2-.4 1.2-1 1.2-1.1 1.2-.9 1.2 .1 1.2 1.1 1.2 1 1.2 .7 1.2 .2 1.2-.5 1.2-.8 1.2-1.5 1.2-2.1 1.2-1.3 1.2-.8 1.2 .2 1.2 .8 1.2 .2 1.2-.5 1.2-.4 1.2-.2 1.2-1.1 1.2-1.7 1.2-.9 1.2 .6 1.2 .4 1.2-1.4 1.2-1.8 1.2-1 1.2-.3 1.2 .1 1.2 0 1.2-.3 1.2-.3 1.2-.5 1.2-1.6 1.2-1.2 1.2 .3 1.2 .2 1.2-.4 1.2-.6 1.2-.8 1.2-.9 1.2-.4 1.2 .4 1.2 .6 1.2-.6 1.2-.9 1.2-.6 1.2-1.3 1.2-1.4 1.2-.7 1.2-.6 1.2 .2 1.2 1.8 1.2 1.9 1.2 .2 1.2-1.1 1.2-.6 1.2 .3 1.2 .2 1.2 .1 1.2 .9 1.2 1.1 1.2 .9 1.2 1.3 1.2 .6 1.2-.1 1.2 .1 1.2 .8 1.2 .9 1.2 .7 1.2 .5 1.2 .2 1.2 .2 1.2 .3 1.2-.1 1.2-.1 1.2-.3 1.2-1.1 1.2-.4 1.2 .5 1.2 .4 1.2 .1 1.2 .3 1.2 .2 1.2 .4 1.2 0 1.2-.8 1.2-.9 1.2-.6 1.2 .6 1.2 .8 1.2-.2 1.2-.3 1.2 .6 1.2 1.3 1.2 .7 1.2-.1 1.2-.2 1.2 .1 1.2 1.9 1.2 2.2 1.2 .9 1.2 .7 1.2 2.1 1.2 1.9 1.2-.2 1.2-.9 1.2 .4 1.2 .6 1.2 .4 1.2-.4 1.2 .1 1.2 1.4 1.2 .9 1.2-.2 1.2-.8 1.2-.3 1.2 .4 1.2 .5 1.2 .1 1.2-.3 1.2-.4 1.2-.4 1.2-.1 1.2-.1 1.2 0 1.2 .6 1.2 1.4 1.2 .6 1.2-.2 1.2-.1 1.2-.1 1.2 .2 1.2 .6 1.2 .9 1.2 1.2 1.2-.1 1.2-2 1.2-1.2 1.2 .3 1.2 1.1 1.2 .5 1.2-.5 1.2-.7 1.2 .8 1.2 1.2 1.2 .3 1.2 .2 1.2 .3 1.2 .7 1.2 1.1 1.2 .4 1.2-.6 1.2-.1 1.2 1 1.2-.1 1.2-1.2 1.2-.5 1.2 .3 1.2-.3 1.2-.3 1.2 .4 1.2 .3 1.2 .2 1.2 .1 1.2 .2 1.2-.4 1.2-.6 1.2 0 1.2 .5 1.2 1 1.2 .3 1.2-.1 1.2 .1 1.2-.1 1.2 .1 1.2 .9 1.2 1.6 1.2 1.7 1.2 1 1.2 .3 1.2 .1 1.2 .8 1.2 1.6 1.2 .9 1.2 .2 1.2 1.8 1.2 2.9 1.2 2.4 1.2 1.3 1.2 .9 1.2 1.6 1.2 2 1.2 1.1 1.2 1.2 1.2 2.4 1.2 3 1.2 2.5 1.2 2.4 1.2 2.8 1.2 2.4 1.2 1.9 1.2 3.2 1.2 3.3 1.2 1.7 1.2 1.6 1.2 2.7 1.2 3.8 1.2 3.2 1.2 2.1 1.2 2.3 1.2 2.3 1.2 2 1.2 2.2 1.2 2 1.2 1.6 1.2 1.4 1.2 1.6 1.2 3.3 1.2 4.2 1.2 3.9 1.2 2.6 1.2 2.5 1.2 2.8 1.2 2.2 1.2 2.4" fill="none" stroke="#5f9a4a" stroke-width="1.0" stroke-opacity="0.90" stroke-linejoin="round" stroke-linecap="round"/>
<path class="ld" stroke-opacity="0.40" d="M717.2 654l1.5 34.7 1.5 25.7 1.5 23.2 1.5 11.7 1.5 6 1.5 5.2 1.5 3.2 1.5 1.3 1.5-.7 1.5-5 1.5-5.6 1.5-6 1.5-6.2 1.5-4.5 1.5-2.6 1.5-1.7 1.5-2.5 1.5-2 1.5-1.8 1.5-1.9 1.5-1.3 1.5-1.1 1.5-1.5 1.5-2.1 1.5-2.1 1.5-.9 1.5-.5 1.5-1 1.5-1.4 1.5-2.3 1.5-2.2 1.5-1.8 1.5-2.3 1.5-2.8 1.5-2.5 1.5-2.7 1.5-2.9 1.5-3.1 1.5-2.9 1.5-2 1.5-2 1.5-2.9 1.5-3.2 1.5-2.3 1.5-1.8 1.5-1.1 1.5-.5 1.5-1.1 1.5-1.2 1.5-1.2 1.5-1 1.5-1.8 1.5-2.6 1.5-2 1.5-2 1.5-2.3 1.5-1.3 1.5 0 1.5 .3 1.5 .5 1.5 .5 1.5-.1 1.5-.8 1.5-.7 1.5-.1 1.5 .1 1.5-1.8 1.5-3.1 1.5-2.3 1.5-1.3 1.5-1.2 1.5-1.1 1.5-.1 1.5 .7 1.5 .9 1.5-.1 1.5-.8 1.5 .1 1.5 .3 1.5-.5 1.5-.7 1.5-.3 1.5-.7 1.5-.6 1.5-.5 1.5-.6 1.5-.8 1.5-1 1.5-1.8 1.5-2.3 1.5-1.9 1.5-1.6 1.5-1.3 1.5-.7 1.5-.9 1.5-1.1 1.5-.2 1.5-.2 1.5-1.4 1.5-1.9 1.5-1.8 1.5-1.5 1.5-1.2 1.5-.4 1.5 .1 1.5-.1 1.5 .4 1.5 .7 1.5-.9 1.5-2.6 1.5-3.1 1.5-2.2 1.5-1.8 1.5-1.1 1.5-.6 1.5-.5 1.5 .1 1.5 .4 1.5 .3 1.5 1.1 1.5 1.6 1.5 1 1.5 .1 1.5 .6 1.5 1.6 1.5 1.7 1.5 1.4 1.5 .8 1.5 .8 1.5 1.8 1.5 2 1.5 .9 1.5 .6 1.5 .5 1.5 .3 1.5 .8 1.5 1 1.5 .5 1.5-.3 1.5-1.5 1.5-2.1 1.5-1 1.5 .7 1.5 1.6 1.5 1.7 1.5 1.9 1.5 1.1 1.5 1.6 1.5 1.8 1.5 .5 1.5 .4 1.5 1.3 1.5 1.6 1.5 1.3 1.5 .5 1.5-.2 1.5 .1 1.5 .3 1.5 .3 1.5 .8 1.5 1.1 1.5 2 1.5 2.6 1.5 1.5 1.5 .8 1.5 .8 1.5 .6 1.5 .8 1.5 .2 1.5-.6 1.5-.7 1.5-.1 1.5 .6 1.5 1 1.5 1.1 1.5 1.1 1.5 1.4 1.5 1.6 1.5 .7 1.5 .1 1.5 1.3 1.5 1.5 1.5 .4 1.5-.6 1.5-1.6 1.5-2 1.5-3.4 1.5-3.1 1.5-1.7 1.5-.7 1.5-.1 1.5-.5 1.5-.2 1.5 .9 1.5 .3 1.5-1.3 1.5-2 1.5-2.3 1.5-2.2 1.5-2 1.5-1.7 1.5-.8 1.5-.1 1.5-1.1 1.5-1.6 1.5-1 1.5-1.1 1.5-1.1 1.5-.8 1.5-.5 1.5 .1 1.5-.3 1.5-.1 1.5 .6 1.5 .1 1.5-.7 1.5-1.1 1.5-1.2 1.5-.6 1.5 .1 1.5 .8 1.5 .4 1.5 .5 1.5 1 1.5 .5 1.5 .1 1.5 .6 1.5-.3 1.5-1.5 1.5-1.1 1.5-1 1.5-.9 1.5-.9 1.5-.8 1.5-.3 1.5 .2 1.5 .5 1.5 .9 1.5 1 1.5 .6 1.5 .4 1.5-.2 1.5-.1 1.5 1.2 1.5 2 1.5 1.2 1.5 .3 1.5-.2 1.5-.4 1.5 .1 1.5 .8 1.5 .7 1.5 1.3 1.5 2.2 1.5 2.2 1.5 1.6 1.5 1.6 1.5 1.2 1.5 .3 1.5 0 1.5 .6 1.5 .8 1.5-.3 1.5-.6 1.5 .5 1.5 1.2 1.5 1.4 1.5 .8 1.5 .8 1.5 1.4 1.5 .7 1.5-.1 1.5 .7 1.5 1.3 1.5 .2 1.5-.4 1.5-.2 1.5-.3 1.5-.2 1.5 .3 1.5-.1 1.5-1.2 1.5-1.4 1.5-.6 1.5 .4 1.5 .8 1.5-.5 1.5-1.4 1.5-.5 1.5 1.1 1.5 1.6 1.5 1.4 1.5 .6 1.5-.4 1.5-.2 1.5-.3 1.5-.7 1.5 .3 1.5 1 1.5 .3 1.5-.1 1.5 0 1.5 .8 1.5 .6 1.5-.5 1.5-.6 1.5-.2 1.5-.6 1.5 0 1.5 .9 1.5 1.2 1.5 .9 1.5-.1 1.5 .4 1.5 1.7 1.5 1.1 1.5-.1 1.5 .5 1.5 1.1 1.5-.5 1.5-1.2 1.5-1 1.5-.9 1.5-.4 1.5 .3 1.5 .9 1.5 1.5 1.5 1.1 1.5 .4 1.5 .7 1.5 .8 1.5 .5 1.5 1.5 1.5 2.4 1.5 2.8 1.5 2.6 1.5 2.3 1.5 2.8 1.5 4 1.5 3.8 1.5 3.8 1.5 5.1 1.5 5.1 1.5 3.8 1.5 2.9 1.5 2.8 1.5 2.5 1.5 2.3 1.5 2.4 1.5 2 1.5 1.3 1.5 1.2 1.5 2.5 1.5 3.8 1.5 3.6 1.5 3.9 1.5 5.3 1.5 5.8 1.5 5.1 1.5 5.1 1.5 5.6 1.5 5 1.5 .7 1.5-2 1.5-5.3 1.5-5.4 1.5-5.8 1.5-5.4 1.5-5.7 1.9-28.2 .8-34.8 .7-36.3 .6-34.1 .5-30.3"/>
<path class="ld" stroke-opacity="0.40" d="M717.2 648.1l1.5 38.4 1.5 28.4 1.5 25.7 1.5 13 1.5 5.9 1.5 3.4 1.5 1.3 1.5 2 1.5 .7 1.5-4.2 1.5-4.9 1.5-6.2 1.5-6.5 1.5-5.7 1.5-3.6 1.5-1.4 1.5-2.6 1.5-3.1 1.5-2 1.5-1.1 1.5-.9 1.5-1.5 1.5-1.9 1.5-2.6 1.5-3.8 1.5-1.3 1.5-.9 1.5-1 1.5-1.6 1.5-2.1 1.5-2.7 1.5-2.5 1.5-2.7 1.5-2.5 1.5-2.3 1.5-2.7 1.5-2.7 1.5-2.3 1.5-2 1.5-2.6 1.5-3.9 1.5-3.8 1.5-2.1 1.5-1.3 1.5-2.1 1.5-3 1.5-2.3 1.5-1 1.5-1 1.5-.8 1.5-.6 1.5-1.6 1.5-2.8 1.5-2.2 1.5-.9 1.5-.3 1.5-.7 1.5-1 1.5-.8 1.5-.4 1.5 .1 1.5 .3 1.5 0 1.5 0 1.5-.8 1.5-1.4 1.5-1.3 1.5-1.3 1.5-1.8 1.5-2.1 1.5-1.2 1.5-.6 1.5-.4 1.5 .4 1.5 .8 1.5 .6 1.5 .6 1.5 .5 1.5-.7 1.5-1.2 1.5 0 1.5-.1 1.5-1.3 1.5-1.7 1.5-.7 1.5-.8 1.5-2.3 1.5-1.5 1.5-.4 1.5-1.2 1.5-1.6 1.5-.6 1.5-.6 1.5-1.6 1.5-.9 1.5-.4 1.5-1.1 1.5-2 1.5-1.1 1.5-.4 1.5-1 1.5-1.1 1.5-.6 1.5-.9 1.5-1 1.5 .4 1.5 .7 1.5-.7 1.5-2 1.5-2.5 1.5-1.8 1.5-1 1.5-1.2 1.5-1.8 1.5-1.6 1.5-.4 1.5 .4 1.5 .4 1.5 .8 1.5 1.8 1.5 1.6 1.5 1 1.5 .6 1.5 .3 1.5 .9 1.5 1 1.5 1.5 1.5 1.5 1.5 .7 1.5 .7 1.5 .8 1.5 1.4 1.5 1.6 1.5 1.2 1.5 .6 1.5 .8 1.5 .9 1.5-.4 1.5-1.3 1.5-1.1 1.5-.6 1.5 .1 1.5 .2 1.5 .4 1.5 1.6 1.5 1.9 1.5 1.7 1.5 1.9 1.5 1.5 1.5 .3 1.5 .4 1.5 1.1 1.5 1.3 1.5 .9 1.5 .3 1.5 .3 1.5 .1 1.5 1 1.5 2 1.5 1.2 1.5 .5 1.5 .6 1.5 1.2 1.5 1.7 1.5 .8 1.5 .7 1.5 1.1 1.5 .6 1.5 .5 1.5 .5 1.5-.1 1.5-.4 1.5 .4 1.5 .4 1.5 .1 1.5 1.5 1.5 2.3 1.5 1.4 1.5 1 1.5 .8 1.5 .5 1.5 0 1.5 .6 1.5 .6 1.5-1.2 1.5-2 1.5-2 1.5-1.9 1.5-1.8 1.5-1.3 1.5-1.3 1.5-.2 1.5 .8 1.5 .2 1.5 .7 1.5 .1 1.5-1.5 1.5-2.8 1.5-3.2 1.5-1.6 1.5-.7 1.5-1.9 1.5-1.7 1.5-1.1 1.5-.6 1.5 .1 1.5 0 1.5-.7 1.5-1.1 1.5-1 1.5-.8 1.5-.2 1.5 .8 1.5 1.4 1.5 .4 1.5-.7 1.5-1 1.5-1.6 1.5-1.6 1.5-1 1.5 .1 1.5 .1 1.5 1.2 1.5 2.1 1.5 .9 1.5-.4 1.5-.9 1.5-1.1 1.5-.9 1.5-1.5 1.5-1.1 1.5-.3 1.5-1 1.5-1.2 1.5-1 1.5-.3 1.5 .7 1.5 1.5 1.5 1.1 1.5-.1 1.5-.8 1.5-.5 1.5 1.2 1.5 1.3 1.5 .6 1.5 .6 1.5 .5 1.5 .6 1.5 .1 1.5-.1 1.5 .7 1.5 1.1 1.5 1.4 1.5 1.8 1.5 1.7 1.5 1.2 1.5 1.1 1.5 1.3 1.5 1.3 1.5 0 1.5-.8 1.5-.2 1.5-.1 1.5-.4 1.5 .1 1.5 .6 1.5 .9 1.5 1 1.5 1.3 1.5 1 1.5 1.2 1.5 1.2 1.5 .1 1.5-.5 1.5 .1 1.5 .6 1.5 0 1.5-.1 1.5 .2 1.5 .2 1.5 .2 1.5-.1 1.5-1.1 1.5-.9 1.5-.4 1.5-.5 1.5-.3 1.5 .2 1.5 1 1.5 .7 1.5-.2 1.5 .1 1.5 .5 1.5 .2 1.5-.2 1.5 .1 1.5 .7 1.5 .4 1.5-.1 1.5 .6 1.5 .4 1.5-.3 1.5 .2 1.5 .5 1.5 .7 1.5 .2 1.5-.6 1.5-.6 1.5 .1 1.5 .7 1.5 1.5 1.5 1.6 1.5 .7 1.5 .6 1.5 1.2 1.5 1.2 1.5 .6 1.5-.6 1.5-.8 1.5-.7 1.5-.9 1.5-.9 1.5-.7 1.5 .3 1.5 1.6 1.5 1.6 1.5 1.2 1.5 1.3 1.5 1.4 1.5 1.4 1.5 1 1.5 .9 1.5 1.3 1.5 1.6 1.5 2.4 1.5 3 1.5 2.5 1.5 2.2 1.5 3.7 1.5 4.7 1.5 4.3 1.5 4.4 1.5 4.7 1.5 4.1 1.5 3.2 1.5 3.1 1.5 3.2 1.5 2.1 1.5 1.2 1.5 1.2 1.5 1.8 1.5 2.1 1.5 3.1 1.5 3.2 1.5 3.4 1.5 4.4 1.5 4.9 1.5 5.1 1.5 5.8 1.5 6.1 1.5 5.8 1.5 3.7 1.5-.5 1.5-2 1.5-4.7 1.5-4.7 1.5-4.9 1.5-5 1.5-6.7 1.9-24.5 .8-25.9 .7-26.8 .6-25.4 .5-22.4"/>
<path class="ld" stroke-opacity="0.40" d="M717.2 653l1.5 36.8 1.5 27.3 1.5 24.5 1.5 12.6 1.5 6.2 1.5 5 1.5 1.8 1.5 .6 1.5-.5 1.5-3.6 1.5-4.4 1.5-6.3 1.5-7.1 1.5-6 1.5-4.1 1.5-2.7 1.5-2.2 1.5-1.8 1.5-2.5 1.5-2.4 1.5-1.6 1.5-1.5 1.5-2 1.5-1.6 1.5-2.9 1.5-1.6 1.5-1.3 1.5-1 1.5-1.9 1.5-2.6 1.5-2.2 1.5-1.9 1.5-2.2 1.5-1.9 1.5-2.6 1.5-3.8 1.5-3.4 1.5-2.4 1.5-2 1.5-1.9 1.5-2.2 1.5-3.5 1.5-4 1.5-3.2 1.5-1.8 1.5-1.6 1.5-1.5 1.5-.5 1.5 0 1.5-1.4 1.5-2.1 1.5-1.7 1.5-1.6 1.5-1.7 1.5-1.7 1.5-2 1.5-1.2 1.5-.1 1.5-.4 1.5-.3 1.5 1 1.5 1 1.5-.1 1.5-.8 1.5-1.2 1.5-.9 1.5-1.2 1.5-1.4 1.5-1.4 1.5-.6 1.5-.3 1.5-.7 1.5-1.1 1.5-.4 1.5 .3 1.5 .5 1.5 .7 1.5 1.2 1.5 .6 1.5-.4 1.5-.3 1.5-.5 1.5-.8 1.5-1 1.5-1.2 1.5-1 1.5-1.2 1.5-1.4 1.5-1.2 1.5-1.5 1.5-1.5 1.5-1 1.5-.7 1.5-1.3 1.5-1.4 1.5-.4 1.5-.6 1.5-.9 1.5-.5 1.5-.6 1.5-.9 1.5-1.1 1.5-1.3 1.5-1.6 1.5-1 1.5-.5 1.5-.4 1.5-.7 1.5-1 1.5-1.3 1.5-1.6 1.5-2 1.5-1.6 1.5-1.2 1.5-2.1 1.5-1.5 1.5 .5 1.5 1 1.5 .9 1.5 .9 1.5 1 1.5 .5 1.5 .3 1.5 1 1.5 1.4 1.5 1.2 1.5 1.2 1.5 1.2 1.5 .6 1.5 .8 1.5 1.7 1.5 1.5 1.5 1.2 1.5 .9 1.5 .1 1.5 .3 1.5 .5 1.5-.5 1.5-1.1 1.5-.7 1.5-.4 1.5-.5 1.5 .2 1.5 1.3 1.5 1.2 1.5 .8 1.5 .5 1.5 1.2 1.5 2 1.5 1.7 1.5 1 1.5 1 1.5 1.2 1.5 .7 1.5 .1 1.5 .6 1.5 .7 1.5 .5 1.5 .9 1.5 1.3 1.5 1.6 1.5 1.3 1.5 1.1 1.5 .9 1.5 1.1 1.5 1.5 1.5 1.4 1.5 1.3 1.5 .6 1.5-.1 1.5-.6 1.5-.1 1.5 0 1.5 .1 1.5 .7 1.5 .9 1.5 1.8 1.5 1.8 1.5 1.3 1.5 1.1 1.5 .6 1.5 .3 1.5 .7 1.5 .1 1.5-1.3 1.5-2.3 1.5-2 1.5-1.8 1.5-1.6 1.5-.5 1.5 .6 1.5 .4 1.5-.1 1.5-.2 1.5-.9 1.5-1.5 1.5-1.9 1.5-1.8 1.5-1.2 1.5-1.2 1.5-1.8 1.5-2.2 1.5-1.6 1.5-1 1.5-.5 1.5-.7 1.5-.9 1.5-.9 1.5-.9 1.5-.5 1.5-.2 1.5-.7 1.5-1.1 1.5-.3 1.5 0 1.5-.3 1.5-.5 1.5-1.1 1.5-1.1 1.5-.5 1.5-.4 1.5 .2 1.5 1.1 1.5 1.2 1.5 .9 1.5 .1 1.5-.7 1.5-1.4 1.5-1.8 1.5-1.3 1.5-.7 1.5-1.2 1.5-1.5 1.5-.8 1.5-.6 1.5 .7 1.5 1.6 1.5 .5 1.5 .3 1.5 .8 1.5 .7 1.5-.2 1.5 .1 1.5 1 1.5 1.2 1.5 .4 1.5-.3 1.5 .3 1.5 .9 1.5 .2 1.5 .2 1.5 .5 1.5 1.1 1.5 1.7 1.5 1.7 1.5 1.8 1.5 2 1.5 1 1.5 0 1.5 0 1.5 .1 1.5-.4 1.5-.4 1.5-.4 1.5-.1 1.5 1.2 1.5 1.7 1.5 .8 1.5 .5 1.5 .8 1.5 1.1 1.5 1.3 1.5 1.2 1.5 .3 1.5-.3 1.5-.5 1.5-.7 1.5-.3 1.5 .5 1.5 .8 1.5 .3 1.5-1 1.5-1 1.5-.2 1.5 .1 1.5 0 1.5 .1 1.5 .9 1.5 1.1 1.5 0 1.5 .1 1.5 .9 1.5 .3 1.5-.4 1.5 .1 1.5 .2 1.5-.4 1.5-.9 1.5 0 1.5 1.1 1.5 1.1 1.5 .2 1.5 .5 1.5 1.5 1.5 1 1.5-.2 1.5-.9 1.5-1 1.5-.6 1.5 .1 1.5 .5 1.5 .7 1.5 .5 1.5 .8 1.5 1.2 1.5 .8 1.5 .2 1.5 .1 1.5-.2 1.5-.6 1.5-.3 1.5 .5 1.5 .5 1.5 .8 1.5 1 1.5 .7 1.5 .6 1.5 1 1.5 1.9 1.5 1.6 1.5 1.5 1.5 1 1.5 .8 1.5 2 1.5 2.3 1.5 2 1.5 2.8 1.5 3.5 1.5 4.2 1.5 4.1 1.5 3.6 1.5 4.4 1.5 4.8 1.5 4.1 1.5 3.2 1.5 2.5 1.5 2.3 1.5 2.6 1.5 2 1.5 2.3 1.5 3 1.5 2.4 1.5 2.2 1.5 2.6 1.5 2.7 1.5 3.1 1.5 4.8 1.5 5.9 1.5 6 1.5 6.2 1.5 6.5 1.5 4.9 1.5 .9 1.5-2 1.5-5.3 1.5-5.4 1.5-6 1.5-6.2 1.5-7 1.9-20.4 .8-19 .7-19.7 .6-18.6 .5-16.5"/>
<path class="ld" stroke-opacity="0.40" d="M717.2 664.6l1.5 30.5 1.5 22.6 1.5 20.3 1.5 12.1 1.5 6.7 1.5 4.9 1.5 1.8 1.5 .3 1.5-1.4 1.5-4.1 1.5-4.5 1.5-5.4 1.5-5.9 1.5-6.1 1.5-4.1 1.5-2 1.5-2.4 1.5-1.8 1.5-1.6 1.5-2 1.5-2.2 1.5-2 1.5-1.6 1.5-1.6 1.5-4.2 1.5-1.1 1.5-1 1.5-1.2 1.5-1.2 1.5-1.7 1.5-2.2 1.5-2.6 1.5-2.6 1.5-2.4 1.5-2.3 1.5-3 1.5-2.6 1.5-2.1 1.5-1.6 1.5-2.4 1.5-3.5 1.5-2.7 1.5-2.3 1.5-2.9 1.5-2.5 1.5-.9 1.5-.9 1.5-1.5 1.5-1.6 1.5-1.7 1.5-.8 1.5-1.4 1.5-2.3 1.5-1.4 1.5-1.7 1.5-2.4 1.5-2.1 1.5-1.3 1.5 .1 1.5 1.1 1.5 1 1.5 .2 1.5-.3 1.5-.9 1.5-.9 1.5-.6 1.5-1 1.5-1.6 1.5-1.9 1.5-1.8 1.5-1.2 1.5-.2 1.5-.6 1.5-.7 1.5 .8 1.5 .9 1.5-.3 1.5-.5 1.5-.5 1.5-.3 1.5 1.1 1.5 .9 1.5-.2 1.5-1 1.5-1.1 1.5-1.5 1.5-2 1.5-2.1 1.5-1.5 1.5-.9 1.5-1.4 1.5-1.6 1.5-1.2 1.5-.6 1.5 0 1.5 0 1.5-1 1.5-2.4 1.5-2.2 1.5-1.1 1.5-.5 1.5-.2 1.5-.6 1.5-.2 1.5-.5 1.5-1.1 1.5-.8 1.5-.4 1.5-.4 1.5-.4 1.5-2.3 1.5-3.4 1.5-1.3 1.5 .2 1.5-.7 1.5-.6 1.5 .5 1.5 .4 1.5 .3 1.5 1.5 1.5 1.5 1.5 .8 1.5 .4 1.5 .2 1.5 .8 1.5 2.1 1.5 1.9 1.5 1.5 1.5 .9 1.5 .1 1.5 .7 1.5 1.2 1.5 1.1 1.5 .6 1.5 .2 1.5 .7 1.5 1.1 1.5-.1 1.5-1.2 1.5 0 1.5 .4 1.5-1.1 1.5-1.3 1.5 .7 1.5 1.5 1.5 1.7 1.5 2.1 1.5 2.1 1.5 2 1.5 .5 1.5-.4 1.5 1.4 1.5 1.5 1.5-.4 1.5-1.1 1.5 0 1.5 1 1.5 1.7 1.5 1.7 1.5 1.5 1.5 1.5 1.5 1.5 1.5 1.6 1.5 1.2 1.5-.3 1.5 0 1.5 .8 1.5-.1 1.5-1 1.5-.4 1.5 .2 1.5 .4 1.5-.1 1.5-.3 1.5 .3 1.5 1.5 1.5 1.3 1.5 0 1.5 .3 1.5 .9 1.5 .6 1.5 .8 1.5 1.1 1.5 .4 1.5-1.5 1.5-3.2 1.5-3.1 1.5-1.5 1.5-.8 1.5-.5 1.5-.3 1.5 0 1.5 .3 1.5-.6 1.5-1.6 1.5-1.2 1.5-1.5 1.5-2.1 1.5-1.9 1.5-1.2 1.5-1.1 1.5-1.3 1.5-1.5 1.5-1.2 1.5-.8 1.5-1 1.5-1 1.5 0 1.5 0 1.5-.6 1.5-.2 1.5 0 1.5-.4 1.5-.4 1.5-.1 1.5 .4 1.5 .1 1.5-1.1 1.5-1.2 1.5-1.4 1.5-1.3 1.5 .8 1.5 2.5 1.5 1.8 1.5 .7 1.5 .1 1.5-.1 1.5-.5 1.5-.8 1.5-1 1.5-.6 1.5-.8 1.5-1.3 1.5-.9 1.5 .2 1.5 1.2 1.5 1.1 1.5 .3 1.5-.3 1.5-.2 1.5 .1 1.5 .4 1.5 .5 1.5 .5 1.5 1 1.5 1.4 1.5 1.2 1.5-.3 1.5-.6 1.5 .4 1.5 1.1 1.5 1.1 1.5 .8 1.5 1.1 1.5 1.8 1.5 1.8 1.5 .8 1.5 1.1 1.5 1.5 1.5 1.2 1.5-.1 1.5-1.1 1.5-.5 1.5 .9 1.5 .5 1.5 .1 1.5 1.4 1.5 .9 1.5 .2 1.5 .8 1.5 1.3 1.5 1 1.5 .8 1.5 .5 1.5-.1 1.5 .4 1.5-.1 1.5-.9 1.5 .3 1.5 1 1.5-.1 1.5-.3 1.5 0 1.5-.7 1.5-.8 1.5-.6 1.5-.4 1.5 .3 1.5 .7 1.5 .4 1.5 .8 1.5 .8 1.5 .4 1.5 .9 1.5 .3 1.5-.2 1.5-.2 1.5 0 1.5 .1 1.5 .2 1.5 .2 1.5 1.1 1.5 1 1.5 .3 1.5-.4 1.5-.3 1.5 .1 1.5-.3 1.5-.7 1.5 .2 1.5 1.3 1.5 1.6 1.5 1 1.5 .1 1.5 .1 1.5 .2 1.5 .4 1.5 .8 1.5 .6 1.5 0 1.5-.2 1.5-.3 1.5-.3 1.5 0 1.5 .5 1.5 .7 1.5 1.5 1.5 1.6 1.5 1.4 1.5 .9 1.5 .8 1.5 1.7 1.5 2.3 1.5 2.1 1.5 2.1 1.5 2.5 1.5 2.4 1.5 2.6 1.5 3.5 1.5 4.6 1.5 4.9 1.5 4.7 1.5 4 1.5 4.2 1.5 4 1.5 2.7 1.5 2.1 1.5 2 1.5 1.8 1.5 1.8 1.5 2.3 1.5 2.5 1.5 2.4 1.5 2.8 1.5 3.5 1.5 3.9 1.5 4.9 1.5 5.4 1.5 4.9 1.5 5 1.5 6.5 1.5 5.6 1.5 1.4 1.5-1.2 1.5-4 1.5-4.7 1.5-5.9 1.5-6.2 1.5-7.1 1.9-22.2 .8-21 .7-21.9 .6-20.6 .5-18.3"/>
<path class="ld" stroke-opacity="0.40" d="M717.2 682.6l1.5 23.7 1.5 17.7 1.5 15.8 1.5 10.8 1.5 6 1.5 4.7 1.5 2 1.5 1.5 1.5 .8 1.5-3.9 1.5-5.1 1.5-6.4 1.5-6.2 1.5-5.3 1.5-4.1 1.5-3.1 1.5-2.9 1.5-2.3 1.5-2.4 1.5-1.5 1.5-1 1.5-2.2 1.5-2.4 1.5-1.1 1.5-3.8 1.5-1.1 1.5-.8 1.5-.9 1.5-2.2 1.5-2.7 1.5-2.4 1.5-1.7 1.5-1.2 1.5-2 1.5-3.3 1.5-3.1 1.5-2.3 1.5-2.4 1.5-3.1 1.5-3.2 1.5-2.9 1.5-2.6 1.5-2.4 1.5-1.7 1.5-1 1.5-1.2 1.5-1.4 1.5-1 1.5-1.3 1.5-2 1.5-2 1.5-1.9 1.5-1.6 1.5-1.3 1.5-1.7 1.5-1.5 1.5-.3 1.5 0 1.5-.5 1.5 0 1.5 .6 1.5 .1 1.5-.8 1.5-1 1.5-1 1.5-.8 1.5-.4 1.5-.6 1.5-.9 1.5-1.1 1.5-.9 1.5-.6 1.5 .1 1.5 .3 1.5 .4 1.5 .6 1.5 .3 1.5-.5 1.5-.9 1.5-.5 1.5-.7 1.5-1.5 1.5-.8 1.5-.1 1.5-.1 1.5-1 1.5-1.5 1.5-1.3 1.5-1.8 1.5-1.5 1.5-1 1.5-.5 1.5-.7 1.5-1.3 1.5-.8 1.5-1 1.5-1.3 1.5-1.2 1.5-1.1 1.5-1 1.5-1.5 1.5-.9 1.5 .1 1.5-.6 1.5-1.4 1.5-1.4 1.5-1 1.5-.6 1.5-.6 1.5-1.1 1.5-1.9 1.5-1.7 1.5-1.2 1.5-1.8 1.5-1.9 1.5-.3 1.5 .6 1.5 .1 1.5 0 1.5 0 1.5 .6 1.5 1.3 1.5 1.6 1.5 1.3 1.5 .8 1.5 .4 1.5 .1 1.5-.2 1.5 .5 1.5 1.3 1.5 1.4 1.5 1.3 1.5 .4 1.5 0 1.5 1 1.5 1.2 1.5 .9 1.5 .2 1.5-.9 1.5-1.5 1.5-1.2 1.5-1.3 1.5-.3 1.5 1.2 1.5 2 1.5 2.2 1.5 2.1 1.5 1.4 1.5 1 1.5 1 1.5-.2 1.5-.4 1.5 .7 1.5 1.7 1.5 1.4 1.5 .8 1.5 .8 1.5 .7 1.5 1.1 1.5 1.6 1.5 1.2 1.5 1.1 1.5 1.7 1.5 1.7 1.5 1.6 1.5 .7 1.5-.5 1.5-.6 1.5 .1 1.5 1 1.5 1 1.5 1 1.5 .6 1.5-.4 1.5-.1 1.5 .6 1.5 .9 1.5 1.4 1.5 1.1 1.5 .1 1.5 .4 1.5 1.1 1.5 1.2 1.5 .6 1.5-.1 1.5-1.7 1.5-3.8 1.5-3.1 1.5-1.4 1.5-.5 1.5 .1 1.5 0 1.5-.3 1.5 0 1.5-.3 1.5-1.7 1.5-2.3 1.5-1.7 1.5-1.7 1.5-1.8 1.5-1.1 1.5-.9 1.5-2.1 1.5-2 1.5-.5 1.5 .2 1.5-.1 1.5-.4 1.5-.3 1.5-1.2 1.5-1.5 1.5 .2 1.5 .6 1.5-.6 1.5-.9 1.5-.9 1.5-1.1 1.5-.9 1.5-.1 1.5 .8 1.5 1.1 1.5 .1 1.5-.9 1.5 .2 1.5 1.4 1.5 .6 1.5-1 1.5-1.3 1.5-.6 1.5-.6 1.5-.2 1.5-.4 1.5-1.6 1.5-1.8 1.5-.4 1.5 .1 1.5 0 1.5 .3 1.5 .7 1.5 .6 1.5 .5 1.5 .4 1.5 1.1 1.5 1.9 1.5 1.6 1.5 .8 1.5 .2 1.5-.5 1.5-.4 1.5 0 1.5 .4 1.5 .8 1.5 1.4 1.5 1.4 1.5 .8 1.5 1 1.5 1.8 1.5 1.7 1.5 1.4 1.5 .6 1.5 .1 1.5-.2 1.5-.2 1.5-.2 1.5 .7 1.5 1.2 1.5 1.1 1.5 1.3 1.5 1.4 1.5 .8 1.5-.1 1.5-.1 1.5 .5 1.5 .4 1.5 .1 1.5 .2 1.5 .6 1.5 1.3 1.5 0 1.5-.6 1.5-.8 1.5-1 1.5-.7 1.5-.1 1.5 .4 1.5 .3 1.5-.1 1.5 .6 1.5 .7 1.5 .8 1.5 1.1 1.5 .3 1.5 0 1.5 0 1.5 0 1.5 .1 1.5 .8 1.5 .2 1.5-.1 1.5 .3 1.5 .7 1.5-.1 1.5-.6 1.5 .2 1.5 .9 1.5-.1 1.5-.2 1.5 .7 1.5 .8 1.5 .5 1.5-.1 1.5-.3 1.5 .5 1.5 1.1 1.5 1 1.5 1.2 1.5 .6 1.5-.1 1.5 .2 1.5 .2 1.5-.3 1.5-1.2 1.5-1.2 1.5-.1 1.5 .8 1.5 1.4 1.5 .9 1.5 .5 1.5 1 1.5 1.6 1.5 1.9 1.5 1.2 1.5 .8 1.5 1.7 1.5 2.5 1.5 2.8 1.5 3.3 1.5 3.2 1.5 3.2 1.5 3.8 1.5 4.3 1.5 3.7 1.5 3.2 1.5 3.5 1.5 3.7 1.5 3.3 1.5 2.9 1.5 2.8 1.5 2.2 1.5 1.2 1.5 1.3 1.5 1.7 1.5 2.5 1.5 3.8 1.5 4 1.5 3.4 1.5 4.2 1.5 5 1.5 4.8 1.5 5.5 1.5 7.3 1.5 6.6 1.5 1.9 1.5-1.7 1.5-4.9 1.5-4.7 1.5-6 1.5-6.3 1.5-7.2 1.9-24 .8-25.6 .7-26.5 .6-25 .5-22.2"/>
<path class="ld" stroke-opacity="0.40" d="M717.2 657.3l1.5 33.8 1.5 25.1 1.5 22.5 1.5 12.4 1.5 6.8 1.5 4.5 1.5 2.1 1.5 1.7 1.5 0 1.5-4.5 1.5-5.1 1.5-6.7 1.5-7.7 1.5-5 1.5-2.4 1.5-1.5 1.5-2.8 1.5-3.3 1.5-2.2 1.5-1.6 1.5-1.1 1.5-.8 1.5-1.3 1.5-2.3 1.5-5.9 1.5-1.5 1.5-1.2 1.5-1.2 1.5-1.3 1.5-2 1.5-3 1.5-2.9 1.5-1.8 1.5-1.6 1.5-2.6 1.5-3.5 1.5-3.7 1.5-2.6 1.5-1.6 1.5-2.2 1.5-3 1.5-2.7 1.5-2.4 1.5-2.2 1.5-1 1.5-.8 1.5-2 1.5-1.8 1.5-1.1 1.5-1.5 1.5-1.8 1.5-1.7 1.5-2.3 1.5-2.9 1.5-2.3 1.5-.1 1.5 .3 1.5-1 1.5-1.1 1.5-.3 1.5 .6 1.5 .4 1.5-.1 1.5-.4 1.5-.8 1.5-1.1 1.5-1.1 1.5-1.4 1.5-1.3 1.5-.8 1.5-1.1 1.5-.6 1.5-.4 1.5-.1 1.5 .8 1.5 1.4 1.5 .6 1.5-.4 1.5-.8 1.5-.8 1.5-.5 1.5-.3 1.5-.1 1.5-.8 1.5-.8 1.5-.7 1.5-1.5 1.5-1.9 1.5-.9 1.5-.7 1.5-1.2 1.5-1.2 1.5-1.5 1.5-1.5 1.5-.6 1.5-.9 1.5-1.6 1.5-1.4 1.5-.9 1.5-.4 1.5-1 1.5-1.2 1.5-.5 1.5-.5 1.5-.5 1.5-.2 1.5 .1 1.5-.7 1.5-1.4 1.5-2.1 1.5-1.9 1.5-.5 1.5-.3 1.5-1.1 1.5-1.2 1.5-1.6 1.5-1.2 1.5-.3 1.5 .5 1.5 .9 1.5 1.2 1.5 1.3 1.5 1.3 1.5 1.7 1.5 1.5 1.5 .8 1.5 .5 1.5 .7 1.5 .8 1.5 1.2 1.5 1.6 1.5 1.8 1.5 1.2 1.5 .1 1.5 .3 1.5 .6 1.5 .7 1.5 .4 1.5-.1 1.5-.6 1.5-1.3 1.5-2.2 1.5-1 1.5 1 1.5 1.6 1.5 1.6 1.5 1.7 1.5 1.6 1.5 1.3 1.5 1.7 1.5 .6 1.5-.5 1.5 1.2 1.5 1.9 1.5-.1 1.5-1 1.5 .2 1.5 1.5 1.5 1.3 1.5 .8 1.5 1.1 1.5 1.2 1.5 2.1 1.5 2.1 1.5 1.5 1.5 .6 1.5-.1 1.5-.5 1.5 0 1.5 .4 1.5 .4 1.5-.2 1.5-.8 1.5 .4 1.5 2 1.5 1.5 1.5 .1 1.5 .2 1.5 1.1 1.5 1.2 1.5 .6 1.5 .8 1.5 1.2 1.5 0 1.5-1.6 1.5-2.2 1.5-2.2 1.5-2 1.5-1.7 1.5-.6 1.5-.1 1.5-1 1.5-.9 1.5 0 1.5 .4 1.5-1.3 1.5-2.2 1.5-1.9 1.5-1.8 1.5-1.4 1.5-.6 1.5-1.4 1.5-1.7 1.5-1 1.5-1.3 1.5-1.2 1.5-.7 1.5-.3 1.5-.4 1.5-1.6 1.5-1.7 1.5-.5 1.5 .3 1.5 1 1.5 .2 1.5-1.5 1.5-1.1 1.5-.4 1.5-.9 1.5-1.2 1.5 .1 1.5 0 1.5 .1 1.5 .9 1.5 1 1.5 .8 1.5 .8 1.5-.1 1.5-1.7 1.5-1.7 1.5-1 1.5-1.3 1.5-1 1.5 .1 1.5 .5 1.5 .1 1.5-.1 1.5 .9 1.5 .9 1.5 .1 1.5-.3 1.5 .6 1.5 1.2 1.5 .8 1.5 .5 1.5 .5 1.5 1.1 1.5 .5 1.5-.5 1.5-.2 1.5 .2 1.5 .5 1.5 1 1.5 1.4 1.5 2.3 1.5 2.3 1.5 1.1 1.5 .5 1.5 .3 1.5 0 1.5-.2 1.5-.1 1.5 1.1 1.5 1.8 1.5 1.1 1.5 .1 1.5 .6 1.5 1 1.5 .6 1.5 .6 1.5 1 1.5 .5 1.5-.3 1.5-.2 1.5 .2 1.5 .6 1.5 .4 1.5 .1 1.5 0 1.5 .3 1.5 .2 1.5-.2 1.5-.6 1.5-.1 1.5 .1 1.5-.9 1.5-1.1 1.5 .2 1.5 1 1.5 1.1 1.5 1.4 1.5 .5 1.5 .1 1.5 .4 1.5 1.5 1.5 .5 1.5-.4 1.5-.3 1.5-.4 1.5 .3 1.5 .4 1.5 .1 1.5 .9 1.5 .8 1.5 .2 1.5-.6 1.5-1.2 1.5-.7 1.5 .8 1.5 .9 1.5-.1 1.5-.3 1.5 1.2 1.5 1.7 1.5 1.4 1.5 1 1.5 .3 1.5 0 1.5-.2 1.5-.6 1.5-.3 1.5 .4 1.5 .8 1.5 .9 1.5 .2 1.5-.2 1.5 .8 1.5 1.4 1.5 1.8 1.5 1.7 1.5 1.7 1.5 1.5 1.5 1.5 1.5 2.5 1.5 1.9 1.5 1.1 1.5 1.5 1.5 3.1 1.5 4.9 1.5 5.3 1.5 4 1.5 3.5 1.5 3.6 1.5 3.8 1.5 4 1.5 3.4 1.5 2.6 1.5 2 1.5 1.6 1.5 1.9 1.5 2.3 1.5 2.9 1.5 2.8 1.5 2.2 1.5 2.4 1.5 3 1.5 4.5 1.5 5.6 1.5 5.1 1.5 5.3 1.5 6.6 1.5 6.1 1.5 2.2 1.5-1.1 1.5-4.7 1.5-4.8 1.5-5.7 1.5-5.8 1.5-6.1 1.9-20.1 .8-18.8 .7-19.6 .6-18.4 .5-16.4"/>
<path class="ld" stroke-opacity="0.40" d="M717.2 687.2l1.5 21.5 1.5 15.9 1.5 14.3 1.5 11 1.5 6.6 1.5 5 1.5 3 1.5 1.6 1.5-.9 1.5-5.7 1.5-6.5 1.5-6.6 1.5-6 1.5-4.8 1.5-3.3 1.5-2.3 1.5-2.6 1.5-1.7 1.5-1.4 1.5-1.9 1.5-2 1.5-2 1.5-.9 1.5-1 1.5-5.8 1.5-1.3 1.5-1.8 1.5-1.6 1.5-1.6 1.5-1.8 1.5-2.2 1.5-2.7 1.5-2.8 1.5-2.9 1.5-2.5 1.5-1.9 1.5-1.6 1.5-2.7 1.5-2.5 1.5-1.7 1.5-2 1.5-3 1.5-2.8 1.5-2.1 1.5-2.1 1.5-2 1.5-1.5 1.5-1.1 1.5-.7 1.5-1.2 1.5-1.2 1.5-1 1.5-1.8 1.5-2.5 1.5-2.3 1.5-1.7 1.5-1 1.5-1.5 1.5-1.1 1.5 .3 1.5 1.3 1.5 .7 1.5 .1 1.5-.4 1.5-.8 1.5-.8 1.5-.8 1.5-1.2 1.5-1.2 1.5-1.4 1.5-1.6 1.5-.8 1.5 .1 1.5 .2 1.5-.1 1.5 .4 1.5 .5 1.5-.3 1.5-.2 1.5-.1 1.5-.6 1.5-.8 1.5-.7 1.5-.7 1.5-.2 1.5-.3 1.5-1.1 1.5-1.5 1.5-1.8 1.5-1.3 1.5-1.3 1.5-1.3 1.5-1.1 1.5-.8 1.5 0 1.5-.4 1.5-.8 1.5-1.1 1.5-1.2 1.5-.9 1.5-.8 1.5-.6 1.5-.7 1.5-1.1 1.5-.9 1.5-.4 1.5-1 1.5-.5 1.5-.9 1.5-2.4 1.5-2.1 1.5-.9 1.5-1.2 1.5-1.9 1.5-1.3 1.5 .1 1.5 .6 1.5 .4 1.5-.2 1.5-.2 1.5 .7 1.5 .8 1.5 .9 1.5 1.1 1.5 .8 1.5 .7 1.5 .6 1.5 .8 1.5 1.4 1.5 1.3 1.5 .3 1.5 .2 1.5 .4 1.5 .8 1.5 1.1 1.5 .6 1.5-.3 1.5 .1 1.5 .2 1.5-1.5 1.5-2.4 1.5-1.3 1.5 .1 1.5 .4 1.5 .8 1.5 1.8 1.5 2.2 1.5 1.7 1.5 1 1.5 .9 1.5 .3 1.5 .1 1.5 .3 1.5 .8 1.5 1.9 1.5 1 1.5-.5 1.5-.1 1.5 1.3 1.5 1.7 1.5 1.6 1.5 2.2 1.5 2.1 1.5 .1 1.5-.2 1.5 .7 1.5 .5 1.5 0 1.5 .3 1.5 1.4 1.5 .8 1.5 .3 1.5 .3 1.5 1.1 1.5 1.1 1.5 .2 1.5 .4 1.5 .5 1.5 .4 1.5 1.1 1.5 1.4 1.5 .4 1.5-.1 1.5 .3 1.5-1.3 1.5-2.3 1.5-1.5 1.5-.9 1.5-1.2 1.5-.6 1.5 0 1.5 .4 1.5 .9 1.5 .3 1.5-.7 1.5-.8 1.5-1.5 1.5-2.1 1.5-2.3 1.5-2.1 1.5-1.7 1.5-.9 1.5-.7 1.5-1.3 1.5-1.3 1.5-.9 1.5-.5 1.5-.1 1.5-.6 1.5-1.3 1.5-.9 1.5-.4 1.5-.3 1.5-.4 1.5 .1 1.5 .6 1.5 .3 1.5-.6 1.5-.8 1.5-.6 1.5-.3 1.5 .5 1.5 .9 1.5 .1 1.5-.2 1.5-.5 1.5-.5 1.5-.3 1.5-.3 1.5-.6 1.5-.6 1.5-.9 1.5-.6 1.5-.7 1.5-.4 1.5 .1 1.5 .5 1.5 1.1 1.5 1.5 1.5 .2 1.5-1 1.5-.3 1.5 1.6 1.5 1.3 1.5 .3 1.5 .7 1.5 1 1.5-.1 1.5-.2 1.5 0 1.5 .8 1.5 1.2 1.5 .4 1.5 1 1.5 1.9 1.5 2.4 1.5 1.8 1.5 1 1.5 .5 1.5 .8 1.5 .2 1.5 .1 1.5 .1 1.5-.1 1.5 1.2 1.5 1.4 1.5 .6 1.5 .5 1.5 .2 1.5 .1 1.5 .9 1.5 1.2 1.5 .4 1.5-.5 1.5-.7 1.5 .2 1.5 .7 1.5 .5 1.5-.4 1.5-1.3 1.5-.3 1.5 .5 1.5 .3 1.5 .1 1.5-.4 1.5-.6 1.5-.4 1.5 0 1.5 .4 1.5 .5 1.5 .2 1.5 .3 1.5 .8 1.5 .6 1.5-.4 1.5-.6 1.5-.3 1.5 .5 1.5 .6 1.5 .9 1.5 1.3 1.5 1.1 1.5 .3 1.5-.8 1.5-1.3 1.5-.9 1.5-.6 1.5-.5 1.5 .6 1.5 2.1 1.5 1.2 1.5-.5 1.5-.6 1.5 .8 1.5 1.3 1.5 .2 1.5 .2 1.5 .2 1.5-.7 1.5-.7 1.5 0 1.5 1.2 1.5 1 1.5 .2 1.5 .2 1.5 .1 1.5 .4 1.5 1.5 1.5 1.8 1.5 1.5 1.5 1.1 1.5 .5 1.5 1 1.5 2.5 1.5 2.8 1.5 2.5 1.5 3 1.5 4 1.5 3.7 1.5 2.9 1.5 2.8 1.5 4 1.5 5 1.5 4.7 1.5 3.7 1.5 2.7 1.5 2.1 1.5 1.7 1.5 1.5 1.5 2 1.5 2.7 1.5 3.2 1.5 3.4 1.5 3 1.5 2.9 1.5 2.9 1.5 4.2 1.5 5.6 1.5 5.9 1.5 6 1.5 6.7 1.5 6 1.5 2 1.5-1 1.5-4 1.5-4.2 1.5-5.3 1.5-6.2 1.5-7.1 1.9-28.4 .8-35.1 .7-36.5 .6-34.4 .5-30.5"/>
<path class="ld" stroke-opacity="0.40" d="M717.2 684.8l1.5 23.5 1.5 17.4 1.5 15.6 1.5 10.6 1.5 5.2 1.5 4.6 1.5 3.2 1.5 1.8 1.5-.5 1.5-3.8 1.5-4.4 1.5-6.3 1.5-7.4 1.5-6.1 1.5-3.7 1.5-1.9 1.5-2.4 1.5-1.9 1.5-1.6 1.5-1.5 1.5-1.8 1.5-2.1 1.5-1.7 1.5-1.7 1.5-6.5 1.5-.8 1.5-.8 1.5-1.7 1.5-2.3 1.5-2.6 1.5-2.6 1.5-1.9 1.5-1.8 1.5-1.9 1.5-1.9 1.5-2.4 1.5-2.7 1.5-2.3 1.5-2.3 1.5-2.9 1.5-2.8 1.5-2.5 1.5-1.7 1.5-1.7 1.5-2 1.5-2 1.5-1.4 1.5-.7 1.5-1.2 1.5-2 1.5-2.1 1.5-2.4 1.5-2.3 1.5-2 1.5-1.4 1.5-.9 1.5-.7 1.5-.5 1.5-.4 1.5 .5 1.5 .2 1.5-.9 1.5-.6 1.5-.3 1.5-.9 1.5-1.4 1.5-1.4 1.5-1.6 1.5-2 1.5-1.5 1.5-.9 1.5-.7 1.5-.1 1.5 .5 1.5 .5 1.5 .4 1.5 .6 1.5 .4 1.5-.8 1.5-1.1 1.5-.9 1.5-.8 1.5-.5 1.5-.6 1.5-1.4 1.5-2.4 1.5-2.5 1.5-.9 1.5-.4 1.5-.8 1.5-1 1.5-1.3 1.5-1.1 1.5-1.4 1.5-1.8 1.5-1.4 1.5-.2 1.5 .6 1.5-.5 1.5-1.7 1.5-1.3 1.5-.7 1.5-.8 1.5-1 1.5-.3 1.5-.5 1.5-1.4 1.5-1.1 1.5-1 1.5-.9 1.5-.8 1.5-1.1 1.5-1.6 1.5-1.1 1.5-.7 1.5-1.4 1.5-1.4 1.5-.2 1.5 1 1.5 .6 1.5 .5 1.5 2.2 1.5 2.7 1.5 1.9 1.5 .4 1.5-.2 1.5 .1 1.5 .5 1.5 .6 1.5 1.2 1.5 1.2 1.5 .9 1.5 1.1 1.5 .9 1.5 .6 1.5 .5 1.5-.1 1.5-.3 1.5-.1 1.5-1.4 1.5-3 1.5-2.3 1.5 .3 1.5 1.6 1.5 1.5 1.5 1.5 1.5 .6 1.5-.2 1.5 1.3 1.5 2 1.5 1.2 1.5 .7 1.5 .5 1.5 .5 1.5 .6 1.5 .8 1.5 .4 1.5 .2 1.5 .4 1.5 1.3 1.5 1.8 1.5 1.4 1.5 1.1 1.5 1.3 1.5 1.7 1.5 1.6 1.5 .1 1.5-.2 1.5 .9 1.5 1 1.5 .1 1.5-.7 1.5-.2 1.5 .1 1.5 .7 1.5 1.6 1.5 .9 1.5-.3 1.5 .3 1.5 .9 1.5 1.2 1.5 .8 1.5 .2 1.5 0 1.5-.5 1.5-1.1 1.5-1.6 1.5-1.8 1.5-1.7 1.5-1.8 1.5-1.2 1.5 0 1.5 .3 1.5 .6 1.5 .2 1.5-1.5 1.5-2.4 1.5-1.7 1.5-.9 1.5-1 1.5-1.3 1.5-1.4 1.5-1.2 1.5-.9 1.5-.4 1.5-.6 1.5-.8 1.5-.9 1.5-1.2 1.5-.9 1.5 .1 1.5 .9 1.5 .6 1.5-.6 1.5-1.4 1.5-1 1.5-.1 1.5-.8 1.5-.7 1.5-.3 1.5-.3 1.5-.2 1.5 .3 1.5 1.4 1.5 1.9 1.5 .5 1.5-.8 1.5-.9 1.5-.6 1.5 0 1.5-.3 1.5-1 1.5-.9 1.5-.2 1.5 .4 1.5 .9 1.5 1 1.5 .4 1.5-.4 1.5-.4 1.5 0 1.5 .5 1.5 .7 1.5 .5 1.5 .3 1.5 .6 1.5 1.3 1.5 .6 1.5-.7 1.5-.3 1.5 1 1.5 1.1 1.5 .7 1.5 1.4 1.5 1.7 1.5 1.8 1.5 1.4 1.5 .7 1.5 .7 1.5 .9 1.5 1 1.5 .4 1.5-.3 1.5 .7 1.5 1.1 1.5 .1 1.5 .7 1.5 1.6 1.5 1.6 1.5 .7 1.5 0 1.5 .2 1.5 0 1.5-1.1 1.5-.6 1.5 .9 1.5 1.3 1.5 .7 1.5-.3 1.5-.7 1.5-.1 1.5 .1 1.5-.1 1.5 0 1.5-.3 1.5-.8 1.5-.5 1.5 .7 1.5 1.1 1.5 .8 1.5 .4 1.5-.5 1.5-.5 1.5 .9 1.5 1.2 1.5 0 1.5 .3 1.5 1.2 1.5 .2 1.5-.2 1.5-.2 1.5-.5 1.5 .9 1.5 1.6 1.5 .4 1.5-1.1 1.5-1.5 1.5 .1 1.5 .9 1.5 .4 1.5 .4 1.5 1.3 1.5 1 1.5 .4 1.5 .5 1.5 .8 1.5 .7 1.5-.1 1.5-1 1.5-.8 1.5-.4 1.5 0 1.5 .3 1.5 .7 1.5 1.4 1.5 1.9 1.5 1.5 1.5 .4 1.5 .5 1.5 .8 1.5 1.2 1.5 1.2 1.5 2.1 1.5 2.3 1.5 1.9 1.5 2.1 1.5 2.9 1.5 4.3 1.5 4.7 1.5 4.2 1.5 3.4 1.5 2.8 1.5 2.9 1.5 3.4 1.5 4.1 1.5 4.1 1.5 3.4 1.5 1.7 1.5 .9 1.5 1.7 1.5 2.4 1.5 3 1.5 3 1.5 2.5 1.5 2.4 1.5 2.7 1.5 4.2 1.5 5.8 1.5 5.4 1.5 4.9 1.5 7 1.5 7.2 1.5 2.6 1.5-1.4 1.5-4.1 1.5-4.5 1.5-5.7 1.5-5.2 1.5-6.2 1.9-24.5 .8-26.3 .7-27.4 .6-25.8 .5-22.9"/>
<path class="ld" stroke-opacity="0.40" d="M717.2 681.7l1.5 23.2 1.5 17.1 1.5 15.5 1.5 10.6 1.5 5.9 1.5 5.1 1.5 2.9 1.5 .9 1.5-.8 1.5-4.1 1.5-4.7 1.5-6.7 1.5-6.2 1.5-4.6 1.5-4.2 1.5-3.1 1.5-2.2 1.5-1.7 1.5-1.5 1.5-.8 1.5-1.3 1.5-2.6 1.5-2.6 1.5-2.1 1.5-7.6 1.5-1.3 1.5-1.2 1.5-1.9 1.5-1.9 1.5-1.7 1.5-2.2 1.5-2.5 1.5-2.4 1.5-2.5 1.5-2.2 1.5-2 1.5-2.1 1.5-2.7 1.5-2 1.5-1.4 1.5-1.6 1.5-2.7 1.5-3.2 1.5-2.9 1.5-2.7 1.5-2.4 1.5-1 1.5-.2 1.5-.5 1.5-.8 1.5-1.8 1.5-2.4 1.5-2.1 1.5-2.2 1.5-2.2 1.5-1.2 1.5-.3 1.5-.2 1.5-.3 1.5-.2 1.5-.1 1.5-.1 1.5-.1 1.5 .3 1.5-.3 1.5-1.8 1.5-2.4 1.5-1.5 1.5-1 1.5-1.2 1.5-.9 1.5-1 1.5-.6 1.5 1.3 1.5 .6 1.5-.9 1.5-.3 1.5 .3 1.5 .2 1.5-.4 1.5-.6 1.5-.5 1.5-.6 1.5-1 1.5-1.2 1.5-.8 1.5-.2 1.5-1 1.5-2.2 1.5-2.3 1.5-1.5 1.5-.2 1.5 .1 1.5-.4 1.5-1.1 1.5-1.2 1.5-1.5 1.5-2 1.5-1.2 1.5 .1 1.5-.6 1.5-1.7 1.5-1 1.5-.4 1.5-.2 1.5 .4 1.5 .1 1.5-.9 1.5-1.3 1.5-1.3 1.5-1.7 1.5-1.4 1.5-1.3 1.5-1.6 1.5-.9 1.5 0 1.5 .4 1.5 0 1.5 .3 1.5 .8 1.5 .7 1.5 1 1.5 1.3 1.5 2 1.5 1.9 1.5 1.1 1.5 .6 1.5 .3 1.5 .3 1.5 .4 1.5 .7 1.5 .7 1.5 .6 1.5 .9 1.5 1.3 1.5 1.1 1.5 .4 1.5-.8 1.5-.9 1.5-.6 1.5-1.3 1.5-1.8 1.5-.6 1.5 .3 1.5 1.2 1.5 .8 1.5 .9 1.5 2.1 1.5 1.8 1.5 0 1.5-.2 1.5 1 1.5 1.3 1.5 1.5 1.5 0 1.5-.9 1.5 .3 1.5 1.4 1.5 1.2 1.5 .8 1.5 .9 1.5 1.3 1.5 1.5 1.5 1 1.5 1.5 1.5 1.4 1.5 .2 1.5-.4 1.5 .4 1.5 .6 1.5 0 1.5 .2 1.5 1.2 1.5 1.2 1.5 .9 1.5 .1 1.5-.9 1.5-.4 1.5 .5 1.5 1.1 1.5 .9 1.5 .3 1.5 .8 1.5 .5 1.5-1.5 1.5-1.9 1.5-2.2 1.5-2.5 1.5-1.3 1.5 .3 1.5 .7 1.5-.4 1.5-.3 1.5 .7 1.5 .6 1.5-1 1.5-1.7 1.5-1.7 1.5-2.2 1.5-2.1 1.5-1.3 1.5-.1 1.5-.7 1.5-1.4 1.5-.7 1.5-.2 1.5-.5 1.5-.8 1.5-.5 1.5-.4 1.5-.9 1.5-.5 1.5 .2 1.5 1 1.5 .8 1.5-.3 1.5-1.4 1.5-2.1 1.5-1.2 1.5 .3 1.5 .8 1.5 0 1.5 .3 1.5 1 1.5 .2 1.5 0 1.5 .3 1.5-.2 1.5-.3 1.5 .3 1.5-.1 1.5-.7 1.5-1.2 1.5-1.1 1.5 0 1.5-.1 1.5-.5 1.5 .9 1.5 2.3 1.5 1.4 1.5-.1 1.5-.3 1.5 .2 1.5-.1 1.5 .1 1.5 .8 1.5 1.1 1.5 1.2 1.5 .3 1.5-1 1.5-.7 1.5 .1 1.5 1 1.5 1.4 1.5 1.5 1.5 1.2 1.5 1.4 1.5 1.1 1.5-.3 1.5 0 1.5 .8 1.5 .7 1.5 .8 1.5 1.4 1.5 1.3 1.5 .2 1.5-.3 1.5 1 1.5 1 1.5-.5 1.5-.6 1.5 .2 1.5 .4 1.5 0 1.5-.1 1.5 .4 1.5 1 1.5 .6 1.5 .4 1.5 0 1.5-.3 1.5-.2 1.5-.6 1.5-.9 1.5-.1 1.5-.1 1.5-.4 1.5 .3 1.5 .8 1.5 .3 1.5 .8 1.5 .8 1.5-.1 1.5 .7 1.5 .9 1.5 .1 1.5 0 1.5 0 1.5-.6 1.5-.5 1.5 .6 1.5 1.1 1.5 1.1 1.5 .3 1.5-.6 1.5 .4 1.5 .2 1.5-.5 1.5-.1 1.5 .4 1.5 1 1.5 1 1.5 .1 1.5 .7 1.5 .9 1.5 .8 1.5 1.1 1.5 .8 1.5 .5 1.5-.3 1.5-.8 1.5-.5 1.5-.4 1.5 0 1.5 1.2 1.5 1.4 1.5 1.4 1.5 1.8 1.5 1.7 1.5 1.1 1.5 1.2 1.5 1.4 1.5 2.1 1.5 2.4 1.5 2 1.5 1.9 1.5 2.6 1.5 2.9 1.5 3.1 1.5 3.9 1.5 4.3 1.5 4.1 1.5 3.8 1.5 3.5 1.5 3 1.5 2.7 1.5 3.4 1.5 3.4 1.5 2 1.5 1.4 1.5 1.7 1.5 1.7 1.5 2.3 1.5 3.8 1.5 4.6 1.5 4.3 1.5 4.4 1.5 4.3 1.5 4 1.5 4.8 1.5 7.8 1.5 8.6 1.5 3.6 1.5-2.1 1.5-5 1.5-4.8 1.5-5.9 1.5-5.6 1.5-6 1.9-25 .8-28.2 .7-29.3 .6-27.7 .5-24.5"/>
<path class="ld" stroke-opacity="0.40" d="M717.2 647.9l1.5 37.8 1.5 28.1 1.5 25.3 1.5 12.8 1.5 5.6 1.5 4.1 1.5 2.1 1.5 1.6 1.5-.2 1.5-4.7 1.5-4.7 1.5-5.9 1.5-6.9 1.5-5.6 1.5-4 1.5-2.2 1.5-2.3 1.5-2.8 1.5-1.8 1.5-.6 1.5-1.4 1.5-1.7 1.5-1.5 1.5-1.2 1.5-8.6 1.5-2.2 1.5-1.7 1.5-1.5 1.5-2 1.5-2.7 1.5-2.4 1.5-1.6 1.5-1.6 1.5-2.1 1.5-2.6 1.5-2.9 1.5-3.1 1.5-2.7 1.5-2.7 1.5-2.9 1.5-2.8 1.5-2.8 1.5-2.6 1.5-3.3 1.5-3.3 1.5-1.3 1.5-.2 1.5-.3 1.5-.8 1.5-1.1 1.5-1.9 1.5-2.7 1.5-2.7 1.5-2.3 1.5-2.1 1.5-1.5 1.5-.3 1.5 .3 1.5 .4 1.5-.3 1.5-.7 1.5-.7 1.5-1.2 1.5-1.8 1.5-1.5 1.5 0 1.5 .7 1.5 .4 1.5-.6 1.5-1.9 1.5-2.3 1.5-.9 1.5 0 1.5-.8 1.5-.9 1.5 .6 1.5 .9 1.5 0 1.5-.1 1.5-.3 1.5-.8 1.5 0 1.5 .9 1.5-.3 1.5-1.8 1.5-1.9 1.5-1.3 1.5-1.2 1.5-1.3 1.5-1.2 1.5-.6 1.5-1.1 1.5-1 1.5-.6 1.5-.4 1.5-1 1.5-1.1 1.5-.6 1.5-.3 1.5-1.3 1.5-2.5 1.5-2.3 1.5-.7 1.5 .4 1.5 1.1 1.5 1.4 1.5 .6 1.5-1 1.5-1.6 1.5-1.5 1.5-1.3 1.5-1.1 1.5-1.4 1.5-1.2 1.5-.9 1.5-.7 1.5-.6 1.5-.1 1.5 .2 1.5 .5 1.5 1.6 1.5 2.3 1.5 1.4 1.5 .3 1.5 .3 1.5 .6 1.5 1.3 1.5 1.3 1.5 .4 1.5 .3 1.5 .9 1.5 1.4 1.5 1.5 1.5 1.3 1.5 1.2 1.5 .5 1.5 .4 1.5-.2 1.5-1.6 1.5-2 1.5-1.2 1.5-.6 1.5 0 1.5 .3 1.5 1 1.5 1.5 1.5 1.4 1.5 .5 1.5 0 1.5 .7 1.5 1.6 1.5 1.8 1.5 1 1.5 .2 1.5 .4 1.5 .9 1.5 1.3 1.5 1.3 1.5 .4 1.5 .3 1.5 .7 1.5 .5 1.5 .8 1.5 1.3 1.5 1 1.5 .7 1.5 .6 1.5 .5 1.5 .3 1.5 .6 1.5 .5 1.5 .4 1.5 .6 1.5 1.2 1.5 1.1 1.5 .6 1.5 .5 1.5 .6 1.5-.2 1.5-.3 1.5-.4 1.5-.1 1.5 .2 1.5 .2 1.5-.2 1.5-.5 1.5-1.1 1.5-1.8 1.5-1.7 1.5-.9 1.5-.7 1.5-.3 1.5-.1 1.5-.9 1.5-.8 1.5-.4 1.5-1.4 1.5-1.5 1.5-.5 1.5-1 1.5-2.1 1.5-2.1 1.5-1.6 1.5-1.3 1.5-.5 1.5 0 1.5-.2 1.5-.5 1.5-.7 1.5-1.5 1.5-1.1 1.5 .2 1.5 .1 1.5-.9 1.5-.3 1.5 .9 1.5-.2 1.5-1.5 1.5-1 1.5-.5 1.5-.6 1.5 .2 1.5 .7 1.5 1.2 1.5 .9 1.5 .5 1.5-.1 1.5-.7 1.5-.3 1.5 0 1.5-.7 1.5-1.5 1.5-.9 1.5-.1 1.5 .7 1.5 1.1 1.5 .7 1.5 .3 1.5 .3 1.5 .1 1.5-.1 1.5 .2 1.5 1 1.5 1.5 1.5 .8 1.5 .5 1.5 .2 1.5 0 1.5 .3 1.5 .4 1.5 0 1.5 .1 1.5 1.3 1.5 1.9 1.5 1.6 1.5 1 1.5 .5 1.5 .4 1.5 .3 1.5 .3 1.5 .8 1.5 1.2 1.5 .5 1.5 .7 1.5 .9 1.5 .4 1.5 .3 1.5 .8 1.5 1 1.5 .7 1.5 .5 1.5 .1 1.5-.2 1.5-.4 1.5-.1 1.5 .5 1.5 0 1.5-.6 1.5-.5 1.5 .1 1.5 .4 1.5-.1 1.5-.6 1.5-.4 1.5 .3 1.5 .6 1.5-.7 1.5-.9 1.5 .4 1.5 1.5 1.5 1 1.5 .3 1.5-.2 1.5-.2 1.5 0 1.5-.1 1.5 0 1.5 .5 1.5 .7 1.5 .7 1.5 .4 1.5 .4 1.5 .1 1.5-.8 1.5-.8 1.5-.2 1.5-.1 1.5 .2 1.5 .8 1.5 1.1 1.5 .6 1.5-.1 1.5 .3 1.5 .9 1.5 1 1.5 .7 1.5 .5 1.5-.1 1.5-.9 1.5-.4 1.5 .6 1.5 1.1 1.5 .5 1.5-.3 1.5-.1 1.5 .8 1.5 2 1.5 2.1 1.5 1.1 1.5 .7 1.5 1.6 1.5 1.9 1.5 1.7 1.5 1.9 1.5 2.6 1.5 2.8 1.5 2.2 1.5 2.9 1.5 3.6 1.5 3.5 1.5 4.1 1.5 4.4 1.5 3.8 1.5 3.9 1.5 3.9 1.5 3 1.5 2.4 1.5 2.1 1.5 2.1 1.5 2.2 1.5 2.7 1.5 2.8 1.5 2.4 1.5 3.1 1.5 3.7 1.5 3.3 1.5 3.7 1.5 5 1.5 5.8 1.5 5.5 1.5 7.8 1.5 9 1.5 4.2 1.5-1.9 1.5-5.4 1.5-4.9 1.5-5 1.5-5.5 1.5-7.1 1.9-27 .8-31.9 .7-33.3 .6-31.4 .5-27.8"/>
<path class="ld" stroke-opacity="0.40" d="M717.2 654.2l1.5 34.8 1.5 25.8 1.5 23.2 1.5 11.5 1.5 5.4 1.5 4.6 1.5 2.5 1.5 1.9 1.5 .5 1.5-3.8 1.5-4.6 1.5-5.8 1.5-6.6 1.5-6 1.5-4.6 1.5-2.6 1.5-2.4 1.5-2.2 1.5-1.9 1.5-1.3 1.5-.6 1.5-1.1 1.5-1.8 1.5-1.4 1.5-8.2 1.5-1.9 1.5-2.4 1.5-1.7 1.5-1.3 1.5-1.8 1.5-2.1 1.5-1.7 1.5-1.4 1.5-2.4 1.5-2.4 1.5-2.1 1.5-2.8 1.5-2.7 1.5-1.9 1.5-1.8 1.5-2.1 1.5-2.1 1.5-2.1 1.5-2.4 1.5-3.2 1.5-2.8 1.5-1.4 1.5-.4 1.5-.7 1.5-.9 1.5-1.4 1.5-2.2 1.5-2.8 1.5-2.7 1.5-2.5 1.5-1.9 1.5-.4 1.5 .4 1.5 .6 1.5 .2 1.5-.8 1.5-.8 1.5-.8 1.5-.6 1.5-.8 1.5-1.1 1.5-.9 1.5-.4 1.5-1 1.5-1.6 1.5-1.6 1.5-1.5 1.5-1.1 1.5-.7 1.5-.6 1.5 .7 1.5 1.6 1.5 .5 1.5-.8 1.5-.8 1.5-.3 1.5-.4 1.5-1 1.5-1.3 1.5-1.1 1.5-.8 1.5-1.1 1.5-1.4 1.5-1.2 1.5-1.5 1.5-1.8 1.5-1.7 1.5-.8 1.5-.6 1.5-.5 1.5-.6 1.5-.9 1.5-1.2 1.5-1 1.5-.8 1.5-1 1.5-.5 1.5-.4 1.5-1.3 1.5-1.1 1.5-.3 1.5-.1 1.5 .1 1.5-.4 1.5-1.4 1.5-1.1 1.5-.6 1.5-.6 1.5-.8 1.5-1.1 1.5-1 1.5-.7 1.5 .1 1.5 .8 1.5 .9 1.5 1.1 1.5 .7 1.5 .8 1.5 1.7 1.5 1.3 1.5 .7 1.5 .6 1.5 .6 1.5 1.1 1.5 1.1 1.5 .7 1.5 .1 1.5 .7 1.5 1.2 1.5 .8 1.5 .9 1.5 .6 1.5-.8 1.5-1.6 1.5-1.3 1.5-1.4 1.5-1.6 1.5-.4 1.5 .4 1.5 1.3 1.5 1.7 1.5 2 1.5 1.6 1.5 .4 1.5 .2 1.5 .3 1.5-.2 1.5 0 1.5 .5 1.5 1 1.5 1.3 1.5 1.2 1.5 .9 1.5 .8 1.5 .9 1.5 1.2 1.5 1.1 1.5 .9 1.5 1.2 1.5 1.3 1.5 .1 1.5-.9 1.5 0 1.5 .7 1.5 .4 1.5 .3 1.5 .6 1.5 1.1 1.5 1 1.5 .5 1.5 0 1.5 .1 1.5 .6 1.5 .5 1.5 .7 1.5 .5 1.5 0 1.5 .6 1.5 .2 1.5-.6 1.5-.2 1.5-1.3 1.5-2.6 1.5-2.1 1.5-1 1.5-.4 1.5-.2 1.5-.2 1.5-.7 1.5-.6 1.5-.6 1.5-1.4 1.5-1.5 1.5-1.6 1.5-1.7 1.5-1.2 1.5-.9 1.5-.9 1.5-.9 1.5-1.3 1.5-.9 1.5-.2 1.5-.5 1.5-1.5 1.5-.9 1.5-.1 1.5-.7 1.5-1.3 1.5-.9 1.5 0 1.5 .5 1.5 .4 1.5 .2 1.5-.5 1.5-.8 1.5-.5 1.5 .3 1.5 .1 1.5 .1 1.5 .5 1.5-.3 1.5-.7 1.5-.4 1.5 0 1.5 .3 1.5-.3 1.5-.7 1.5-.1 1.5 .1 1.5-.3 1.5 .2 1.5 .8 1.5 1.1 1.5 .6 1.5-.1 1.5 .2 1.5 1.1 1.5 1.2 1.5 .6 1.5-.3 1.5-.1 1.5 .6 1.5 .5 1.5-.1 1.5-.4 1.5 .1 1.5 1.2 1.5 1.5 1.5 1.6 1.5 2.2 1.5 2 1.5 .7 1.5 .1 1.5 .6 1.5 .6 1.5-.1 1.5-.2 1.5 .9 1.5 1.1 1.5 .6 1.5 .1 1.5 .7 1.5 1.7 1.5 1.6 1.5 .6 1.5 .1 1.5-.3 1.5-.2 1.5 .1 1.5 .3 1.5 .4 1.5 .1 1.5-.2 1.5-.2 1.5 .2 1.5 .3 1.5 .4 1.5 .4 1.5-.3 1.5-.3 1.5-.3 1.5-.3 1.5 .5 1.5 1.2 1.5 .7 1.5 .2 1.5 .1 1.5 .2 1.5 .7 1.5 .9 1.5 .3 1.5 0 1.5-.7 1.5-.5 1.5 0 1.5-.4 1.5 0 1.5 .5 1.5 .5 1.5 1 1.5 .8 1.5 .3 1.5-.4 1.5-.4 1.5-.1 1.5-.1 1.5 0 1.5 .7 1.5 1 1.5 .6 1.5 .4 1.5 .7 1.5 .7 1.5 .2 1.5-.1 1.5 .3 1.5-.2 1.5-.3 1.5 .4 1.5 1.3 1.5 .9 1.5-.2 1.5 .1 1.5 1.6 1.5 1.9 1.5 1.3 1.5 1.2 1.5 2.1 1.5 2.8 1.5 2.5 1.5 2.1 1.5 2.2 1.5 2.3 1.5 2.9 1.5 4.7 1.5 5.2 1.5 4.5 1.5 3.9 1.5 3.8 1.5 2.6 1.5 1.9 1.5 2.3 1.5 3 1.5 3.3 1.5 2.4 1.5 2 1.5 2.3 1.5 2.1 1.5 2.4 1.5 3.1 1.5 3.5 1.5 4.6 1.5 5 1.5 4.7 1.5 4.7 1.5 7.8 1.5 8.9 1.5 4.1 1.5-1.4 1.5-4.4 1.5-4.2 1.5-5.3 1.5-6.5 1.5-7.2 1.9-22.4 .8-23.7 .7-24.6 .6-23.1 .5-20.6"/>
<path class="ld" stroke-opacity="0.40" d="M717.2 654.7l1.5 35.2 1.5 26.1 1.5 23.4 1.5 12.6 1.5 5.2 1.5 3.9 1.5 2.1 1.5 1 1.5-.5 1.5-4.5 1.5-5.2 1.5-5.9 1.5-6.4 1.5-5.8 1.5-4 1.5-2.7 1.5-2.9 1.5-1.8 1.5-1.3 1.5-.9 1.5-.7 1.5-1.8 1.5-2.7 1.5-2.5 1.5-10.1 1.5-2 1.5-.9 1.5-.8 1.5-1.8 1.5-2 1.5-2.4 1.5-2.6 1.5-2 1.5-1.1 1.5-1.9 1.5-3.2 1.5-3 1.5-2.6 1.5-2 1.5-2.1 1.5-2.9 1.5-2.8 1.5-2 1.5-2.1 1.5-2.6 1.5-2 1.5-1.2 1.5-.7 1.5-1.3 1.5-1.8 1.5-1.5 1.5-1.9 1.5-2.1 1.5-2.1 1.5-2.3 1.5-1.4 1.5 .4 1.5 .4 1.5-.1 1.5-.3 1.5-.1 1.5-.3 1.5-.9 1.5-.7 1.5-.1 1.5-.6 1.5-1.2 1.5-1.5 1.5-2 1.5-.9 1.5-.1 1.5-.1 1.5-.4 1.5-.5 1.5-.8 1.5 0 1.5 1.1 1.5 .8 1.5-.1 1.5-.4 1.5-.8 1.5-.9 1.5-.2 1.5-.7 1.5-1.4 1.5-1.5 1.5-1.6 1.5-2.1 1.5-1.9 1.5-.3 1.5-.4 1.5-1.2 1.5-.8 1.5-.4 1.5-1.2 1.5-1.4 1.5-.3 1.5-.1 1.5-1.2 1.5-1.8 1.5-1.5 1.5-.4 1.5 .4 1.5-.7 1.5-.9 1.5-.1 1.5-.2 1.5-1.2 1.5-1 1.5-.3 1.5-1.1 1.5-1.3 1.5-1.3 1.5-.9 1.5-1 1.5-1.3 1.5-1 1.5-.5 1.5-.3 1.5 0 1.5 .6 1.5 1.1 1.5 1.4 1.5 1.8 1.5 1.8 1.5 1.3 1.5 .7 1.5 .3 1.5 .9 1.5 1 1.5 0 1.5 .2 1.5 1.6 1.5 2.2 1.5 1.4 1.5 .1 1.5-.2 1.5-.2 1.5-1.3 1.5-2.4 1.5-2.3 1.5-1.4 1.5 .2 1.5 .6 1.5 1.4 1.5 1.4 1.5 .5 1.5 1 1.5 1.5 1.5 .7 1.5 .1 1.5 .7 1.5 1.1 1.5 1.1 1.5 1.2 1.5 1 1.5 .8 1.5 .8 1.5-.2 1.5-.5 1.5 1 1.5 2.2 1.5 1.9 1.5 1.1 1.5 .5 1.5 .1 1.5 .2 1.5 0 1.5 .4 1.5 1.4 1.5 1.3 1.5 .7 1.5 1.6 1.5 2.1 1.5 .4 1.5-.6 1.5 .5 1.5 .5 1.5-.6 1.5-.4 1.5 .4 1.5 .4 1.5-.2 1.5-.1 1.5 .2 1.5-.3 1.5-1.6 1.5-2.2 1.5-2.5 1.5-1.2 1.5-.2 1.5-.8 1.5 .1 1.5 .7 1.5 .1 1.5-.9 1.5-1.7 1.5-1.6 1.5-1 1.5-1.1 1.5-1.6 1.5-1.3 1.5-.9 1.5-1.3 1.5-1.3 1.5-1 1.5-.8 1.5-.9 1.5-.9 1.5-.8 1.5-.6 1.5-.6 1.5-.4 1.5-.2 1.5-.2 1.5 .1 1.5 0 1.5-.3 1.5-.4 1.5-.7 1.5-.5 1.5 .2 1.5 .6 1.5 .6 1.5 .9 1.5 .1 1.5-.9 1.5 .2 1.5 .8 1.5-.6 1.5-1.4 1.5-.7 1.5 0 1.5 .1 1.5-.1 1.5 .5 1.5 .6 1.5 .2 1.5 .7 1.5 1.3 1.5 .5 1.5 .2 1.5 .1 1.5 .1 1.5-.3 1.5 0 1.5 1.3 1.5 1.4 1.5 0 1.5-.8 1.5-.1 1.5 .8 1.5 .8 1.5 .3 1.5 1.6 1.5 1.6 1.5 .8 1.5 1.3 1.5 1.1 1.5 .8 1.5 .5 1.5-.4 1.5-.2 1.5 .6 1.5 .4 1.5 .4 1.5 .4 1.5 .6 1.5 .9 1.5 .8 1.5 .5 1.5 .5 1.5 .6 1.5 .6 1.5 .4 1.5 .2 1.5 .5 1.5 .5 1.5 .2 1.5-.7 1.5-1.1 1.5-.5 1.5 .2 1.5-.1 1.5-.9 1.5-.5 1.5 .3 1.5 .2 1.5 .2 1.5-.2 1.5 .3 1.5 .6 1.5-.2 1.5 .2 1.5 .9 1.5 .5 1.5 .1 1.5 .2 1.5 .1 1.5-.8 1.5-.6 1.5 .6 1.5 .6 1.5 .3 1.5-.1 1.5-.3 1.5 .1 1.5 1 1.5 .5 1.5-.7 1.5 .7 1.5 1.2 1.5-.3 1.5 .2 1.5 1.6 1.5 1.2 1.5 .1 1.5 .2 1.5 .8 1.5 .5 1.5 .2 1.5 .5 1.5 .7 1.5-.3 1.5 .1 1.5 1.2 1.5 1 1.5 .8 1.5 1.7 1.5 2.2 1.5 1.3 1.5 .9 1.5 2.2 1.5 3 1.5 3 1.5 2.9 1.5 2.5 1.5 3.3 1.5 4.3 1.5 4 1.5 3.2 1.5 3.5 1.5 4.1 1.5 4.2 1.5 2.9 1.5 1.8 1.5 3.1 1.5 3.7 1.5 2.6 1.5 2.4 1.5 2.8 1.5 2.6 1.5 2.9 1.5 3.8 1.5 3.5 1.5 3 1.5 3.4 1.5 3.6 1.5 4.5 1.5 5.8 1.5 9.1 1.5 9.4 1.5 3.9 1.5-1.2 1.5-3.8 1.5-4.2 1.5-6.1 1.5-6.4 1.5-6.3 1.9-25.6 .8-29.4 .7-30.5 .6-28.8 .5-25.6"/>
<path class="ld" stroke-opacity="0.40" d="M717.2 669.8l1.5 29.9 1.5 22.2 1.5 19.9 1.5 11.5 1.5 6.2 1.5 4.2 1.5 1.6 1.5 1.4 1.5-.1 1.5-4.5 1.5-5.5 1.5-6.5 1.5-7 1.5-5.9 1.5-3.3 1.5-2.1 1.5-2.7 1.5-1.3 1.5-.9 1.5-1.4 1.5-1.8 1.5-1.6 1.5-1.7 1.5-2 1.5-10.2 1.5-1.5 1.5-1.7 1.5-2 1.5-1.5 1.5-1.7 1.5-2.1 1.5-2.4 1.5-2.9 1.5-3 1.5-2.6 1.5-2.8 1.5-2.6 1.5-1.7 1.5-1.6 1.5-2.8 1.5-2.7 1.5-2.4 1.5-2.6 1.5-3.1 1.5-3.3 1.5-1.9 1.5-.4 1.5-.3 1.5-.6 1.5-1.9 1.5-3.3 1.5-3.1 1.5-1.7 1.5-1 1.5-1.2 1.5-1.6 1.5-1.6 1.5-1.2 1.5-.9 1.5-.8 1.5-.2 1.5-.6 1.5-1.1 1.5-1.2 1.5-1.1 1.5-.6 1.5-.7 1.5-1.4 1.5-1.4 1.5-1 1.5-.9 1.5-1.1 1.5-.5 1.5 .4 1.5 .2 1.5-.5 1.5 0 1.5 .4 1.5 .1 1.5-1.1 1.5-1.4 1.5-.5 1.5 .4 1.5-.2 1.5-.9 1.5-1.2 1.5-1.7 1.5-2.3 1.5-1.6 1.5 .4 1.5 .5 1.5-1.2 1.5-1.4 1.5-1 1.5-1 1.5-1.2 1.5-1.1 1.5-1.2 1.5-1.2 1.5-.9 1.5-.2 1.5 0 1.5-.7 1.5-.6 1.5-.1 1.5 0 1.5-.7 1.5-1.1 1.5-.2 1.5-.4 1.5-.9 1.5-1 1.5-1.5 1.5-1.5 1.5-.7 1.5-.3 1.5-.7 1.5-.6 1.5-.1 1.5 .9 1.5 1.6 1.5 1.9 1.5 1.6 1.5 1.4 1.5 .8 1.5 .2 1.5 .9 1.5 .8 1.5 .5 1.5 1.2 1.5 1.3 1.5 1.1 1.5 .9 1.5 .5 1.5 1.1 1.5 1.3 1.5 0 1.5-1 1.5-1.4 1.5-1.8 1.5-2 1.5-1.7 1.5 .1 1.5 1 1.5 1.1 1.5 .6 1.5 .1 1.5 1.2 1.5 2.2 1.5 1.4 1.5 .4 1.5-.1 1.5-.3 1.5 .6 1.5 1.3 1.5 .6 1.5-.2 1.5 .2 1.5 .8 1.5 .3 1.5 .2 1.5 .5 1.5 .7 1.5 1.9 1.5 1.8 1.5 .2 1.5-.4 1.5 .6 1.5 .9 1.5 .3 1.5 .4 1.5 .4 1.5 1.2 1.5 1.6 1.5 .9 1.5-.1 1.5-.3 1.5 .4 1.5-.1 1.5-.3 1.5-.4 1.5-.1 1.5 .5 1.5 .3 1.5-.1 1.5-.3 1.5-1.6 1.5-2.5 1.5-1.8 1.5-.8 1.5-.2 1.5-.2 1.5 .5 1.5 .4 1.5-.5 1.5-1.1 1.5-.9 1.5-1 1.5-1.2 1.5-1.9 1.5-1.9 1.5-1.2 1.5-1 1.5-.7 1.5-1 1.5-1.5 1.5-.4 1.5 .3 1.5 0 1.5-.3 1.5-.4 1.5-.5 1.5-.3 1.5-.3 1.5-.7 1.5-1 1.5-.7 1.5-.1 1.5 .1 1.5 .3 1.5 .1 1.5 .6 1.5 1.3 1.5 1.1 1.5 .6 1.5 .5 1.5 0 1.5-.2 1.5-.1 1.5-.3 1.5-.4 1.5-.4 1.5-.4 1.5 .3 1.5 .7 1.5 .2 1.5 .2 1.5 1.2 1.5 1 1.5 .2 1.5 .1 1.5 .2 1.5 .6 1.5 .6 1.5 0 1.5 .5 1.5 .7 1.5-.2 1.5-.9 1.5-.2 1.5 .8 1.5 .7 1.5 1 1.5 1.8 1.5 1.6 1.5 .5 1.5 .3 1.5 .2 1.5-.3 1.5 .5 1.5 1.4 1.5 1.4 1.5 .4 1.5 .6 1.5 1.4 1.5 1.1 1.5 .7 1.5 .4 1.5 .6 1.5 .6 1.5-.2 1.5-.7 1.5-.4 1.5-.6 1.5-1.1 1.5-.1 1.5 1.2 1.5 1 1.5 .8 1.5 .2 1.5-.5 1.5-.3 1.5 .2 1.5 .1 1.5-.5 1.5-.4 1.5 .5 1.5 .8 1.5 .5 1.5 .2 1.5-.1 1.5 .9 1.5 1 1.5 .2 1.5-.3 1.5-.5 1.5-.6 1.5-.5 1.5 0 1.5 1.2 1.5 1.6 1.5 .6 1.5-.3 1.5-.3 1.5 .2 1.5 .5 1.5 .6 1.5 .6 1.5-.2 1.5-.5 1.5 .1 1.5 .6 1.5 .8 1.5 .9 1.5 .2 1.5-.7 1.5-.4 1.5 .6 1.5 .8 1.5 .8 1.5-.2 1.5-.6 1.5 .5 1.5 1.4 1.5 .8 1.5 .3 1.5 .8 1.5 1.6 1.5 1.9 1.5 1.9 1.5 1.2 1.5 .9 1.5 1.8 1.5 2.1 1.5 2.2 1.5 1.9 1.5 2.2 1.5 2.9 1.5 3 1.5 3.6 1.5 4.4 1.5 4.2 1.5 4.2 1.5 4.2 1.5 3.6 1.5 2.9 1.5 2.1 1.5 1.8 1.5 2.2 1.5 2.7 1.5 2.8 1.5 2.3 1.5 2 1.5 3 1.5 4.2 1.5 4.3 1.5 4.7 1.5 4.8 1.5 4.8 1.5 5.3 1.5 7.8 1.5 8.7 1.5 5.3 1.5-1 1.5-5.4 1.5-4.7 1.5-5.2 1.5-5.7 1.5-6.2 1.9-25.5 .8-30.2 .7-31.4 .6-29.6 .5-26.2"/>
<path class="ld" stroke-opacity="0.40" d="M717.2 683.2l1.5 22.7 1.5 16.8 1.5 15.2 1.5 10.7 1.5 6.4 1.5 4.6 1.5 1.9 1.5 1.7 1.5 .4 1.5-4.1 1.5-5.2 1.5-6.8 1.5-7.2 1.5-5.8 1.5-3.8 1.5-1.9 1.5-2.4 1.5-1.9 1.5-1.8 1.5-2.1 1.5-1.8 1.5-1.3 1.5-1.7 1.5-2 1.5-10.8 1.5-1.2 1.5-1.4 1.5-1.5 1.5-1.7 1.5-2.1 1.5-2.1 1.5-2.2 1.5-2.2 1.5-2.5 1.5-2.5 1.5-2.1 1.5-1.8 1.5-2.3 1.5-2 1.5-2.1 1.5-2.7 1.5-2.8 1.5-2.2 1.5-1.8 1.5-2.1 1.5-2.2 1.5-2 1.5-1.7 1.5-1.5 1.5-1.5 1.5-1.4 1.5-1.8 1.5-2.4 1.5-2.5 1.5-1.5 1.5-.9 1.5-.6 1.5-.8 1.5-.8 1.5-.2 1.5 0 1.5-.2 1.5 0 1.5-.8 1.5-1.9 1.5-1.6 1.5-.8 1.5-1.2 1.5-.6 1.5-.1 1.5-1 1.5-1.4 1.5-1.3 1.5-.3 1.5 .5 1.5 .4 1.5-.2 1.5-.2 1.5 .1 1.5-.4 1.5-.9 1.5-1.1 1.5-1 1.5-1.3 1.5-1.7 1.5-.7 1.5 .5 1.5-.3 1.5-2.2 1.5-2 1.5-.6 1.5 0 1.5-.8 1.5-1.4 1.5-.7 1.5-.2 1.5-.7 1.5-1.2 1.5-.9 1.5-.6 1.5-1.3 1.5-1.4 1.5-.6 1.5-.4 1.5-.8 1.5-.8 1.5-.3 1.5-.3 1.5-1 1.5-1.4 1.5-.4 1.5 .6 1.5-.3 1.5-2 1.5-2.3 1.5-1.4 1.5-.5 1.5 .3 1.5 .5 1.5 .8 1.5 1.6 1.5 1.4 1.5 .9 1.5 .7 1.5 .6 1.5 .7 1.5 1.1 1.5 1.6 1.5 1.6 1.5 .5 1.5-.3 1.5 .1 1.5 .5 1.5 .7 1.5 .8 1.5 .4 1.5 .8 1.5-.1 1.5-1.4 1.5-1.5 1.5-.3 1.5-.5 1.5-.7 1.5-.2 1.5 1 1.5 1.4 1.5 .7 1.5 .8 1.5 1 1.5 1.3 1.5 1.1 1.5 .4 1.5 .4 1.5 .8 1.5 .7 1.5 .4 1.5 .5 1.5 1.1 1.5 1.4 1.5 .8 1.5 .7 1.5 .9 1.5 .9 1.5 1.1 1.5 1.4 1.5 1.2 1.5 .8 1.5-.4 1.5-.6 1.5 .7 1.5 2 1.5 2.1 1.5 1 1.5 .2 1.5 .3 1.5 .9 1.5 1.1 1.5 .5 1.5-.4 1.5-.3 1.5 .1 1.5 .8 1.5 .1 1.5-.6 1.5-.8 1.5-.9 1.5-1.6 1.5-2.1 1.5-1.8 1.5-1.4 1.5-.8 1.5-.7 1.5-.7 1.5 .5 1.5 .5 1.5-.3 1.5-.6 1.5-1.1 1.5-2.1 1.5-1.6 1.5-1.3 1.5-1.8 1.5-1.8 1.5-1.6 1.5-1.3 1.5-.7 1.5-.7 1.5-.2 1.5-.2 1.5-1.3 1.5-1.4 1.5-.6 1.5-.5 1.5-.1 1.5 .9 1.5 .6 1.5-.7 1.5-1.1 1.5-.9 1.5-.2 1.5 .5 1.5-.1 1.5-.3 1.5 .3 1.5 .4 1.5 .2 1.5 .7 1.5 .9 1.5-.2 1.5-.8 1.5-.5 1.5-.3 1.5 .1 1.5 0 1.5 .1 1.5 1.2 1.5 1.4 1.5 .6 1.5-.1 1.5-.3 1.5 .2 1.5 .5 1.5 .3 1.5 .3 1.5 .6 1.5 .5 1.5-.4 1.5-.3 1.5 .5 1.5 0 1.5-.4 1.5 .2 1.5 .7 1.5 1.4 1.5 2.3 1.5 1.2 1.5 .5 1.5 1.1 1.5 .9 1.5 1 1.5 .7 1.5 .7 1.5 .6 1.5 .1 1.5 .3 1.5 .8 1.5 .4 1.5 .4 1.5 .8 1.5 .8 1.5 .4 1.5 .1 1.5-.3 1.5 .1 1.5-.5 1.5-1.3 1.5-.5 1.5 .4 1.5 1.1 1.5 .9 1.5-.2 1.5-.9 1.5-.7 1.5 .4 1.5 .5 1.5 .1 1.5 .2 1.5-.1 1.5-.1 1.5 .3 1.5 .6 1.5 1.2 1.5 .6 1.5-.6 1.5-.3 1.5 .1 1.5 0 1.5-.2 1.5 .2 1.5 .9 1.5 .7 1.5-.3 1.5-.5 1.5-.3 1.5-.2 1.5-.1 1.5-.5 1.5 0 1.5 1.1 1.5 .9 1.5 .1 1.5 .3 1.5 .9 1.5 .9 1.5 .7 1.5 .3 1.5-.1 1.5 .3 1.5 .2 1.5 .4 1.5 .8 1.5 .2 1.5-.7 1.5 .1 1.5 1.5 1.5 1.9 1.5 1.3 1.5 .7 1.5 1.2 1.5 1.6 1.5 1.7 1.5 1.6 1.5 1.4 1.5 2 1.5 2.6 1.5 2.9 1.5 2.7 1.5 2.6 1.5 3 1.5 3.5 1.5 3.7 1.5 3.8 1.5 4.1 1.5 4.3 1.5 4.2 1.5 3.9 1.5 3.2 1.5 2.3 1.5 2.2 1.5 1.9 1.5 1.7 1.5 2.6 1.5 3.2 1.5 3.3 1.5 4.7 1.5 4.2 1.5 3.8 1.5 4.4 1.5 4.1 1.5 3.8 1.5 7.7 1.5 10.6 1.5 6.6 1.5-.7 1.5-5.1 1.5-4.9 1.5-5.3 1.5-5.8 1.5-6.8 1.9-25.7 .8-29.7 .7-30.8 .6-29.1 .5-25.8"/>
<path class="ld" stroke-opacity="0.40" d="M717.2 677.6l1.5 25.6 1.5 19 1.5 17.1 1.5 10.8 1.5 6 1.5 3.9 1.5 1.8 1.5 1.9 1.5-.1 1.5-4.8 1.5-5.6 1.5-6.2 1.5-6.5 1.5-5.8 1.5-3.7 1.5-1.5 1.5-1.6 1.5-1.2 1.5-1.5 1.5-2 1.5-2.3 1.5-1.7 1.5-1.2 1.5-.9 1.5-11.1 1.5-1.8 1.5-1.6 1.5-1.4 1.5-.9 1.5-1.9 1.5-3 1.5-2.3 1.5-1.3 1.5-1.4 1.5-2 1.5-2.1 1.5-2.3 1.5-2.5 1.5-2.5 1.5-2.3 1.5-2.4 1.5-2.1 1.5-2.2 1.5-2.9 1.5-2.3 1.5-1.6 1.5-1.3 1.5-1.6 1.5-1.8 1.5-1.8 1.5-2.1 1.5-2.3 1.5-2.4 1.5-2.3 1.5-2.4 1.5-1.7 1.5-.5 1.5-.4 1.5-.6 1.5-.3 1.5-.7 1.5-.9 1.5-1.2 1.5-.6 1.5-.1 1.5-1.1 1.5-1.9 1.5-2.2 1.5-1.8 1.5-1.1 1.5 .3 1.5 1.2 1.5-.3 1.5-2.2 1.5-1.7 1.5 .2 1.5 .1 1.5-.5 1.5-.4 1.5-.7 1.5-.9 1.5-1.3 1.5-.7 1.5-.8 1.5-1 1.5-.9 1.5-1.4 1.5-1.5 1.5-1 1.5-.7 1.5-.6 1.5-1.3 1.5-1.7 1.5-1.5 1.5-1.2 1.5-1 1.5-.9 1.5-.9 1.5-1.2 1.5-1.7 1.5-1.3 1.5-.8 1.5-.4 1.5-.2 1.5 .4 1.5-.3 1.5-.2 1.5 .2 1.5-.4 1.5-1.7 1.5-1.7 1.5-1 1.5-.7 1.5-.3 1.5-.8 1.5-1.1 1.5-1.2 1.5-.4 1.5 .4 1.5 .1 1.5 .8 1.5 1.9 1.5 2.4 1.5 1.8 1.5 .7 1.5-.1 1.5 0 1.5 .6 1.5 .9 1.5 1.2 1.5 1.6 1.5 1 1.5 .5 1.5 .3 1.5 .7 1.5 1 1.5 1 1.5 .1 1.5-1.7 1.5-2.6 1.5-2.1 1.5-1.5 1.5-.4 1.5 .6 1.5 1.6 1.5 1.8 1.5 1.6 1.5 1.6 1.5 .8 1.5 .4 1.5 .4 1.5 .8 1.5 .4 1.5-.2 1.5 .8 1.5 1.7 1.5 1.5 1.5 1.1 1.5 .6 1.5 .7 1.5 .8 1.5 .8 1.5 1.3 1.5 1.6 1.5 .7 1.5-.4 1.5-.5 1.5 0 1.5 1 1.5 2.1 1.5 2.3 1.5 1.7 1.5 1.2 1.5-.1 1.5-.7 1.5 .3 1.5 .8 1.5 .4 1.5 .2 1.5 .2 1.5 .5 1.5 .5 1.5 .4 1.5 .4 1.5-.6 1.5-2 1.5-3 1.5-2 1.5-.3 1.5 .1 1.5-.1 1.5-.4 1.5-1 1.5-1.1 1.5-.5 1.5 .1 1.5 .1 1.5-.3 1.5-1.5 1.5-2.7 1.5-1.6 1.5-1.2 1.5-1.2 1.5-.9 1.5-.9 1.5-.9 1.5-.2 1.5-.3 1.5-.9 1.5-.5 1.5 0 1.5-.2 1.5-1.4 1.5-.9 1.5 .7 1.5 .5 1.5-1.1 1.5-1.6 1.5-.8 1.5-.2 1.5-.3 1.5 0 1.5 .3 1.5 .5 1.5 .1 1.5-.4 1.5 .2 1.5 1.3 1.5 .9 1.5-.3 1.5-.8 1.5-.1 1.5 .3 1.5-.3 1.5-.4 1.5 .8 1.5 1.4 1.5 .7 1.5-.1 1.5-.3 1.5-.4 1.5-.3 1.5-.1 1.5 .3 1.5 1.3 1.5 2.1 1.5 1.6 1.5 0 1.5-.9 1.5-.4 1.5 .4 1.5 .9 1.5 .3 1.5 .3 1.5 1.2 1.5 1.3 1.5 1.2 1.5 .8 1.5 .3 1.5 .6 1.5-.1 1.5 .1 1.5 1.7 1.5 2.3 1.5 1.6 1.5 .6 1.5 .2 1.5-.2 1.5 .1 1.5 .6 1.5 0 1.5-.5 1.5 .2 1.5 .8 1.5 .8 1.5 0 1.5-.7 1.5-.5 1.5 0 1.5 0 1.5 0 1.5-.1 1.5 .6 1.5 .8 1.5-.1 1.5-1 1.5-.7 1.5-.2 1.5 0 1.5 .3 1.5 1.2 1.5 .9 1.5-.2 1.5-.6 1.5-.5 1.5 0 1.5 .1 1.5-.3 1.5-.4 1.5 .5 1.5 .8 1.5 .4 1.5 .2 1.5 .9 1.5 .6 1.5-.2 1.5-.2 1.5-.1 1.5-.2 1.5 0 1.5 .3 1.5 .8 1.5 1 1.5 .8 1.5 .9 1.5 .5 1.5 0 1.5-.1 1.5 .1 1.5 .4 1.5 1 1.5 1.1 1.5 .7 1.5 .3 1.5 0 1.5-.2 1.5 .8 1.5 2.3 1.5 2.2 1.5 1.6 1.5 1.8 1.5 1.6 1.5 1.9 1.5 2.1 1.5 2.1 1.5 3 1.5 2.8 1.5 2 1.5 2.3 1.5 3.7 1.5 4.8 1.5 4.8 1.5 4.1 1.5 3.9 1.5 3.8 1.5 2.9 1.5 2.3 1.5 3.3 1.5 3.3 1.5 2.3 1.5 1.9 1.5 1.9 1.5 2.1 1.5 2.7 1.5 4.3 1.5 4 1.5 3.8 1.5 4.3 1.5 5.5 1.5 5.8 1.5 7.9 1.5 9.3 1.5 6 1.5-.1 1.5-4.1 1.5-4.5 1.5-5.8 1.5-6.7 1.5-7.6 1.9-28.3 .8-35 .7-36.4 .6-34.3 .5-30.5"/>
<path class="ld" stroke-opacity="0.40" d="M717.2 661.3l1.5 32.4 1.5 24 1.5 21.6 1.5 11.7 1.5 6.1 1.5 4.9 1.5 2.1 1.5 1.2 1.5-.4 1.5-3.7 1.5-4.4 1.5-6.4 1.5-7.2 1.5-5.4 1.5-3.1 1.5-2.2 1.5-2.4 1.5-2.1 1.5-2.5 1.5-1.4 1.5-.5 1.5-1.2 1.5-2 1.5-1.7 1.5-11.9 1.5-1.4 1.5-1.5 1.5-1.6 1.5-1.2 1.5-1.6 1.5-2.6 1.5-3.2 1.5-2.9 1.5-2.2 1.5-3.1 1.5-3 1.5-1.6 1.5-1 1.5-1.3 1.5-2 1.5-3.1 1.5-3.1 1.5-1.9 1.5-1.9 1.5-2.1 1.5-1.8 1.5-1.9 1.5-2 1.5-1.7 1.5-1.3 1.5-1.1 1.5-2.1 1.5-2.5 1.5-2.4 1.5-2.1 1.5-1.1 1.5-1.1 1.5-1.7 1.5-1.1 1.5-.3 1.5-.4 1.5-.7 1.5-.1 1.5-.1 1.5-.9 1.5-1.4 1.5-1.4 1.5-.6 1.5-.2 1.5-1.1 1.5-2 1.5-1.6 1.5-1.1 1.5-.6 1.5-.1 1.5 .1 1.5 0 1.5 .1 1.5-.8 1.5-1.1 1.5-.6 1.5-.6 1.5-.9 1.5-1 1.5-1.4 1.5-1.2 1.5-.6 1.5-.9 1.5-1.4 1.5-1.3 1.5-1.1 1.5-1.6 1.5-1.3 1.5-.3 1.5 .1 1.5 .1 1.5-.5 1.5-1.8 1.5-1.9 1.5-1.4 1.5-.6 1.5 .1 1.5-.7 1.5-1.5 1.5-.7 1.5 .1 1.5-.9 1.5-1.2 1.5-.1 1.5-.5 1.5-1.3 1.5-.6 1.5-.4 1.5-1.2 1.5-1.5 1.5-1.1 1.5-.4 1.5 .1 1.5-.3 1.5-.8 1.5 .5 1.5 1.7 1.5 1.2 1.5 .8 1.5 .6 1.5 .5 1.5 1.2 1.5 1.6 1.5 1.7 1.5 1.8 1.5 1.4 1.5-.2 1.5-.7 1.5 .3 1.5 1.1 1.5 1.4 1.5 1.5 1.5-.1 1.5-1.6 1.5-1.2 1.5-1.5 1.5-2.3 1.5-.7 1.5 .7 1.5 1.1 1.5 .8 1.5 .6 1.5 1.2 1.5 .9 1.5 .5 1.5 .8 1.5 1.2 1.5 .9 1.5 .5 1.5 .5 1.5 .9 1.5 1 1.5 1.1 1.5 1 1.5 1.2 1.5 1.4 1.5 1.2 1.5 1 1.5 .9 1.5 .5 1.5 .4 1.5 .5 1.5 .2 1.5 .3 1.5 1.2 1.5 1.3 1.5 1.1 1.5 1.9 1.5 1.8 1.5 .6 1.5 .2 1.5 .4 1.5-1.1 1.5-2.1 1.5-.6 1.5 .1 1.5 .2 1.5 .5 1.5 .3 1.5 .4 1.5-.4 1.5-2 1.5-2 1.5-1.3 1.5-.8 1.5-.6 1.5-.6 1.5 .1 1.5 0 1.5-.9 1.5-1 1.5-.9 1.5-.7 1.5-.9 1.5-.9 1.5-1.3 1.5-1.6 1.5-.8 1.5-.4 1.5-1.2 1.5-1.4 1.5-1.1 1.5-1.2 1.5-.8 1.5-.1 1.5-.4 1.5-.5 1.5 .3 1.5 .5 1.5 0 1.5-.2 1.5-.9 1.5-1 1.5-1.4 1.5-1.3 1.5-.4 1.5 .3 1.5-.1 1.5-.5 1.5 1 1.5 1.6 1.5 .3 1.5-.4 1.5-.5 1.5-.2 1.5 0 1.5-.3 1.5-.8 1.5-.5 1.5 0 1.5 .7 1.5 .7 1.5 .6 1.5 1.4 1.5 1.2 1.5-.1 1.5-.3 1.5 .2 1.5-.3 1.5-.5 1.5 .5 1.5 .9 1.5 0 1.5-.5 1.5 .5 1.5 1.2 1.5 .5 1.5-.1 1.5 .1 1.5 .5 1.5 1.5 1.5 1.8 1.5 .9 1.5 .4 1.5 1.2 1.5 1.7 1.5 1.4 1.5 1 1.5 .9 1.5 .7 1.5 .8 1.5 .8 1.5 .4 1.5 .3 1.5 0 1.5 .2 1.5 .1 1.5-.3 1.5-.2 1.5 .2 1.5 .7 1.5 .8 1.5 .3 1.5 .1 1.5 .3 1.5-.4 1.5-.5 1.5-.2 1.5-.1 1.5-.4 1.5 0 1.5 .9 1.5 1.2 1.5 .9 1.5-.2 1.5-.2 1.5 .4 1.5 .2 1.5 .4 1.5-.2 1.5-.3 1.5-.2 1.5-.6 1.5 .2 1.5 1.4 1.5 1 1.5 .3 1.5-.2 1.5-.4 1.5-.6 1.5-.2 1.5 1.2 1.5 1.5 1.5 .6 1.5 .5 1.5 .2 1.5-.4 1.5-.8 1.5-.5 1.5 .5 1.5 1.5 1.5 1.2 1.5 1 1.5 .4 1.5-.2 1.5-.2 1.5 .2 1.5 1 1.5 1.3 1.5 .7 1.5 .2 1.5 .4 1.5 .6 1.5 1.6 1.5 2.3 1.5 1.6 1.5 1.1 1.5 1.8 1.5 2.7 1.5 2.1 1.5 1.6 1.5 2.4 1.5 3.1 1.5 3.3 1.5 3.7 1.5 3.2 1.5 3.4 1.5 4.1 1.5 3.6 1.5 3 1.5 2.6 1.5 2.3 1.5 2.4 1.5 2.8 1.5 2.7 1.5 1.9 1.5 1.7 1.5 2.2 1.5 3.1 1.5 3.6 1.5 3.1 1.5 3.8 1.5 4.6 1.5 4.1 1.5 4.6 1.5 9.4 1.5 10.7 1.5 5.9 1.5-.2 1.5-3.5 1.5-4.3 1.5-5.7 1.5-6.4 1.5-7.8 1.9-27 .8-31.3 .7-32.6 .6-30.7 .5-27.2"/>
<path class="ld" stroke-opacity="0.40" d="M717.2 651.1l1.5 36.4 1.5 26.9 1.5 24.3 1.5 12.7 1.5 5.6 1.5 4 1.5 1.8 1.5 2 1.5 .6 1.5-4.2 1.5-6 1.5-6.8 1.5-6.6 1.5-5.5 1.5-3.6 1.5-2.2 1.5-2.3 1.5-2 1.5-1.2 1.5-.2 1.5-1 1.5-2 1.5-1.8 1.5-1 1.5-13 1.5-2.8 1.5-2 1.5-2 1.5-1.7 1.5-1.6 1.5-2 1.5-2.5 1.5-2.9 1.5-2.4 1.5-2.2 1.5-2.2 1.5-2 1.5-1.1 1.5-1.9 1.5-2.7 1.5-2 1.5-1.9 1.5-2.7 1.5-3.4 1.5-2.9 1.5-1.5 1.5-.9 1.5-1.9 1.5-2.1 1.5-1.8 1.5-1.4 1.5-2 1.5-2.8 1.5-2.2 1.5-1.9 1.5-1.9 1.5-1.1 1.5-.4 1.5-.7 1.5-1.7 1.5-.5 1.5 .2 1.5-1 1.5-1.2 1.5-.5 1.5-1.3 1.5-1.8 1.5-.8 1.5-.5 1.5-.8 1.5-.5 1.5 .1 1.5 .1 1.5-.4 1.5-1.2 1.5-1.2 1.5 0 1.5 .6 1.5-.7 1.5-.9 1.5-.3 1.5-.7 1.5-1.1 1.5-.7 1.5-1.2 1.5-2.1 1.5-1.5 1.5-.9 1.5-1.5 1.5-1.5 1.5-.4 1.5-.3 1.5-1 1.5-1.1 1.5-.8 1.5-.4 1.5-.2 1.5-.2 1.5-1.2 1.5-2 1.5-2 1.5-1.5 1.5 .1 1.5 .5 1.5 .1 1.5 0 1.5-1.1 1.5-1.4 1.5-.5 1.5-.3 1.5-1.1 1.5-1.3 1.5-1 1.5-1.2 1.5-.6 1.5 .5 1.5-.5 1.5-1.6 1.5-1.4 1.5 .1 1.5 2.2 1.5 2.5 1.5 1.7 1.5 1.2 1.5 .4 1.5 .5 1.5 .9 1.5 .5 1.5 .4 1.5 1 1.5 1.2 1.5 .6 1.5 .3 1.5 .6 1.5 1.1 1.5 1.3 1.5 .8 1.5-.5 1.5-1.4 1.5-1.8 1.5-2.3 1.5-1.8 1.5 .1 1.5 .1 1.5 .2 1.5 .6 1.5 1.2 1.5 1.2 1.5 .8 1.5 .4 1.5-.4 1.5-.2 1.5 1.3 1.5 2.2 1.5 1.5 1.5 .4 1.5-.1 1.5 .9 1.5 1.5 1.5 1 1.5 .7 1.5 1.4 1.5 1 1.5 .2 1.5-.3 1.5-.3 1.5 .2 1.5 1 1.5 1.2 1.5 1.4 1.5 1.5 1.5 2.2 1.5 1.8 1.5 .5 1.5-.6 1.5-.7 1.5 .3 1.5 .6 1.5 .6 1.5 .6 1.5 .2 1.5-.6 1.5-.3 1.5 .6 1.5 .8 1.5 .9 1.5-.7 1.5-2.2 1.5-2.1 1.5-1.2 1.5-.6 1.5-.2 1.5-.7 1.5-.7 1.5 .7 1.5 .4 1.5-.8 1.5-1.2 1.5-2.1 1.5-1.4 1.5-.6 1.5-.4 1.5-.1 1.5-.8 1.5-2.1 1.5-1.4 1.5-.3 1.5-.1 1.5 0 1.5-.3 1.5-.4 1.5-.2 1.5-.4 1.5-1.5 1.5-1.6 1.5-.6 1.5 .3 1.5 .4 1.5-1.2 1.5-1.7 1.5-.5 1.5 .3 1.5 1 1.5 1.4 1.5 .7 1.5-.1 1.5-.2 1.5 .2 1.5 0 1.5 .2 1.5 .5 1.5-.1 1.5-1.2 1.5-.1 1.5 1.1 1.5 1.1 1.5 0 1.5-.9 1.5-.5 1.5 .2 1.5-.1 1.5 .2 1.5 .7 1.5 .7 1.5 .5 1.5 .4 1.5 .1 1.5-.6 1.5-.9 1.5 .1 1.5 .4 1.5 0 1.5-.2 1.5 .4 1.5 .9 1.5 1 1.5 .9 1.5 .6 1.5 .8 1.5 1.4 1.5 .6 1.5 .8 1.5 1.3 1.5 1.6 1.5 1.4 1.5-.1 1.5-.7 1.5 .4 1.5 .9 1.5 .1 1.5-.4 1.5 0 1.5 .4 1.5 0 1.5-.3 1.5 .9 1.5 1.2 1.5 .4 1.5 .1 1.5-.3 1.5-.9 1.5-.1 1.5 1.1 1.5 .9 1.5 .3 1.5-.1 1.5 .4 1.5 .4 1.5 .8 1.5 .4 1.5-.3 1.5 0 1.5 1 1.5 1.1 1.5 .3 1.5 0 1.5 .4 1.5 0 1.5-.4 1.5 .8 1.5 2 1.5 .8 1.5-.4 1.5 .2 1.5 .5 1.5-.8 1.5-1.1 1.5 .2 1.5 .8 1.5 .6 1.5 .3 1.5 .4 1.5 .2 1.5 0 1.5 1 1.5 .6 1.5-.1 1.5-.1 1.5 .3 1.5 1 1.5 .8 1.5-.1 1.5-.1 1.5 .7 1.5 1.1 1.5 1.1 1.5 1 1.5 .5 1.5 1.4 1.5 3.2 1.5 2.7 1.5 1.7 1.5 1 1.5 1.1 1.5 2.2 1.5 2.4 1.5 2.2 1.5 3 1.5 3.4 1.5 3.5 1.5 3.3 1.5 2.7 1.5 2.9 1.5 3.6 1.5 3.3 1.5 2.4 1.5 2.9 1.5 3.7 1.5 3.3 1.5 2.8 1.5 2.4 1.5 2.1 1.5 2.6 1.5 3 1.5 3.4 1.5 2.5 1.5 2.9 1.5 4.4 1.5 5.5 1.5 4.8 1.5 8.6 1.5 11.4 1.5 7.6 1.5-.1 1.5-4.8 1.5-4.7 1.5-4.8 1.5-5.6 1.5-7.5 1.9-23.3 .8-23.7 .7-24.5 .6-23.2 .5-20.5"/>
<path class="ld" stroke-opacity="0.40" d="M717.2 660.7l1.5 31.5 1.5 23.3 1.5 21 1.5 11.6 1.5 5.6 1.5 3.8 1.5 1.4 1.5 .7 1.5-.2 1.5-3.5 1.5-4.4 1.5-6.7 1.5-7.2 1.5-5.3 1.5-3.6 1.5-2.6 1.5-2.7 1.5-2.2 1.5-2 1.5-1.3 1.5-1 1.5-1.4 1.5-2.2 1.5-1.9 1.5-12.8 1.5-1 1.5-1.5 1.5-2.9 1.5-2.4 1.5-1.6 1.5-1.3 1.5-1.9 1.5-2.4 1.5-1.6 1.5-1.1 1.5-2.8 1.5-3.2 1.5-2.4 1.5-2.2 1.5-2.4 1.5-2.3 1.5-3.1 1.5-3 1.5-1.9 1.5-1.4 1.5-1.1 1.5-.9 1.5-1.4 1.5-2.4 1.5-2.8 1.5-2.3 1.5-1.4 1.5-.8 1.5-1.2 1.5-2.4 1.5-2.4 1.5-.3 1.5-.7 1.5-.7 1.5-.1 1.5-.2 1.5-.6 1.5-.7 1.5-.9 1.5-.8 1.5-.7 1.5-1.2 1.5-.4 1.5 .1 1.5-.2 1.5-.7 1.5-.7 1.5-1.1 1.5-1.4 1.5-.7 1.5-.2 1.5-.2 1.5-.9 1.5-.8 1.5-.2 1.5-.3 1.5-.5 1.5-.7 1.5-1.1 1.5-.9 1.5-1.2 1.5-1.2 1.5-.8 1.5-1.2 1.5-1.2 1.5-1.6 1.5-1.6 1.5-.7 1.5-.5 1.5-1.1 1.5-1.2 1.5-1 1.5-1.2 1.5-1.4 1.5-1.4 1.5-.9 1.5-.8 1.5-.7 1.5-.4 1.5 .3 1.5-.2 1.5-1 1.5-.4 1.5-.9 1.5-1 1.5-.8 1.5-1.1 1.5-.6 1.5-.2 1.5-.1 1.5-.3 1.5-1.2 1.5-1.3 1.5-.6 1.5 0 1.5 0 1.5 1.3 1.5 2.4 1.5 1.9 1.5 .9 1.5 .7 1.5 .9 1.5 .8 1.5 .8 1.5 1 1.5 .7 1.5 1 1.5 1.1 1.5 .8 1.5 .7 1.5 1 1.5 .8 1.5-.9 1.5-1.8 1.5-1.5 1.5-1.5 1.5-1.6 1.5 .6 1.5 1.4 1.5 .8 1.5 .6 1.5 .6 1.5 1.3 1.5 1.4 1.5 .5 1.5 .1 1.5 .3 1.5 .9 1.5 1.8 1.5 1.5 1.5 .7 1.5 .5 1.5 .3 1.5 .1 1.5 .4 1.5 .7 1.5 .2 1.5 1.2 1.5 2 1.5 1.1 1.5 .3 1.5 .3 1.5 .2 1.5 1.1 1.5 1.6 1.5 1.8 1.5 1.8 1.5 .9 1.5 .2 1.5 .4 1.5 .3 1.5-.8 1.5-1 1.5-.6 1.5-.4 1.5-.6 1.5-.6 1.5 .7 1.5 1.9 1.5 .8 1.5-1.1 1.5-2.6 1.5-1.5 1.5-.2 1.5-.6 1.5-1.7 1.5-1.4 1.5 0 1.5 0 1.5-.8 1.5-.3 1.5-.2 1.5-1.3 1.5-1.9 1.5-1.6 1.5-.9 1.5-.1 1.5-.3 1.5-1.1 1.5-1.1 1.5-1.2 1.5-1.4 1.5-.3 1.5-.1 1.5-.9 1.5-.7 1.5 .1 1.5 0 1.5-.6 1.5-.6 1.5-.1 1.5-.3 1.5-.4 1.5-1.1 1.5-.9 1.5-.3 1.5 .3 1.5 .2 1.5 .2 1.5 .4 1.5 .9 1.5 .2 1.5-.7 1.5-.2 1.5 .4 1.5 .1 1.5-.1 1.5 1 1.5 1.1 1.5 .1 1.5-.4 1.5-.4 1.5-.4 1.5-.7 1.5 .5 1.5 .8 1.5-.2 1.5 .1 1.5 .6 1.5-.1 1.5-.2 1.5 .3 1.5 .2 1.5-.6 1.5-.4 1.5 .7 1.5 1.1 1.5 1.7 1.5 1.8 1.5 .2 1.5-.9 1.5 0 1.5 1.4 1.5 1.1 1.5 1.5 1.5 1.9 1.5 1.8 1.5 1.8 1.5 1.5 1.5-.1 1.5-.4 1.5-.2 1.5 0 1.5 .5 1.5 .8 1.5 0 1.5-.1 1.5 .8 1.5 .8 1.5 0 1.5-.3 1.5 0 1.5 .5 1.5 .7 1.5 .3 1.5-.1 1.5-.2 1.5-.2 1.5 0 1.5 .5 1.5 .1 1.5-.5 1.5-.4 1.5 .7 1.5 1.8 1.5 1.4 1.5-.1 1.5-.6 1.5-.3 1.5 .2 1.5 .4 1.5 .3 1.5 0 1.5-.3 1.5-.1 1.5 .6 1.5 1 1.5 .1 1.5-.8 1.5-.6 1.5 .3 1.5 .7 1.5 .2 1.5 .4 1.5 .7 1.5-.4 1.5-1.3 1.5 .2 1.5 .5 1.5-.7 1.5-.7 1.5 .4 1.5 1.1 1.5 .9 1.5 .6 1.5 .7 1.5 .6 1.5 0 1.5 .4 1.5 0 1.5-.1 1.5 1.1 1.5 1.8 1.5 2.6 1.5 2.4 1.5 1.3 1.5 1.4 1.5 1.7 1.5 2.3 1.5 2.7 1.5 2.1 1.5 2.1 1.5 3.1 1.5 3.3 1.5 3.4 1.5 3.9 1.5 3.8 1.5 3.4 1.5 3.2 1.5 3.2 1.5 3.4 1.5 3 1.5 3.4 1.5 3.8 1.5 2.6 1.5 2 1.5 1.9 1.5 2 1.5 2.8 1.5 4.4 1.5 4.3 1.5 4.4 1.5 4.9 1.5 4.2 1.5 3.8 1.5 8.6 1.5 12.3 1.5 8.1 1.5 .6 1.5-3.4 1.5-4.4 1.5-4.8 1.5-5.1 1.5-7.4 1.9-23.7 .8-24.5 .7-25.5 .6-24 .5-21.3"/>
<path class="ld" stroke-opacity="0.40" d="M717.2 688.9l1.5 22.1 1.5 16.3 1.5 14.7 1.5 9.7 1.5 5.3 1.5 4.7 1.5 2.6 1.5 1.8 1.5-.2 1.5-4.6 1.5-6.3 1.5-7.5 1.5-7 1.5-5.3 1.5-2.9 1.5-1.7 1.5-3.1 1.5-2.9 1.5-1.3 1.5-1 1.5-2 1.5-2.6 1.5-2.7 1.5-2.3 1.5-13.2 1.5-1 1.5-2.3 1.5-2.2 1.5-1.6 1.5-2.2 1.5-2.5 1.5-1.3 1.5-1.7 1.5-2.8 1.5-2.7 1.5-2 1.5-1.8 1.5-2.1 1.5-2.8 1.5-2.6 1.5-1.5 1.5-1.9 1.5-3.1 1.5-2.9 1.5-1.8 1.5-1.7 1.5-2.1 1.5-2.5 1.5-2.1 1.5-1.5 1.5-1.6 1.5-1.8 1.5-1.8 1.5-2.4 1.5-2.9 1.5-1.8 1.5 .1 1.5 .4 1.5-1.1 1.5-1.8 1.5-.2 1.5 .6 1.5-.1 1.5-1.2 1.5-.7 1.5-.4 1.5-1.6 1.5-2 1.5-1.1 1.5 0 1.5 .4 1.5-.2 1.5-.7 1.5-.9 1.5-1.3 1.5-.9 1.5-.1 1.5-.4 1.5-1.1 1.5-.4 1.5 0 1.5-.5 1.5-.8 1.5-1.1 1.5-1 1.5-1.2 1.5-1.9 1.5-1.6 1.5-1.1 1.5-.6 1.5-.7 1.5-.9 1.5-.8 1.5-1.2 1.5-.1 1.5 .1 1.5-.2 1.5-.5 1.5-1.3 1.5-1.2 1.5-1.1 1.5-1.6 1.5-1.3 1.5-.2 1.5 .3 1.5-.1 1.5-.5 1.5-.9 1.5-.9 1.5-.1 1.5 .1 1.5-.4 1.5-.5 1.5-1 1.5-.9 1.5 .3 1.5 .1 1.5-1.5 1.5-1.7 1.5-.4 1.5 2 1.5 2.3 1.5 1.3 1.5 1.4 1.5 1.2 1.5 .9 1.5 1 1.5 .9 1.5 .9 1.5 .5 1.5 .2 1.5 .3 1.5 .7 1.5 .9 1.5 1.3 1.5 .7 1.5 .2 1.5-1 1.5-1.7 1.5-1.4 1.5-2.1 1.5-2.1 1.5-.3 1.5 .1 1.5-.1 1.5 .2 1.5 1.3 1.5 1.2 1.5 .9 1.5 .9 1.5 .6 1.5-.3 1.5-.6 1.5-.2 1.5 .4 1.5 1.2 1.5 2 1.5 1.6 1.5 .7 1.5 .3 1.5 .3 1.5 0 1.5-.1 1.5 .9 1.5 1.4 1.5 .3 1.5-.4 1.5-.2 1.5 .4 1.5 1.6 1.5 2.3 1.5 2.2 1.5 2.2 1.5 .8 1.5-.6 1.5-.5 1.5 .5 1.5 .7 1.5-.5 1.5-.4 1.5 .2 1.5-.3 1.5-.8 1.5-.9 1.5-.7 1.5-.1 1.5-1 1.5-1.4 1.5-.2 1.5 .5 1.5-.3 1.5-.8 1.5-1.5 1.5-1.3 1.5-.3 1.5-.3 1.5-.7 1.5-.6 1.5-1.2 1.5-1.5 1.5-1.2 1.5-.8 1.5-1 1.5-.6 1.5 .2 1.5 .1 1.5-.2 1.5-1 1.5-1.2 1.5-.4 1.5-.6 1.5-.4 1.5 .2 1.5 .1 1.5-.1 1.5-.9 1.5-.9 1.5-.6 1.5-.3 1.5 .2 1.5 .2 1.5 .1 1.5 .6 1.5 .2 1.5-.7 1.5 .2 1.5 .6 1.5 .4 1.5 1 1.5 .9 1.5 .5 1.5 .2 1.5 .5 1.5 .3 1.5-.6 1.5-.4 1.5 .8 1.5 .6 1.5 0 1.5 .6 1.5 .1 1.5-.8 1.5 0 1.5 1 1.5 .1 1.5-.6 1.5 .3 1.5 1.2 1.5 1.2 1.5 .3 1.5-1 1.5-.8 1.5 .8 1.5 1.2 1.5 .7 1.5 .6 1.5 1.2 1.5 1.1 1.5 0 1.5 .3 1.5 1.4 1.5 1.6 1.5 .9 1.5 .8 1.5 1.4 1.5 1.9 1.5 1.1 1.5-.3 1.5-.5 1.5-.7 1.5-.5 1.5 .9 1.5 1.2 1.5 .4 1.5-.3 1.5-.2 1.5 .3 1.5 .6 1.5 .7 1.5 .8 1.5-.2 1.5-1.1 1.5-.5 1.5 .1 1.5 .8 1.5 .7 1.5 .4 1.5 .6 1.5 .5 1.5 .4 1.5-.2 1.5-.5 1.5-.2 1.5 .2 1.5 .5 1.5 .5 1.5-.2 1.5-.5 1.5 .3 1.5 .6 1.5 .8 1.5 .7 1.5 .1 1.5-.3 1.5 0 1.5-.4 1.5-.3 1.5 .6 1.5 .7 1.5 .6 1.5 1 1.5 .4 1.5-.1 1.5 .3 1.5 .8 1.5-.1 1.5-1.1 1.5-.5 1.5 .1 1.5 0 1.5 1.3 1.5 1.6 1.5 .6 1.5 .1 1.5 .2 1.5 .5 1.5 1.6 1.5 2.8 1.5 2.4 1.5 1.4 1.5 1.2 1.5 1.7 1.5 1.8 1.5 2.1 1.5 2.5 1.5 1.9 1.5 2.2 1.5 3.4 1.5 3.2 1.5 3.3 1.5 3.8 1.5 3.8 1.5 4.4 1.5 4.3 1.5 3.1 1.5 2.9 1.5 3.2 1.5 2.4 1.5 1.8 1.5 1.8 1.5 2.8 1.5 2.8 1.5 2.5 1.5 2.7 1.5 3.8 1.5 4 1.5 3.9 1.5 4.6 1.5 4.3 1.5 3.6 1.5 8.4 1.5 12.2 1.5 8 1.5-.3 1.5-4.5 1.5-4.8 1.5-5.5 1.5-5.7 1.5-6.3 1.9-29.4 .8-36.8 .7-38.2 .6-36 .5-32"/>
<path class="ld" stroke-opacity="0.40" d="M717.2 657l1.5 33.7 1.5 24.9 1.5 22.4 1.5 11.7 1.5 5.2 1.5 4.2 1.5 2.6 1.5 2.2 1.5-.9 1.5-5.2 1.5-5.7 1.5-6.5 1.5-5.7 1.5-4.6 1.5-3.3 1.5-2.3 1.5-2.3 1.5-1.5 1.5-2 1.5-1.5 1.5-1 1.5-1.2 1.5-1.6 1.5-2.3 1.5-15.6 1.5-1 1.5-.8 1.5-2.1 1.5-2.4 1.5-1.8 1.5-1.5 1.5-1 1.5-.8 1.5-2 1.5-2.8 1.5-2.9 1.5-2.6 1.5-2.3 1.5-2.2 1.5-1.9 1.5-2.1 1.5-2 1.5-1.8 1.5-2.3 1.5-2.5 1.5-2.6 1.5-2.1 1.5-1.8 1.5-1.6 1.5-1.3 1.5-1.7 1.5-2 1.5-2.5 1.5-2.8 1.5-2.2 1.5-1.5 1.5-.3 1.5-.7 1.5-.7 1.5 0 1.5-.5 1.5-1.3 1.5-1.7 1.5-1.3 1.5-.8 1.5-1 1.5-.8 1.5-.4 1.5-.9 1.5-1.6 1.5-1.8 1.5-1.3 1.5-.4 1.5-.2 1.5-.4 1.5-.5 1.5-.7 1.5-1 1.5 .1 1.5 .4 1.5-1.2 1.5-2.4 1.5-1.4 1.5 0 1.5-.6 1.5-1 1.5-.2 1.5-.9 1.5-2.1 1.5-1.5 1.5-.4 1.5-.4 1.5-.8 1.5-1 1.5-.9 1.5-.9 1.5-1.5 1.5-1.8 1.5-.5 1.5-.1 1.5-1 1.5-2 1.5-1 1.5-.2 1.5 .1 1.5-.2 1.5-.7 1.5-.6 1.5-1 1.5-1.2 1.5-.3 1.5 .1 1.5 .2 1.5-.4 1.5-1.4 1.5-1 1.5-.4 1.5-.2 1.5 .3 1.5-.5 1.5-.6 1.5 .5 1.5 1.1 1.5 1.9 1.5 1.6 1.5 .7 1.5 .7 1.5 .4 1.5 .5 1.5 .6 1.5 1.1 1.5 1.3 1.5 1 1.5 1 1.5 .7 1.5 .7 1.5 .4 1.5-.8 1.5-1.5 1.5-2.2 1.5-2.9 1.5-1.6 1.5 1.1 1.5 1.1 1.5 .2 1.5 .1 1.5 .1 1.5 1 1.5 .9 1.5 .1 1.5 .2 1.5 .3 1.5 .3 1.5 1.4 1.5 1.3 1.5 .9 1.5 .6 1.5 .7 1.5 1 1.5 .6 1.5 .3 1.5 .9 1.5 1.8 1.5 1.3 1.5-.4 1.5-.2 1.5 1.2 1.5 .5 1.5 .6 1.5 1.2 1.5 1.3 1.5 2.2 1.5 2.6 1.5 .8 1.5-.2 1.5 .4 1.5-.1 1.5-.8 1.5-.5 1.5-.7 1.5-.5 1.5 .5 1.5 .7 1.5 .3 1.5 .3 1.5-.1 1.5-1.2 1.5-1.4 1.5-1 1.5-1.4 1.5-1.4 1.5-.1 1.5 .6 1.5 0 1.5-.4 1.5-.1 1.5-.5 1.5-1.8 1.5-2.1 1.5-1.2 1.5-.6 1.5-.8 1.5-1.3 1.5 0 1.5 .5 1.5-1.3 1.5-2.2 1.5-1 1.5 .4 1.5 1 1.5 .3 1.5-.7 1.5-1.4 1.5-1.3 1.5-.6 1.5-.4 1.5-.7 1.5-.7 1.5-1.3 1.5-.6 1.5 .6 1.5 1.2 1.5 .9 1.5 .9 1.5 .2 1.5-.6 1.5 .3 1.5 1 1.5 .3 1.5 .9 1.5 1.1 1.5 .1 1.5 .1 1.5-.1 1.5-.1 1.5 .6 1.5 1 1.5 .6 1.5-.3 1.5-.5 1.5 .1 1.5 .7 1.5 .5 1.5 .4 1.5 .3 1.5 .3 1.5 .5 1.5 .6 1.5-.2 1.5-1.7 1.5-1.1 1.5 .7 1.5 1.4 1.5 .5 1.5 .6 1.5 .8 1.5 .7 1.5 1.2 1.5 1.1 1.5 .9 1.5 1.4 1.5 1.9 1.5 1.1 1.5 .6 1.5 .6 1.5 1 1.5 1 1.5-.2 1.5-.5 1.5-.4 1.5-.2 1.5 .5 1.5 1.1 1.5 .4 1.5-.5 1.5-.1 1.5-.3 1.5-.8 1.5-.3 1.5 .2 1.5-.1 1.5-.6 1.5 0 1.5 .7 1.5 .2 1.5-.2 1.5-.3 1.5-.8 1.5-.1 1.5 .4 1.5-.1 1.5 .1 1.5 .6 1.5 .3 1.5 .5 1.5 .6 1.5-.6 1.5-.3 1.5 .3 1.5 0 1.5 .4 1.5 .8 1.5 .5 1.5 .4 1.5 .1 1.5 .1 1.5 .5 1.5 .4 1.5-.1 1.5-.7 1.5-.8 1.5-.1 1.5 1.2 1.5 1.1 1.5 .2 1.5-.4 1.5-.3 1.5 .2 1.5 .4 1.5 1.6 1.5 1.5 1.5 .1 1.5 .4 1.5 1 1.5 .5 1.5 .5 1.5 1.1 1.5 2 1.5 2.3 1.5 1.6 1.5 2.2 1.5 2.3 1.5 1.6 1.5 1.4 1.5 1.4 1.5 1.6 1.5 2.5 1.5 3.3 1.5 3.7 1.5 3.5 1.5 3 1.5 2.8 1.5 3.6 1.5 3.4 1.5 3.3 1.5 3.4 1.5 3.5 1.5 3.3 1.5 2.4 1.5 2 1.5 2.5 1.5 3.1 1.5 2.8 1.5 2.3 1.5 3.1 1.5 4.2 1.5 5.1 1.5 4.5 1.5 4.1 1.5 4.9 1.5 9.4 1.5 12.3 1.5 8.4 1.5-.1 1.5-5.2 1.5-5.7 1.5-5.5 1.5-4.7 1.5-5.7 1.9-25.7 .8-29.5 .7-30.6 .6-28.9 .5-25.7"/>
<path class="ld" stroke-opacity="0.40" d="M717.2 652.7l1.5 35.1 1.5 25.9 1.5 23.4 1.5 12.3 1.5 6.9 1.5 4.6 1.5 1.5 1.5 2 1.5 .8 1.5-3.7 1.5-5.6 1.5-7.4 1.5-7.1 1.5-5.4 1.5-3.6 1.5-2.3 1.5-2.4 1.5-1.5 1.5-1.5 1.5-1.6 1.5-.6 1.5-.7 1.5-1.7 1.5-1.4 1.5-14.8 1.5-2.6 1.5-2.9 1.5-2 1.5-1.7 1.5-1.8 1.5-1.8 1.5-1.5 1.5-1.5 1.5-1.7 1.5-2.3 1.5-2.7 1.5-2.7 1.5-2.2 1.5-2 1.5-2.2 1.5-2.4 1.5-2.5 1.5-2.4 1.5-1.8 1.5-1.9 1.5-2.6 1.5-2.1 1.5-1.2 1.5-1.8 1.5-1.9 1.5-.9 1.5-2 1.5-3.6 1.5-3 1.5-1.7 1.5-1.5 1.5-1.5 1.5-1.5 1.5-.8 1.5-.4 1.5-.3 1.5-1 1.5-.9 1.5-.4 1.5-.8 1.5-1.2 1.5-1 1.5-.5 1.5 0 1.5-.1 1.5-.6 1.5-.9 1.5-1.5 1.5-1.1 1.5-1.3 1.5-1.5 1.5-.6 1.5 0 1.5-.3 1.5-.6 1.5-.4 1.5-.7 1.5-1.3 1.5-.9 1.5-.6 1.5-.9 1.5-1.8 1.5-1.6 1.5-1.3 1.5-1.1 1.5-.4 1.5-.2 1.5-1 1.5-1.6 1.5-1 1.5-.8 1.5-1.1 1.5-1.3 1.5-1.4 1.5-1.2 1.5-1.2 1.5-.8 1.5-.2 1.5 0 1.5-.5 1.5-.6 1.5-.6 1.5-.4 1.5-.4 1.5-.6 1.5-.9 1.5-.5 1.5-.4 1.5-.2 1.5-.6 1.5-1.2 1.5-1.2 1.5-1.5 1.5-1.6 1.5-.5 1.5 1.3 1.5 2.1 1.5 2.2 1.5 2 1.5 .9 1.5 .4 1.5 .3 1.5 .5 1.5 1.2 1.5 1.3 1.5 .8 1.5 .6 1.5 .8 1.5 .4 1.5 .5 1.5 1.1 1.5 1 1.5-.1 1.5-1.9 1.5-2.4 1.5-2.3 1.5-2 1.5 .7 1.5 1.2 1.5 .1 1.5-.3 1.5 .6 1.5 2 1.5 2.2 1.5 .6 1.5-.1 1.5 .6 1.5 1.1 1.5 1.6 1.5 1.3 1.5 .8 1.5 .6 1.5 .6 1.5 .6 1.5 .6 1.5 .6 1.5 .7 1.5 .9 1.5 .7 1.5 .5 1.5 .4 1.5 .1 1.5 .4 1.5 1.2 1.5 1.7 1.5 1.2 1.5 1.6 1.5 2.7 1.5 1.6 1.5 .2 1.5-.7 1.5-1.4 1.5-.7 1.5-.5 1.5-.2 1.5 .3 1.5 .3 1.5 .4 1.5-.1 1.5-.8 1.5-.6 1.5-1.9 1.5-2.2 1.5-1.1 1.5-.1 1.5 .3 1.5-.3 1.5-.8 1.5-.8 1.5-.9 1.5-.9 1.5-1.7 1.5-2 1.5-1.3 1.5-.3 1.5 .1 1.5-.3 1.5-.8 1.5-.6 1.5-.7 1.5-1.6 1.5-1.7 1.5-.8 1.5 .1 1.5 .2 1.5-.7 1.5-1.6 1.5-1.2 1.5-.5 1.5 .3 1.5 .4 1.5-.1 1.5-.3 1.5-.4 1.5-.5 1.5-.1 1.5 0 1.5-.6 1.5-.7 1.5 .5 1.5 .9 1.5 .8 1.5 .7 1.5 .1 1.5-.4 1.5-.1 1.5 .8 1.5 1.4 1.5 .7 1.5 .3 1.5 0 1.5 .1 1.5 .5 1.5 .7 1.5 .7 1.5 .7 1.5 .2 1.5-.4 1.5 .5 1.5 1.3 1.5 .8 1.5-.1 1.5-.9 1.5-.7 1.5 .5 1.5 1.1 1.5 .2 1.5-.3 1.5-.5 1.5 .5 1.5 1.3 1.5 1.5 1.5 1.2 1.5 0 1.5 .3 1.5 1.1 1.5 1.3 1.5 1.3 1.5 1.2 1.5 .6 1.5 .4 1.5 .7 1.5 .9 1.5 .4 1.5-.7 1.5-.6 1.5 .1 1.5 .4 1.5 .3 1.5-.5 1.5-.7 1.5 .1 1.5 .8 1.5 .9 1.5 .1 1.5-.8 1.5-.9 1.5-.5 1.5 .2 1.5 .3 1.5 .1 1.5 .2 1.5 .5 1.5 0 1.5-.2 1.5-.1 1.5 .1 1.5-.1 1.5 .4 1.5 .7 1.5 1.1 1.5 .9 1.5 .3 1.5 .2 1.5 .1 1.5 0 1.5-.2 1.5-.2 1.5 .8 1.5 1.7 1.5 .8 1.5-.7 1.5-1.5 1.5-.6 1.5 1 1.5 1.4 1.5 .9 1.5-.1 1.5 0 1.5 .4 1.5 .7 1.5 .6 1.5 .3 1.5-.4 1.5-.3 1.5 .6 1.5 1 1.5 .9 1.5 .3 1.5 .8 1.5 1.6 1.5 2 1.5 2.3 1.5 2.1 1.5 2.1 1.5 2.3 1.5 2.7 1.5 2.2 1.5 1.3 1.5 1.6 1.5 2.3 1.5 3 1.5 3.3 1.5 2.5 1.5 2.6 1.5 3.7 1.5 3.9 1.5 3.2 1.5 3.2 1.5 3.6 1.5 3.2 1.5 3.1 1.5 3.5 1.5 2.9 1.5 2.4 1.5 2.2 1.5 1.9 1.5 2.5 1.5 2.5 1.5 3.3 1.5 3.6 1.5 3.9 1.5 4.3 1.5 4.1 1.5 4.2 1.5 9.6 1.5 13.6 1.5 9.2 1.5-.3 1.5-4.8 1.5-5.1 1.5-5.6 1.5-5.5 1.5-6.4 1.9-24.6 .8-27.1 .7-28.3 .6-26.6 .5-23.6"/>
<path class="ld" stroke-opacity="0.40" d="M717.2 659.6l1.5 30.2 1.5 22.5 1.5 20.1 1.5 11.9 1.5 5.6 1.5 4.2 1.5 2.6 1.5 2.1 1.5-.1 1.5-4.2 1.5-5.3 1.5-6 1.5-6.1 1.5-5.2 1.5-3.5 1.5-2.1 1.5-2.7 1.5-2.6 1.5-1.9 1.5-.7 1.5-.2 1.5-.4 1.5-1.4 1.5-2.1 1.5-17.4 1.5-3.1 1.5-1.6 1.5-.9 1.5-1.4 1.5-1.3 1.5-1.7 1.5-2.2 1.5-1.8 1.5-2.5 1.5-3 1.5-2 1.5-1.7 1.5-2 1.5-2.1 1.5-2.4 1.5-2.5 1.5-1.8 1.5-1.1 1.5-1.3 1.5-2.3 1.5-3 1.5-2.5 1.5-1.9 1.5-2 1.5-2.6 1.5-2 1.5-2.4 1.5-3.1 1.5-2.5 1.5-1.1 1.5-.6 1.5-1.2 1.5-1.9 1.5-.9 1.5 .1 1.5 0 1.5-.9 1.5-.6 1.5-.5 1.5-1.4 1.5-.4 1.5 .4 1.5-.6 1.5-1.2 1.5-1.3 1.5-1.1 1.5-.8 1.5-.7 1.5-.6 1.5-.7 1.5-.6 1.5-1.1 1.5-1.1 1.5-.3 1.5-.4 1.5-.5 1.5-.6 1.5-.6 1.5-1.3 1.5-1.9 1.5-.8 1.5 .3 1.5-.5 1.5-1.2 1.5-.9 1.5-1 1.5-1.6 1.5-1.5 1.5-.6 1.5-.4 1.5-1.2 1.5-1.3 1.5-.8 1.5-.5 1.5-.2 1.5-1 1.5-1.5 1.5-.1 1.5 .3 1.5-.2 1.5-.5 1.5-.4 1.5-.2 1.5-.7 1.5-.6 1.5-.4 1.5-1 1.5-1 1.5 .1 1.5 .3 1.5-.8 1.5-1.6 1.5-1.8 1.5-1.1 1.5-.4 1.5 1 1.5 1.5 1.5 1.2 1.5 2 1.5 2.2 1.5 1.5 1.5 .6 1.5 .2 1.5 0 1.5 0 1.5 .5 1.5 1 1.5 1.2 1.5 .8 1.5-.1 1.5-.1 1.5 .7 1.5 .4 1.5-1 1.5-1.9 1.5-2.5 1.5-2.7 1.5 .2 1.5 1.1 1.5 .8 1.5 .2 1.5 0 1.5 .4 1.5 .5 1.5 .3 1.5 0 1.5 .2 1.5 .5 1.5 .9 1.5 1.1 1.5 1.7 1.5 1.7 1.5 1.5 1.5 .6 1.5 0 1.5 .5 1.5 .7 1.5 .5 1.5 .7 1.5 .2 1.5 .2 1.5 .7 1.5 .3 1.5 1.3 1.5 1.9 1.5 1.5 1.5 1.4 1.5 2.1 1.5 .9 1.5-.7 1.5-.1 1.5 .2 1.5-.2 1.5 0 1.5-.5 1.5-.1 1.5 .4 1.5 .3 1.5-.1 1.5-.1 1.5-.2 1.5-1.7 1.5-1.6 1.5-.3 1.5-.7 1.5-1.5 1.5-1.3 1.5-1.2 1.5-1.1 1.5-.4 1.5-.4 1.5-.9 1.5-1.1 1.5-.7 1.5 .2 1.5 .1 1.5-1.1 1.5-1.6 1.5-1.9 1.5-.8 1.5 .4 1.5 0 1.5-.8 1.5-1.5 1.5-1 1.5-.5 1.5-.5 1.5-.3 1.5 .1 1.5-.1 1.5-.7 1.5-1 1.5-.5 1.5 .2 1.5-.1 1.5-.2 1.5 .5 1.5 .6 1.5 .4 1.5 .1 1.5 .4 1.5 1 1.5 .9 1.5 .4 1.5 .1 1.5 0 1.5-.2 1.5 .2 1.5 1.1 1.5 1.1 1.5 .5 1.5 .4 1.5 .8 1.5 .7 1.5 .6 1.5-.1 1.5-.4 1.5 .1 1.5 .4 1.5 .4 1.5 .1 1.5-.3 1.5-.1 1.5 .3 1.5 .6 1.5-.1 1.5-.3 1.5 0 1.5 .6 1.5 1 1.5 .8 1.5 .9 1.5 .4 1.5-.4 1.5 .5 1.5 1.5 1.5 2.2 1.5 2.5 1.5 1.2 1.5-.6 1.5-1.1 1.5-.2 1.5 0 1.5 .1 1.5 .5 1.5 .5 1.5 1 1.5 .3 1.5-.7 1.5-.4 1.5-.3 1.5-.2 1.5-.1 1.5-.1 1.5 .6 1.5 .4 1.5-.5 1.5-.6 1.5-.3 1.5 .1 1.5 .7 1.5 1 1.5 .6 1.5 0 1.5-.2 1.5-.3 1.5 0 1.5 .5 1.5 .6 1.5 .1 1.5-.5 1.5-.1 1.5 .5 1.5 .2 1.5-.1 1.5 .4 1.5 .5 1.5 .2 1.5 .1 1.5 .6 1.5 .6 1.5 .3 1.5 .3 1.5 .3 1.5-.1 1.5-.2 1.5 .5 1.5 .8 1.5 .1 1.5-1 1.5-.3 1.5 .4 1.5 .9 1.5 1.1 1.5 1 1.5 .8 1.5 1.1 1.5 1.3 1.5 1.1 1.5 1.5 1.5 1.7 1.5 1.7 1.5 1.5 1.5 1.5 1.5 2 1.5 2.2 1.5 2.4 1.5 2 1.5 1.1 1.5 1.1 1.5 1.7 1.5 2.8 1.5 4 1.5 4 1.5 3.4 1.5 3.3 1.5 3.4 1.5 3.1 1.5 3.4 1.5 3.7 1.5 3.4 1.5 3.6 1.5 3.4 1.5 3 1.5 2.6 1.5 2.1 1.5 2 1.5 2.7 1.5 2.7 1.5 3.7 1.5 3.9 1.5 3.5 1.5 3.2 1.5 3.1 1.5 3.2 1.5 9.8 1.5 15 1.5 10.3 1.5-.1 1.5-4.5 1.5-4 1.5-4.2 1.5-5.6 1.5-7.5 1.9-28.6 .8-35.1 .7-36.5 .6-34.4 .5-30.6"/>
<path class="ld" stroke-opacity="0.75" d="M717.2 659l1.5 33.8 1.5 25.1 1.5 22.5 1.5 12.1 1.5 6.3 1.5 5.3 1.5 2.8 1.5 2 1.5-.2 1.5-4.7 1.5-5.9 1.5-7.4 1.5-7.6 1.5-5.7 1.5-3.5 1.5-1.9 1.5-2.1 1.5-1.6 1.5-1.4 1.5-1.5 1.5-1.7 1.5-1.8 1.5-1.6 1.5-1.4 1.5-1.3 1.5-1.5 1.5-1.6 1.5-1.7 1.5-1.8 1.5-2 1.5-2.3 1.5-2.4 1.5-2.5 1.5-2.5 1.5-2.3 1.5-2.1 1.5-2.2 1.5-2.3 1.5-2.6 1.5-2.8 1.5-2.9 1.5-2.8 1.5-2.8 1.5-2.5 1.5-2.3 1.5-1.9 1.5-1.5 1.5-1.2 1.5-1.1 1.5-1.2 1.5-1.3 1.5-1.4 1.5-1.3 1.5-1.2 1.5-1.1 1.5-.9 1.5-.8 1.5-.5 1.5-.3 1.5-.4 1.5-.6 1.5-1 1.5-1.2 1.5-.9 1.5-.7 1.5-.5 1.5-.8 1.5-1.2 1.5-1.5 1.5-1.4 1.5-.8 1.5-.3 1.5 .3 1.5 .6 1.5 .7 1.5 .7 1.5 .3 1.5-.1 1.5-.7 1.5-1 1.5-1 1.5-.8 1.5-.8 1.5-.7 1.5-1 1.5-1 1.5-1.2 1.5-1.4 1.5-1.5 1.5-1.6 1.5-1.5 1.5-1.1 1.5-.6 1.5-.3 1.5-.1 1.5-.2 1.5-.6 1.5-1 1.5-1.2 1.5-1.4 1.5-1.4 1.5-1.1 1.5-.7 1.5-.3 1.5 .1 1.5 .1 1.5-.1 1.5-.7 1.5-1.4 1.5-1.9 1.5-2.2 1.5-2.1 1.5-1.7 1.5-1.4 1.5-.8 1.5-.4 1.5 0 1.5 .5 1.5 .7 1.5 .7 1.5 .9 1.5 1.1 1.5 1.4 1.5 1.4 1.5 1.1 1.5 1 1.5 .8 1.5 .6 1.5 .7 1.5 .8 1.5 .8 1.5 .9 1.5 .6 1.5 .5 1.5 .5 1.5 .7 1.5 .8 1.5 .7 1.5 .2 1.5-.4 1.5-.9 1.5-1 1.5-.8 1.5-.2 1.5 .6 1.5 1.4 1.5 2.2 1.5 2.5 1.5 2.2 1.5 1.6 1.5 1.1 1.5 .7 1.5 .4 1.5 .3 1.5 .3 1.5 .4 1.5 1.1 1.5 2 1.5 3.1 1.5 4.3 1.5 5.1 1.5 5.7 1.5 5.9 1.5 5.5 1.5 4.6 1.5 3 1.5 1.1 1.5-1 1.5-2.9 1.5-4.4 1.5-5 1.5-4.7 1.5-3.5 1.5-1.7 1.5 .1 1.5 1.6 1.5 2.4 1.5 2.4 1.5 1.7 1.5 .7 1.5-.1 1.5-.6 1.5-.9 1.5-1.4 1.5-2.3 1.5-3.2 1.5-3.6 1.5-3.3 1.5-2.1 1.5-.7 1.5 .4 1.5 .9 1.5 .6 1.5-.1 1.5-1.1 1.5-1.8 1.5-2.2 1.5-2.1 1.5-1.8 1.5-1.5 1.5-1.4 1.5-1.5 1.5-1.5 1.5-1.5 1.5-1.1 1.5-.9 1.5-.8 1.5-1 1.5-1 1.5-.9 1.5-.7 1.5-.4 1.5-.2 1.5-.2 1.5-.1 1.5 0 1.5 .2 1.5 .2 1.5 .3 1.5 .1 1.5 .1 1.5 .2 1.5 0 1.5-.1 1.5-.2 1.5-.3 1.5-.3 1.5-.4 1.5-.7 1.5-.9 1.5-1.1 1.5-1.1 1.5-.9 1.5-.7 1.5-.4 1.5 0 1.5 .3 1.5 .4 1.5 .2 1.5 .3 1.5 .6 1.5 .9 1.5 1.2 1.5 1.3 1.5 1.1 1.5 .6 1.5 .2 1.5-.1 1.5-.1 1.5 .1 1.5 .7 1.5 1.2 1.5 1.8 1.5 2.3 1.5 2.4 1.5 2.2 1.5 1.6 1.5 .8 1.5 .2 1.5-.3 1.5-.5 1.5-.5 1.5-.2 1.5 .3 1.5 .7 1.5 1.2 1.5 1.5 1.5 1.3 1.5 1.1 1.5 .8 1.5 .5 1.5 .4 1.5 .1 1.5 .1 1.5 0 1.5 0 1.5-.1 1.5-.1 1.5-.1 1.5 .1 1.5-.1 1.5-.1 1.5-.2 1.5-.3 1.5-.5 1.5-.8 1.5-.9 1.5-.5 1.5 0 1.5 .9 1.5 1.3 1.5 1.4 1.5 1.3 1.5 .7 1.5 .3 1.5-.3 1.5-.5 1.5-.5 1.5 0 1.5 .5 1.5 .8 1.5 .6 1.5 .3 1.5 .2 1.5 .2 1.5 .2 1.5 .1 1.5 .2 1.5 .4 1.5 .6 1.5 .8 1.5 .8 1.5 .8 1.5 .9 1.5 1 1.5 .8 1.5 .5 1.5 0 1.5-.3 1.5-.5 1.5-.7 1.5-.7 1.5-.7 1.5-.4 1.5 .1 1.5 .5 1.5 .8 1.5 1 1.5 .9 1.5 .9 1.5 1.1 1.5 1.3 1.5 1.6 1.5 1.9 1.5 2 1.5 2.4 1.5 3.1 1.5 3.8 1.5 4.4 1.5 4.7 1.5 4.8 1.5 4.4 1.5 3.9 1.5 3.4 1.5 2.7 1.5 2.2 1.5 1.8 1.5 1.8 1.5 2.1 1.5 2.4 1.5 2.8 1.5 2.9 1.5 2.9 1.5 2.9 1.5 3.3 1.5 3.9 1.5 4.7 1.5 5.3 1.5 5.7 1.5 6 1.5 5.7 1.5 3.5 1.5-.5 1.5-1.8 1.5-4.5 1.5-4.6 1.5-5.2 1.5-5.5 1.5-6.5 1.9-26.1 .8-30.2 .7-31.5 .6-29.6 .5-26.3"/>
<path class="ld" stroke-opacity="0.60" d="M717.2 667.2l1.5 32.5 1.5 24.1 1.5 21.6 1.5 11.4 1.5 5.5 1.5 4.4 1.5 2.3 1.5 1.7 1.5-.1 1.5-4.2 1.5-5.3 1.5-6.8 1.5-6.9 1.5-5.4 1.5-3.4 1.5-2 1.5-2.1 1.5-1.8 1.5-1.6 1.5-1.8 1.5-1.8 1.5-1.6 1.5-1.6 1.5-1.6 1.5-1.6 1.5-1.5 1.5-1.4 1.5-1.3 1.5-1.3 1.5-1.7 1.5-2.1 1.5-2.7 1.5-2.9 1.5-3 1.5-2.8 1.5-2.7 1.5-2.6 1.5-2.8 1.5-3 1.5-3.2 1.5-3 1.5-2.9 1.5-2.5 1.5-2 1.5-1.5 1.5-.9 1.5-.6 1.5-.6 1.5-.9 1.5-1 1.5-1.3 1.5-1.4 1.5-1.8 1.5-2 1.5-1.9 1.5-1.5 1.5-.9 1.5-.3 1.5 .2 1.5 .5 1.5 .4 1.5 0 1.5-.4 1.5-.8 1.5-1.2 1.5-1.7 1.5-2 1.5-2.2 1.5-2.1 1.5-1.6 1.5-.9 1.5-.2 1.5 .3 1.5 .6 1.5 .9 1.5 1 1.5 .8 1.5 .5 1.5 .2 1.5-.3 1.5-.7 1.5-.7 1.5-.7 1.5-.6 1.5-.7 1.5-1 1.5-1.1 1.5-1.5 1.5-2.1 1.5-2.5 1.5-2.5 1.5-2 1.5-1.2 1.5-.5 1.5-.3 1.5-.4 1.5-.8 1.5-.9 1.5-.9 1.5-1 1.5-1 1.5-.9 1.5-.8 1.5-.7 1.5-.5 1.5-.1 1.5 .1 1.5 .1 1.5-.5 1.5-1.4 1.5-2.2 1.5-2.6 1.5-2.6 1.5-2 1.5-1.4 1.5-.3 1.5 .5 1.5 1.1 1.5 1.6 1.5 1.7 1.5 1.7 1.5 1.3 1.5 .8 1.5 .1 1.5-.1 1.5 .2 1.5 .6 1.5 1.2 1.5 1.3 1.5 1.4 1.5 1.4 1.5 1.1 1.5 .7 1.5 .4 1.5 .1 1.5 .4 1.5 .8 1.5 1 1.5 .6 1.5-.3 1.5-.9 1.5-1 1.5-.6 1.5 .3 1.5 1 1.5 1.7 1.5 2.2 1.5 2.4 1.5 1.9 1.5 1.2 1.5 .4 1.5 .2 1.5 .2 1.5 .5 1.5 .7 1.5 .7 1.5 .7 1.5 .4 1.5 .3 1.5 .4 1.5 .8 1.5 1 1.5 1.4 1.5 1.6 1.5 1.8 1.5 1.6 1.5 1.3 1.5 1 1.5 .3 1.5-.4 1.5-1 1.5-1 1.5-.5 1.5 .2 1.5 .8 1.5 1.2 1.5 1.3 1.5 1.1 1.5 .7 1.5 .3 1.5 .2 1.5 .5 1.5 .7 1.5 .4 1.5-.5 1.5-1.6 1.5-2.3 1.5-2 1.5-1.2 1.5-.2 1.5 .5 1.5 .6 1.5 .4 1.5-.3 1.5-1.2 1.5-2.1 1.5-2.2 1.5-2 1.5-1.5 1.5-1.2 1.5-1.4 1.5-1.6 1.5-1.8 1.5-1.6 1.5-1.1 1.5-.9 1.5-.7 1.5-.8 1.5-.8 1.5-.5 1.5-.2 1.5 .2 1.5 .5 1.5 .4 1.5 .3 1.5 0 1.5-.5 1.5-.7 1.5-.8 1.5-.4 1.5-.1 1.5 .2 1.5 .4 1.5 .5 1.5 .4 1.5 .3 1.5 .1 1.5-.4 1.5-.8 1.5-1.3 1.5-1.7 1.5-1.8 1.5-1.5 1.5-1 1.5-.3 1.5 .3 1.5 .5 1.5 .5 1.5 .3 1.5 0 1.5 0 1.5 .1 1.5 .4 1.5 .7 1.5 1.1 1.5 1.2 1.5 1.1 1.5 .7 1.5 .5 1.5 .6 1.5 .9 1.5 1.3 1.5 1.5 1.5 1.7 1.5 1.6 1.5 1.7 1.5 1.6 1.5 1.2 1.5 .7 1.5 0 1.5-.5 1.5-.7 1.5-.6 1.5-.4 1.5 .1 1.5 .8 1.5 1.5 1.5 1.9 1.5 1.9 1.5 1.6 1.5 1.1 1.5 .5 1.5 0 1.5-.1 1.5-.1 1.5 .1 1.5 .4 1.5 .6 1.5 .5 1.5 .1 1.5-.5 1.5-1 1.5-1 1.5-.8 1.5-.2 1.5 .1 1.5 .2 1.5 .2 1.5 .2 1.5 0 1.5 .1 1.5 0 1.5 .2 1.5 .7 1.5 1 1.5 .9 1.5 .5 1.5-.1 1.5-.2 1.5 .1 1.5 .1 1.5 .1 1.5-.2 1.5-.4 1.5-.5 1.5-.5 1.5-.3 1.5 0 1.5 .2 1.5 .5 1.5 .7 1.5 .8 1.5 1.1 1.5 1.2 1.5 1.1 1.5 1.1 1.5 .9 1.5 .4 1.5-.2 1.5-.7 1.5-.7 1.5-.6 1.5-.2 1.5 .2 1.5 .4 1.5 .8 1.5 1 1.5 1.1 1.5 1.2 1.5 1.4 1.5 1.7 1.5 2.4 1.5 3.2 1.5 4.2 1.5 4.8 1.5 4.9 1.5 4.6 1.5 4.1 1.5 3.7 1.5 3.3 1.5 2.8 1.5 2.8 1.5 3.1 1.5 3.6 1.5 3.7 1.5 3.7 1.5 3.3 1.5 2.7 1.5 2 1.5 1.2 1.5 .5 1.5 .3 1.5 .7 1.5 1.5 1.5 2.5 1.5 3.8 1.5 4.7 1.5 5.5 1.5 5.6 1.5 5.5 1.5 5 1.5 2.9 1.5-.8 1.5-1.7 1.5-4.4 1.5-4.5 1.5-5.6 1.5-6.3 1.5-7.1 1.9-22.3 .8-22.3 .7-23.2 .6-21.9 .5-19.4"/>
<path class="dd" stroke-opacity="0.28" d="M717.2 665l1.5 34.6 1.5 25.6 1.5 23.1 1.5 11.9 1.5 5.4 1.5 4.1 1.5 2.1 1.5 1.7 1.5-.7 1.5-5.4 1.5-5.1 1.5-5.3 1.5-5.9 1.5-5.2 1.5-4.4 1.5-3.1 1.5-1.8 1.5-1.7 1.5-2.8 1.5-2.1 1.5 0 1.5-.2 1.5-2 1.5-1.9 1.5-.3 1.5-.2 1.5-2 1.5-2.5 1.5-1.8 1.5-1.3 1.5-1.9 1.5-2.9 1.5-3.6 1.5-3.2 1.5-2.3 1.5-1.8 1.5-2.1 1.5-3 1.5-3.7 1.5-2.5 1.5-1.2 1.5-1.5 1.5-3.5 1.5-3.7 1.5-1.7 1.5-1.3 1.5-1.9 1.5-1.1 1.5 .2 1.5-1 1.5-1.8 1.5-2.6 1.5-2.3 1.5-.8 1.5-.4 1.5-.4 1.5-.7 1.5-.7 1.5-.3 1.5-.5 1.5-.1 1.5-.2 1.5-.8 1.5 .1 1.5-.2 1.5-1.4 1.5-1.7 1.5-2.1 1.5-1.6 1.5 .1 1.5-.1 1.5-1 1.5-.3 1.5 .9 1.5 1 1.5 .1 1.5-.2 1.5-.6 1.5-.6 1.5 .2 1.5 .2 1.5-1 1.5-1.4 1.5-1 1.5-.3 1.5 .4 1.5 .3 1.5-1.3 1.5-2.5 1.5-1.9 1.5-1.2 1.5-1.4 1.5-.7 1.5-.4 1.5-.4 1.5-.1 1.5 .1 1.5-.6 1.5-1.5 1.5-1.9 1.5-1.4 1.5-.5 1.5 .1 1.5 .1 1.5-.4 1.5-1.1 1.5-1.4 1.5-.9 1.5-1.3 1.5-1.6 1.5-1.2 1.5-1.5 1.5-2.2 1.5-2.2 1.5-1.5 1.5-.8 1.5 .1 1.5 .9 1.5 1.1 1.5 .7 1.5 1.5 1.5 2.1 1.5 .9 1.5 0 1.5 0 1.5 1.2 1.5 1.6 1.5 .7 1.5 .8 1.5 1.3 1.5 .2 1.5 .3 1.5 1.2 1.5 1.3 1.5 1.6 1.5 1.1 1.5-.2 1.5-.8 1.5-1 1.5-1.8 1.5-1.3 1.5-.7 1.5 .4 1.5 2.2 1.5 1.9 1.5-.1 1.5 .1 1.5 1.8 1.5 2.2 1.5 1.6 1.5 1.4 1.5-.2 1.5-.8 1.5 .7 1.5 1.6 1.5 .6 1.5-.6 1.5-.5 1.5-.4 1.5 .4 1.5 1.9 1.5 3.2 1.5 2.4 1.5 .8 1.5 .7 1.5 .8 1.5 0 1.5 .3 1.5 1.1 1.5-.1 1.5-1.4 1.5-.8 1.5-.5 1.5 .3 1.5 .8 1.5 1 1.5 .7 1.5 .7 1.5 1.6 1.5 1.7 1.5 1.3 1.5 1.6 1.5 .9 1.5-1.4 1.5-2 1.5-1.4 1.5-2.5 1.5-3.4 1.5-2.3 1.5-.9 1.5 .7 1.5 1.1 1.5 .3 1.5 .8 1.5 0 1.5-2.1 1.5-3.7 1.5-3.7 1.5-2.3 1.5-.5 1.5-.4 1.5-1.3 1.5-1.1 1.5-1 1.5-.3 1.5 .1 1.5-.2 1.5-.7 1.5-1.5 1.5-1.2 1.5-.8 1.5-.1 1.5 .3 1.5 .4 1.5-.2 1.5 .4 1.5 .9 1.5 .4 1.5-1.2 1.5-1.7 1.5 0 1.5 2.3 1.5 2.5 1.5 .9 1.5-.3 1.5-1.3 1.5-.9 1.5 .1 1.5-.3 1.5-1.4 1.5-1.2 1.5-.7 1.5-1.1 1.5-1.3 1.5-.5 1.5 .6 1.5 1.6 1.5 1.7 1.5 .6 1.5-.3 1.5 .3 1.5 1.1 1.5 .9 1.5 .4 1.5 1.3 1.5 1.6 1.5 .9 1.5-.4 1.5-.9 1.5 0 1.5 1.7 1.5 2.4 1.5 2.4 1.5 1.7 1.5 1.5 1.5 1.5 1.5 .6 1.5 .5 1.5 1 1.5 .7 1.5-.3 1.5-.3 1.5 .2 1.5-.4 1.5 .3 1.5 1.4 1.5 1.2 1.5 .5 1.5 .3 1.5 .3 1.5 0 1.5-.7 1.5 0 1.5 1.4 1.5 .3 1.5 .4 1.5 1.3 1.5 .1 1.5-.9 1.5 .1 1.5-.1 1.5-1.3 1.5-1.5 1.5-1.2 1.5-.2 1.5 .6 1.5 .5 1.5-.5 1.5-.9 1.5 .2 1.5 .9 1.5 1.1 1.5 .4 1.5-1.4 1.5-1.1 1.5 1.6 1.5 1.8 1.5-.1 1.5 0 1.5 1.2 1.5 .9 1.5 .1 1.5 0 1.5 .2 1.5 .5 1.5-.9 1.5-1 1.5 .6 1.5-.4 1.5-.5 1.5 1 1.5 1.3 1.5 .4 1.5 .7 1.5 1.5 1.5 1.4 1.5 .8 1.5 .2 1.5-.1 1.5-.5 1.5-.9 1.5-.8 1.5-.7 1.5-.3 1.5 .2 1.5 .2 1.5 .1 1.5 1.1 1.5 2.1 1.5 1.5 1.5 .3 1.5 0 1.5 1.8 1.5 2.4 1.5 1.6 1.5 1.9 1.5 3.2 1.5 3.1 1.5 3.4 1.5 4.4 1.5 4.2 1.5 3.4 1.5 3.4 1.5 4 1.5 4.5 1.5 3.5 1.5 1.7 1.5 2 1.5 2.5 1.5 1.9 1.5 2.5 1.5 2.3 1.5 1.9 1.5 1.8 1.5 1.8 1.5 3.4 1.5 5.8 1.5 6.7 1.5 5.6 1.5 5.6 1.5 6.2 1.5 3.6 1.5-1.2 1.5-3.1 1.5-4.9 1.5-4 1.5-5.1 1.5-6.1 1.5-7.1 1.9-26.9 .8-32.6 .7-33.9 .6-31.9 .5-28.4"/>
<path class="dd" stroke-opacity="0.28" d="M717.2 679.1l1.5 31.6 1.5 23.4 1.5 21.2 1.5 11.1 1.5 5.4 1.5 5.5 1.5 3.4 1.5 1.5 1.5-1.2 1.5-5.1 1.5-5.5 1.5-6.7 1.5-7 1.5-5.3 1.5-2.9 1.5-2.5 1.5-3.9 1.5-4.1 1.5-2.6 1.5 .5 1.5 .3 1.5-1.7 1.5-2.1 1.5-2.4 1.5-2.3 1.5-1.4 1.5-.6 1.5-2.2 1.5-2.8 1.5-1.8 1.5-.7 1.5-.8 1.5-2.6 1.5-3.5 1.5-3.1 1.5-2.6 1.5-1.8 1.5-1.4 1.5-2.3 1.5-3.6 1.5-2.6 1.5-1.4 1.5-2.2 1.5-3.9 1.5-3.5 1.5-.8 1.5 .6 1.5-.7 1.5-1.7 1.5-1.5 1.5-2 1.5-1.8 1.5-1 1.5-2 1.5-2.4 1.5-.7 1.5 .2 1.5 .1 1.5 .3 1.5-.3 1.5-2 1.5-1.7 1.5-.7 1.5-.1 1.5 .6 1.5-.3 1.5-1.8 1.5-1.3 1.5-.8 1.5-1.8 1.5-1.8 1.5-1 1.5-.5 1.5-.3 1.5 .1 1.5 1 1.5 2.1 1.5 1.1 1.5-.2 1.5-.6 1.5-.7 1.5-.5 1.5-.6 1.5-1 1.5-1.5 1.5-1.2 1.5-.4 1.5-.5 1.5-1.7 1.5-1.9 1.5-1.7 1.5-1.5 1.5-1.1 1.5-1.2 1.5-.7 1.5-.3 1.5-.3 1.5-.9 1.5-1 1.5-.6 1.5-1.2 1.5-.7 1.5 .2 1.5-.3 1.5 0 1.5-.2 1.5-1.2 1.5-1.7 1.5-.7 1.5-.2 1.5-1.7 1.5-2.7 1.5-2.5 1.5-1.6 1.5-.2 1.5 .4 1.5 .4 1.5 1.2 1.5 .9 1.5 .1 1.5 .9 1.5 2.5 1.5 1.2 1.5-1.1 1.5-.6 1.5 1.5 1.5 2.2 1.5 1.9 1.5 1.3 1.5 .3 1.5 0 1.5 .4 1.5 1.1 1.5 .9 1.5 .2 1.5 .7 1.5 1 1.5 .4 1.5-1.1 1.5-1.9 1.5-1.8 1.5-1.3 1.5 .2 1.5 1 1.5 .7 1.5 .8 1.5 1.5 1.5 2 1.5 1.2 1.5 .6 1.5 1.1 1.5 1.2 1.5 .4 1.5-.5 1.5 .3 1.5 1 1.5 .1 1.5-.6 1.5 .3 1.5 .9 1.5 1.1 1.5 1.4 1.5 .3 1.5-.3 1.5 1.2 1.5 2.6 1.5 1.5 1.5-1.2 1.5-1.6 1.5 .1 1.5 0 1.5-.2 1.5 .3 1.5 .2 1.5-.5 1.5 .4 1.5 2.2 1.5 1.9 1.5 1 1.5 1.1 1.5 2.3 1.5 .7 1.5-1.2 1.5-.5 1.5 .1 1.5-1.5 1.5-3.8 1.5-2.8 1.5-.9 1.5-.4 1.5 .5 1.5-.2 1.5-1.4 1.5-.2 1.5 1.1 1.5-.4 1.5-1.5 1.5-1.4 1.5-2 1.5-2.6 1.5-1.6 1.5-.7 1.5-1.6 1.5-1.4 1.5-.6 1.5-.9 1.5-1.2 1.5-.3 1.5 .1 1.5-.3 1.5-.1 1.5 .6 1.5 1.1 1.5 0 1.5-1.3 1.5-.5 1.5-.3 1.5-1.8 1.5-1.3 1.5-.3 1.5-.2 1.5 .3 1.5 1.9 1.5 2.6 1.5 1.7 1.5-.3 1.5-1.6 1.5-2.3 1.5-2.1 1.5-1.4 1.5-1.1 1.5-.7 1.5-.6 1.5-.8 1.5 .1 1.5 .1 1.5-.5 1.5 1.5 1.5 2.9 1.5 .7 1.5-.5 1.5-.2 1.5-.3 1.5 .8 1.5 1.6 1.5 .7 1.5 .8 1.5 .7 1.5 .2 1.5 .2 1.5 1.1 1.5 1.2 1.5 1.4 1.5 2.4 1.5 1.3 1.5 .8 1.5 1.4 1.5 1.1 1.5 .3 1.5 .4 1.5 .7 1.5-.6 1.5-1.2 1.5 0 1.5 .8 1.5 1.5 1.5 2.2 1.5 1.5 1.5 1.4 1.5 1.6 1.5 1 1.5 .4 1.5-.1 1.5 .3 1.5 .6 1.5 .8 1.5-.1 1.5-1.3 1.5-.2 1.5-.2 1.5-.8 1.5 .8 1.5 .7 1.5-.6 1.5-.9 1.5-1.2 1.5-.8 1.5 .6 1.5 1.2 1.5 .3 1.5 .6 1.5 1.2 1.5 .7 1.5-.2 1.5-.4 1.5 .3 1.5 .8 1.5 .5 1.5 .6 1.5-.1 1.5-.9 1.5-.5 1.5 .3 1.5-.3 1.5-.5 1.5 .1 1.5-.1 1.5 .3 1.5 .3 1.5 .2 1.5 1.2 1.5 1.5 1.5 1.5 1.5 .8 1.5-.2 1.5 .9 1.5 1.8 1.5 .3 1.5-.9 1.5-1.7 1.5-2.4 1.5-.3 1.5 .9 1.5 .8 1.5 .6 1.5-.2 1.5 .3 1.5 1.1 1.5 1.1 1.5 1.4 1.5 .5 1.5 .5 1.5 2.3 1.5 2.7 1.5 1.6 1.5 2.2 1.5 3.2 1.5 3 1.5 3.1 1.5 3.9 1.5 5 1.5 6 1.5 5.5 1.5 3.8 1.5 2.5 1.5 2.2 1.5 3.5 1.5 2.9 1.5 2.1 1.5 2.3 1.5 1.8 1.5 1.7 1.5 2.9 1.5 3.4 1.5 3.3 1.5 3.2 1.5 4.2 1.5 5 1.5 4.8 1.5 5.7 1.5 6.7 1.5 4.3 1.5-.1 1.5-1.4 1.5-4.4 1.5-4.7 1.5-6 1.5-6.4 1.5-7.7 1.9-30.2 .8-37.3 .7-38.8 .6-36.6 .5-32.4"/>
<path class="dd" stroke-opacity="0.28" d="M717.2 645.6l1.5 40.2 1.5 29.7 1.5 26.8 1.5 13.5 1.5 6.5 1.5 4.4 1.5 2.1 1.5 1.9 1.5 .4 1.5-3.7 1.5-5.7 1.5-7.2 1.5-7.2 1.5-5.9 1.5-3.2 1.5-1.5 1.5-2.5 1.5-1.5 1.5-1.1 1.5-2.1 1.5-2.4 1.5-1.4 1.5 0 1.5-.6 1.5-2.4 1.5-1.9 1.5-.3 1.5-1 1.5-1.3 1.5-.8 1.5-2.1 1.5-4.7 1.5-4.5 1.5-2.1 1.5-1 1.5-2.8 1.5-3.9 1.5-2.6 1.5-2 1.5-2.2 1.5-1.6 1.5-2.6 1.5-3.7 1.5-3.1 1.5-1.5 1.5-.6 1.5-.5 1.5-.4 1.5-.4 1.5-1.5 1.5-2.3 1.5-1.4 1.5-.9 1.5-1.6 1.5-2.6 1.5-2.7 1.5-.8 1.5 .1 1.5-.1 1.5 .8 1.5 .4 1.5-.2 1.5 0 1.5-.2 1.5-.7 1.5-1.4 1.5-2.1 1.5-2.6 1.5-1.6 1.5-1 1.5-1.5 1.5-1.2 1.5-.1 1.5 .6 1.5 .9 1.5 .4 1.5 .5 1.5 .6 1.5 .2 1.5-.2 1.5-.3 1.5-.7 1.5-1.3 1.5-1.8 1.5-1.8 1.5-1.3 1.5-1.1 1.5-.7 1.5 0 1.5-.2 1.5-1.8 1.5-1.9 1.5-.7 1.5-.9 1.5-1.7 1.5-1.7 1.5-1.1 1.5-.7 1.5-.9 1.5-1.7 1.5-2 1.5-1.5 1.5-.5 1.5-.1 1.5-.1 1.5-.7 1.5-1.1 1.5-.9 1.5-.2 1.5-.8 1.5-2.4 1.5-2.3 1.5-2.1 1.5-2.6 1.5-2.5 1.5-1.2 1.5 .7 1.5 2.7 1.5 2.5 1.5 .3 1.5 .6 1.5 1.3 1.5 .3 1.5-.2 1.5-.2 1.5 .5 1.5 1.8 1.5 2.4 1.5 2.1 1.5 .6 1.5-.4 1.5 .4 1.5 .9 1.5 .2 1.5 .4 1.5 .7 1.5 .4 1.5 1.1 1.5 0 1.5-1.3 1.5-1.3 1.5-.8 1.5 .5 1.5 .9 1.5 1.1 1.5 2.3 1.5 2.5 1.5 1.7 1.5 .7 1.5 .2 1.5 .2 1.5 1.3 1.5 .8 1.5-.2 1.5 0 1.5 .9 1.5 2 1.5 1.9 1.5 .2 1.5-.1 1.5 1.4 1.5 1.8 1.5 1.6 1.5 1.5 1.5 .6 1.5 .5 1.5 .9 1.5 0 1.5 .5 1.5 1.4 1.5-.1 1.5-.5 1.5 .6 1.5 1.2 1.5 .7 1.5-.5 1.5-.3 1.5 1.3 1.5 2.4 1.5 1.9 1.5 1.3 1.5 .4 1.5 0 1.5 .6 1.5-.3 1.5-1.7 1.5-2.3 1.5-2.4 1.5-2.2 1.5-1.7 1.5-.8 1.5-.3 1.5 .9 1.5 1.6 1.5 1 1.5 .4 1.5-1.6 1.5-2.9 1.5-2.7 1.5-2.3 1.5-1.1 1.5-.5 1.5-1.4 1.5-2.5 1.5-1.8 1.5-.1 1.5 0 1.5-.9 1.5-1.5 1.5-1.1 1.5 0 1.5 .6 1.5 .3 1.5-.7 1.5-.7 1.5 .4 1.5 .6 1.5-.7 1.5-2.1 1.5-2.2 1.5-.1 1.5 1.8 1.5 1.4 1.5 1.1 1.5 .8 1.5-.1 1.5-.5 1.5-.3 1.5-.6 1.5-1.2 1.5-1.1 1.5-.9 1.5-1.5 1.5-1.5 1.5-.2 1.5 .4 1.5 .7 1.5 1.2 1.5 .4 1.5 .4 1.5 .7 1.5 .3 1.5 .6 1.5 .7 1.5 .6 1.5 .1 1.5 .4 1.5 .7 1.5 .3 1.5 .1 1.5 .6 1.5 1.6 1.5 2.1 1.5 1.9 1.5 2.6 1.5 2.6 1.5 1.6 1.5 .9 1.5-.2 1.5-.9 1.5-.4 1.5 .9 1.5 1.3 1.5 .3 1.5-.4 1.5 .4 1.5 2 1.5 1.8 1.5 .5 1.5 .1 1.5-.3 1.5-.5 1.5 .7 1.5 1.8 1.5 .8 1.5-.5 1.5-.2 1.5 1.2 1.5 2.1 1.5 .8 1.5-1.6 1.5-1.4 1.5-.2 1.5-1.1 1.5-1.8 1.5-.4 1.5 .4 1.5-.2 1.5 .2 1.5 .4 1.5 1 1.5 1.8 1.5 .9 1.5 .3 1.5 .1 1.5-.4 1.5-.4 1.5-.8 1.5 0 1.5 1.7 1.5 1.8 1.5 .3 1.5-.6 1.5-.4 1.5 .3 1.5 .7 1.5 .1 1.5-.5 1.5 .6 1.5 1.4 1.5 .9 1.5 .4 1.5 .4 1.5 .5 1.5 .5 1.5 .6 1.5 0 1.5-.5 1.5 .8 1.5 .9 1.5-.3 1.5-1.7 1.5-1.2 1.5 .4 1.5 1.7 1.5 1.4 1.5 .1 1.5 .5 1.5 1.8 1.5 1.4 1.5-.1 1.5 .3 1.5 2.2 1.5 3.6 1.5 3.1 1.5 1.4 1.5 1.3 1.5 2.7 1.5 3.6 1.5 4.2 1.5 4.6 1.5 4.2 1.5 4.2 1.5 3.6 1.5 2.5 1.5 2.5 1.5 3 1.5 2.8 1.5 2.3 1.5 1.2 1.5 .9 1.5 1.7 1.5 3.5 1.5 4 1.5 3.8 1.5 3.9 1.5 4.3 1.5 5.6 1.5 5.9 1.5 6 1.5 5.7 1.5 3.6 1.5-1.1 1.5-2.9 1.5-5.8 1.5-5 1.5-5.8 1.5-6.3 1.5-6.1 1.9-27.1 .8-33.5 .7-34.9 .6-32.8 .5-29.2"/>
<path class="dd" stroke-opacity="0.28" d="M717.2 658.3l1.5 33.5 1.5 24.9 1.5 22.3 1.5 12.1 1.5 7.1 1.5 4.4 1.5 1.5 1.5 1.7 1.5 0 1.5-3.9 1.5-5 1.5-7.7 1.5-8 1.5-5.2 1.5-3.3 1.5-3.2 1.5-3.2 1.5-1.1 1.5-.5 1.5-1.7 1.5-3 1.5-2.2 1.5-.6 1.5-.6 1.5-1.1 1.5-1.1 1.5-2 1.5-2.2 1.5-1.9 1.5-2 1.5-1.9 1.5-1.8 1.5-3 1.5-2.9 1.5-2.3 1.5-2.6 1.5-2.3 1.5-1.8 1.5-3.2 1.5-3.1 1.5-1.7 1.5-1.7 1.5-2.8 1.5-3.7 1.5-4.2 1.5-3 1.5-.6 1.5 0 1.5-.8 1.5-1.1 1.5-1.7 1.5-1.7 1.5-1.3 1.5-1.4 1.5-1.5 1.5-.8 1.5-.1 1.5-.3 1.5-.7 1.5-.2 1.5-.5 1.5-.9 1.5-.7 1.5-.9 1.5-.9 1.5-.5 1.5-1.1 1.5-1.9 1.5-1.3 1.5-1.1 1.5-1.7 1.5-1.5 1.5-.1 1.5 1 1.5 1.1 1.5 1.3 1.5 .2 1.5-.9 1.5-.6 1.5 .4 1.5-.2 1.5-1.5 1.5-1.5 1.5-.4 1.5 .6 1.5 .3 1.5-2 1.5-3.2 1.5-2 1.5-.5 1.5-1.2 1.5-1.2 1.5 0 1.5 .5 1.5-.5 1.5-.4 1.5 .3 1.5-1.2 1.5-1.6 1.5-1.3 1.5-2 1.5-1.2 1.5 .3 1.5-.2 1.5-1 1.5 .1 1.5 1.3 1.5 .2 1.5-1.6 1.5-1.3 1.5-1.4 1.5-2.8 1.5-3.6 1.5-1.6 1.5 1.4 1.5 1.3 1.5-1 1.5-.2 1.5 1.5 1.5 1.1 1.5 0 1.5 .3 1.5 1.1 1.5 1.6 1.5 1.5 1.5 1.2 1.5 1.5 1.5 1.3 1.5 .8 1.5 1.2 1.5 1.4 1.5 .9 1.5 .8 1.5 .3 1.5 .2 1.5 .3 1.5 .4 1.5-.5 1.5-1.1 1.5-.9 1.5-.8 1.5-.7 1.5-.7 1.5-.2 1.5 1.2 1.5 2.8 1.5 2.5 1.5 2.6 1.5 2.4 1.5 1.5 1.5 .6 1.5 0 1.5 .4 1.5 .7 1.5 .1 1.5 .1 1.5 .6 1.5 .8 1.5 1 1.5 1.3 1.5 1.8 1.5 1.6 1.5 .4 1.5-.3 1.5 1.1 1.5 2.4 1.5 2 1.5-.1 1.5-1.5 1.5-.8 1.5 .1 1.5 1.2 1.5 1.6 1.5 .4 1.5 0 1.5 1 1.5 .8 1.5 .1 1.5 .1 1.5 .4 1.5 1.9 1.5 2.3 1.5 1.4 1.5 .8 1.5-1.1 1.5-2.6 1.5-1.7 1.5-1.4 1.5-2.2 1.5-1.6 1.5-.2 1.5-.3 1.5 0 1.5 .5 1.5-.7 1.5-2.1 1.5-1.7 1.5-1.5 1.5-2.7 1.5-2.5 1.5-1.8 1.5-1.2 1.5-.7 1.5-.6 1.5-.7 1.5-.5 1.5-.9 1.5-1.2 1.5-2 1.5-1.7 1.5 .5 1.5 1.4 1.5 .4 1.5-.2 1.5-.3 1.5-1 1.5-1.9 1.5-1.1 1.5 .2 1.5 .2 1.5-.2 1.5-.6 1.5-.1 1.5 .6 1.5 .3 1.5-.8 1.5-1.3 1.5-.5 1.5-.2 1.5-.4 1.5-.9 1.5-1.2 1.5-1.9 1.5-1.3 1.5 0 1.5 1.2 1.5 1.3 1.5 1.2 1.5 1.1 1.5 .1 1.5-.9 1.5-.1 1.5 .6 1.5 1.2 1.5 1.3 1.5 .3 1.5-.2 1.5 1.6 1.5 1.9 1.5 .6 1.5 0 1.5 .1 1.5 1.4 1.5 2.6 1.5 2.3 1.5 1.4 1.5 2.3 1.5 2.3 1.5 .7 1.5-.9 1.5-1.2 1.5-1.1 1.5 .1 1.5 1 1.5 .4 1.5 .3 1.5 1.3 1.5 2.6 1.5 2 1.5 .2 1.5 .2 1.5 1.2 1.5 .5 1.5 .7 1.5 1.8 1.5 1.5 1.5-.7 1.5-.6 1.5 1.1 1.5-.3 1.5-2.4 1.5-2.1 1.5-.2 1.5 1 1.5 .8 1.5-.8 1.5-1 1.5 .1 1.5 1.2 1.5 .7 1.5 .8 1.5 1.6 1.5 .5 1.5-.7 1.5-.4 1.5 0 1.5 1 1.5 .8 1.5 .4 1.5 .2 1.5 .7 1.5 .9 1.5-.1 1.5-.5 1.5-.4 1.5-.5 1.5-.2 1.5 0 1.5 .3 1.5 .3 1.5 .6 1.5 1.2 1.5 1.7 1.5 .9 1.5 .1 1.5 .1 1.5 1 1.5 1 1.5 .4 1.5-.3 1.5-1.1 1.5-1.3 1.5-.9 1.5-.4 1.5 .7 1.5 1.7 1.5 1 1.5-.3 1.5 .4 1.5 1.8 1.5 2.1 1.5 1.5 1.5 1.3 1.5 2.9 1.5 3.1 1.5 1.8 1.5 2.1 1.5 2.9 1.5 3.2 1.5 3.5 1.5 3.9 1.5 3.7 1.5 4.1 1.5 4.6 1.5 4.6 1.5 2.9 1.5 1.5 1.5 1.4 1.5 1.2 1.5 .9 1.5 2.2 1.5 3.3 1.5 3.3 1.5 3.2 1.5 3.7 1.5 4.5 1.5 4 1.5 3.6 1.5 4.8 1.5 6.3 1.5 6.5 1.5 4.3 1.5-.6 1.5-2.9 1.5-6.2 1.5-5.2 1.5-4.8 1.5-5.7 1.5-8 1.9-25.2 .8-27.8 .7-28.9 .6-27.3 .5-24.2"/>
<path class="dd" stroke-opacity="0.28" d="M717.2 660.2l1.5 35.5 1.5 26.4 1.5 23.7 1.5 12.3 1.5 6.3 1.5 5.4 1.5 3.2 1.5 1.6 1.5-1.3 1.5-5.2 1.5-4.7 1.5-6.4 1.5-7.9 1.5-6.3 1.5-3.4 1.5-1.2 1.5-1.8 1.5-1.5 1.5-.8 1.5-1.7 1.5-3.3 1.5-2.8 1.5-1.9 1.5-1.9 1.5-1.2 1.5-.5 1.5-.8 1.5-.5 1.5-.7 1.5-1.8 1.5-2.1 1.5-2.2 1.5-2.2 1.5-2.9 1.5-2.8 1.5-1.8 1.5-2.1 1.5-3.4 1.5-4.4 1.5-3.6 1.5-1.7 1.5-2.1 1.5-3.4 1.5-2.6 1.5-2.3 1.5-2.5 1.5-.1 1.5 1.1 1.5-.1 1.5-2.2 1.5-3.6 1.5-3.4 1.5-2 1.5-1.3 1.5-.2 1.5 .6 1.5-.4 1.5-1.5 1.5-.9 1.5-.4 1.5-.1 1.5 .6 1.5 1.4 1.5 .5 1.5-1.3 1.5-2.4 1.5-2.5 1.5-1.6 1.5-1 1.5-1.6 1.5-.9 1.5 0 1.5-.4 1.5-.5 1.5 .4 1.5 1.8 1.5 1.2 1.5-.3 1.5-.6 1.5-.5 1.5-.2 1.5 1.5 1.5 .3 1.5-1.7 1.5-2.1 1.5-1.1 1.5-.8 1.5-1.6 1.5-2 1.5-1.7 1.5-1.3 1.5-.7 1.5-.9 1.5-1.6 1.5-.7 1.5 .1 1.5-.2 1.5-1.4 1.5-1.9 1.5-.8 1.5-.2 1.5-1.1 1.5-1.4 1.5-.8 1.5-.6 1.5-.4 1.5-.6 1.5-.1 1.5-.3 1.5-2.1 1.5-2.7 1.5-1.7 1.5-1.6 1.5-1.6 1.5-.6 1.5-.4 1.5-.9 1.5-.2 1.5 1.5 1.5 2.8 1.5 1.4 1.5 .2 1.5 .7 1.5 1.9 1.5 1.4 1.5 .3 1.5 .7 1.5 1.4 1.5 .3 1.5-.5 1.5 1 1.5 1.6 1.5 .8 1.5 1.6 1.5 1.7 1.5-.1 1.5-.1 1.5 0 1.5-1.2 1.5-1.6 1.5-.7 1.5-.2 1.5 .5 1.5 .7 1.5 .9 1.5 1.6 1.5 2.4 1.5 2.8 1.5 1.9 1.5 1.5 1.5 .4 1.5-.5 1.5 .8 1.5 1.6 1.5 1 1.5-.3 1.5 .5 1.5 1 1.5 .9 1.5 1.8 1.5 1.7 1.5 1.1 1.5 1.8 1.5 1.9 1.5 1.6 1.5 2.5 1.5 1.2 1.5-1.8 1.5-1.9 1.5 0 1.5 .5 1.5 .1 1.5 .6 1.5 .7 1.5 .3 1.5 .4 1.5 1.7 1.5 1.6 1.5 .5 1.5 .6 1.5 2.3 1.5 2.5 1.5 2 1.5 .7 1.5-1.1 1.5-2.1 1.5-3.2 1.5-4 1.5-3.1 1.5-.8 1.5 0 1.5 .2 1.5 1 1.5 .1 1.5-1 1.5-1 1.5-1.6 1.5-1.7 1.5-1.5 1.5-1.8 1.5-1.5 1.5-1.3 1.5-1.8 1.5-1.6 1.5-.5 1.5-.3 1.5-.6 1.5-1 1.5-1.3 1.5-.6 1.5-.6 1.5-.6 1.5 .5 1.5 1.5 1.5 1 1.5-.2 1.5-1 1.5-1.8 1.5-1.5 1.5-.8 1.5-.1 1.5 1 1.5 1.6 1.5 .9 1.5 .1 1.5-.3 1.5-.1 1.5-1 1.5-1.1 1.5-1 1.5-1.9 1.5-1.8 1.5-.4 1.5 .1 1.5 .4 1.5 .2 1.5 .1 1.5-.3 1.5-.4 1.5-.5 1.5 .4 1.5 1.3 1.5 .8 1.5 .1 1.5 .9 1.5 1.1 1.5 .3 1.5-.6 1.5-1 1.5 .5 1.5 1.6 1.5 2 1.5 2.7 1.5 2.1 1.5 1.1 1.5 1.6 1.5 .7 1.5-.3 1.5 .8 1.5 1.5 1.5 .9 1.5 .4 1.5 0 1.5-.9 1.5-.7 1.5 0 1.5 .1 1.5 1 1.5 1.8 1.5 1.8 1.5 .5 1.5-.2 1.5 .2 1.5 .5 1.5-.2 1.5-.1 1.5 .3 1.5-.3 1.5-.4 1.5-1.2 1.5-1.9 1.5-.5 1.5 .7 1.5 .7 1.5-.4 1.5-.9 1.5-.3 1.5 1.3 1.5 1.6 1.5 .7 1.5 .3 1.5-.4 1.5-.5 1.5 0 1.5 .5 1.5 .4 1.5-.3 1.5-.4 1.5-.7 1.5-.8 1.5 .7 1.5 1.1 1.5-.4 1.5-.4 1.5 .8 1.5 1.4 1.5-.1 1.5-1.3 1.5 .2 1.5 1.3 1.5 .8 1.5 0 1.5 .3 1.5 1.3 1.5 1.4 1.5 1.1 1.5 .7 1.5 .3 1.5-.8 1.5-1 1.5-.9 1.5-1.5 1.5-1.3 1.5 .6 1.5 2.6 1.5 2 1.5-.3 1.5 .1 1.5 .7 1.5 .5 1.5 2.3 1.5 2.9 1.5 .8 1.5 .4 1.5 1.1 1.5 1.9 1.5 3.6 1.5 4.2 1.5 3.1 1.5 3.7 1.5 4.7 1.5 4 1.5 3.7 1.5 4.8 1.5 4.4 1.5 2.9 1.5 1.9 1.5 2.3 1.5 2.3 1.5 2 1.5 3 1.5 3.4 1.5 2.6 1.5 1.7 1.5 3.1 1.5 4.6 1.5 4.3 1.5 4.4 1.5 5.5 1.5 6.4 1.5 6.3 1.5 3.6 1.5-.9 1.5-1.5 1.5-4.3 1.5-4.9 1.5-6.4 1.5-6.5 1.5-6.9 1.9-30.6 .8-39.1 .7-40.7 .6-38.3 .5-34.1"/>
<path class="dd" stroke-opacity="0.28" d="M717.2 663.9l1.5 37.1 1.5 27.5 1.5 24.8 1.5 11.8 1.5 4.7 1.5 4.6 1.5 2.7 1.5 1.5 1.5-.9 1.5-5.4 1.5-5.7 1.5-5.4 1.5-5.1 1.5-4.1 1.5-3 1.5-2.5 1.5-3 1.5-2 1.5-1.4 1.5-2.1 1.5-1.8 1.5-.9 1.5-1.1 1.5-1.7 1.5-1.7 1.5-1.4 1.5-1.6 1.5-.9 1.5-.7 1.5-1.7 1.5-2.4 1.5-2.7 1.5-2.9 1.5-3.1 1.5-2.7 1.5-2.1 1.5-2.9 1.5-3 1.5-2 1.5-1.7 1.5-2.3 1.5-3.7 1.5-3.8 1.5-2.8 1.5-2.3 1.5-2.4 1.5-1.8 1.5-.1 1.5 0 1.5-2.2 1.5-2.3 1.5-1 1.5-1 1.5-.9 1.5-1.5 1.5-1.6 1.5-.2 1.5-.5 1.5-1.3 1.5-.6 1.5-.3 1.5 0 1.5 .1 1.5 0 1.5 .4 1.5 .1 1.5-2 1.5-3.6 1.5-2.8 1.5-1.3 1.5-.6 1.5-.5 1.5-.1 1.5 .5 1.5 .8 1.5-.1 1.5-.7 1.5 .3 1.5 .3 1.5-1.2 1.5-.7 1.5-.2 1.5-1.3 1.5-1.9 1.5-1 1.5-.1 1.5-.8 1.5-2.1 1.5-2.1 1.5-1.3 1.5-.4 1.5-.7 1.5-1.1 1.5-1.1 1.5-1.4 1.5-.2 1.5-.4 1.5-.7 1.5-.4 1.5-1.7 1.5-1.9 1.5-2 1.5-1.6 1.5-.6 1.5-.8 1.5-.3 1.5 1.6 1.5 .5 1.5-2.2 1.5-3.2 1.5-1.8 1.5-.8 1.5-.7 1.5-1.4 1.5-1.8 1.5-1.1 1.5-.6 1.5 .5 1.5 .7 1.5 .4 1.5 .9 1.5 2.5 1.5 1.8 1.5-.4 1.5-.2 1.5 1.2 1.5 1.1 1.5 .7 1.5-.1 1.5 .1 1.5 1.5 1.5 1.4 1.5 1 1.5 1 1.5 .6 1.5 1 1.5 1 1.5 .7 1.5-.8 1.5-2.3 1.5-1.5 1.5-.1 1.5 .6 1.5 1.5 1.5 2.3 1.5 1.1 1.5 .3 1.5 1.1 1.5 .9 1.5 0 1.5-.1 1.5 .8 1.5 2 1.5 2.3 1.5 1.2 1.5-1 1.5-1.2 1.5 1.3 1.5 2 1.5 1.4 1.5 1 1.5 1 1.5 1.6 1.5 1.4 1.5 1.2 1.5 2 1.5 1.2 1.5-.4 1.5-.4 1.5 .2 1.5-.1 1.5-.8 1.5-.1 1.5 1.1 1.5 1 1.5 .7 1.5 .7 1.5 .9 1.5 .6 1.5-.7 1.5 .9 1.5 3.6 1.5 2.4 1.5-.4 1.5-.7 1.5-1 1.5-2.3 1.5-3 1.5-2.5 1.5-.7 1.5 .6 1.5 .3 1.5-.1 1.5-.6 1.5-.8 1.5-1.2 1.5-1.3 1.5-1.3 1.5-2 1.5-2 1.5-2.1 1.5-1.9 1.5-1 1.5-1.1 1.5-1.2 1.5 0 1.5 1.1 1.5 0 1.5-1.4 1.5-1.6 1.5-1 1.5-.8 1.5-.1 1.5 .9 1.5 .3 1.5-.7 1.5-.3 1.5 .8 1.5-.2 1.5-1.6 1.5-.3 1.5 .3 1.5 .1 1.5 .7 1.5 .6 1.5-.3 1.5-1.1 1.5-.6 1.5-.6 1.5-.8 1.5-.8 1.5-1.8 1.5-2.4 1.5-2.2 1.5-.8 1.5-.1 1.5 .3 1.5 1.2 1.5 1.2 1.5 1 1.5 .4 1.5 .4 1.5 .7 1.5 .7 1.5 1.1 1.5 .9 1.5 .3 1.5 .1 1.5-.2 1.5 0 1.5 1 1.5 1.3 1.5 .6 1.5 1 1.5 1.8 1.5 1.6 1.5 1.5 1.5 2.8 1.5 2.2 1.5 .6 1.5-.2 1.5-.8 1.5-1.8 1.5-1.6 1.5 1.1 1.5 1.8 1.5-.2 1.5-.6 1.5 .9 1.5 1.8 1.5 1.7 1.5 1 1.5 .3 1.5 .2 1.5 .5 1.5 .1 1.5-.5 1.5-.2 1.5 .1 1.5 .5 1.5-.2 1.5-1.2 1.5-.6 1.5-.1 1.5 .8 1.5 1.3 1.5-.2 1.5-.8 1.5 .6 1.5 1.2 1.5 .9 1.5 .1 1.5 .2 1.5 .2 1.5 .1 1.5 .2 1.5 0 1.5-.2 1.5 .6 1.5 1.9 1.5 2 1.5 1.4 1.5 .4 1.5-.7 1.5-1.2 1.5-.2 1.5 .8 1.5 1.1 1.5 .4 1.5 .3 1.5 1.1 1.5 1.3 1.5 .8 1.5 .2 1.5 1.2 1.5 1.8 1.5 1.1 1.5 .2 1.5-.3 1.5-.5 1.5-.7 1.5-1.2 1.5 .4 1.5 .8 1.5-.6 1.5-.2 1.5 .4 1.5 .2 1.5 .7 1.5 1.9 1.5 2.3 1.5 1.8 1.5 .4 1.5-.1 1.5 1.2 1.5 3.2 1.5 4.2 1.5 3.6 1.5 2.5 1.5 2.9 1.5 4 1.5 4.6 1.5 4.3 1.5 4.2 1.5 3.8 1.5 2.8 1.5 1.6 1.5 1.1 1.5 2.1 1.5 2.7 1.5 2.3 1.5 1.9 1.5 2.8 1.5 2.9 1.5 3 1.5 3.1 1.5 3.2 1.5 4.4 1.5 6.2 1.5 7 1.5 5.9 1.5 3.7 1.5-.4 1.5-2.1 1.5-4.9 1.5-4.1 1.5-4.2 1.5-6.2 1.5-8 1.9-30.1 .8-37.3 .7-38.7 .6-36.5 .5-32.4"/>
<path class="dd" stroke-opacity="0.28" d="M717.2 686.7l1.5 27.6 1.5 20.5 1.5 18.4 1.5 11.3 1.5 6.6 1.5 5.1 1.5 2.9 1.5 1.3 1.5-1.7 1.5-5.1 1.5-4.8 1.5-6.1 1.5-6.9 1.5-5.5 1.5-3.6 1.5-2.3 1.5-3.3 1.5-2.4 1.5-1.3 1.5-.8 1.5-1.5 1.5-2.4 1.5-2.6 1.5-1.8 1.5-.7 1.5-.2 1.5-.8 1.5-1.8 1.5-1.5 1.5-1.2 1.5-1.7 1.5-2.8 1.5-2.9 1.5-2.2 1.5-2 1.5-3.1 1.5-3.7 1.5-2.8 1.5-2.6 1.5-2.9 1.5-2.3 1.5-2.9 1.5-4.2 1.5-3.9 1.5-2.3 1.5-1 1.5-1.3 1.5-1 1.5 .3 1.5-.4 1.5-1.6 1.5-1.1 1.5-2.1 1.5-1.6 1.5-.4 1.5-1 1.5-2 1.5-2.6 1.5-.8 1.5 .9 1.5 1 1.5 1 1.5-.1 1.5-1.4 1.5-1.8 1.5-.9 1.5-.5 1.5-1.7 1.5-1.5 1.5 0 1.5 .3 1.5-1.1 1.5-1.4 1.5 .5 1.5 .9 1.5 0 1.5-.1 1.5 .6 1.5 .4 1.5-.4 1.5-.1 1.5 .1 1.5-.5 1.5-1.6 1.5-1 1.5-.8 1.5-1.9 1.5-2 1.5-.9 1.5 .2 1.5 .1 1.5-1.4 1.5-3 1.5-2.6 1.5-.4 1.5 0 1.5-.5 1.5-1.2 1.5-1.9 1.5-1.7 1.5-.2 1.5 1.2 1.5-.2 1.5-1.8 1.5-.8 1.5 .2 1.5 .1 1.5-.6 1.5-1.4 1.5-1.5 1.5-1.6 1.5-1.6 1.5-1.1 1.5-1.2 1.5-1.4 1.5-.1 1.5 .5 1.5 0 1.5-.3 1.5 .6 1.5 .6 1.5 .3 1.5 1.5 1.5 1.3 1.5 1 1.5 1.1 1.5 1.3 1.5 1.2 1.5 .7 1.5 .2 1.5 1.1 1.5 2.2 1.5 2.1 1.5 .9 1.5-.2 1.5 .2 1.5 .6 1.5 0 1.5-1.6 1.5-2 1.5-.4 1.5-.3 1.5-.3 1.5 1.8 1.5 3 1.5 1.9 1.5 .8 1.5 .1 1.5 .5 1.5 .4 1.5 1.6 1.5 2.5 1.5 1.4 1.5 .9 1.5 .8 1.5 .9 1.5 .8 1.5 .2 1.5 .3 1.5 1.5 1.5 1.5 1.5 .7 1.5 .7 1.5 .7 1.5 1.1 1.5 1.9 1.5 1.7 1.5 1.1 1.5 0 1.5-.8 1.5-1.3 1.5-1.1 1.5-.2 1.5-.6 1.5-.1 1.5 1.2 1.5 1.7 1.5 1.4 1.5 1.2 1.5 1 1.5 1.1 1.5 1.4 1.5 1 1.5 .3 1.5-.4 1.5-1.9 1.5-4.3 1.5-4.6 1.5-3 1.5-1.8 1.5-.1 1.5 1.2 1.5 .6 1.5 .1 1.5-.5 1.5-1.6 1.5-1.6 1.5-1.7 1.5-1.9 1.5-1.7 1.5-1.6 1.5-1.3 1.5-1.4 1.5-1.4 1.5-.8 1.5-.1 1.5 .1 1.5-1.1 1.5-1.4 1.5-.5 1.5-1 1.5-.9 1.5-.1 1.5-.4 1.5-.5 1.5 .2 1.5 .3 1.5 .2 1.5-.3 1.5-1.4 1.5-.9 1.5 1 1.5 2 1.5 1 1.5 .3 1.5 .3 1.5-.7 1.5-2.2 1.5-2.2 1.5-1.4 1.5-1.1 1.5-.5 1.5-.5 1.5-.5 1.5-.4 1.5 .1 1.5 .5 1.5 .1 1.5 .1 1.5 .7 1.5 .7 1.5 .1 1.5 .1 1.5 1 1.5 1.4 1.5 1.1 1.5-.2 1.5-.3 1.5 .6 1.5 .5 1.5 .5 1.5 1 1.5 1.2 1.5 1.7 1.5 1.4 1.5 1.4 1.5 2.1 1.5 2.6 1.5 .9 1.5-.9 1.5-1.3 1.5-.8 1.5 .2 1.5 1.4 1.5 1.8 1.5 1.1 1.5 .7 1.5 1.5 1.5 .4 1.5-.1 1.5 .7 1.5 1.2 1.5 .8 1.5 .4 1.5 .5 1.5 .1 1.5-.6 1.5-.2 1.5 .7 1.5 .2 1.5-1 1.5-1.1 1.5-1.6 1.5-.5 1.5 2.3 1.5 2.2 1.5-.1 1.5-.8 1.5-.6 1.5-.1 1.5 .3 1.5 .4 1.5 .1 1.5 .2 1.5 .9 1.5 .3 1.5-.7 1.5 .3 1.5 .6 1.5 .1 1.5 .3 1.5 .6 1.5 .2 1.5 .7 1.5 .3 1.5-.5 1.5-1 1.5-.7 1.5 .1 1.5 .1 1.5 0 1.5 .7 1.5 1.9 1.5 1.6 1.5 1.3 1.5 .9 1.5-1 1.5-.9 1.5 .3 1.5-.4 1.5-1.1 1.5-1.1 1.5-1.1 1.5-.8 1.5 .2 1.5 1.1 1.5 1.5 1.5 1.6 1.5 1.2 1.5 1 1.5 .8 1.5 1.3 1.5 1.8 1.5 1.4 1.5 1.4 1.5 2.5 1.5 3.5 1.5 3.7 1.5 4 1.5 4 1.5 4.3 1.5 4.8 1.5 3.4 1.5 3 1.5 3.2 1.5 2.5 1.5 2.7 1.5 2.8 1.5 1.9 1.5 1.8 1.5 2.2 1.5 2.9 1.5 3.4 1.5 3.6 1.5 3.5 1.5 3.7 1.5 4.5 1.5 5.3 1.5 5.5 1.5 5.8 1.5 5.5 1.5 3.9 1.5-.5 1.5-2.1 1.5-4.3 1.5-4.5 1.5-5.2 1.5-5.4 1.5-7 1.9-24 .8-24.8 .7-25.8 .6-24.3 .5-21.6"/>
<path class="dd" stroke-opacity="0.28" d="M717.2 665.4l1.5 34.1 1.5 25.3 1.5 22.7 1.5 11.9 1.5 5.1 1.5 4.4 1.5 2.8 1.5 1.5 1.5-.6 1.5-4.7 1.5-5.5 1.5-6.7 1.5-7.6 1.5-6.9 1.5-3.5 1.5-1.2 1.5-2.1 1.5-2.4 1.5-1.3 1.5-1.7 1.5-2.9 1.5-2.7 1.5-.9 1.5-.1 1.5-1.6 1.5-1.9 1.5-1.7 1.5-1 1.5-.4 1.5-1.2 1.5-2.3 1.5-2.4 1.5-2.9 1.5-3.5 1.5-3.6 1.5-3.1 1.5-1.8 1.5-1.6 1.5-2 1.5-2.6 1.5-2.8 1.5-3.2 1.5-3.2 1.5-3 1.5-2.3 1.5-1 1.5-.7 1.5-.4 1.5-.4 1.5-1.6 1.5-2.7 1.5-2.1 1.5-.9 1.5-.5 1.5-1.1 1.5-.7 1.5-.7 1.5-1.7 1.5-1.4 1.5-.6 1.5 .4 1.5 .8 1.5 .7 1.5-.8 1.5-2 1.5-1.7 1.5-.9 1.5-.5 1.5-1.5 1.5-2 1.5-1.6 1.5-1.1 1.5-.7 1.5 .7 1.5 .7 1.5 .6 1.5 1.1 1.5 .4 1.5 0 1.5-.6 1.5-1 1.5 0 1.5 .2 1.5-1.4 1.5-1.7 1.5-1.1 1.5-.4 1.5-.2 1.5-1.5 1.5-2.9 1.5-2.3 1.5-1 1.5-.3 1.5-.3 1.5-.7 1.5-.6 1.5-.1 1.5-.3 1.5-1.4 1.5-2.7 1.5-2.2 1.5-.1 1.5 .6 1.5-.1 1.5-.4 1.5-.4 1.5 .1 1.5-.7 1.5-1.9 1.5-2 1.5-1.7 1.5-2.2 1.5-1.5 1.5-1.8 1.5-1.7 1.5 .4 1.5 .5 1.5-.4 1.5 .2 1.5 1.4 1.5 1.4 1.5 1.1 1.5 1.4 1.5 1.3 1.5 1.1 1.5 1.3 1.5 1 1.5 .6 1.5 1.3 1.5 .5 1.5-.5 1.5 .7 1.5 1.2 1.5 1 1.5 1 1.5-.1 1.5-.5 1.5 .1 1.5 .7 1.5 .8 1.5-1.5 1.5-2.9 1.5-1.3 1.5 2 1.5 2.8 1.5 1.5 1.5 1.8 1.5 2.1 1.5 1.6 1.5 .7 1.5 .9 1.5 1.3 1.5 1.4 1.5 .8 1.5 .7 1.5 .9 1.5 .6 1.5-.7 1.5-1 1.5 .4 1.5 1.6 1.5 2.1 1.5 2 1.5 .9 1.5 .7 1.5 1 1.5 1.3 1.5 1.1 1.5 .5 1.5 .1 1.5-.3 1.5-.8 1.5-.2 1.5 .4 1.5 .5 1.5 1.2 1.5 1 1.5 1 1.5 2 1.5 1.2 1.5 .1 1.5 .8 1.5 1.1 1.5 1 1.5 .4 1.5-1.9 1.5-4.3 1.5-3.3 1.5-.6 1.5-.3 1.5-.3 1.5 .9 1.5 .8 1.5-.3 1.5-.2 1.5-1.1 1.5-2.8 1.5-2 1.5-1.1 1.5-1.4 1.5-1.2 1.5-.9 1.5-.6 1.5-1.2 1.5-2.2 1.5-1.9 1.5-.7 1.5 .1 1.5-.5 1.5-.8 1.5-.1 1.5 .6 1.5-.5 1.5-1.7 1.5-1.4 1.5 0 1.5-.1 1.5-1.5 1.5-.7 1.5 .9 1.5 1.5 1.5 .9 1.5 .7 1.5 .6 1.5 0 1.5-.8 1.5-.1 1.5-.4 1.5-1 1.5-.7 1.5-.7 1.5-.8 1.5-1 1.5-1.8 1.5-1.6 1.5 .1 1.5 1.6 1.5 1.6 1.5 .9 1.5 .3 1.5-1 1.5-.5 1.5 1.1 1.5 1.4 1.5 1.4 1.5 1.5 1.5 .9 1.5 .5 1.5-.2 1.5-.2 1.5 .8 1.5 .9 1.5 .4 1.5 1.3 1.5 3.2 1.5 3.1 1.5 .6 1.5-.1 1.5 .3 1.5 1 1.5 1 1.5 .3 1.5 .6 1.5 .7 1.5-.4 1.5-.1 1.5 1.4 1.5 2.4 1.5 1.5 1.5-.1 1.5 .2 1.5 1 1.5 .6 1.5 .4 1.5 .3 1.5-.2 1.5-.1 1.5-.2 1.5-.9 1.5-.1 1.5 1 1.5 1.3 1.5-.1 1.5-1.5 1.5-1.4 1.5-1.2 1.5-.8 1.5 0 1.5 .1 1.5-.2 1.5 .5 1.5 1.2 1.5 1.3 1.5 .6 1.5-1 1.5-.7 1.5 1.1 1.5 1.1 1.5 .1 1.5 .8 1.5 1.6 1.5 .5 1.5-.1 1.5 0 1.5-.4 1.5 .6 1.5 .7 1.5-1.4 1.5-.7 1.5 1 1.5 1.4 1.5 .6 1.5 .6 1.5 1.5 1.5 2.2 1.5 1.9 1.5-.1 1.5-1.7 1.5-.1 1.5 .6 1.5-.5 1.5-.5 1.5 .1 1.5-.1 1.5 .1 1.5 1.1 1.5 1.5 1.5 1.2 1.5 .7 1.5 .7 1.5 .9 1.5 .4 1.5 1.3 1.5 2.6 1.5 2.5 1.5 1.9 1.5 2.8 1.5 3.4 1.5 3.9 1.5 4.2 1.5 4 1.5 4.9 1.5 4.6 1.5 3.4 1.5 2.7 1.5 2.9 1.5 2.5 1.5 1 1.5 1.4 1.5 3.4 1.5 3.5 1.5 1.8 1.5 1.6 1.5 2.6 1.5 3.4 1.5 4.8 1.5 5 1.5 4 1.5 5.3 1.5 6 1.5 5.1 1.5 3.5 1.5-.3 1.5-2 1.5-5.1 1.5-4.5 1.5-4.9 1.5-6.2 1.5-7.7 1.9-24.9 .8-27.4 .7-28.5 .6-26.9 .5-23.9"/>
<path class="dd" stroke-opacity="0.28" d="M717.2 657.4l1.5 35.7 1.5 26.5 1.5 23.8 1.5 12.8 1.5 5.6 1.5 3.2 1.5 .6 1.5 .6 1.5-.2 1.5-3.8 1.5-4 1.5-5.5 1.5-6.3 1.5-5.4 1.5-3.1 1.5-1.9 1.5-3.3 1.5-3.3 1.5-1.9 1.5-.6 1.5-.4 1.5-.9 1.5-1.8 1.5-2.5 1.5-2 1.5-1.5 1.5-1.3 1.5-1 1.5-.8 1.5-.6 1.5-1.8 1.5-3.6 1.5-4 1.5-3.3 1.5-2.8 1.5-1.7 1.5-1.4 1.5-2.2 1.5-2.9 1.5-2.5 1.5-3 1.5-3.7 1.5-2.9 1.5-1.2 1.5-1.6 1.5-2.5 1.5-1.1 1.5-1.1 1.5-1.9 1.5-1.2 1.5-.6 1.5-2.1 1.5-4.2 1.5-3.7 1.5-.8 1.5 .4 1.5-.4 1.5 .4 1.5 1 1.5 .6 1.5 .2 1.5 .5 1.5 .2 1.5-1.1 1.5-1.8 1.5-2 1.5-1.9 1.5-1.8 1.5-1.7 1.5-1 1.5-.7 1.5-.7 1.5 0 1.5 .4 1.5 .5 1.5 .7 1.5-.4 1.5 .1 1.5 1.2 1.5 .9 1.5-.1 1.5-.1 1.5-1.1 1.5-2.6 1.5-1.9 1.5-.8 1.5-.8 1.5-1.2 1.5-1.8 1.5-2.3 1.5-2.1 1.5-.5 1.5-.3 1.5-1.4 1.5-.8 1.5-.5 1.5-.3 1.5-.2 1.5-1.6 1.5-2 1.5-1.3 1.5-1.5 1.5-.8 1.5 .2 1.5 .2 1.5-.8 1.5-1.2 1.5-.7 1.5-.6 1.5-.9 1.5-1.7 1.5-2.4 1.5-3.3 1.5-3.2 1.5-1.4 1.5 .2 1.5 .5 1.5 .9 1.5 2.1 1.5 1.8 1.5 1.3 1.5 1.1 1.5 .4 1.5 1 1.5 .6 1.5 .1 1.5 0 1.5 .2 1.5 1.2 1.5 1.8 1.5 2.3 1.5 2 1.5 .8 1.5-.1 1.5 .2 1.5 .8 1.5 1.4 1.5 .1 1.5-1.4 1.5-1.8 1.5-1.4 1.5-.5 1.5 .4 1.5 1.4 1.5 1.8 1.5 1.3 1.5 2.1 1.5 3.4 1.5 2.3 1.5 .3 1.5-.9 1.5-.7 1.5 1.2 1.5 1.3 1.5 .4 1.5-.1 1.5 .6 1.5 1.8 1.5 2.3 1.5 1.1 1.5 .2 1.5 .6 1.5 1.3 1.5 2.4 1.5 2 1.5 1.1 1.5 .9 1.5 .2 1.5-1.3 1.5-1 1.5-.4 1.5-.2 1.5 .3 1.5 1.3 1.5 .8 1.5-.4 1.5 .6 1.5 2.7 1.5 2.6 1.5 1.6 1.5 .1 1.5 .2 1.5 .9 1.5 .2 1.5-1.1 1.5-1.7 1.5-2.4 1.5-2.9 1.5-2.5 1.5-1.5 1.5 .1 1.5 1 1.5 .9 1.5 .5 1.5-.8 1.5-2.1 1.5-2.3 1.5-2.2 1.5-2.2 1.5-1.1 1.5-.7 1.5-.8 1.5-1 1.5-1.3 1.5-1.4 1.5-1.3 1.5-.9 1.5-.4 1.5-.1 1.5 .2 1.5 .6 1.5 .4 1.5-.2 1.5-.6 1.5-.8 1.5-.7 1.5-.4 1.5-.3 1.5-.3 1.5-.7 1.5-.9 1.5-.4 1.5 .7 1.5 1.7 1.5 1.3 1.5 .1 1.5 .1 1.5-.2 1.5-.2 1.5-.9 1.5-1.8 1.5-2.9 1.5-2 1.5-.3 1.5-.5 1.5 .1 1.5 1.6 1.5 2 1.5 .7 1.5-.6 1.5-.9 1.5 .5 1.5 2.1 1.5 1.7 1.5 .8 1.5 .6 1.5 .5 1.5 .4 1.5-.1 1.5 .5 1.5 .5 1.5 .4 1.5 1.1 1.5 1.7 1.5 2.2 1.5 2 1.5 1.4 1.5 1.2 1.5 1.6 1.5 1.7 1.5 .2 1.5-1 1.5-1 1.5-.6 1.5 .5 1.5 1.8 1.5 1.3 1.5 .5 1.5 .8 1.5 .5 1.5 .5 1.5 1 1.5 1.3 1.5 .8 1.5 .5 1.5 .6 1.5 .7 1.5-.5 1.5-.5 1.5-.7 1.5-1.1 1.5-.2 1.5-.4 1.5-1.3 1.5-.9 1.5-.2 1.5 .1 1.5-.1 1.5 .6 1.5 1 1.5 .5 1.5 .6 1.5 1 1.5 .9 1.5 .2 1.5-1.1 1.5-1.6 1.5-.4 1.5 .8 1.5 1.1 1.5 .6 1.5 .6 1.5 .4 1.5 .1 1.5 .8 1.5 .8 1.5 0 1.5 .2 1.5-.5 1.5-.2 1.5 .5 1.5 1.1 1.5 1.3 1.5 .8 1.5 1.2 1.5 1.5 1.5 .7 1.5-.6 1.5-.8 1.5-.3 1.5 0 1.5 .1 1.5 .4 1.5 .2 1.5 0 1.5 .8 1.5 1.5 1.5 1.4 1.5 1.4 1.5 .3 1.5 .4 1.5 1.3 1.5 1.5 1.5 2.7 1.5 2.9 1.5 2.3 1.5 2.5 1.5 2.8 1.5 3.9 1.5 4.9 1.5 4.8 1.5 3.7 1.5 3 1.5 3.3 1.5 3.2 1.5 4.1 1.5 3.8 1.5 2.4 1.5 2.1 1.5 1.9 1.5 1.9 1.5 2.7 1.5 2.8 1.5 1.6 1.5 1.4 1.5 3.4 1.5 5.8 1.5 6.1 1.5 5.6 1.5 6.3 1.5 5.9 1.5 3 1.5-1.3 1.5-2 1.5-4.7 1.5-5.7 1.5-6.2 1.5-5.3 1.5-5.8 1.9-19.6 .8-18.9 .7-19.5 .6-18.5 .5-16.4"/>
<path class="dd" stroke-opacity="0.28" d="M717.2 687.1l1.5 23.6 1.5 17.5 1.5 15.7 1.5 10.3 1.5 5.9 1.5 5.5 1.5 2.8 1.5 1.5 1.5-1.8 1.5-6.6 1.5-5.2 1.5-4.7 1.5-5.9 1.5-4.9 1.5-3.8 1.5-3.5 1.5-3.4 1.5-1.5 1.5-.6 1.5-.8 1.5-1.9 1.5-1.8 1.5-.6 1.5-.7 1.5-1.6 1.5-2.1 1.5-2.3 1.5-1.6 1.5-1.5 1.5-1.4 1.5-2.5 1.5-3.7 1.5-3.4 1.5-2.6 1.5-1.8 1.5-1 1.5-1.9 1.5-3.5 1.5-3.8 1.5-3.1 1.5-2.2 1.5-2.6 1.5-3.2 1.5-2.2 1.5-2 1.5-2.1 1.5-1.6 1.5-.6 1.5-.6 1.5-1.2 1.5-1.5 1.5-2.2 1.5-1.9 1.5-1.3 1.5-1.6 1.5-1.6 1.5-.9 1.5-.4 1.5-.1 1.5 .3 1.5 .2 1.5 .4 1.5 .2 1.5-.4 1.5-.9 1.5-1.4 1.5-1.5 1.5-1.1 1.5-.6 1.5-.9 1.5-1.4 1.5-1.4 1.5 0 1.5 1 1.5 .8 1.5 .7 1.5 .9 1.5 .4 1.5-.2 1.5-.5 1.5-.5 1.5-.7 1.5 0 1.5 .2 1.5-1 1.5-2.4 1.5-1.9 1.5-.7 1.5-.1 1.5-.6 1.5-2.4 1.5-2.6 1.5-.8 1.5-.2 1.5-.5 1.5-.5 1.5-.7 1.5-.1 1.5-.6 1.5-1.9 1.5-2.2 1.5-.9 1.5 0 1.5-.4 1.5 .1 1.5-.1 1.5-1.3 1.5-1.6 1.5-1.4 1.5-2.5 1.5-3.3 1.5-2.3 1.5-1.6 1.5-.9 1.5 .6 1.5 1 1.5-.1 1.5-1 1.5 0 1.5 1.8 1.5 .7 1.5-.8 1.5-.5 1.5-.1 1.5 .8 1.5 1.5 1.5 1.3 1.5 .7 1.5 .3 1.5-.2 1.5 .5 1.5 1.7 1.5 1.6 1.5 .6 1.5 .3 1.5 .2 1.5-.4 1.5 .3 1.5 .2 1.5-1.8 1.5-1.6 1.5 .1 1.5 .1 1.5 .5 1.5 1 1.5 1.4 1.5 2.2 1.5 2.3 1.5 2.2 1.5 2.1 1.5 .9 1.5 .8 1.5 .5 1.5-.3 1.5-.3 1.5 .4 1.5 .8 1.5 .9 1.5 1.7 1.5 1.9 1.5 1.2 1.5 .6 1.5 1.4 1.5 2.3 1.5 1.6 1.5 .3 1.5 .8 1.5 1 1.5 .5 1.5 .1 1.5 0 1.5-.9 1.5-1.2 1.5 .6 1.5 1.8 1.5 1.1 1.5 .1 1.5-.1 1.5 .4 1.5 1.4 1.5 1.3 1.5-.1 1.5 .3 1.5 1.1 1.5 .6 1.5-.9 1.5-2.4 1.5-2.3 1.5-1.8 1.5-1.8 1.5-.6 1.5 .9 1.5 .8 1.5-.8 1.5-2 1.5-1.9 1.5-1.3 1.5-1.2 1.5-1.7 1.5-1.3 1.5-2 1.5-2.9 1.5-2.4 1.5-.2 1.5 .8 1.5 .3 1.5-1 1.5-1.9 1.5-1 1.5-.3 1.5-.2 1.5-.3 1.5 0 1.5 .9 1.5 1 1.5 .2 1.5-.9 1.5-1.4 1.5-.9 1.5 1.2 1.5 1.8 1.5 .6 1.5 0 1.5 .4 1.5 .7 1.5 .1 1.5-.7 1.5-.8 1.5-.5 1.5-.5 1.5-.8 1.5-.8 1.5-1.6 1.5-2.1 1.5-.4 1.5 .3 1.5 1 1.5 1.8 1.5 1.6 1.5 1 1.5 .8 1.5 1 1.5 1.4 1.5 .8 1.5 .2 1.5 .3 1.5 .3 1.5 .4 1.5 .3 1.5 1 1.5 .9 1.5 .3 1.5 1.2 1.5 1.8 1.5 1.2 1.5 1.7 1.5 2.2 1.5 1.4 1.5 .4 1.5 .6 1.5 .9 1.5 .2 1.5 .1 1.5-.1 1.5-1.6 1.5-1.2 1.5 1.9 1.5 3.2 1.5 2.7 1.5 .8 1.5-.7 1.5-.7 1.5 0 1.5 .7 1.5 0 1.5-.1 1.5-.1 1.5-.4 1.5 .2 1.5 .2 1.5-.5 1.5-1.1 1.5-1.7 1.5-1 1.5 .4 1.5 0 1.5-1.1 1.5-.5 1.5 1 1.5 1.1 1.5 .5 1.5 0 1.5-.1 1.5-.1 1.5-.4 1.5-.5 1.5 .1 1.5-.4 1.5-.8 1.5 1 1.5 1.6 1.5 .3 1.5-.3 1.5 .3 1.5-.7 1.5-1.3 1.5 1.1 1.5 1.3 1.5-.2 1.5 0 1.5 .3 1.5 .1 1.5 .6 1.5 1.2 1.5 1.3 1.5 1.8 1.5 1.1 1.5 .2 1.5-.6 1.5-1.4 1.5-1 1.5-.3 1.5-.1 1.5 0 1.5 .7 1.5 1.3 1.5 1.3 1.5 .7 1.5 .1 1.5 .9 1.5 2.7 1.5 2.5 1.5 1.2 1.5 1 1.5 1.7 1.5 3.7 1.5 4.3 1.5 3.4 1.5 2.8 1.5 3.3 1.5 3.7 1.5 4.4 1.5 5.4 1.5 5.7 1.5 3.4 1.5 2.4 1.5 2.9 1.5 2.7 1.5 2.3 1.5 2.5 1.5 2.3 1.5 2 1.5 1.7 1.5 2 1.5 3.8 1.5 5.3 1.5 4.5 1.5 3.2 1.5 4.4 1.5 6.5 1.5 6.4 1.5 5 1.5 .9 1.5-3 1.5-6.9 1.5-5.6 1.5-4.9 1.5-5.2 1.5-6 1.9-22.4 .8-23.4 .7-24.3 .6-23 .5-20.4"/>
<path class="dd" stroke-opacity="0.28" d="M717.2 682.7l1.5 27.8 1.5 20.7 1.5 18.6 1.5 11.1 1.5 5.1 1.5 3.7 1.5 2 1.5 1.2 1.5-.2 1.5-3.6 1.5-4.8 1.5-6.2 1.5-6.6 1.5-5.7 1.5-3.9 1.5-1.9 1.5-1.7 1.5-1 1.5-.5 1.5-1.2 1.5-3 1.5-2.8 1.5-1.9 1.5-1.4 1.5-.9 1.5-1 1.5-1 1.5-1.6 1.5-1.3 1.5-.2 1.5-1.6 1.5-3.2 1.5-3 1.5-2.3 1.5-2.9 1.5-3.7 1.5-2.7 1.5-1.4 1.5-2 1.5-3.6 1.5-4 1.5-3 1.5-2.3 1.5-2 1.5-1.2 1.5 .2 1.5 0 1.5-.8 1.5-1.2 1.5-2.4 1.5-2.9 1.5-1.2 1.5-.5 1.5-1.7 1.5-2.3 1.5-2 1.5-1.3 1.5-.5 1.5-.3 1.5-.3 1.5 .1 1.5-.5 1.5-.8 1.5 .2 1.5 .4 1.5-1 1.5-1.5 1.5-1.7 1.5-2.4 1.5-1.9 1.5-.2 1.5 .1 1.5-.6 1.5-.2 1.5 .5 1.5 .3 1.5 .2 1.5 .1 1.5 0 1.5-.3 1.5 .1 1.5 .4 1.5-.8 1.5-1.8 1.5-1.7 1.5-.9 1.5-1.2 1.5-1.3 1.5-1.5 1.5-1.4 1.5-1.7 1.5-1 1.5 .5 1.5 0 1.5-1.4 1.5-.8 1.5-.9 1.5-1.3 1.5-1.1 1.5-1.5 1.5-1.5 1.5-.3 1.5-.4 1.5-1.7 1.5-.5 1.5 .2 1.5-1.6 1.5-1.6 1.5-.4 1.5-.3 1.5-1.5 1.5-1.3 1.5-.8 1.5-1.8 1.5-2.2 1.5-1.9 1.5-.9 1.5 .4 1.5 .7 1.5 .7 1.5 1.1 1.5 1.7 1.5 1.7 1.5 1.3 1.5 .9 1.5 1.3 1.5 .4 1.5 .4 1.5 1.2 1.5 1.2 1.5 1 1.5 .8 1.5 .2 1.5 .9 1.5 .9 1.5 .1 1.5 .3 1.5-.5 1.5-1.6 1.5-1.1 1.5-.6 1.5-.6 1.5-.1 1.5 1.7 1.5 2.3 1.5 1.5 1.5 1 1.5 1.2 1.5 1.2 1.5 1.2 1.5 1 1.5 .8 1.5 1.4 1.5 1.1 1.5 .1 1.5-.2 1.5 .5 1.5 1.3 1.5 .9 1.5 .4 1.5 .7 1.5 1.3 1.5 2.2 1.5 2 1.5 1.2 1.5 1.1 1.5 .3 1.5 .1 1.5 .6 1.5 .5 1.5-.3 1.5-.6 1.5-1.1 1.5-.3 1.5 1.2 1.5 1.7 1.5 1.1 1.5 .7 1.5 .1 1.5 1 1.5 1.9 1.5 .9 1.5 .3 1.5 .2 1.5-.4 1.5-1.4 1.5-2.5 1.5-2.7 1.5-2.3 1.5-1 1.5 1.2 1.5 1.4 1.5-.6 1.5-2.4 1.5-2 1.5-.4 1.5-.4 1.5-2 1.5-2.7 1.5-1.6 1.5-.3 1.5 .5 1.5-.8 1.5-.9 1.5-.4 1.5-1.1 1.5-1.8 1.5-1.6 1.5-.2 1.5 .8 1.5-.3 1.5-1.1 1.5-.7 1.5-.1 1.5 .5 1.5 .2 1.5-1 1.5-1 1.5-1.2 1.5-.7 1.5-.2 1.5 .2 1.5 1 1.5 1.5 1.5 1.1 1.5 .1 1.5-1 1.5-1 1.5-1.8 1.5-2.4 1.5-1 1.5 .2 1.5 .5 1.5-1.2 1.5-2.4 1.5-2 1.5-1.1 1.5 1.1 1.5 2.4 1.5 1 1.5-1 1.5-.6 1.5 1 1.5 1.7 1.5 1 1.5 .4 1.5-.5 1.5-.4 1.5 .8 1.5 1 1.5 .3 1.5 .5 1.5 .8 1.5 1.1 1.5 1.8 1.5 2.3 1.5 2 1.5 1.5 1.5 1.2 1.5-.1 1.5-1.1 1.5-.6 1.5-.4 1.5-.5 1.5 .7 1.5 2 1.5 1.9 1.5 .4 1.5 .4 1.5 1.3 1.5 1.2 1.5 .6 1.5 .2 1.5 0 1.5-.4 1.5 .5 1.5 1.2 1.5 .9 1.5 .6 1.5-.2 1.5-1.5 1.5-2.6 1.5-2.1 1.5-.5 1.5 1 1.5 2 1.5 .1 1.5-.9 1.5-.2 1.5-.3 1.5-.8 1.5 .5 1.5 1.6 1.5 2.2 1.5 1.6 1.5 0 1.5-.2 1.5-.7 1.5-.2 1.5 1.5 1.5 1.1 1.5-.3 1.5-.8 1.5-.4 1.5 0 1.5-.2 1.5 .3 1.5 1.6 1.5 1.1 1.5 0 1.5 .4 1.5 1.3 1.5 .9 1.5 .4 1.5 1.3 1.5 1.5 1.5 1.2 1.5 1 1.5 .4 1.5-.2 1.5-1.1 1.5-.9 1.5 .2 1.5-.1 1.5 .4 1.5 .8 1.5 .4 1.5 1.6 1.5 1.8 1.5 .7 1.5 0 1.5 .6 1.5 2.1 1.5 3.3 1.5 3.3 1.5 2.7 1.5 3.1 1.5 3.2 1.5 2.8 1.5 3.4 1.5 4.7 1.5 4.6 1.5 4 1.5 4.8 1.5 5.1 1.5 3.6 1.5 2.6 1.5 2.2 1.5 1.3 1.5 1.9 1.5 3.3 1.5 3 1.5 2.3 1.5 3.3 1.5 4 1.5 3 1.5 2.7 1.5 4.3 1.5 6.6 1.5 6.9 1.5 5.5 1.5 3 1.5-1 1.5-2.1 1.5-4.7 1.5-4.2 1.5-4.5 1.5-6.2 1.5-7.6 1.9-24.3 .8-25.6 .7-26.6 .6-25 .5-22.3"/>
<path class="dd" stroke-opacity="0.28" d="M717.2 689.8l1.5 23.7 1.5 17.7 1.5 15.8 1.5 10.9 1.5 5.6 1.5 4.5 1.5 2.1 1.5 1.3 1.5 .3 1.5-3.2 1.5-3.6 1.5-5.5 1.5-7.1 1.5-6.5 1.5-3.3 1.5-1.1 1.5-2.5 1.5-2.6 1.5-2.7 1.5-1.9 1.5-.3 1.5-.3 1.5-1.6 1.5-2.7 1.5-2 1.5-1.8 1.5-2.2 1.5-1.6 1.5-.9 1.5-.5 1.5-.5 1.5-1.7 1.5-3.5 1.5-3.6 1.5-3.2 1.5-3.6 1.5-2.9 1.5-2.4 1.5-1.4 1.5-1.6 1.5-2.8 1.5-4.3 1.5-4.5 1.5-3 1.5-1.3 1.5-.6 1.5-1 1.5-1.2 1.5-.1 1.5-.7 1.5-1.5 1.5-2.5 1.5-2.9 1.5-1.9 1.5-1.3 1.5-1.4 1.5-.6 1.5 0 1.5 .4 1.5 .1 1.5-.5 1.5-.3 1.5-.3 1.5-.7 1.5-1.2 1.5-.9 1.5-.7 1.5-1.7 1.5-2.1 1.5-1.8 1.5-1.6 1.5-1.8 1.5-1.2 1.5 .3 1.5 1.6 1.5 .9 1.5 .2 1.5-.1 1.5 .9 1.5 1.2 1.5 .3 1.5-.1 1.5-1 1.5-2.3 1.5-2 1.5-1.5 1.5-1.6 1.5-1.7 1.5-1.4 1.5-.5 1.5-.7 1.5-2 1.5-.7 1.5 0 1.5-.7 1.5-.8 1.5-.8 1.5-1 1.5-1.5 1.5-2.1 1.5-1.9 1.5-2 1.5-1.6 1.5 .4 1.5 1.5 1.5 1 1.5-.4 1.5-1.9 1.5-1.8 1.5-.9 1.5-.8 1.5-1.6 1.5-2.4 1.5-2.2 1.5-1 1.5 .8 1.5 1.7 1.5 .7 1.5-.5 1.5-.4 1.5 .8 1.5 1.5 1.5 1.9 1.5 1 1.5 .6 1.5 .6 1.5 1.1 1.5 1 1.5 .6 1.5 .7 1.5 1.1 1.5 .8 1.5 .8 1.5 1.4 1.5 1.4 1.5 1.4 1.5 .2 1.5-.6 1.5-1 1.5-.9 1.5-.3 1.5-.1 1.5 .8 1.5 1.9 1.5 2.3 1.5 1.8 1.5 .9 1.5 1.5 1.5 1.8 1.5 .8 1.5 .3 1.5 .5 1.5 .7 1.5 .7 1.5 .7 1.5 .6 1.5 .5 1.5 .2 1.5 .3 1.5 .8 1.5 1.2 1.5 2.2 1.5 1.9 1.5 .8 1.5 1.2 1.5 .4 1.5-1.1 1.5 0 1.5 1 1.5 .4 1.5-.5 1.5-.8 1.5-.1 1.5 .7 1.5 .7 1.5-.4 1.5-.3 1.5 1.5 1.5 2 1.5 1.8 1.5 1.2 1.5 .4 1.5 .6 1.5 .2 1.5-.6 1.5-1.8 1.5-2.5 1.5-1.7 1.5-1.1 1.5-1.9 1.5-2 1.5-1 1.5-.5 1.5-.2 1.5-.1 1.5-.7 1.5-1.3 1.5-3.3 1.5-4.4 1.5-1.9 1.5-.1 1.5-1.1 1.5-1.3 1.5-1.2 1.5-.9 1.5-1.2 1.5-1.1 1.5-.3 1.5-.1 1.5-.7 1.5-.8 1.5-.7 1.5-.1 1.5 .4 1.5 0 1.5-1.1 1.5-.2 1.5 .6 1.5-.5 1.5-2 1.5-1.2 1.5 .8 1.5 1.8 1.5 1.9 1.5 .9 1.5-.8 1.5-.7 1.5 .2 1.5-.7 1.5-2 1.5-1.9 1.5-2.3 1.5-1.8 1.5-.3 1.5 .6 1.5 1.3 1.5 1.6 1.5 .1 1.5-.4 1.5-.1 1.5-.2 1.5 .2 1.5 1.3 1.5 1.9 1.5 1.6 1.5 1.1 1.5 .5 1.5 .2 1.5 .7 1.5 1.2 1.5 1.3 1.5 1.2 1.5 1.9 1.5 1.9 1.5 1.8 1.5 1.5 1.5 1.4 1.5 1.4 1.5 .7 1.5 .7 1.5 .1 1.5-1.1 1.5-.7 1.5 .4 1.5 1.4 1.5 1.3 1.5 1.3 1.5 2.1 1.5 1.5 1.5 1.1 1.5 1.3 1.5 1.7 1.5 1.3 1.5 .2 1.5-1.5 1.5-1 1.5 .8 1.5 .4 1.5-.1 1.5 .2 1.5 .2 1.5-.5 1.5-1.4 1.5-1.9 1.5-.8 1.5 .2 1.5 1.5 1.5 1.3 1.5 .4 1.5 1 1.5 .9 1.5-.4 1.5-1.2 1.5-.1 1.5 1.2 1.5 .2 1.5-.9 1.5 .3 1.5 1.1 1.5 .6 1.5 .5 1.5 1.1 1.5 .6 1.5-.2 1.5-.4 1.5-.3 1.5 .9 1.5 1 1.5-.3 1.5-.9 1.5-.4 1.5-.6 1.5 0 1.5 1.7 1.5 3 1.5 2.7 1.5 1.1 1.5-.4 1.5-.7 1.5-.8 1.5-1.6 1.5-1.7 1.5-.1 1.5 .9 1.5 1.4 1.5 1.4 1.5 2.1 1.5 1.3 1.5-.3 1.5-.6 1.5 .1 1.5 1.9 1.5 2.8 1.5 2.4 1.5 2.5 1.5 2.9 1.5 2.3 1.5 1.6 1.5 2.3 1.5 3.9 1.5 4.6 1.5 5.3 1.5 6.1 1.5 4.5 1.5 2.8 1.5 2.8 1.5 2.1 1.5 2.2 1.5 1.9 1.5 .7 1.5 2 1.5 3.4 1.5 2.1 1.5 1.5 1.5 2.8 1.5 4.3 1.5 4.5 1.5 4.2 1.5 6.3 1.5 7.5 1.5 5.6 1.5 2.3 1.5-1.3 1.5-2.6 1.5-5.2 1.5-4.3 1.5-5.2 1.5-6.7 1.5-6.4 1.9-25.5 .8-30 .7-31.2 .6-29.4 .5-26.1"/>
<path class="dd" stroke-opacity="0.28" d="M717.2 671l1.5 30.3 1.5 22.4 1.5 20.3 1.5 11.3 1.5 6.6 1.5 4.7 1.5 1.3 1.5 .7 1.5-.3 1.5-3.4 1.5-4.8 1.5-7.2 1.5-7.5 1.5-5.8 1.5-3.3 1.5-1.5 1.5-1.6 1.5-1.2 1.5-2.7 1.5-2.8 1.5-1.6 1.5-1.8 1.5-2 1.5-1.6 1.5-1 1.5-2 1.5-1.4 1.5 .4 1.5-1.4 1.5-3.6 1.5-2.1 1.5-1.5 1.5-2.6 1.5-3.1 1.5-2.5 1.5-2.3 1.5-2.5 1.5-3.1 1.5-2.8 1.5-2.5 1.5-3.4 1.5-2.9 1.5-1.5 1.5-1.7 1.5-2.1 1.5-1.3 1.5-1.1 1.5-.8 1.5-.7 1.5-.9 1.5-.9 1.5-2.5 1.5-3.2 1.5-2.2 1.5-1.3 1.5-1.9 1.5-1.4 1.5 .1 1.5 .2 1.5 .2 1.5 .6 1.5 .5 1.5 .1 1.5 .1 1.5 .5 1.5-1 1.5-3.2 1.5-3.3 1.5-1.2 1.5-.6 1.5-1.7 1.5-.6 1.5 1.1 1.5-.1 1.5-1 1.5 .3 1.5 .8 1.5 1.8 1.5 1.4 1.5-.8 1.5-1.3 1.5 .1 1.5 .1 1.5-1.1 1.5-1.9 1.5-2.1 1.5-2.3 1.5-.9 1.5-.6 1.5-1.4 1.5-.9 1.5-.3 1.5-1.6 1.5-1.9 1.5-.6 1.5 .3 1.5-.2 1.5-1.2 1.5-1.3 1.5-.4 1.5-1.5 1.5-2 1.5-1.4 1.5-.6 1.5 .5 1.5 1 1.5-.9 1.5-1.9 1.5-.4 1.5-.9 1.5-2.2 1.5-1.2 1.5-.9 1.5-1.6 1.5-1.5 1.5 .7 1.5 1 1.5 .1 1.5 .7 1.5 1.2 1.5 .4 1.5 .3 1.5 1.4 1.5 1.8 1.5 1.2 1.5 1.3 1.5 .7 1.5 0 1.5 .8 1.5 1.6 1.5 1.7 1.5 .9 1.5 .6 1.5 .7 1.5 1.6 1.5 1.7 1.5 0 1.5-.7 1.5-1.1 1.5-.8 1.5 0 1.5 .2 1.5-.4 1.5-.4 1.5 1.1 1.5 2 1.5 1.2 1.5 1.7 1.5 1.8 1.5 1.3 1.5 1.5 1.5 1.1 1.5 .3 1.5 1.2 1.5 2.8 1.5 1.6 1.5 .4 1.5 .8 1.5 .6 1.5 .3 1.5-.1 1.5 .6 1.5 1.8 1.5 2 1.5 1 1.5 .7 1.5 1 1.5-.2 1.5-.2 1.5 .4 1.5-.7 1.5-.7 1.5 .8 1.5 1.9 1.5 .7 1.5-.6 1.5 1.5 1.5 1.7 1.5 .2 1.5-.6 1.5 .6 1.5 2.1 1.5 1.2 1.5 0 1.5-.3 1.5-2.3 1.5-3.6 1.5-2.2 1.5-1 1.5-1 1.5-.4 1.5-.3 1.5-.6 1.5 0 1.5 .2 1.5-1.5 1.5-2.4 1.5-2.1 1.5-1 1.5-.5 1.5-1.6 1.5-2.3 1.5-1.2 1.5-.4 1.5-.7 1.5-.9 1.5-1.4 1.5-1 1.5-.4 1.5-.5 1.5-.3 1.5-1.3 1.5-1.3 1.5 .5 1.5 1.8 1.5 0 1.5-1.9 1.5-1.5 1.5-.1 1.5 .4 1.5 .2 1.5-.4 1.5 .7 1.5 1.7 1.5 .4 1.5-1.3 1.5-1 1.5-.9 1.5-.5 1.5 .2 1.5-1.3 1.5-1.8 1.5-.3 1.5-.3 1.5-.6 1.5-1.4 1.5-1.7 1.5-.5 1.5 .5 1.5 .6 1.5-.5 1.5 .2 1.5 1.8 1.5 1.9 1.5-.1 1.5-1 1.5 1.1 1.5 2.1 1.5 .9 1.5-.3 1.5-.7 1.5 .3 1.5 4.1 1.5 3.7 1.5 1.1 1.5 .3 1.5 .9 1.5 2.1 1.5 2.7 1.5 .3 1.5-2.1 1.5-2.4 1.5-1.2 1.5 .7 1.5 1.5 1.5 1.3 1.5 .6 1.5 1.7 1.5 2.2 1.5 1.8 1.5 1.2 1.5 .7 1.5 1.2 1.5 1.3 1.5 .5 1.5-.9 1.5-2 1.5-1.6 1.5-.4 1.5 1.1 1.5 .9 1.5 .2 1.5-.4 1.5-.1 1.5 0 1.5 .1 1.5-.4 1.5-.4 1.5-.6 1.5-.5 1.5 1.6 1.5 2.5 1.5 1.1 1.5-.4 1.5-1 1.5-.1 1.5 .8 1.5 .5 1.5 .6 1.5 .3 1.5-.2 1.5 .3 1.5 .9 1.5 .9 1.5-.2 1.5-.1 1.5 .5 1.5-.6 1.5-.8 1.5 .9 1.5 1.3 1.5 .2 1.5 0 1.5 1.2 1.5 1.4 1.5 1.1 1.5 1.2 1.5 .9 1.5-.9 1.5-2 1.5-1.1 1.5-.4 1.5-.7 1.5-.4 1.5 .8 1.5 .2 1.5 .3 1.5 1.8 1.5 2 1.5 1.3 1.5 .7 1.5 .4 1.5 .9 1.5 2.4 1.5 3.4 1.5 3.6 1.5 2.1 1.5 2.2 1.5 4 1.5 4.3 1.5 4.4 1.5 4.5 1.5 3.1 1.5 3.1 1.5 4 1.5 3.3 1.5 1.3 1.5 1.9 1.5 2.3 1.5 2.2 1.5 2.4 1.5 2.2 1.5 2.1 1.5 2.8 1.5 4.7 1.5 5.2 1.5 5.3 1.5 5.1 1.5 4.3 1.5 4.1 1.5 4.8 1.5 3.8 1.5-.1 1.5-1.5 1.5-4.2 1.5-3.9 1.5-5.5 1.5-6.6 1.5-7 1.9-24.5 .8-27.5 .7-28.6 .6-27 .5-23.9"/>
<path class="dd" stroke-opacity="0.28" d="M717.2 660.7l1.5 34.7 1.5 25.7 1.5 23.1 1.5 11.9 1.5 6.6 1.5 5.5 1.5 3.7 1.5 1.8 1.5-1.5 1.5-6.3 1.5-7 1.5-6.6 1.5-5.7 1.5-3.7 1.5-2.1 1.5-1.7 1.5-3 1.5-3.8 1.5-3.1 1.5-1.7 1.5-1.6 1.5-1.5 1.5-.5 1.5-.8 1.5-1.9 1.5-2 1.5-2.2 1.5-1.9 1.5-1.8 1.5-1.3 1.5-1.1 1.5-2.2 1.5-3.2 1.5-3 1.5-2 1.5-2.3 1.5-3.7 1.5-3.2 1.5-1.7 1.5-1.7 1.5-2.4 1.5-3.7 1.5-3.6 1.5-1.8 1.5-.9 1.5-.9 1.5-1.9 1.5-2.6 1.5-.9 1.5 .3 1.5-.1 1.5-1.9 1.5-2.8 1.5-1.9 1.5-1.4 1.5-1.2 1.5-1.1 1.5-1.3 1.5-.4 1.5 1 1.5 .6 1.5-.3 1.5-.3 1.5 .1 1.5-.3 1.5-.7 1.5-1.3 1.5-1.4 1.5-.6 1.5-1.5 1.5-2.9 1.5-1.6 1.5 .5 1.5 .7 1.5 .5 1.5 .3 1.5 .4 1.5 1.9 1.5 2.4 1.5 .3 1.5-1.7 1.5-1.6 1.5-.8 1.5-.3 1.5-.9 1.5-1.3 1.5-1.7 1.5-2.5 1.5-2.2 1.5-1.8 1.5-1.3 1.5-.1 1.5-.3 1.5-1.2 1.5-.4 1.5-.8 1.5-1.5 1.5-1.8 1.5-.9 1.5-.3 1.5-.4 1.5-1.4 1.5-.9 1.5 .8 1.5 .9 1.5 0 1.5-1 1.5-1.5 1.5-.9 1.5-.6 1.5-1.4 1.5-2.8 1.5-2.5 1.5-1.1 1.5-.6 1.5-.7 1.5 .3 1.5 1.1 1.5 .8 1.5 .8 1.5 1.1 1.5 1.5 1.5 .9 1.5 .1 1.5 .3 1.5 .7 1.5 1.2 1.5 1.5 1.5 1.4 1.5 1.2 1.5 1.1 1.5 1.7 1.5 2.2 1.5 1 1.5 .5 1.5-.7 1.5-.8 1.5 1.3 1.5 1.6 1.5-.7 1.5-2.6 1.5-1.6 1.5-.7 1.5 .6 1.5 2.8 1.5 2.3 1.5 1.4 1.5 1.2 1.5 1.2 1.5 1.3 1.5 1.4 1.5 1.1 1.5 1 1.5 .7 1.5 0 1.5-.6 1.5-.3 1.5-.4 1.5 1.2 1.5 2 1.5 .8 1.5 1.1 1.5 1.3 1.5 .6 1.5 .1 1.5 .8 1.5 1.9 1.5 .7 1.5-.3 1.5 .2 1.5 .3 1.5-.7 1.5-1.8 1.5-1.6 1.5 .4 1.5 1.8 1.5 1.4 1.5 0 1.5 .5 1.5 1.4 1.5 1.1 1.5 .5 1.5 .8 1.5 .9 1.5-1.6 1.5-3.6 1.5-3.6 1.5-3.1 1.5-1.8 1.5 0 1.5 .4 1.5 .3 1.5 .5 1.5 .4 1.5 .1 1.5-1.4 1.5-2.9 1.5-3.3 1.5-1.6 1.5-.1 1.5-1.2 1.5-2.1 1.5-1.6 1.5-.6 1.5-.9 1.5-.8 1.5-1 1.5-1.3 1.5-1.3 1.5-.3 1.5 .6 1.5-.8 1.5-1.3 1.5 .1 1.5 .6 1.5-.4 1.5-1.1 1.5 .3 1.5 .7 1.5-.4 1.5-1 1.5 0 1.5 1.3 1.5 1.3 1.5 0 1.5-.7 1.5-.3 1.5-.1 1.5-.6 1.5-.7 1.5-.7 1.5-1.3 1.5-1.1 1.5-.6 1.5-.5 1.5 0 1.5-.3 1.5 0 1.5 .3 1.5 .4 1.5 .9 1.5 .4 1.5 .9 1.5 1.9 1.5 2 1.5 1.6 1.5 .8 1.5-.2 1.5-1.1 1.5-.3 1.5 1.8 1.5 2 1.5 2.1 1.5 2.6 1.5 2.2 1.5 1.8 1.5 1.8 1.5 1.3 1.5 .9 1.5 .8 1.5-.2 1.5-1.1 1.5-.5 1.5 0 1.5 .6 1.5 1.7 1.5 1.7 1.5 1.9 1.5 2 1.5 1 1.5 .7 1.5 1.2 1.5 1.4 1.5 .4 1.5-.8 1.5-.9 1.5-1 1.5-.2 1.5-.2 1.5-.8 1.5 .1 1.5 .9 1.5 .3 1.5-.4 1.5-.7 1.5-.3 1.5 .1 1.5-.5 1.5-.8 1.5 .2 1.5 1.4 1.5 1.5 1.5 .3 1.5-.6 1.5-.4 1.5 .3 1.5 .6 1.5 .3 1.5-.2 1.5 .2 1.5 .2 1.5-.4 1.5 .3 1.5 .8 1.5 .3 1.5 .6 1.5 .2 1.5 0 1.5 1 1.5 1.5 1.5 .4 1.5-.4 1.5-.4 1.5 .4 1.5 1.4 1.5 .7 1.5-.1 1.5-.6 1.5-.8 1.5-.3 1.5-.3 1.5-.7 1.5-1.3 1.5-.5 1.5 1.9 1.5 2 1.5 .3 1.5 .4 1.5 1.2 1.5 1.1 1.5 1.5 1.5 2.3 1.5 1.6 1.5 1.1 1.5 1 1.5 2.2 1.5 3 1.5 3.6 1.5 3.8 1.5 3 1.5 3.6 1.5 5.2 1.5 6.2 1.5 5.4 1.5 2.9 1.5 1.4 1.5 2 1.5 2.4 1.5 2.2 1.5 1.6 1.5 1.6 1.5 2.3 1.5 2 1.5 2.9 1.5 5.3 1.5 5.6 1.5 4.1 1.5 4 1.5 4.8 1.5 5.8 1.5 5.7 1.5 3.4 1.5-.6 1.5-2.6 1.5-6.3 1.5-5.6 1.5-4 1.5-4.1 1.5-7.1 1.9-20.6 .8-18.1 .7-18.8 .6-17.7 .5-15.7"/>
<path class="dd" stroke-opacity="0.28" d="M717.2 675l1.5 27.3 1.5 20.3 1.5 18.2 1.5 10.7 1.5 5.7 1.5 4.7 1.5 2.7 1.5 2.4 1.5 .2 1.5-4.4 1.5-4.8 1.5-6.5 1.5-6.5 1.5-5.4 1.5-3.7 1.5-2.4 1.5-1.9 1.5-1.2 1.5-2 1.5-3.1 1.5-1.6 1.5-.8 1.5-2 1.5-2.5 1.5-1.3 1.5-.9 1.5-1.5 1.5-1.8 1.5-2.1 1.5-2.3 1.5-1.5 1.5-1.4 1.5-2.2 1.5-2.6 1.5-3.9 1.5-4.3 1.5-2.8 1.5-1.4 1.5-1.7 1.5-2 1.5-2.7 1.5-3.9 1.5-4 1.5-2.8 1.5-.8 1.5-1.1 1.5-1.4 1.5-.4 1.5-1.6 1.5-1.6 1.5-1.1 1.5-1.3 1.5-1.6 1.5-1.9 1.5-2.4 1.5-1.3 1.5-.1 1.5 0 1.5-.3 1.5 0 1.5 .5 1.5 .8 1.5 .1 1.5-1.4 1.5-2.2 1.5-2.3 1.5-1.9 1.5-2.1 1.5-2.2 1.5 0 1.5 1.2 1.5-.5 1.5-1.5 1.5-1 1.5-.2 1.5 .4 1.5 .6 1.5 1.4 1.5 1 1.5-.8 1.5-1.8 1.5-.3 1.5 1.2 1.5-.6 1.5-2.3 1.5-2.2 1.5-1.8 1.5-1.5 1.5-1.2 1.5-.8 1.5-1.6 1.5-2.7 1.5-1.5 1.5-1 1.5-1.3 1.5-1.1 1.5-.5 1.5-.2 1.5-.9 1.5-2.1 1.5-2.7 1.5-1.4 1.5 .2 1.5 .4 1.5 .9 1.5-.4 1.5-1.7 1.5-1.7 1.5-1.6 1.5-.4 1.5 .4 1.5-.8 1.5-2.5 1.5-2.7 1.5-.8 1.5-.5 1.5-.8 1.5 .2 1.5 1.5 1.5 1.9 1.5 .5 1.5-.3 1.5 .3 1.5 1 1.5 1.8 1.5 1.6 1.5 .7 1.5 .5 1.5 1.1 1.5 1.3 1.5 2.1 1.5 2.3 1.5 1.4 1.5 .7 1.5 1.9 1.5 1.1 1.5-.8 1.5-1.4 1.5-.9 1.5-.2 1.5 .5 1.5 .3 1.5 .1 1.5 .6 1.5 .9 1.5 1.4 1.5 1.8 1.5 2 1.5 2.1 1.5 1.9 1.5 1.8 1.5-.4 1.5-1.8 1.5-.7 1.5 1.1 1.5 2 1.5 1.8 1.5 .9 1.5 .3 1.5 1.1 1.5 3 1.5 2.6 1.5 1.2 1.5 .7 1.5 .7 1.5 .6 1.5 .8 1.5 .9 1.5 .3 1.5-1.4 1.5-.7 1.5 1.1 1.5 .9 1.5 .1 1.5-.1 1.5 1.7 1.5 1.2 1.5-.1 1.5 .3 1.5 .2 1.5 1.2 1.5 2.6 1.5 .7 1.5-.2 1.5 .2 1.5-2 1.5-4.2 1.5-2.8 1.5-1.1 1.5-.3 1.5 .4 1.5-.2 1.5-.8 1.5 .5 1.5 0 1.5-1.3 1.5-2.1 1.5-1.9 1.5-2 1.5-1.8 1.5-.6 1.5-.6 1.5-2.2 1.5-2.5 1.5-.8 1.5 .5 1.5 0 1.5-1.5 1.5-1.7 1.5-.5 1.5 0 1.5-.2 1.5-.1 1.5-.4 1.5-.3 1.5-.4 1.5-.6 1.5-.4 1.5-.5 1.5-.8 1.5 0 1.5 1.5 1.5 1.7 1.5 0 1.5-.2 1.5-.5 1.5-1.7 1.5-1.9 1.5-.5 1.5 .1 1.5-.5 1.5-.8 1.5-.5 1.5-.8 1.5-.5 1.5 .2 1.5 .2 1.5-.3 1.5 .1 1.5 .7 1.5 .4 1.5 1 1.5 1.5 1.5 .8 1.5 .4 1.5 .7 1.5 .8 1.5 .7 1.5-.1 1.5-.7 1.5 .5 1.5 2.3 1.5 1.8 1.5 1.3 1.5 1.5 1.5 1.5 1.5 2.5 1.5 2.4 1.5 .5 1.5-.8 1.5-2.1 1.5-1.4 1.5 .6 1.5 .6 1.5 1.2 1.5 1.2 1.5 .9 1.5 .7 1.5 .8 1.5 1 1.5 .6 1.5 .9 1.5 2.1 1.5 .4 1.5-1.9 1.5-.4 1.5 .4 1.5-.2 1.5-.4 1.5 .2 1.5 .5 1.5-.3 1.5-.3 1.5-.2 1.5-1.1 1.5-1.6 1.5-.2 1.5 .8 1.5 1.1 1.5 .7 1.5-.3 1.5 .1 1.5 .4 1.5 0 1.5-.3 1.5 .3 1.5 .1 1.5-.8 1.5-.4 1.5 .1 1.5-.7 1.5-.6 1.5 1.3 1.5 1 1.5 .3 1.5-.4 1.5-1.2 1.5-1.1 1.5 .3 1.5 .6 1.5 .3 1.5 1 1.5 1.3 1.5 .7 1.5 1.6 1.5 1.6 1.5 .2 1.5-.3 1.5-.4 1.5-1.1 1.5-1.3 1.5-.1 1.5 .5 1.5-.2 1.5-.9 1.5-1.1 1.5 .6 1.5 2.7 1.5 1.9 1.5 .7 1.5 1.5 1.5 1.8 1.5 .7 1.5 .2 1.5 1.7 1.5 3.2 1.5 3.8 1.5 3.9 1.5 3.4 1.5 3.2 1.5 3.5 1.5 3.9 1.5 4.9 1.5 5.3 1.5 3.8 1.5 2.3 1.5 2.7 1.5 2.5 1.5 1.4 1.5 1.8 1.5 3 1.5 3.1 1.5 2.8 1.5 3.1 1.5 2.9 1.5 3 1.5 4.5 1.5 6.4 1.5 6.1 1.5 6 1.5 5.4 1.5 2.8 1.5-.8 1.5-.9 1.5-2.7 1.5-3.6 1.5-5.4 1.5-6.1 1.5-7.2 1.9-21.1 .8-19.6 .7-20.5 .6-19.3 .5-17.1"/>
<path class="dd" stroke-opacity="0.28" d="M717.2 654.7l1.5 38.8 1.5 28.7 1.5 25.9 1.5 12.2 1.5 5.3 1.5 4.2 1.5 2.8 1.5 2.6 1.5-.1 1.5-4.4 1.5-4.6 1.5-5.3 1.5-5.8 1.5-6.2 1.5-5.5 1.5-3.3 1.5-2.3 1.5-1.2 1.5-.5 1.5-.8 1.5-1.1 1.5-1.8 1.5-2.1 1.5-2 1.5-1.7 1.5-1.3 1.5-.4 1.5-1 1.5-2.2 1.5-1.7 1.5-1.7 1.5-2 1.5-1.8 1.5-2.1 1.5-2.1 1.5-2.5 1.5-3.2 1.5-3.1 1.5-3 1.5-2.9 1.5-2.5 1.5-1.9 1.5-1.9 1.5-3.1 1.5-2.8 1.5-.6 1.5 .4 1.5-.5 1.5-.2 1.5-.4 1.5-1.9 1.5-2.7 1.5-2 1.5-2.4 1.5-3.2 1.5-1.6 1.5-.1 1.5 .5 1.5 .5 1.5-.2 1.5-.5 1.5-.1 1.5 .7 1.5 .2 1.5-.7 1.5-.2 1.5-.2 1.5-1.4 1.5-2.4 1.5-2.7 1.5-1.9 1.5-.5 1.5 0 1.5 .7 1.5 .2 1.5-.4 1.5 .2 1.5 .8 1.5 1.3 1.5 .2 1.5-.4 1.5-.1 1.5-.3 1.5-1.8 1.5-2.9 1.5-2.1 1.5-.1 1.5 .4 1.5-1.4 1.5-2.3 1.5-1.8 1.5-.7 1.5-.5 1.5-1.4 1.5-1.4 1.5-.5 1.5-.8 1.5-2 1.5-1.4 1.5-.1 1.5-.7 1.5-1.6 1.5-1.3 1.5-.7 1.5-.4 1.5-.4 1.5-.7 1.5-.6 1.5-.3 1.5-1.3 1.5-1.8 1.5-1.4 1.5-1.5 1.5-1.4 1.5-1.8 1.5-1.4 1.5-.6 1.5 1.1 1.5 2.7 1.5 1.3 1.5-.3 1.5-.1 1.5 .8 1.5 1.8 1.5 1.4 1.5 .5 1.5 .8 1.5 1.2 1.5 .9 1.5 .5 1.5 .8 1.5 1.6 1.5 1.2 1.5 1.1 1.5 1.1 1.5-.2 1.5-.7 1.5-1.5 1.5-1.8 1.5-.9 1.5 0 1.5-.4 1.5-.5 1.5 .5 1.5 1.6 1.5 2.4 1.5 2.3 1.5 2.1 1.5 1.9 1.5-.2 1.5-.3 1.5 1.9 1.5 2.2 1.5 .7 1.5 0 1.5-.5 1.5-.8 1.5-.1 1.5 1.4 1.5 2.2 1.5 2.3 1.5 1.7 1.5 1.9 1.5 2.1 1.5 .7 1.5-.6 1.5-.4 1.5 .5 1.5 .7 1.5-.4 1.5-1.3 1.5-.7 1.5 .9 1.5 1.2 1.5 .2 1.5 .2 1.5 1.9 1.5 1.4 1.5 .7 1.5 1.1 1.5 1.1 1.5 .6 1.5 .7 1.5-.2 1.5-.9 1.5-1.8 1.5-3 1.5-3.2 1.5-3.2 1.5-2.2 1.5 .2 1.5 1.6 1.5 1.1 1.5-.1 1.5-.5 1.5-.6 1.5-2.4 1.5-2.6 1.5-1 1.5-.8 1.5-1.4 1.5-1.4 1.5-.7 1.5-1 1.5-1.3 1.5-2 1.5-1 1.5 .1 1.5-.2 1.5-.7 1.5-2.1 1.5-2 1.5 .2 1.5 1.6 1.5 .6 1.5-.6 1.5-1.2 1.5-.4 1.5-.2 1.5-1.3 1.5-1.3 1.5 .3 1.5 1.4 1.5 1.4 1.5 1.7 1.5 .3 1.5-1.9 1.5-2.4 1.5-1.1 1.5-.8 1.5-2.2 1.5-2.2 1.5-.7 1.5 .2 1.5-.4 1.5-.1 1.5 1.5 1.5 2 1.5 .3 1.5-.6 1.5-.2 1.5 .2 1.5 .8 1.5 1.6 1.5 1.5 1.5 1.4 1.5 1.4 1.5 .4 1.5-.6 1.5-.7 1.5-.7 1.5 .4 1.5 1.6 1.5 2.3 1.5 2.3 1.5 2 1.5 2.1 1.5 2.1 1.5 1 1.5-.6 1.5-.3 1.5 .2 1.5 .1 1.5-.2 1.5 0 1.5 1 1.5 1.5 1.5 2.1 1.5 1.6 1.5 1.1 1.5 1.6 1.5 .8 1.5-.3 1.5-.6 1.5-.3 1.5 .5 1.5 .9 1.5 .2 1.5 .2 1.5 .5 1.5-1.3 1.5-2 1.5-.2 1.5 1.3 1.5 1.3 1.5 .9 1.5 0 1.5-1 1.5-.5 1.5 1.7 1.5 2.2 1.5-.6 1.5-1 1.5 .7 1.5 .5 1.5-1.4 1.5-2.2 1.5 .3 1.5 2 1.5 1.7 1.5 1.4 1.5 .2 1.5-.3 1.5 .2 1.5-.6 1.5-.6 1.5 .5 1.5 .3 1.5 0 1.5 1 1.5 1.6 1.5 .5 1.5 .2 1.5 .8 1.5 2 1.5 2 1.5 .3 1.5-.7 1.5-.8 1.5-.4 1.5-.9 1.5-2.1 1.5-1 1.5 .6 1.5 .6 1.5 .9 1.5 .8 1.5 .5 1.5 2.2 1.5 2.3 1.5 1 1.5 1.4 1.5 3 1.5 3 1.5 1.4 1.5 1.7 1.5 2.8 1.5 3.4 1.5 3.4 1.5 3.3 1.5 3 1.5 4.4 1.5 5.9 1.5 4.7 1.5 3 1.5 2.8 1.5 2.8 1.5 2.2 1.5 2.9 1.5 3 1.5 1.3 1.5 1.3 1.5 2.1 1.5 3.5 1.5 4.4 1.5 4.1 1.5 5.2 1.5 5.8 1.5 5.6 1.5 5.8 1.5 4.8 1.5 2.6 1.5-1.1 1.5-1.8 1.5-4.7 1.5-5.3 1.5-5.3 1.5-4.6 1.5-6 1.9-26.4 .8-31.1 .7-32.3 .6-30.4 .5-27"/>
<path class="dd" stroke-opacity="0.28" d="M717.2 672.2l1.5 32.9 1.5 24.5 1.5 22 1.5 10.5 1.5 5.2 1.5 5.8 1.5 3.1 1.5 .6 1.5-2 1.5-5.6 1.5-5.2 1.5-4.8 1.5-5.1 1.5-4.9 1.5-4.2 1.5-2.9 1.5-2.9 1.5-1.6 1.5-.7 1.5-.8 1.5-1.7 1.5-1.1 1.5-1.1 1.5-1.8 1.5-1.5 1.5-.7 1.5-.8 1.5-1.5 1.5-2.2 1.5-2.8 1.5-2.9 1.5-1.8 1.5-2.2 1.5-3.5 1.5-2.3 1.5-1.2 1.5-2.5 1.5-3 1.5-3.5 1.5-3.7 1.5-3.5 1.5-3.1 1.5-2.8 1.5-2.1 1.5-1.4 1.5-.6 1.5 .1 1.5-1.2 1.5-2.6 1.5-2.3 1.5-2.4 1.5-2 1.5-.6 1.5 .2 1.5-.7 1.5-1.9 1.5-1.9 1.5-1.7 1.5-1.2 1.5-.7 1.5 0 1.5 .6 1.5 1.1 1.5 0 1.5-1.1 1.5-.7 1.5-1.3 1.5-2.4 1.5-2.9 1.5-1.9 1.5-1 1.5 .1 1.5 .9 1.5 .3 1.5 .3 1.5 .5 1.5-.1 1.5 0 1.5 .2 1.5 .2 1.5 .1 1.5-.2 1.5-.6 1.5-1.1 1.5-1.3 1.5-1.1 1.5-.7 1.5-1.5 1.5-2.3 1.5-1.3 1.5-1.7 1.5-2.2 1.5-.7 1.5 .7 1.5-.2 1.5-.9 1.5-1.5 1.5-1.6 1.5-1.1 1.5-.9 1.5-1.1 1.5-1.7 1.5-2.2 1.5-1.2 1.5 1.2 1.5 1.4 1.5-.4 1.5-.4 1.5-.3 1.5-2 1.5-2.8 1.5-2.3 1.5-2.5 1.5-2.5 1.5-1.4 1.5 .1 1.5 .6 1.5 .3 1.5 .8 1.5 1.9 1.5 1.8 1.5 1.4 1.5 .7 1.5-.6 1.5-1.2 1.5-.3 1.5 .3 1.5 1 1.5 1.9 1.5 2.2 1.5 1.5 1.5 .9 1.5 .9 1.5 1.1 1.5 .7 1.5-.1 1.5 .5 1.5 .7 1.5-.4 1.5-1.2 1.5-2 1.5-.6 1.5 1.5 1.5 1.2 1.5 .3 1.5 1.3 1.5 2.4 1.5 2.5 1.5 2.3 1.5 .2 1.5-.5 1.5 .2 1.5 .9 1.5 .9 1.5 0 1.5-.4 1.5 0 1.5 1 1.5 1.5 1.5 1.4 1.5 1.7 1.5 1.1 1.5 .6 1.5 1.4 1.5 2.3 1.5 1.6 1.5 .1 1.5-.7 1.5-.6 1.5-.4 1.5 .1 1.5 .6 1.5 .7 1.5-.1 1.5 .2 1.5 .9 1.5 1.6 1.5 1.9 1.5 1.1 1.5 0 1.5 .2 1.5 1.6 1.5 .6 1.5-.7 1.5-.6 1.5-1.4 1.5-2.5 1.5-1.9 1.5-1.2 1.5-1.7 1.5-1.3 1.5 .3 1.5 1 1.5 .6 1.5-.5 1.5-1.9 1.5-2.4 1.5-1.8 1.5-.2 1.5-.6 1.5-2.4 1.5-2 1.5-1.4 1.5-1.5 1.5-.4 1.5 .3 1.5 .1 1.5-1.1 1.5-1 1.5 .2 1.5-.5 1.5-.8 1.5 .5 1.5 .8 1.5 .2 1.5-.4 1.5-1.3 1.5-.9 1.5-.3 1.5-.2 1.5-.8 1.5 .6 1.5 1.4 1.5 1 1.5 1 1.5 .5 1.5-.6 1.5-1.8 1.5-2 1.5-1.2 1.5-.7 1.5-1.3 1.5-2.1 1.5-1.3 1.5 .3 1.5 1.3 1.5 .9 1.5-.3 1.5-.8 1.5-.8 1.5 .6 1.5 1.6 1.5 1.5 1.5 1.4 1.5 .9 1.5 1 1.5 1 1.5 .8 1.5-.6 1.5-1.3 1.5 .3 1.5 2.1 1.5 1.8 1.5 1.3 1.5 2.3 1.5 2.8 1.5 1.7 1.5 .7 1.5 .7 1.5 .3 1.5-.9 1.5-.9 1.5-.4 1.5-.6 1.5-.2 1.5 1.1 1.5 2.2 1.5 3.1 1.5 2 1.5 .4 1.5 .3 1.5 .3 1.5 0 1.5-.1 1.5 0 1.5 .5 1.5 .9 1.5 .1 1.5-.3 1.5-.8 1.5-1.5 1.5-.9 1.5-.1 1.5-.6 1.5-.3 1.5 .1 1.5-.8 1.5-.9 1.5-.4 1.5 .8 1.5 2.3 1.5 2 1.5 .9 1.5-1.3 1.5-1.5 1.5 .9 1.5 1.8 1.5 .6 1.5-.9 1.5-.3 1.5 .9 1.5 1 1.5 1.1 1.5 .7 1.5-.2 1.5-1 1.5-1.4 1.5-.4 1.5 .9 1.5 .8 1.5 .3 1.5 .9 1.5 .9 1.5 .3 1.5 .4 1.5 .5 1.5 0 1.5 .9 1.5 .9 1.5-.7 1.5-1.8 1.5-1.7 1.5-.9 1.5 0 1.5 .7 1.5 .8 1.5 .1 1.5-.2 1.5 .5 1.5 1.5 1.5 1.8 1.5 1.9 1.5 1.7 1.5 1 1.5 1.5 1.5 2.6 1.5 2.7 1.5 3.2 1.5 3.7 1.5 5.1 1.5 4.9 1.5 3.1 1.5 4.2 1.5 4.8 1.5 2.6 1.5 2 1.5 2.7 1.5 2.4 1.5 1.8 1.5 1.6 1.5 2.4 1.5 2.4 1.5 2.2 1.5 2.8 1.5 3 1.5 4.3 1.5 6.1 1.5 5.7 1.5 5.1 1.5 5.3 1.5 5.1 1.5 3.3 1.5-.2 1.5-1.7 1.5-4.1 1.5-3.8 1.5-4.6 1.5-5.9 1.5-6.8 1.9-24.7 .8-27.4 .7-28.5 .6-26.8 .5-23.9"/>
<path class="dd" stroke-opacity="0.28" d="M717.2 647.9l1.5 37 1.5 27.5 1.5 24.6 1.5 12.2 1.5 6.2 1.5 5.5 1.5 3.3 1.5 2.5 1.5 .7 1.5-5 1.5-6.6 1.5-7 1.5-6.8 1.5-5.6 1.5-3.3 1.5-.8 1.5-2.2 1.5-3 1.5-2.9 1.5-1.9 1.5-.9 1.5-1.3 1.5-1.5 1.5-1.6 1.5-1.8 1.5-1.8 1.5-1.2 1.5-.4 1.5-1 1.5-1.4 1.5-1.3 1.5-1.9 1.5-3.1 1.5-3.6 1.5-3.8 1.5-2.5 1.5-.8 1.5 0 1.5-1.5 1.5-4.5 1.5-5.4 1.5-4 1.5-2.1 1.5-1.4 1.5-2.1 1.5-1.6 1.5-.9 1.5-.4 1.5-.7 1.5-1.4 1.5-1 1.5-.9 1.5-.4 1.5-.4 1.5-2.1 1.5-3.1 1.5-1.7 1.5 .8 1.5 .1 1.5-1.1 1.5-.2 1.5 .2 1.5 .2 1.5 .4 1.5 .2 1.5-.4 1.5-1.8 1.5-2.5 1.5-2 1.5-1.5 1.5-.6 1.5 .3 1.5-.4 1.5-1.4 1.5-1 1.5 1.3 1.5 2.3 1.5 1.1 1.5-.5 1.5-1.4 1.5-1.2 1.5 .3 1.5 .3 1.5-.1 1.5-1.1 1.5-2.4 1.5-2.4 1.5-1.4 1.5-.6 1.5-1 1.5-1.5 1.5-.9 1.5 .1 1.5-.2 1.5-1.3 1.5-.8 1.5-.1 1.5-.3 1.5-1.3 1.5-2.3 1.5-1.7 1.5-.7 1.5-.7 1.5-1.1 1.5-.1 1.5 .7 1.5-.2 1.5-1.2 1.5-.9 1.5-1.3 1.5-2 1.5-1.6 1.5-1.9 1.5-2.3 1.5-1 1.5 .2 1.5 .6 1.5 1.2 1.5 .7 1.5 .5 1.5 0 1.5-.1 1.5 .4 1.5 .7 1.5 1.3 1.5 1.9 1.5 1.1 1.5 .1 1.5 1.4 1.5 1.9 1.5 .5 1.5 .8 1.5 1.8 1.5 1.2 1.5 1.1 1.5 1.2 1.5-.1 1.5-1.4 1.5-1.3 1.5-.9 1.5-.3 1.5 .5 1.5 1 1.5 .7 1.5 .8 1.5 1.2 1.5 1.9 1.5 2.1 1.5 1.8 1.5 .8 1.5 .2 1.5 .7 1.5 1.6 1.5 1.2 1.5 .6 1.5 .7 1.5 .4 1.5-.4 1.5 0 1.5 .3 1.5 1.3 1.5 2 1.5 2 1.5 1.7 1.5 1.8 1.5 1.5 1.5 .2 1.5 .2 1.5 .3 1.5-.9 1.5-.9 1.5 .2 1.5 .3 1.5-.1 1.5 .1 1.5 1.1 1.5 2.4 1.5 1.7 1.5 .3 1.5 .3 1.5 1.3 1.5 2.3 1.5 .8 1.5-1 1.5-1.6 1.5-2.4 1.5-2.7 1.5-1.7 1.5-1.2 1.5-1.2 1.5-1.4 1.5-.1 1.5 1.6 1.5 1 1.5-.6 1.5-2.4 1.5-2.6 1.5-1.8 1.5-1.6 1.5-1.7 1.5-1.1 1.5-1.7 1.5-2.4 1.5-1.2 1.5-.5 1.5-1.2 1.5-1.2 1.5-.8 1.5-.1 1.5-.2 1.5-.3 1.5-.4 1.5-.7 1.5-.1 1.5 0 1.5 0 1.5-.6 1.5-1.1 1.5-.5 1.5-1 1.5-1.4 1.5 .8 1.5 3.5 1.5 2.2 1.5-.8 1.5-1.5 1.5-1.2 1.5-1 1.5-.9 1.5-1.9 1.5-2.3 1.5-1.7 1.5-1.3 1.5-1 1.5 0 1.5 .8 1.5 .8 1.5-.4 1.5-.8 1.5 .8 1.5 1.7 1.5 1 1.5 0 1.5-.5 1.5 .4 1.5 1.5 1.5 1.6 1.5 .8 1.5 0 1.5 .2 1.5 .3 1.5 .2 1.5 .2 1.5 1.2 1.5 1.5 1.5 1.3 1.5 1.6 1.5 1.5 1.5 .5 1.5 .4 1.5 .9 1.5-.3 1.5-.7 1.5 .5 1.5 .9 1.5 .4 1.5 .8 1.5 .3 1.5 0 1.5 1.5 1.5 2 1.5 1 1.5 .4 1.5 .5 1.5 .2 1.5-.1 1.5-.3 1.5 .4 1.5 .3 1.5-.2 1.5 .3 1.5-.3 1.5-1 1.5-1.3 1.5-.7 1.5 .7 1.5 1.1 1.5 .4 1.5-.4 1.5-.9 1.5 .1 1.5 1.2 1.5 .8 1.5 .3 1.5 .3 1.5 .3 1.5 .2 1.5 .5 1.5 .3 1.5-.3 1.5 .7 1.5 1.3 1.5 1.5 1.5 1.4 1.5-.1 1.5-1.9 1.5-1.9 1.5 .2 1.5 1.4 1.5 .5 1.5 0 1.5 .1 1.5 1 1.5 1.5 1.5 .3 1.5-.6 1.5 .3 1.5 1.3 1.5 .4 1.5-.3 1.5-.2 1.5 0 1.5-.5 1.5-.8 1.5-.4 1.5 .7 1.5 1.7 1.5 1.2 1.5 .6 1.5 .5 1.5 .9 1.5 1.6 1.5 2.7 1.5 3.1 1.5 2.1 1.5 2.3 1.5 3.4 1.5 2.9 1.5 3.4 1.5 4.6 1.5 4.5 1.5 4.8 1.5 4.5 1.5 2.8 1.5 3.2 1.5 2.9 1.5 2.1 1.5 1.8 1.5 1.9 1.5 3.3 1.5 4.2 1.5 3.5 1.5 2.8 1.5 1.8 1.5 2 1.5 3.6 1.5 4.8 1.5 5.6 1.5 6.1 1.5 5.9 1.5 5.5 1.5 3.6 1.5-1.4 1.5-3.6 1.5-5.4 1.5-3.2 1.5-4.2 1.5-6.1 1.5-7.1 1.9-29.2 .8-37 .7-38.4 .6-36.3 .5-32.2"/>
<path class="dd" stroke-opacity="0.28" d="M717.2 648.8l1.5 43.9 1.5 32.4 1.5 29.3 1.5 13.3 1.5 6.3 1.5 5.5 1.5 1.9 1.5-.2 1.5-.5 1.5-3.6 1.5-5.8 1.5-6.7 1.5-5 1.5-4.3 1.5-4.3 1.5-3.1 1.5-3.5 1.5-4 1.5-2.4 1.5-.1 1.5 .1 1.5-1.4 1.5-2.4 1.5-2.1 1.5-2.5 1.5-2.5 1.5-1.2 1.5-.7 1.5-1.6 1.5-2.1 1.5-2.2 1.5-1.7 1.5-1.7 1.5-3.1 1.5-3.2 1.5-3.2 1.5-3.2 1.5-3 1.5-2.4 1.5-2.2 1.5-2.7 1.5-3.3 1.5-3.7 1.5-3.9 1.5-2 1.5 .2 1.5 .2 1.5-.6 1.5-.4 1.5-1.4 1.5-1.9 1.5-2.7 1.5-2.9 1.5-1.3 1.5-1.8 1.5-2.5 1.5-1.3 1.5 .1 1.5 .2 1.5-.3 1.5 .1 1.5-.2 1.5-1.9 1.5-1.5 1.5 .5 1.5 .4 1.5-1.1 1.5-1.2 1.5-1.6 1.5-1.9 1.5-1.4 1.5-1.7 1.5-.3 1.5 .9 1.5 .4 1.5 0 1.5-.8 1.5 .2 1.5 1.2 1.5 1.2 1.5 .3 1.5-.6 1.5-1.4 1.5-1.9 1.5-1.8 1.5-.6 1.5-1.2 1.5-2.9 1.5-2.2 1.5-.7 1.5-.1 1.5 .3 1.5-.4 1.5-.5 1.5-.4 1.5 0 1.5-.8 1.5-1.7 1.5-1.1 1.5-1.1 1.5-1.8 1.5-1.6 1.5-.6 1.5 .2 1.5 .3 1.5 .1 1.5 .2 1.5-.1 1.5-1.3 1.5-1.6 1.5-1.8 1.5-2.1 1.5-1.7 1.5-1.5 1.5-1.5 1.5-.7 1.5 1.1 1.5 1.7 1.5 1.1 1.5 .4 1.5 .7 1.5 1.6 1.5 1.6 1.5 1.6 1.5 1.3 1.5 1.1 1.5 1 1.5 .2 1.5 1 1.5 .8 1.5-.4 1.5-.4 1.5 1.4 1.5 1.9 1.5 .4 1.5-.1 1.5 0 1.5 .2 1.5-.5 1.5-.4 1.5-1.1 1.5-1.1 1.5-.5 1.5 .1 1.5 1.6 1.5 2.2 1.5 2.2 1.5 2.5 1.5 1.4 1.5 .4 1.5 .4 1.5 .4 1.5-.1 1.5 .2 1.5 1.2 1.5 1.8 1.5 1.7 1.5 1.1 1.5 0 1.5-1.2 1.5-.4 1.5 2.2 1.5 3.7 1.5 1.7 1.5 .4 1.5 1 1.5 .7 1.5 0 1.5-.6 1.5-.7 1.5 .1 1.5 .1 1.5-.4 1.5 .3 1.5 .5 1.5 0 1.5 .6 1.5 .8 1.5 .6 1.5 1.5 1.5 1.9 1.5 .3 1.5 .3 1.5 1.3 1.5-.1 1.5-1.6 1.5-2 1.5-2.4 1.5-3 1.5-1.9 1.5-.1 1.5 .6 1.5 .8 1.5 .8 1.5-.2 1.5-1.3 1.5-2.8 1.5-3.2 1.5-2.1 1.5-2.2 1.5-2.7 1.5-1.3 1.5 0 1.5 .7 1.5-.4 1.5-.3 1.5 .3 1.5-.8 1.5-1 1.5-.4 1.5-.6 1.5-1.1 1.5-.9 1.5 .1 1.5 .5 1.5 .2 1.5-.6 1.5-1 1.5-.6 1.5-.1 1.5 .5 1.5 .8 1.5 .4 1.5 .9 1.5 2.4 1.5 1 1.5-1.7 1.5-1.3 1.5-.8 1.5-1.9 1.5-1.9 1.5-1.5 1.5-1.1 1.5-.6 1.5-.3 1.5-.2 1.5 .3 1.5 1.3 1.5 1.4 1.5 .9 1.5 .3 1.5 .4 1.5 .1 1.5 .6 1.5 1.8 1.5 1.8 1.5 1.7 1.5 .6 1.5-1.5 1.5-2.1 1.5-.2 1.5 2 1.5 3.3 1.5 2.7 1.5 2 1.5 1.4 1.5 .9 1.5 .7 1.5-.5 1.5-.3 1.5 .7 1.5-.3 1.5-1.7 1.5-.2 1.5 1.8 1.5 1 1.5 .3 1.5 .8 1.5 1 1.5 .7 1.5 1 1.5 1.3 1.5 .3 1.5-.1 1.5-.1 1.5-.4 1.5 0 1.5 .5 1.5 .2 1.5-.8 1.5-.7 1.5 .1 1.5-.4 1.5-1.1 1.5-.5 1.5-.1 1.5 .2 1.5 .1 1.5 .3 1.5 .6 1.5 .3 1.5-.1 1.5 .2 1.5-.4 1.5-.3 1.5 1 1.5 1.7 1.5 1.2 1.5 .6 1.5-.2 1.5-.6 1.5 .2 1.5 .4 1.5-.3 1.5 .3 1.5 1.4 1.5 .6 1.5-.5 1.5-.2 1.5 .1 1.5 .5 1.5 .8 1.5 0 1.5 1.2 1.5 3.3 1.5 2.2 1.5 .3 1.5 .4 1.5 .1 1.5-.7 1.5 0 1.5 0 1.5-1 1.5-.9 1.5 0 1.5 1.3 1.5 1.5 1.5 .3 1.5 1.1 1.5 2.4 1.5 1.8 1.5 1.4 1.5 1.4 1.5 2.5 1.5 3.6 1.5 2.8 1.5 2.3 1.5 2.3 1.5 3.4 1.5 5.1 1.5 5.3 1.5 4.6 1.5 3.8 1.5 2 1.5 2.8 1.5 4.2 1.5 3.6 1.5 2.6 1.5 1.7 1.5 1.5 1.5 1.9 1.5 2.6 1.5 2.8 1.5 2.6 1.5 2.8 1.5 3.8 1.5 5.6 1.5 5.3 1.5 5.2 1.5 5.8 1.5 6.1 1.5 3.9 1.5-.8 1.5-2.7 1.5-4.4 1.5-4.1 1.5-5.3 1.5-6.4 1.5-6.8 1.9-29.4 .8-36.2 .7-37.6 .6-35.4 .5-31.4"/>
<path class="dd" stroke-opacity="0.28" d="M717.2 667l1.5 33.8 1.5 25 1.5 22.5 1.5 11.9 1.5 7.2 1.5 5.3 1.5 1 1.5 .5 1.5 .6 1.5-3 1.5-4.2 1.5-6.4 1.5-6.9 1.5-5.2 1.5-3.4 1.5-2.6 1.5-3 1.5-2.6 1.5-2.2 1.5-2.2 1.5-1.4 1.5-.9 1.5-1.4 1.5-1.5 1.5-1.6 1.5-2.3 1.5-1.4 1.5-.4 1.5-.7 1.5-2 1.5-2.8 1.5-2 1.5-2.3 1.5-3.1 1.5-3.1 1.5-2.5 1.5-1.8 1.5-2.5 1.5-3.5 1.5-3.5 1.5-2.7 1.5-2.2 1.5-3.2 1.5-3.7 1.5-3.3 1.5-2 1.5-.3 1.5 .9 1.5 .2 1.5-1.1 1.5-1.9 1.5-3.2 1.5-3.2 1.5-2.2 1.5-1.1 1.5-.4 1.5-.1 1.5 .4 1.5 .2 1.5-.9 1.5-.2 1.5-.1 1.5-.9 1.5-.8 1.5-.5 1.5-1.5 1.5-1.5 1.5-2.3 1.5-2.6 1.5-1.5 1.5-.8 1.5-1 1.5-.9 1.5 .9 1.5 2.1 1.5 .9 1.5 .3 1.5-.3 1.5-.3 1.5 .2 1.5-1 1.5-1.7 1.5-.9 1.5 .4 1.5 0 1.5-.9 1.5-1.1 1.5-1.8 1.5-1.9 1.5-1 1.5-.5 1.5-1.3 1.5-1.7 1.5 .2 1.5 .1 1.5-1.8 1.5-1.6 1.5-.9 1.5-.4 1.5-.5 1.5-.7 1.5-.1 1.5 .2 1.5-.9 1.5-1.5 1.5 .1 1.5 .3 1.5-1.1 1.5-1.4 1.5-.5 1.5-2.3 1.5-3.1 1.5-1.2 1.5 0 1.5-.5 1.5-1.4 1.5-.5 1.5 1.1 1.5 1.7 1.5 1.4 1.5 .1 1.5 .5 1.5 2.1 1.5 1.8 1.5 1.6 1.5 1.4 1.5 1 1.5 .5 1.5 .7 1.5 .5 1.5 .8 1.5 1.6 1.5 1.7 1.5 1.2 1.5 .6 1.5-.1 1.5-.7 1.5 .8 1.5 .6 1.5-1.2 1.5-1.6 1.5 .5 1.5 1.9 1.5 .8 1.5-.3 1.5 .2 1.5 1.3 1.5 2 1.5 1.7 1.5 .5 1.5-.1 1.5 .1 1.5 .7 1.5 1.8 1.5 2.1 1.5 .5 1.5-.8 1.5 .1 1.5 1.4 1.5 1.7 1.5 1.2 1.5 1.1 1.5 1.3 1.5 1.5 1.5 1.4 1.5 .6 1.5 .5 1.5 1.3 1.5 .4 1.5-.8 1.5-.9 1.5-.7 1.5-1.2 1.5-.2 1.5 1.1 1.5 .8 1.5 .7 1.5 1.3 1.5 1.5 1.5 1.5 1.5 .8 1.5-.4 1.5 .5 1.5 1.3 1.5-.3 1.5-1.9 1.5-3.2 1.5-3 1.5-2.1 1.5-1.3 1.5-.1 1.5 .9 1.5 .9 1.5 .1 1.5 0 1.5-.3 1.5-2 1.5-2.6 1.5-2.1 1.5-2.7 1.5-2.8 1.5-1.7 1.5-.5 1.5-1.5 1.5-2 1.5-.6 1.5-.3 1.5 0 1.5 .1 1.5 .1 1.5-.4 1.5-1 1.5-1.2 1.5-.2 1.5 .3 1.5-.2 1.5-.5 1.5-.3 1.5-.6 1.5-1.5 1.5-1.2 1.5 .6 1.5 2.4 1.5 2.5 1.5 .9 1.5-1.1 1.5-1.8 1.5-1.5 1.5-1 1.5-.8 1.5-.8 1.5-1.3 1.5-1.4 1.5-.6 1.5 .1 1.5 .3 1.5-.2 1.5-.3 1.5 .1 1.5-.2 1.5-.9 1.5 .4 1.5 2.2 1.5 1.7 1.5 .5 1.5-.3 1.5-.1 1.5 .3 1.5 .7 1.5 .1 1.5 .6 1.5 2.2 1.5 2.6 1.5 1.9 1.5 1.4 1.5 1.4 1.5 2.3 1.5 2.6 1.5 1.4 1.5-.3 1.5-.9 1.5-1.2 1.5-1 1.5 .1 1.5 1.4 1.5 1.4 1.5 1.1 1.5 1.1 1.5 .3 1.5 .8 1.5 .7 1.5 0 1.5 0 1.5 .3 1.5 .9 1.5 .3 1.5-.5 1.5-.4 1.5 .5 1.5 .5 1.5-.8 1.5-1.3 1.5-1.1 1.5-.6 1.5-.5 1.5-.6 1.5-.4 1.5-.3 1.5 .2 1.5 1 1.5 1.3 1.5 .7 1.5-.3 1.5-.7 1.5 0 1.5 .3 1.5 .2 1.5-.2 1.5 0 1.5 .9 1.5 1.1 1.5 .7 1.5 .5 1.5 0 1.5-1.5 1.5-1.6 1.5-.4 1.5 .3 1.5-.3 1.5 .3 1.5 2 1.5 1.1 1.5-.2 1.5 .3 1.5 1.2 1.5 1.6 1.5 1.6 1.5 .3 1.5-.7 1.5-.7 1.5-.8 1.5-1.4 1.5-.1 1.5 2 1.5 2.1 1.5 .7 1.5-.2 1.5-.7 1.5 .1 1.5 1.5 1.5 1.7 1.5 1.9 1.5 2.4 1.5 2 1.5 2.5 1.5 3.5 1.5 3.1 1.5 2.2 1.5 1.8 1.5 3.2 1.5 5.2 1.5 5.2 1.5 4.2 1.5 3.5 1.5 2.9 1.5 2.9 1.5 2.7 1.5 2.2 1.5 2.2 1.5 2.6 1.5 2.2 1.5 1.9 1.5 2.7 1.5 3.5 1.5 3.7 1.5 4.5 1.5 5.6 1.5 6.9 1.5 6.7 1.5 5.7 1.5 5.2 1.5 2.8 1.5-1.4 1.5-2 1.5-3.3 1.5-3.3 1.5-5.8 1.5-6.3 1.5-6.8 1.9-21.1 .8-20.8 .7-21.7 .6-20.5 .5-18.1"/>
<path class="dd" stroke-opacity="0.28" d="M717.2 665.4l1.5 32.1 1.5 23.9 1.5 21.4 1.5 11.9 1.5 7 1.5 5.7 1.5 2.5 1.5 .6 1.5-.7 1.5-3.6 1.5-4.1 1.5-6 1.5-6.8 1.5-6.4 1.5-4.8 1.5-2.3 1.5-2.3 1.5-2.4 1.5-2.5 1.5-1.9 1.5-1.5 1.5-1.8 1.5-1.2 1.5 .3 1.5 .7 1.5-.7 1.5-1.8 1.5-2 1.5-1.6 1.5-2 1.5-2.3 1.5-2.2 1.5-1.7 1.5-1.9 1.5-2.5 1.5-2.7 1.5-2.9 1.5-2.8 1.5-2.8 1.5-3 1.5-3.2 1.5-3.2 1.5-2.3 1.5-1.9 1.5-2 1.5-1.9 1.5-1.9 1.5-1.8 1.5-1.4 1.5-.5 1.5-.9 1.5-1.6 1.5-1.8 1.5-2 1.5-2.4 1.5-.7 1.5 .1 1.5-.7 1.5-.1 1.5 .1 1.5 .3 1.5 .6 1.5-.1 1.5-.8 1.5-2.1 1.5-1.9 1.5 0 1.5-.5 1.5-3.1 1.5-3.2 1.5-1.5 1.5 .7 1.5 .9 1.5-.1 1.5 .2 1.5 .3 1.5 .6 1.5 .5 1.5 .5 1.5 .7 1.5 .5 1.5-1.6 1.5-2.6 1.5-1.3 1.5 .4 1.5-.5 1.5-1 1.5-1 1.5-1 1.5-.2 1.5-.2 1.5-1.3 1.5-2.1 1.5-2.3 1.5-1.4 1.5-1.2 1.5-1 1.5-.6 1.5-.2 1.5-1 1.5-1.7 1.5-.9 1.5-.7 1.5 .1 1.5 .3 1.5-.1 1.5-.4 1.5-.8 1.5-1.4 1.5-1.7 1.5-1.5 1.5-1.9 1.5-2.1 1.5-.8 1.5-.4 1.5-1 1.5-.7 1.5-.4 1.5 .4 1.5 1.9 1.5 2.1 1.5 1 1.5 .4 1.5 0 1.5 .2 1.5 .5 1.5 1.2 1.5 1.1 1.5 .8 1.5 .7 1.5 .4 1.5-.2 1.5 .1 1.5 .9 1.5 .9 1.5 1.5 1.5 1.6 1.5-.3 1.5-1.4 1.5-.6 1.5-.9 1.5-1.5 1.5 0 1.5 1.9 1.5 1.6 1.5 1.1 1.5 1.7 1.5 2.9 1.5 2.3 1.5 1.1 1.5 .6 1.5 .2 1.5-.5 1.5 .4 1.5 1.4 1.5 .8 1.5-.7 1.5-.3 1.5 1.7 1.5 2.3 1.5 2.1 1.5 1.4 1.5 1.4 1.5 2.1 1.5 1.3 1.5 .5 1.5 .4 1.5 .5 1.5 .8 1.5 .7 1.5-.2 1.5-1.2 1.5-.7 1.5 .8 1.5 1.4 1.5 1.5 1.5 2.1 1.5 2 1.5 .6 1.5-1 1.5-.7 1.5 .8 1.5 1.6 1.5 1.1 1.5-.3 1.5-1.9 1.5-3.4 1.5-2.7 1.5-1.8 1.5-.8 1.5 .6 1.5 1 1.5 .3 1.5 0 1.5-1.3 1.5-2.3 1.5-.6 1.5-.4 1.5-2.3 1.5-2.4 1.5-1.2 1.5-1.6 1.5-1.6 1.5-1.6 1.5-1.1 1.5-.8 1.5-1.3 1.5-1.4 1.5-1.1 1.5-.5 1.5-.1 1.5 .3 1.5 0 1.5-.8 1.5-1.5 1.5-1 1.5 .9 1.5 .6 1.5-1.4 1.5-1.7 1.5-.4 1.5 .4 1.5 .6 1.5 .9 1.5 .3 1.5-.4 1.5 .6 1.5 .7 1.5-1.4 1.5-2.7 1.5-1.6 1.5-.2 1.5-.6 1.5-1.9 1.5-1.6 1.5 .5 1.5 .5 1.5-.2 1.5 .4 1.5 .1 1.5 .3 1.5 .3 1.5 .5 1.5 2 1.5 1.7 1.5 .3 1.5-.1 1.5 .8 1.5 .2 1.5-1.2 1.5-.5 1.5 1.5 1.5 1.6 1.5 .5 1.5 1.4 1.5 2.6 1.5 1.9 1.5 .3 1.5-.1 1.5-.1 1.5 1.1 1.5 1.2 1.5 .5 1.5 .8 1.5 .5 1.5 0 1.5 .2 1.5 .8 1.5 2.1 1.5 1.5 1.5-.6 1.5 .2 1.5 1.5 1.5 0 1.5-.9 1.5-.5 1.5-.4 1.5 .5 1.5 .4 1.5-.6 1.5-.4 1.5 .2 1.5-.4 1.5-1.1 1.5 .1 1.5 .9 1.5 .1 1.5-.4 1.5 .8 1.5 1.8 1.5 .2 1.5-1 1.5-.7 1.5 .2 1.5 .3 1.5 .4 1.5 .7 1.5 1.1 1.5 .6 1.5-.2 1.5 .3 1.5 1.3 1.5 1.1 1.5 .5 1.5 .3 1.5-.6 1.5-.5 1.5 .6 1.5 1.6 1.5 0 1.5-1.3 1.5 .6 1.5 2.5 1.5 2.6 1.5 .9 1.5 .2 1.5 .7 1.5-.4 1.5-1 1.5-.8 1.5-1.4 1.5-.9 1.5 .5 1.5 .9 1.5 .8 1.5 1.1 1.5 1 1.5 .6 1.5 1.2 1.5 1.6 1.5 1.6 1.5 .1 1.5 .7 1.5 2.7 1.5 2.2 1.5 2.1 1.5 3.7 1.5 3.7 1.5 3 1.5 3.3 1.5 4 1.5 4.5 1.5 4.4 1.5 3.8 1.5 3.9 1.5 3.5 1.5 1.8 1.5 1.3 1.5 1.6 1.5 1.1 1.5 .5 1.5 2.2 1.5 3.9 1.5 3.5 1.5 3 1.5 3.8 1.5 4 1.5 4.8 1.5 5.7 1.5 5.2 1.5 4.4 1.5 3.4 1.5-.3 1.5-1.7 1.5-5.1 1.5-5 1.5-5.6 1.5-6.3 1.5-6.2 1.9-22.9 .8-25 .7-26 .6-24.5 .5-21.7"/>
<path class="dd" stroke-opacity="0.28" d="M717.2 675.1l1.5 27.9 1.5 20.6 1.5 18.6 1.5 10.7 1.5 5.9 1.5 4.9 1.5 2.3 1.5 1.9 1.5 .6 1.5-3.6 1.5-4.8 1.5-6.9 1.5-7 1.5-4.6 1.5-3.6 1.5-3.5 1.5-3.8 1.5-2.1 1.5-.8 1.5-1.2 1.5-1.8 1.5-1 1.5-.7 1.5-1.3 1.5-1.6 1.5-1.1 1.5-1.2 1.5-1.8 1.5-1.5 1.5-1.6 1.5-2.4 1.5-2.6 1.5-2.3 1.5-1.9 1.5-2.8 1.5-3.4 1.5-3.4 1.5-3.2 1.5-2.3 1.5-.9 1.5-1.4 1.5-3.3 1.5-3.4 1.5-3.1 1.5-2.6 1.5-1.6 1.5-.7 1.5-.9 1.5-1.3 1.5-1.2 1.5-2.1 1.5-2.6 1.5-1.9 1.5-.8 1.5-.9 1.5-1.4 1.5-1.4 1.5-1.4 1.5-1 1.5-.2 1.5 0 1.5-.2 1.5-.4 1.5-.6 1.5-.7 1.5-.8 1.5-1.4 1.5-2.6 1.5-2.1 1.5 0 1.5-.6 1.5-2.4 1.5-1.9 1.5-.6 1.5 .4 1.5 1 1.5 .8 1.5 .2 1.5 .2 1.5-.8 1.5-1.2 1.5-.4 1.5-.6 1.5-1.2 1.5-1.2 1.5-1.4 1.5-.4 1.5-.3 1.5-1.8 1.5-2.4 1.5-1.4 1.5-.9 1.5-.4 1.5-.3 1.5-.9 1.5-1.2 1.5-.9 1.5-1.2 1.5-1.9 1.5-1.6 1.5-.1 1.5 .1 1.5-.5 1.5-.7 1.5-1.2 1.5-1 1.5-1.2 1.5-1.5 1.5-1.2 1.5-1.1 1.5-.8 1.5-.8 1.5-1.8 1.5-3.4 1.5-2.3 1.5 .6 1.5 1.3 1.5 .7 1.5 1.1 1.5 2 1.5 2.1 1.5 .9 1.5 .5 1.5 .9 1.5 1.8 1.5 .5 1.5-.5 1.5 1.4 1.5 2.2 1.5 .8 1.5 .7 1.5 1.8 1.5 1.7 1.5 .8 1.5 1.1 1.5 .8 1.5 .3 1.5 .5 1.5-.5 1.5-1.5 1.5-1.7 1.5-.4 1.5 .4 1.5 .6 1.5 2.1 1.5 3 1.5 1.7 1.5 1.1 1.5 1.2 1.5 .7 1.5 1 1.5 1.1 1.5 .8 1.5 .7 1.5 .7 1.5 1.1 1.5 1 1.5 .6 1.5-.1 1.5-.1 1.5 1 1.5 2.4 1.5 2.2 1.5 1.7 1.5 .9 1.5 .4 1.5-.1 1.5 .4 1.5 1.1 1.5-.1 1.5-1.1 1.5 .3 1.5 1.1 1.5-.4 1.5-.6 1.5 .6 1.5 1.4 1.5 1.9 1.5 2.3 1.5 2.5 1.5 1.5 1.5 .3 1.5-.4 1.5-.4 1.5-.8 1.5-1.9 1.5-1.9 1.5-2.6 1.5-3.3 1.5-2.1 1.5-.2 1.5 1 1.5 1 1.5 1.1 1.5 1.2 1.5-.8 1.5-3 1.5-2.7 1.5-1.4 1.5-1.8 1.5-1.8 1.5-1.6 1.5-1.5 1.5-1.2 1.5 0 1.5 0 1.5-.6 1.5-1.1 1.5-.4 1.5-.7 1.5-2 1.5-1 1.5 .7 1.5 .6 1.5 .2 1.5-.4 1.5-1.2 1.5-.7 1.5-.6 1.5-1.2 1.5 .1 1.5 1.8 1.5 1 1.5 1 1.5 .8 1.5-.8 1.5-.8 1.5-.9 1.5-1.5 1.5-1.5 1.5-.8 1.5-.1 1.5-.5 1.5-.2 1.5 .6 1.5-.4 1.5-2.3 1.5-.9 1.5 2.1 1.5 2 1.5 1.2 1.5 .7 1.5 .1 1.5 .3 1.5 .8 1.5 .1 1.5 .2 1.5 1 1.5 1.2 1.5 .8 1.5 .2 1.5-.1 1.5 .3 1.5 1.4 1.5 2.8 1.5 2.5 1.5 1.4 1.5 .7 1.5-.1 1.5-.3 1.5 0 1.5-.1 1.5-.8 1.5-.2 1.5 1 1.5 .9 1.5 .4 1.5 .5 1.5 .8 1.5 1.1 1.5 1.8 1.5 1.8 1.5 0 1.5-1.1 1.5-.3 1.5-.1 1.5-.5 1.5-.7 1.5-1 1.5-1.5 1.5-1.2 1.5-.8 1.5 .5 1.5 .7 1.5-.2 1.5-.5 1.5-.2 1.5 .7 1.5 1.2 1.5 .5 1.5-.3 1.5 0 1.5 .7 1.5 .9 1.5-.4 1.5-.9 1.5-.7 1.5 .2 1.5 .8 1.5 .2 1.5-.2 1.5 .4 1.5 .7 1.5-.3 1.5-.9 1.5-.2 1.5 .4 1.5 .5 1.5 .5 1.5 .5 1.5 .5 1.5 1.1 1.5 1.2 1.5 1.3 1.5 1 1.5 1.1 1.5 .6 1.5 .8 1.5 .7 1.5-.7 1.5-2 1.5-1.2 1.5 .7 1.5 .5 1.5-.9 1.5-.4 1.5 .8 1.5 1.7 1.5 2.1 1.5 1 1.5 .4 1.5 .9 1.5 1.5 1.5 1.8 1.5 2.4 1.5 3.1 1.5 3.4 1.5 3 1.5 3.1 1.5 4 1.5 4.2 1.5 4.8 1.5 5.1 1.5 5.5 1.5 4.7 1.5 3.5 1.5 2.6 1.5 1.4 1.5 .8 1.5 1.2 1.5 2.6 1.5 2.9 1.5 2.5 1.5 3.1 1.5 3.3 1.5 4 1.5 5 1.5 4.9 1.5 5.6 1.5 6.5 1.5 5.9 1.5 2.2 1.5-1.5 1.5-.4 1.5-3.6 1.5-4.8 1.5-5.5 1.5-6 1.5-7 1.9-23.7 .8-24.4 .7-25.4 .6-23.9 .5-21.2"/>
<path class="dd" stroke-opacity="0.28" d="M717.2 652.5l1.5 37.4 1.5 27.7 1.5 25 1.5 12.3 1.5 5.9 1.5 3.6 1.5 1.4 1.5 2.6 1.5 1.5 1.5-3.9 1.5-5.7 1.5-7.1 1.5-7.3 1.5-6.2 1.5-4.1 1.5-2.5 1.5-2.3 1.5-1.5 1.5-1.5 1.5-1.3 1.5-1.5 1.5-.8 1.5-1.5 1.5-3.1 1.5-2.8 1.5-1.6 1.5-1.2 1.5-1.5 1.5-2 1.5-2 1.5-1.6 1.5-1.8 1.5-2.4 1.5-3.2 1.5-3.1 1.5-1.8 1.5-1.2 1.5-2.1 1.5-2.6 1.5-2.6 1.5-3.1 1.5-3.9 1.5-4.5 1.5-3.7 1.5-1.9 1.5-1 1.5-.2 1.5-.5 1.5-.9 1.5-1.5 1.5-2.2 1.5-2.7 1.5-2.1 1.5-.6 1.5-.5 1.5-1.6 1.5-1.8 1.5-.9 1.5 .1 1.5 .2 1.5-.3 1.5-.9 1.5-1 1.5 0 1.5 .5 1.5-.7 1.5-1.8 1.5-1.8 1.5-1.9 1.5-1.9 1.5-1.4 1.5-1.2 1.5-.5 1.5 .3 1.5 .5 1.5 .4 1.5 .6 1.5 1 1.5 .7 1.5 0 1.5-.4 1.5-1 1.5-.9 1.5-1 1.5-1.2 1.5-1.3 1.5-1.7 1.5-1.5 1.5-1.1 1.5-1.1 1.5-.9 1.5-.3 1.5-.9 1.5-.9 1.5-.4 1.5-1 1.5-1.4 1.5 0 1.5-.6 1.5-2.6 1.5-1.9 1.5-1 1.5-.5 1.5-.5 1.5-.2 1.5 .6 1.5-.2 1.5-2.2 1.5-1.8 1.5-.8 1.5-.8 1.5-1.5 1.5-1.1 1.5-.7 1.5-1.8 1.5-2.7 1.5-1.6 1.5 .5 1.5 1.5 1.5 1.7 1.5 1.2 1.5 1.1 1.5 1.9 1.5 2 1.5 1.1 1.5 .5 1.5 .6 1.5 .4 1.5 .8 1.5 1.4 1.5 .7 1.5 .8 1.5 1 1.5 .6 1.5 .9 1.5 .8 1.5 1 1.5 .7 1.5-1.1 1.5-1.3 1.5-.6 1.5-.7 1.5 .2 1.5 .8 1.5 .6 1.5 1.2 1.5 2.2 1.5 2.8 1.5 1.5 1.5 .4 1.5 .4 1.5 0 1.5 .3 1.5 1.5 1.5 .9 1.5 .1 1.5 .6 1.5 .5 1.5 1.1 1.5 1.9 1.5 1.5 1.5 .6 1.5 1.1 1.5 1.3 1.5 .7 1.5 1.2 1.5 1 1.5 .5 1.5 .4 1.5-.6 1.5-1.6 1.5-1.4 1.5 0 1.5 1 1.5 1 1.5 1.2 1.5 .7 1.5 1.1 1.5 1.3 1.5 .3 1.5 .3 1.5 1.3 1.5 1.2 1.5-.1 1.5-1.5 1.5-1.4 1.5-1.8 1.5-2.2 1.5-2.1 1.5-1.6 1.5-.3 1.5 .5 1.5 .2 1.5 .3 1.5-.1 1.5-.4 1.5-1.5 1.5-2.5 1.5-2.2 1.5-1.7 1.5-1.9 1.5-1 1.5-.3 1.5-.4 1.5-.8 1.5-1.2 1.5-1.1 1.5-.9 1.5-.6 1.5 .4 1.5 .9 1.5 .1 1.5-.3 1.5 .2 1.5-.6 1.5-1.5 1.5-1.4 1.5-1.4 1.5-.6 1.5 0 1.5-.2 1.5 .4 1.5 1.8 1.5 2 1.5 1.2 1.5 .2 1.5-1.1 1.5-1.7 1.5-.4 1.5-.2 1.5-1.9 1.5-2.6 1.5-1.8 1.5-1 1.5 .2 1.5 .2 1.5 .2 1.5 .5 1.5 .9 1.5 .9 1.5 1.5 1.5 1.6 1.5 .4 1.5-.4 1.5-.6 1.5-.3 1.5-.1 1.5 .1 1.5 .6 1.5 .9 1.5 1.2 1.5 1.5 1.5 1.3 1.5 1.3 1.5 1.9 1.5 3.3 1.5 3 1.5 1.1 1.5-.3 1.5-.9 1.5-.6 1.5-.7 1.5-.9 1.5-.5 1.5 .7 1.5 1.5 1.5 1.1 1.5 1.2 1.5 1.2 1.5 .5 1.5 .4 1.5 1.2 1.5 2 1.5 .8 1.5-1.1 1.5-1.2 1.5 .1 1.5 1.6 1.5 .8 1.5-.8 1.5-1 1.5-.9 1.5 .2 1.5 1 1.5 .2 1.5-.9 1.5-1.4 1.5 0 1.5 2.4 1.5 3.1 1.5 1.2 1.5-.9 1.5-.4 1.5 1.2 1.5 1.6 1.5 .9 1.5 .2 1.5 .1 1.5 .5 1.5 .1 1.5 .2 1.5 1.1 1.5 .8 1.5-.1 1.5-.1 1.5 .1 1.5-.7 1.5-1.2 1.5 .4 1.5 2.1 1.5 1.9 1.5 .3 1.5-.6 1.5 .6 1.5 1.7 1.5 1.7 1.5 1.5 1.5 .3 1.5-.7 1.5-.8 1.5-.9 1.5-.5 1.5 0 1.5 .1 1.5-.5 1.5-.1 1.5 .6 1.5 .6 1.5 1.8 1.5 1.9 1.5 1.1 1.5 .8 1.5 1.3 1.5 1.4 1.5 1.7 1.5 2.4 1.5 3.6 1.5 3.3 1.5 3.1 1.5 3.9 1.5 4.9 1.5 4.2 1.5 3.6 1.5 5.1 1.5 5 1.5 3.1 1.5 1.5 1.5 1.7 1.5 2.6 1.5 1.5 1.5 1 1.5 1.8 1.5 2.5 1.5 3.1 1.5 4.3 1.5 4.8 1.5 4.4 1.5 4.9 1.5 5.3 1.5 5.3 1.5 5.1 1.5 3.4 1.5 0 1.5-1 1.5-4.5 1.5-4.7 1.5-5.1 1.5-5.8 1.5-7.1 1.9-20.6 .8-17.7 .7-18.4 .6-17.4 .5-15.4"/>
<path class="dd" stroke-opacity="0.28" d="M717.2 667.1l1.5 31.7 1.5 23.5 1.5 21.1 1.5 11.3 1.5 5.3 1.5 4.4 1.5 2 1.5 1.4 1.5-.3 1.5-4.1 1.5-4.4 1.5-6.8 1.5-7.4 1.5-5.3 1.5-3.1 1.5-2 1.5-2.1 1.5-1.6 1.5-1.6 1.5-1.8 1.5-1.7 1.5-1.3 1.5-1.1 1.5-1.5 1.5-1.4 1.5-1.6 1.5-2 1.5-1.3 1.5-.6 1.5-1.6 1.5-2.6 1.5-2.3 1.5-2.5 1.5-2.8 1.5-3.4 1.5-3.3 1.5-1.9 1.5-1.9 1.5-2.8 1.5-3 1.5-2.8 1.5-2.5 1.5-2.6 1.5-2.4 1.5-1.8 1.5-1.2 1.5-.7 1.5-1.2 1.5-2.3 1.5-.7 1.5 0 1.5-1.5 1.5-2.5 1.5-1.9 1.5-.7 1.5-.4 1.5-.7 1.5-.5 1.5-.5 1.5-.9 1.5-.2 1.5 .2 1.5-.4 1.5-1.2 1.5-1 1.5-.7 1.5-.9 1.5-1 1.5-1.5 1.5-1.8 1.5-1.3 1.5-1.3 1.5-.4 1.5 .3 1.5 .4 1.5 .8 1.5 .5 1.5-.2 1.5 .2 1.5 1.1 1.5 .5 1.5-1.2 1.5-1.4 1.5-.5 1.5-.9 1.5-1.2 1.5-.9 1.5-1.7 1.5-2.3 1.5-2.2 1.5-1.8 1.5-.8 1.5-1 1.5-1.1 1.5 .3 1.5 1 1.5-.7 1.5-2.3 1.5-1.9 1.5-.7 1.5-1 1.5-1.1 1.5-.2 1.5-.2 1.5-.5 1.5-1.1 1.5-1.3 1.5-.6 1.5-.7 1.5-1.1 1.5-1.2 1.5-1.9 1.5-2.2 1.5-1.8 1.5-.8 1.5-.9 1.5-.9 1.5 .9 1.5 2.9 1.5 3.1 1.5 1.1 1.5-.2 1.5 .6 1.5 1.1 1.5 1.3 1.5 .7 1.5-.8 1.5-.2 1.5 1.2 1.5 1.6 1.5 1.6 1.5 .7 1.5 .4 1.5 .2 1.5 .4 1.5 1 1.5 1.1 1.5 1.5 1.5 .1 1.5-1.5 1.5-.8 1.5-.6 1.5 0 1.5 1.3 1.5 1.5 1.5 .7 1.5 1.1 1.5 2.3 1.5 1.6 1.5 .9 1.5 1.4 1.5 1 1.5 .7 1.5 .5 1.5 .5 1.5 .7 1.5 .8 1.5 .2 1.5-.2 1.5 1.4 1.5 2.7 1.5 1.6 1.5 .9 1.5 .9 1.5 1.3 1.5 1.9 1.5 1.6 1.5-.1 1.5-1.1 1.5-.4 1.5 .1 1.5-.4 1.5-.9 1.5-.4 1.5 .7 1.5 1.8 1.5 1.4 1.5 .3 1.5 .7 1.5 1.5 1.5 1 1.5 .3 1.5 .8 1.5 .7 1.5-.7 1.5-2.3 1.5-3.2 1.5-3 1.5-2 1.5-.7 1.5 .4 1.5 .4 1.5-.5 1.5-.7 1.5-1 1.5-2 1.5-2 1.5-1.2 1.5-1.4 1.5-1.7 1.5-1.3 1.5-1.2 1.5-1.1 1.5-1.3 1.5-1.1 1.5-.5 1.5-.9 1.5-1.2 1.5-.9 1.5 0 1.5-.5 1.5-1 1.5-.1 1.5 .3 1.5 .3 1.5-.2 1.5-1.3 1.5-1.8 1.5-1 1.5-.6 1.5-.8 1.5 .3 1.5 1.8 1.5 1 1.5-.5 1.5-.9 1.5-1.5 1.5-1.7 1.5-1.2 1.5-.5 1.5-1.1 1.5-1.9 1.5-1.8 1.5-1.4 1.5-.4 1.5 .6 1.5 1.1 1.5 1.2 1.5 1.2 1.5 .9 1.5 .4 1.5 .1 1.5 .2 1.5 .7 1.5 1 1.5 .8 1.5 .2 1.5-.3 1.5-.2 1.5 .8 1.5 2.2 1.5 1.3 1.5 .3 1.5 .2 1.5 1 1.5 2 1.5 1.8 1.5 1.8 1.5 2.2 1.5 .4 1.5-.9 1.5 .2 1.5 .8 1.5 .6 1.5 .3 1.5-.2 1.5 .7 1.5 1.6 1.5 1.7 1.5 1.4 1.5 .4 1.5 .9 1.5 .8 1.5 .1 1.5 .9 1.5 .3 1.5-.5 1.5-.3 1.5-.4 1.5-.6 1.5-.3 1.5-.7 1.5-.1 1.5 .3 1.5 0 1.5-.6 1.5-.7 1.5 .3 1.5 0 1.5-.6 1.5-.1 1.5 1.3 1.5 2.6 1.5 1.3 1.5-.5 1.5-.7 1.5-.1 1.5 .3 1.5 0 1.5-.2 1.5 .6 1.5 1.5 1.5 1.1 1.5 .9 1.5 .5 1.5-.2 1.5-1.1 1.5-1.3 1.5-.5 1.5 .1 1.5 1.2 1.5 1.9 1.5 1 1.5 .3 1.5 .4 1.5 .2 1.5 .3 1.5-.2 1.5 0 1.5 1.3 1.5 .8 1.5-1.9 1.5-2.2 1.5 .3 1.5 2 1.5 1.2 1.5 .8 1.5 1.3 1.5 1.5 1.5 1.1 1.5 .2 1.5 .4 1.5 1.7 1.5 2.7 1.5 2.3 1.5 1.4 1.5 2.1 1.5 3.6 1.5 3.5 1.5 4.4 1.5 5.3 1.5 4.1 1.5 3.4 1.5 4.6 1.5 5.8 1.5 4.1 1.5 1.9 1.5 1 1.5 1.2 1.5 1.5 1.5 1.2 1.5 .8 1.5 2 1.5 2.9 1.5 3 1.5 4.4 1.5 5.6 1.5 5.5 1.5 5.7 1.5 6.9 1.5 7.3 1.5 4.2 1.5-1.4 1.5-1.9 1.5-4.3 1.5-4.6 1.5-5.9 1.5-6.8 1.5-6.9 1.9-18.9 .8-16.8 .7-17.4 .6-16.4 .5-14.6"/>
<path class="dd" stroke-opacity="0.28" d="M717.2 654.6l1.5 39.4 1.5 29.3 1.5 26.3 1.5 11.7 1.5 5.3 1.5 4.4 1.5 1.9 1.5 1.3 1.5-1 1.5-4.4 1.5-4.6 1.5-6.5 1.5-6.5 1.5-4.8 1.5-3.4 1.5-2.1 1.5-2.7 1.5-2.3 1.5-1.9 1.5-1 1.5-.2 1.5-.5 1.5-1.5 1.5-2.2 1.5-2.4 1.5-1 1.5-.6 1.5-1.6 1.5-1.4 1.5-1.8 1.5-2.9 1.5-3.6 1.5-3 1.5-1.3 1.5-.9 1.5-2.4 1.5-2.8 1.5-2.3 1.5-2.6 1.5-2.8 1.5-2.8 1.5-3.4 1.5-3.3 1.5-2.9 1.5-2 1.5-1.8 1.5-.9 1.5 .9 1.5 .8 1.5-.1 1.5-1.5 1.5-3.4 1.5-2.6 1.5-1.2 1.5-1.6 1.5-2 1.5-1.7 1.5-1.1 1.5-.8 1.5 .4 1.5 .9 1.5-.4 1.5-1 1.5-.2 1.5-.3 1.5-1.8 1.5-3 1.5-3.5 1.5-2.3 1.5-.5 1.5 .3 1.5 .5 1.5-.3 1.5 .1 1.5 .8 1.5 .6 1.5 1 1.5 .3 1.5-.6 1.5-.6 1.5-.9 1.5-.4 1.5-.5 1.5-1.6 1.5-2.1 1.5-1.6 1.5-.7 1.5-.2 1.5-.7 1.5-1.4 1.5-1.8 1.5-1.4 1.5-1.1 1.5-.6 1.5-.5 1.5-.1 1.5-.6 1.5-1.5 1.5-1.5 1.5-1.7 1.5-.6 1.5 .1 1.5 0 1.5-.2 1.5-.8 1.5-1.3 1.5-.7 1.5 .1 1.5 .1 1.5-1.1 1.5-1.5 1.5-1.7 1.5-2.1 1.5-2.1 1.5-1.3 1.5 .3 1.5 1 1.5-.1 1.5 .1 1.5 1.2 1.5 1.2 1.5 .2 1.5 .1 1.5 1.9 1.5 3 1.5 1.5 1.5-.6 1.5 .1 1.5 1.9 1.5 2.2 1.5 1 1.5 0 1.5 .7 1.5 1.7 1.5 1.6 1.5 .5 1.5-1.6 1.5-1.7 1.5 .5 1.5 .7 1.5-1.3 1.5-1 1.5 .7 1.5 1.2 1.5 1.2 1.5 .5 1.5 1.5 1.5 2.1 1.5 .9 1.5 .1 1.5 .9 1.5 1.3 1.5 1.3 1.5 1.2 1.5 .8 1.5 .4 1.5 .1 1.5-.8 1.5-.5 1.5 .8 1.5 1.7 1.5 1.5 1.5 1.5 1.5 2.8 1.5 2.1 1.5-.5 1.5-1 1.5 .4 1.5-.2 1.5-1.6 1.5-1 1.5 .2 1.5-.2 1.5-.1 1.5 1 1.5 1.7 1.5 2.2 1.5 1.6 1.5-.1 1.5 .3 1.5 .8 1.5 .5 1.5-.2 1.5-.3 1.5-.2 1.5-1.4 1.5-2.5 1.5-2.7 1.5-2 1.5-.5 1.5 0 1.5-.7 1.5-.9 1.5 0 1.5-.5 1.5-1.6 1.5-2 1.5-1.5 1.5-1.8 1.5-2.4 1.5-1.7 1.5-1 1.5-1.8 1.5-1.7 1.5-.6 1.5 0 1.5-.7 1.5-1 1.5-.5 1.5-.8 1.5-1.1 1.5-.4 1.5 .5 1.5 .7 1.5 .8 1.5 .1 1.5-.1 1.5-.1 1.5-.5 1.5-1.1 1.5-.7 1.5 .1 1.5 0 1.5 .9 1.5 1.8 1.5 .2 1.5-1 1.5-.9 1.5-1.5 1.5-.6 1.5 .6 1.5 0 1.5-1.3 1.5-1 1.5-.4 1.5-.6 1.5 .1 1.5 1.3 1.5 1.1 1.5 .1 1.5-.6 1.5 .3 1.5 1.5 1.5 1.8 1.5 1.9 1.5 1.2 1.5 .8 1.5 .5 1.5-.3 1.5-.5 1.5 .8 1.5 1.9 1.5 2.4 1.5 2 1.5 1.8 1.5 2 1.5 1.5 1.5 1.4 1.5 .5 1.5-.2 1.5-.6 1.5 .1 1.5 .1 1.5 .4 1.5 1.5 1.5 1.7 1.5 .8 1.5-.1 1.5 .2 1.5 2 1.5 2.3 1.5 .8 1.5 0 1.5 .3 1.5 .1 1.5-.6 1.5-1 1.5-.4 1.5-.2 1.5 .4 1.5 .7 1.5 .1 1.5-1.4 1.5-2.4 1.5-.2 1.5 1.4 1.5-.3 1.5-1.3 1.5-.9 1.5 .2 1.5 .5 1.5 .3 1.5 .2 1.5-.2 1.5-.2 1.5 0 1.5-.5 1.5-.1 1.5 .7 1.5 .5 1.5 .2 1.5 .6 1.5 1.1 1.5 0 1.5-1.4 1.5-1 1.5 0 1.5 0 1.5-.1 1.5 .5 1.5 1.5 1.5 .9 1.5 .1 1.5 .5 1.5 1.1 1.5 1.2 1.5 .2 1.5-.7 1.5-.7 1.5 .1 1.5 0 1.5-1.3 1.5-1 1.5 .2 1.5 1.4 1.5 1.6 1.5 1.2 1.5 .7 1.5 1.1 1.5 1.4 1.5 .9 1.5 .6 1.5-.2 1.5 .7 1.5 3.5 1.5 4 1.5 2.4 1.5 2.6 1.5 3.8 1.5 4.8 1.5 5 1.5 4.4 1.5 4.4 1.5 3.7 1.5 4 1.5 4.3 1.5 3.2 1.5 2 1.5 .9 1.5 .7 1.5 1.8 1.5 2.2 1.5 3.2 1.5 4.2 1.5 3.1 1.5 3.3 1.5 4.8 1.5 5.9 1.5 5.8 1.5 5.8 1.5 5.7 1.5 3.5 1.5-.3 1.5-1.4 1.5-4.5 1.5-4.7 1.5-4.8 1.5-5.4 1.5-6.6 1.9-24.4 .8-25.3 .7-26.3 .6-24.8 .5-22"/>
<path class="dd" stroke-opacity="0.28" d="M717.2 670.6l1.5 30.9 1.5 23 1.5 20.6 1.5 10.7 1.5 4.7 1.5 4.9 1.5 3 1.5 2.1 1.5 .7 1.5-3.9 1.5-5.4 1.5-7.8 1.5-7.6 1.5-5.1 1.5-3 1.5-2.2 1.5-2.5 1.5-2 1.5-2.1 1.5-1.9 1.5-1.2 1.5-1.6 1.5-1.7 1.5-.8 1.5-1.2 1.5-2.6 1.5-3.5 1.5-1.7 1.5-.6 1.5-.9 1.5-1.4 1.5-2.7 1.5-3.6 1.5-3.6 1.5-3.3 1.5-2.2 1.5-1.9 1.5-2.1 1.5-2.9 1.5-3.9 1.5-3.1 1.5-1.9 1.5-2.1 1.5-2.5 1.5-2.4 1.5-2.8 1.5-2.5 1.5-1.1 1.5 .1 1.5 .9 1.5-.4 1.5-2.3 1.5-2.3 1.5-.9 1.5-.8 1.5-1.4 1.5-1.5 1.5-1.3 1.5 .3 1.5 1.2 1.5 .2 1.5-.7 1.5-.6 1.5-.9 1.5-.4 1.5-.6 1.5-1.8 1.5-1.4 1.5-1.4 1.5-1.8 1.5-.7 1.5 .4 1.5-.1 1.5-1 1.5-.2 1.5 1.8 1.5 2.2 1.5 .4 1.5-.7 1.5-.6 1.5-.5 1.5-.9 1.5 .1 1.5 .8 1.5-.9 1.5-1 1.5-1.2 1.5-2 1.5-2.2 1.5-2.8 1.5-2.1 1.5-.9 1.5 .2 1.5 .4 1.5-.6 1.5-.9 1.5-1.3 1.5-2.3 1.5-1.7 1.5-.9 1.5-.7 1.5-.2 1.5 .2 1.5 .1 1.5-.4 1.5-1.1 1.5-1.5 1.5-.4 1.5 .2 1.5-.8 1.5-2.6 1.5-3 1.5-2.4 1.5-2.2 1.5-1.6 1.5-.8 1.5 .5 1.5 2.3 1.5 2.3 1.5 .1 1.5-1.1 1.5 0 1.5 1.2 1.5 1.2 1.5 1.5 1.5 1.3 1.5 .5 1.5 .2 1.5 .6 1.5 1.6 1.5 2.1 1.5 .7 1.5-.4 1.5 .4 1.5 1.5 1.5 1 1.5-.1 1.5-1.5 1.5-1.2 1.5-.4 1.5-.6 1.5 .3 1.5 .9 1.5 1.6 1.5 2.3 1.5 2.8 1.5 1.6 1.5-.1 1.5-.6 1.5 .4 1.5 1.4 1.5 1.3 1.5 1.3 1.5 2.2 1.5 1 1.5-.5 1.5-.7 1.5 .7 1.5 1.6 1.5 1.1 1.5 .4 1.5 1.1 1.5 1.8 1.5 1.8 1.5 1.9 1.5 2.1 1.5 1.2 1.5 .1 1.5-.3 1.5-.6 1.5-1.2 1.5-.7 1.5 1.1 1.5 1.3 1.5 0 1.5 .3 1.5 2.4 1.5 2.1 1.5 1.5 1.5 1.3 1.5 .2 1.5 .3 1.5 1.4 1.5 .8 1.5-1.9 1.5-3 1.5-2.5 1.5-2.1 1.5-1.2 1.5-1.2 1.5-.3 1.5 1.4 1.5 1.2 1.5-.8 1.5-1.6 1.5-1.5 1.5-2.1 1.5-2.6 1.5-3.2 1.5-2.1 1.5-1.3 1.5-.7 1.5 0 1.5-1 1.5-1.5 1.5-.7 1.5 0 1.5 1 1.5-.2 1.5-2.5 1.5-1.3 1.5-.5 1.5-.8 1.5-.6 1.5-.2 1.5 .2 1.5-.3 1.5-.8 1.5 0 1.5-.7 1.5-.7 1.5 .7 1.5 .1 1.5 .3 1.5 .4 1.5-1.3 1.5-1.7 1.5-1.2 1.5-.5 1.5-.1 1.5-1.1 1.5-2.2 1.5-1.9 1.5-.4 1.5 .6 1.5 .7 1.5 .7 1.5 .4 1.5 .2 1.5 0 1.5 .5 1.5 .3 1.5 .5 1.5 .7 1.5 .5 1.5 .5 1.5 .7 1.5 0 1.5-.5 1.5 1.2 1.5 1.4 1.5-.4 1.5 .5 1.5 2 1.5 1.5 1.5 1.4 1.5 3 1.5 3 1.5 .6 1.5-1.1 1.5-1 1.5-.5 1.5-.3 1.5 0 1.5 .3 1.5 1.3 1.5 1.9 1.5 1 1.5 .1 1.5 .8 1.5 .3 1.5 .5 1.5 1 1.5 .3 1.5 0 1.5-.2 1.5-.2 1.5 .8 1.5 1.3 1.5 .2 1.5-1.2 1.5-1.4 1.5-.3 1.5 0 1.5 .4 1.5 .6 1.5-.5 1.5-.9 1.5 .4 1.5 .5 1.5-1.3 1.5-1.1 1.5 2 1.5 3 1.5 .3 1.5-1.9 1.5-1.3 1.5 .8 1.5 1.5 1.5 1 1.5 .6 1.5 .2 1.5-.1 1.5-.9 1.5-.5 1.5 .8 1.5 0 1.5 .1 1.5 1.2 1.5 .9 1.5 .2 1.5-.4 1.5-.8 1.5 .2 1.5 1.1 1.5 1 1.5 .8 1.5 1.2 1.5 0 1.5-1.5 1.5-1.2 1.5 .2 1.5 1.3 1.5 .4 1.5 0 1.5-.1 1.5 .4 1.5 .9 1.5 1.3 1.5 1.1 1.5 .8 1.5 1.7 1.5 3.1 1.5 3.3 1.5 2 1.5 1.4 1.5 2.4 1.5 3.9 1.5 4.7 1.5 4 1.5 3.8 1.5 4 1.5 4.2 1.5 4.5 1.5 5 1.5 3.1 1.5 1.1 1.5 1.5 1.5 2.4 1.5 2 1.5 2.7 1.5 3 1.5 2.4 1.5 3.3 1.5 4.9 1.5 4.9 1.5 4.8 1.5 5.4 1.5 4.7 1.5 5.5 1.5 6.1 1.5 3.3 1.5-.9 1.5-2 1.5-4.7 1.5-4.4 1.5-5.6 1.5-6.5 1.5-7 1.9-23.8 .8-26.8 .7-27.9 .6-26.2 .5-23.3"/>
<path class="dd" stroke-opacity="0.28" d="M717.2 653.2l1.5 40.4 1.5 29.9 1.5 26.9 1.5 12.7 1.5 5.2 1.5 3.4 1.5 1.7 1.5 1.3 1.5-.3 1.5-5.5 1.5-6 1.5-5.1 1.5-4.7 1.5-5.5 1.5-3.6 1.5-1.2 1.5-1.7 1.5-1.6 1.5-2.6 1.5-2.2 1.5-1.2 1.5-2.6 1.5-2.8 1.5-1 1.5-1.1 1.5-1.5 1.5-1.4 1.5-1.4 1.5-.6 1.5-1.3 1.5-3.4 1.5-3.1 1.5-2.4 1.5-2.6 1.5-1.7 1.5-1.8 1.5-2.9 1.5-3.7 1.5-3.5 1.5-2.7 1.5-2.7 1.5-1.6 1.5-1.4 1.5-2.3 1.5-2.7 1.5-2.4 1.5-1 1.5 .6 1.5-.8 1.5-3 1.5-3.2 1.5-2 1.5-1.1 1.5-.5 1.5-.9 1.5-1.4 1.5-1.1 1.5-.1 1.5 .3 1.5-.3 1.5-.6 1.5-.2 1.5-.7 1.5-.7 1.5 .1 1.5-.7 1.5-1.4 1.5 .1 1.5 0 1.5-2.1 1.5-2.3 1.5-1 1.5-.9 1.5-.7 1.5 .8 1.5 2 1.5 1.9 1.5 1.1 1.5-.9 1.5-.7 1.5 .7 1.5-.2 1.5-.8 1.5-.9 1.5-1 1.5-.5 1.5-.7 1.5-2 1.5-2.3 1.5-1.3 1.5-.8 1.5-1.1 1.5-1 1.5 0 1.5 .3 1.5-1.1 1.5-2.4 1.5-1.7 1.5 .3 1.5 1 1.5 .2 1.5-.8 1.5-1.5 1.5-1.8 1.5-1.2 1.5 .4 1.5 .4 1.5-.6 1.5-.7 1.5-.1 1.5-.9 1.5-2.3 1.5-1.7 1.5-1.4 1.5-2.3 1.5-2.1 1.5-.4 1.5 2.1 1.5 2 1.5 .2 1.5 .2 1.5 .6 1.5 1 1.5 1.4 1.5 1.4 1.5 .9 1.5 1.5 1.5 1 1.5 .6 1.5 .8 1.5 .7 1.5 .8 1.5 1 1.5 1 1.5 .3 1.5-.3 1.5 0 1.5 .1 1.5-1.1 1.5-1.6 1.5-1.1 1.5 .1 1.5 1.9 1.5 1.4 1.5 .4 1.5 .8 1.5 1.4 1.5 1.7 1.5 1.1 1.5 1.4 1.5 1.7 1.5 .1 1.5-.8 1.5-.5 1.5 0 1.5 .1 1.5 1.2 1.5 1.5 1.5 .1 1.5 .4 1.5 1.5 1.5 1.4 1.5 1.6 1.5 1.9 1.5 1.2 1.5 .7 1.5 .5 1.5 .3 1.5 .3 1.5 .2 1.5-.9 1.5-1.8 1.5-1.1 1.5 .6 1.5 1.7 1.5 .6 1.5-.3 1.5 .8 1.5 2.3 1.5 2.4 1.5 .7 1.5-.1 1.5 .3 1.5 .5 1.5-.4 1.5-2.2 1.5-3.6 1.5-2.8 1.5-1.9 1.5-1.4 1.5 .4 1.5 2.1 1.5 1.1 1.5-.9 1.5-.7 1.5 .1 1.5-1.7 1.5-3.7 1.5-2.7 1.5-.7 1.5-1.1 1.5-1 1.5 .2 1.5 0 1.5-1.2 1.5-1.4 1.5-.7 1.5-.8 1.5-.4 1.5 .7 1.5 .7 1.5-1 1.5-1.1 1.5 .6 1.5 .4 1.5-1.3 1.5-1.1 1.5-.1 1.5-.5 1.5-.4 1.5 .4 1.5 .4 1.5-.2 1.5 .4 1.5 .3 1.5-.1 1.5-.9 1.5-1.7 1.5-.8 1.5 0 1.5-.8 1.5-1.5 1.5-1.2 1.5-1.1 1.5 .3 1.5 1.4 1.5-.2 1.5 .1 1.5 2.4 1.5 1.5 1.5-1.2 1.5-1.7 1.5 .1 1.5 1.3 1.5 .9 1.5 1.1 1.5 1 1.5 .4 1.5 .7 1.5 1.7 1.5 .4 1.5-.8 1.5 .9 1.5 3.2 1.5 3.1 1.5 1.4 1.5 .9 1.5 1.3 1.5 1.2 1.5 .4 1.5-.1 1.5 .2 1.5 .6 1.5 0 1.5 0 1.5 0 1.5 1.1 1.5 2.6 1.5 2 1.5 .4 1.5 .6 1.5 1.3 1.5 .9 1.5-.4 1.5-.6 1.5-.2 1.5-.2 1.5 .1 1.5 .8 1.5 .1 1.5-1.1 1.5-1.3 1.5-.4 1.5-.2 1.5 0 1.5 .3 1.5 .7 1.5 .8 1.5 .1 1.5 .3 1.5-.1 1.5-.5 1.5 .2 1.5 .1 1.5 .5 1.5 1.5 1.5 .7 1.5-.5 1.5-.4 1.5 1 1.5 1.3 1.5 .2 1.5 0 1.5 .6 1.5-.7 1.5-1.8 1.5-.4 1.5-.3 1.5-1 1.5-.3 1.5 1.1 1.5 .9 1.5 .6 1.5 1.8 1.5 1.8 1.5 .5 1.5 .7 1.5 .5 1.5-.9 1.5-1.5 1.5-.1 1.5 .7 1.5-.8 1.5-.6 1.5 .6 1.5 .4 1.5-.7 1.5 .4 1.5 2 1.5 2 1.5 .7 1.5 .9 1.5 1.9 1.5 1.9 1.5 2.6 1.5 2.9 1.5 2.3 1.5 2.7 1.5 3.2 1.5 4 1.5 4.7 1.5 4.7 1.5 4.5 1.5 4.4 1.5 3.8 1.5 2.3 1.5 .6 1.5 1.4 1.5 2.7 1.5 2.6 1.5 1.8 1.5 2.7 1.5 3.1 1.5 2.2 1.5 2.5 1.5 3.4 1.5 5.1 1.5 6.4 1.5 6.6 1.5 6.5 1.5 6.4 1.5 3.5 1.5-1.8 1.5-2.9 1.5-4.9 1.5-4.4 1.5-4.1 1.5-5.1 1.5-7.8 1.9-30.1 .8-36.7 .7-38.1 .6-35.9 .5-31.9"/>
<path class="dd" stroke-opacity="0.28" d="M717.2 687.3l1.5 26.4 1.5 19.5 1.5 17.6 1.5 11.3 1.5 5.6 1.5 4.3 1.5 2.2 1.5 1 1.5-.1 1.5-3.8 1.5-5.1 1.5-6.7 1.5-6.1 1.5-4.6 1.5-3.4 1.5-3.4 1.5-4 1.5-2.6 1.5-1.5 1.5-.8 1.5-1.1 1.5-.9 1.5-1.3 1.5-.7 1.5-.5 1.5-1.7 1.5-2.2 1.5-2 1.5-1.5 1.5-1.8 1.5-2.4 1.5-2.7 1.5-2.5 1.5-2.5 1.5-3 1.5-3.2 1.5-1.9 1.5-.8 1.5-1.6 1.5-2.9 1.5-2.8 1.5-3.8 1.5-4 1.5-2.2 1.5-1.4 1.5-.3 1.5 .2 1.5-1.1 1.5-2 1.5-2.1 1.5-1.8 1.5-.7 1.5-1.5 1.5-2.6 1.5-2.6 1.5-2 1.5-1.1 1.5-.1 1.5 .7 1.5 .1 1.5-1.1 1.5 0 1.5 .9 1.5 .3 1.5-.2 1.5-.3 1.5-1.4 1.5-2.4 1.5-2.9 1.5-1.9 1.5-.8 1.5-1 1.5-.8 1.5-.7 1.5 .6 1.5 2 1.5 1.9 1.5 .7 1.5-1 1.5-1 1.5 .1 1.5-.3 1.5-1.3 1.5-.8 1.5-.7 1.5-2.2 1.5-1.8 1.5-1.5 1.5-2 1.5-1.3 1.5-.5 1.5-.7 1.5-1.1 1.5-1 1.5-.5 1.5-1.3 1.5-1.7 1.5-.7 1.5-.8 1.5-1 1.5-1.4 1.5-2.2 1.5-1.2 1.5 .4 1.5 1 1.5 0 1.5-.9 1.5-1.1 1.5-2 1.5-2.3 1.5-2.3 1.5-1.9 1.5-1.4 1.5-1.5 1.5-1.3 1.5 0 1.5 .4 1.5-.1 1.5 .7 1.5 1.5 1.5 1.3 1.5 1 1.5 .9 1.5 .4 1.5-.4 1.5 .2 1.5 1.7 1.5 1.8 1.5 .5 1.5-.4 1.5 .3 1.5 1.9 1.5 2.6 1.5 1.6 1.5 .4 1.5 .5 1.5 .2 1.5-1 1.5-.9 1.5 0 1.5 .1 1.5-.5 1.5-1.3 1.5-.8 1.5 .9 1.5 1.8 1.5 1.9 1.5 1.5 1.5 .8 1.5 0 1.5 .9 1.5 2.2 1.5 1 1.5-.1 1.5 .4 1.5 .5 1.5 .3 1.5 .3 1.5 .1 1.5 .4 1.5 1.9 1.5 2.3 1.5 1.2 1.5 1.1 1.5 1.1 1.5 .6 1.5 .7 1.5 .4 1.5-.8 1.5-.9 1.5 .1 1.5 .8 1.5 .5 1.5-.3 1.5-.3 1.5 .4 1.5 1.6 1.5 2.1 1.5 1.5 1.5 1 1.5 .8 1.5 .5 1.5 1 1.5-.1 1.5-1.3 1.5-1.9 1.5-1.9 1.5-1.3 1.5-1.3 1.5-1.5 1.5-.5 1.5 .4 1.5 .7 1.5-.2 1.5-.8 1.5-.8 1.5-1.7 1.5-3 1.5-1.9 1.5-.7 1.5-.5 1.5-.1 1.5-.2 1.5-2.5 1.5-2.7 1.5-1.3 1.5 0 1.5 .2 1.5-.3 1.5-1.7 1.5-1.9 1.5-.9 1.5-.1 1.5 .8 1.5 1.1 1.5 .9 1.5-.2 1.5-1.5 1.5-1.8 1.5-1.1 1.5-.5 1.5 .8 1.5 1 1.5 .7 1.5 1.2 1.5 1 1.5-1.3 1.5-2.1 1.5-1.3 1.5-.6 1.5-.3 1.5-.6 1.5-1.5 1.5-2.5 1.5-.6 1.5 1.7 1.5 2.6 1.5 1.5 1.5 .2 1.5 .1 1.5 1.2 1.5 1.7 1.5 1.3 1.5-.3 1.5-.5 1.5 1.5 1.5 2.2 1.5 .9 1.5-1.2 1.5-.8 1.5 2 1.5 2.1 1.5 .7 1.5 .4 1.5 1.2 1.5 2 1.5 2.1 1.5 1.7 1.5 1.7 1.5 1.5 1.5 0 1.5-1.2 1.5-.8 1.5-.8 1.5-.2 1.5 1.9 1.5 2 1.5 1.6 1.5 1.2 1.5 1 1.5 1.1 1.5 1.2 1.5-.3 1.5-.3 1.5 .9 1.5 .2 1.5-.8 1.5-.3 1.5-.4 1.5-1 1.5-.7 1.5-.1 1.5-.1 1.5 .1 1.5 0 1.5-.6 1.5-1.2 1.5-.2 1.5 1.1 1.5 .8 1.5 .3 1.5 .1 1.5-.4 1.5-.3 1.5 0 1.5 .4 1.5-.7 1.5-1.5 1.5 .1 1.5 1.7 1.5 1.6 1.5 1.3 1.5 .8 1.5-.6 1.5-1.3 1.5-.5 1.5 .3 1.5 .5 1.5 1.3 1.5 1 1.5-.1 1.5-.6 1.5 .5 1.5 1 1.5 .8 1.5 1.4 1.5 .9 1.5 .2 1.5 .8 1.5 .4 1.5-1.2 1.5-1 1.5-.8 1.5-.6 1.5 .3 1.5 1.7 1.5 2 1.5 1.3 1.5 .8 1.5 1.3 1.5 1.2 1.5 .6 1.5 .7 1.5 1.7 1.5 2.7 1.5 3.1 1.5 3.7 1.5 4.2 1.5 4.6 1.5 4 1.5 2.5 1.5 2.7 1.5 3.4 1.5 4.2 1.5 5.1 1.5 4.5 1.5 2.9 1.5 2.1 1.5 2.4 1.5 2.5 1.5 1.9 1.5 2 1.5 2.7 1.5 3.2 1.5 3.7 1.5 3.7 1.5 3.1 1.5 3.9 1.5 5.2 1.5 7.2 1.5 7.2 1.5 4.3 1.5-.4 1.5-2.7 1.5-5.9 1.5-5.1 1.5-4.5 1.5-5.2 1.5-7.1 1.9-25.7 .8-28.5 .7-29.6 .6-28 .5-24.8"/>
<path class="dd" stroke-opacity="0.28" d="M717.2 669.4l1.5 33.8 1.5 25.1 1.5 22.6 1.5 12.2 1.5 4.7 1.5 3.1 1.5 1.6 1.5 1.9 1.5 .3 1.5-4.2 1.5-5.2 1.5-6.9 1.5-6.4 1.5-4.6 1.5-3.5 1.5-2.3 1.5-2.4 1.5-2.7 1.5-3.1 1.5-2 1.5-1.5 1.5-2.1 1.5-1.3 1.5-.8 1.5-1.8 1.5-2.5 1.5-1.2 1.5 .5 1.5 .3 1.5-1.9 1.5-3.6 1.5-3.7 1.5-3.1 1.5-3.1 1.5-3.3 1.5-2.3 1.5-1.9 1.5-2.8 1.5-2.4 1.5-1.4 1.5-2.3 1.5-4.4 1.5-4.5 1.5-2.3 1.5-1.2 1.5-1.7 1.5-.6 1.5 .4 1.5-.5 1.5-1.6 1.5-2.1 1.5-1.9 1.5-1.8 1.5-1.8 1.5-1.7 1.5-.8 1.5-.2 1.5-.5 1.5-.5 1.5-.2 1.5-.2 1.5 .8 1.5 1.5 1.5-.5 1.5-2.1 1.5-1.3 1.5-1.4 1.5-2 1.5-2.2 1.5-2.1 1.5-.7 1.5 .8 1.5 .3 1.5-.3 1.5 .7 1.5 .9 1.5-.4 1.5-.7 1.5 .1 1.5 .4 1.5-.9 1.5-.5 1.5 .6 1.5-.9 1.5-1.8 1.5-1.7 1.5-1.4 1.5-1.2 1.5-1.2 1.5-1.1 1.5-1.1 1.5-1.7 1.5-2.1 1.5-.9 1.5-.3 1.5-1.8 1.5-1.7 1.5-.3 1.5-.4 1.5-1.1 1.5-1.2 1.5-.8 1.5-.4 1.5-.2 1.5-.1 1.5-.1 1.5 0 1.5-1.1 1.5-1.7 1.5-.9 1.5-1.8 1.5-3.7 1.5-3.2 1.5-1.2 1.5 1.1 1.5 1.1 1.5 .2 1.5-.6 1.5 .2 1.5 .8 1.5 .5 1.5 1.4 1.5 1.4 1.5 .8 1.5 .8 1.5 1.5 1.5 1.8 1.5 1.7 1.5 .9 1.5 1 1.5 1.8 1.5 1.2 1.5 .3 1.5 .1 1.5 .1 1.5 .9 1.5 1 1.5 .2 1.5-.4 1.5-1.1 1.5-1.7 1.5-.2 1.5 1.5 1.5 1 1.5 .5 1.5 1.9 1.5 2.6 1.5 1.8 1.5 1.2 1.5 .8 1.5 .6 1.5 .2 1.5 .7 1.5 1.1 1.5 1.4 1.5 .4 1.5-.8 1.5-.4 1.5 1 1.5 1.5 1.5 1.7 1.5 1.7 1.5 1.5 1.5 1.3 1.5 1.4 1.5 1.2 1.5 .9 1.5-.8 1.5-1.9 1.5-1.2 1.5-1 1.5-.3 1.5 1.6 1.5 1.9 1.5 .6 1.5-.4 1.5-.9 1.5-.2 1.5 1 1.5 1.9 1.5 2.4 1.5 2 1.5 1.7 1.5 .3 1.5-2.9 1.5-4.4 1.5-3.7 1.5-2.5 1.5-.6 1.5 .9 1.5 .6 1.5-.3 1.5-.2 1.5-.9 1.5-1 1.5-1.4 1.5-1.9 1.5-1.3 1.5-.9 1.5-1.6 1.5-2.4 1.5-2.6 1.5-2.4 1.5-.4 1.5 .5 1.5-.3 1.5-1.4 1.5-.6 1.5 .5 1.5-1 1.5-2.2 1.5-1.2 1.5 .8 1.5 1.1 1.5 .8 1.5-.7 1.5-1 1.5 0 1.5-.8 1.5-2 1.5-.7 1.5 1.4 1.5 1.7 1.5 1.5 1.5 .5 1.5-.9 1.5-1.6 1.5-1.7 1.5-.3 1.5 .3 1.5-.9 1.5-1 1.5-1 1.5-.6 1.5-.3 1.5 .8 1.5 2.4 1.5 .9 1.5-1.1 1.5-.7 1.5 .1 1.5 .9 1.5 1.2 1.5 1.1 1.5 1.9 1.5 2.2 1.5 1 1.5 .1 1.5 .3 1.5 1 1.5 1.9 1.5 1.3 1.5 .6 1.5 .9 1.5 1.4 1.5 2 1.5 2 1.5 .4 1.5 0 1.5-.2 1.5 0 1.5 1.1 1.5 .7 1.5 .3 1.5 .4 1.5 .6 1.5 1 1.5 .9 1.5 1 1.5 1 1.5-.4 1.5-.8 1.5 .8 1.5 .5 1.5-.6 1.5-.3 1.5 .3 1.5 .2 1.5-.2 1.5 0 1.5-.1 1.5-.2 1.5-.9 1.5-1.2 1.5-1.1 1.5-.6 1.5-.9 1.5-.8 1.5-.5 1.5-.5 1.5 .8 1.5 2 1.5 1.4 1.5 .6 1.5 .2 1.5-.1 1.5 .2 1.5 .3 1.5-.6 1.5-.6 1.5 0 1.5 .5 1.5-.2 1.5-.4 1.5-.3 1.5-.1 1.5-.8 1.5-1.9 1.5-.2 1.5 2.2 1.5 1.7 1.5 .2 1.5 .1 1.5 .2 1.5 .5 1.5 1.6 1.5 1.8 1.5 .7 1.5 .2 1.5-.5 1.5-1.4 1.5-1.3 1.5-.3 1.5 .2 1.5 .5 1.5 .7 1.5 .1 1.5 .2 1.5 .9 1.5 1.3 1.5 1.9 1.5 2.7 1.5 2.7 1.5 2.2 1.5 1.7 1.5 1.5 1.5 2.4 1.5 3.5 1.5 3.6 1.5 3.2 1.5 3.9 1.5 5 1.5 5.2 1.5 4.8 1.5 3.4 1.5 2.4 1.5 2.4 1.5 3.1 1.5 2.6 1.5 .7 1.5 .9 1.5 3 1.5 4.1 1.5 4.2 1.5 4.4 1.5 3.8 1.5 4.7 1.5 6.1 1.5 5.4 1.5 5.5 1.5 5.6 1.5 3.3 1.5-1 1.5-2 1.5-3.7 1.5-3.5 1.5-5.3 1.5-7.3 1.5-7.7 1.9-24.7 .8-28.3 .7-29.5 .6-27.8 .5-24.6"/>
<path class="dd" stroke-opacity="0.28" d="M717.2 684.8l1.5 24.5 1.5 18.2 1.5 16.3 1.5 10.7 1.5 5.9 1.5 5.8 1.5 2.4 1.5 .3 1.5-.5 1.5-4.7 1.5-5 1.5-4.8 1.5-5.3 1.5-5.2 1.5-4.2 1.5-3.6 1.5-3.6 1.5-1.9 1.5-1.6 1.5-2.3 1.5-1.7 1.5-.8 1.5-1 1.5-.8 1.5-1.2 1.5-2.3 1.5-1.6 1.5-.4 1.5-1.2 1.5-2 1.5-2.2 1.5-2.5 1.5-2.3 1.5-2.1 1.5-2.9 1.5-3.3 1.5-2.5 1.5-1.9 1.5-2.1 1.5-2.3 1.5-3 1.5-4 1.5-3.1 1.5-1.4 1.5-.8 1.5-1.3 1.5-2 1.5-1.4 1.5 0 1.5-.2 1.5-1.5 1.5-1.8 1.5-1.3 1.5-1.7 1.5-1.3 1.5 .2 1.5 .8 1.5-.9 1.5-1.7 1.5-1.5 1.5-.9 1.5 .3 1.5 .9 1.5-.9 1.5-2.7 1.5-1.5 1.5 0 1.5 0 1.5-1.4 1.5-3 1.5-2.3 1.5-.6 1.5-.5 1.5-.1 1.5 .3 1.5 .5 1.5 1.2 1.5 1.2 1.5 .6 1.5 0 1.5-.5 1.5-1 1.5-1.1 1.5-1.1 1.5-1.1 1.5-1.1 1.5-1.7 1.5-1.9 1.5-1.7 1.5-1.8 1.5-1.8 1.5-1.5 1.5-1.2 1.5-.9 1.5-.4 1.5-.9 1.5-1.9 1.5-1.1 1.5-.6 1.5-.8 1.5-.9 1.5-.8 1.5-1.3 1.5-1.8 1.5-1.1 1.5 .1 1.5 .2 1.5-.5 1.5-1 1.5-1.1 1.5-1.5 1.5-2.3 1.5-2 1.5-.8 1.5-.9 1.5-1.4 1.5-1.1 1.5-.3 1.5 1.4 1.5 2.5 1.5 1.5 1.5 1.2 1.5 1.5 1.5 .7 1.5 .6 1.5 1 1.5 .6 1.5-.4 1.5 .3 1.5 1.1 1.5 1.7 1.5 2 1.5 1.8 1.5 .9 1.5-.1 1.5 .6 1.5 1.6 1.5 .3 1.5-1.9 1.5-.9 1.5 0 1.5-.3 1.5-.3 1.5-.4 1.5 .4 1.5 2.1 1.5 2.8 1.5 1.7 1.5 1.4 1.5 1 1.5 .9 1.5 1.6 1.5 .6 1.5-.5 1.5 .2 1.5 1 1.5 .6 1.5 .5 1.5 .9 1.5 1.2 1.5 1.3 1.5 1.3 1.5 1.7 1.5 2.7 1.5 2.1 1.5 .9 1.5 .7 1.5 .3 1.5-.6 1.5-.6 1.5-.9 1.5-1.1 1.5-.1 1.5 .9 1.5 .8 1.5 .8 1.5 1.2 1.5 .5 1.5 .8 1.5 1.3 1.5 1.4 1.5 .8 1.5 .4 1.5 1.4 1.5 1.4 1.5-1 1.5-3.3 1.5-4 1.5-3.1 1.5-.8 1.5 .7 1.5 .8 1.5 .1 1.5-.5 1.5-.2 1.5-1.3 1.5-2.6 1.5-1.6 1.5-1.4 1.5-2.2 1.5-2.6 1.5-1.9 1.5-.8 1.5-.8 1.5-.3 1.5 1.3 1.5 .4 1.5-1 1.5-.4 1.5-.6 1.5-1.7 1.5-1.4 1.5 0 1.5 .1 1.5-1.7 1.5-1 1.5-.4 1.5-.9 1.5-1.1 1.5-.4 1.5 1 1.5 1.6 1.5 1.4 1.5 1.8 1.5 1.5 1.5 .4 1.5-.8 1.5-1.1 1.5-1.5 1.5-1.5 1.5-.8 1.5-1.1 1.5-.8 1.5-.3 1.5-.9 1.5-.9 1.5 1.5 1.5 2.5 1.5 1.3 1.5 .5 1.5 0 1.5 0 1.5 .5 1.5 1.3 1.5 1.2 1.5 .1 1.5-.2 1.5 .4 1.5 .5 1.5-.1 1.5 .2 1.5 1.6 1.5 1.7 1.5 1.4 1.5 2.6 1.5 3.1 1.5 2.3 1.5 1 1.5-1.1 1.5-1.7 1.5-.9 1.5 .7 1.5 1.4 1.5 .1 1.5 .1 1.5 1.4 1.5 1 1.5 .9 1.5 .3 1.5-.4 1.5 1.1 1.5 1.6 1.5 .7 1.5 .6 1.5 .1 1.5 0 1.5 .1 1.5 0 1.5 .2 1.5 .3 1.5 .8 1.5-.2 1.5-2.2 1.5-1.9 1.5-.5 1.5 .4 1.5 .5 1.5 1.1 1.5 .1 1.5-.9 1.5 .1 1.5 .3 1.5 .8 1.5 1 1.5-.4 1.5-.6 1.5-.1 1.5 .4 1.5 .3 1.5 .8 1.5 2.1 1.5 1.5 1.5-1.2 1.5-1.9 1.5-1 1.5 .1 1.5 1 1.5 .1 1.5-.4 1.5-.1 1.5 .9 1.5 .9 1.5 1.2 1.5 1.2 1.5 .5 1.5-.3 1.5-.6 1.5 .1 1.5 .8 1.5-.5 1.5-1.2 1.5-.9 1.5-1 1.5-.8 1.5 .5 1.5 .1 1.5 .2 1.5 .7 1.5 1.6 1.5 2.6 1.5 2.5 1.5 1.3 1.5 .8 1.5 1.9 1.5 1.4 1.5 .9 1.5 2.2 1.5 3.9 1.5 3.9 1.5 4 1.5 4.5 1.5 3.5 1.5 4 1.5 4.4 1.5 3.5 1.5 2.9 1.5 2.3 1.5 1.4 1.5 .8 1.5 1.3 1.5 1.8 1.5 3 1.5 3.5 1.5 2.4 1.5 2.5 1.5 3.7 1.5 5.2 1.5 6.2 1.5 5.4 1.5 4.3 1.5 4.7 1.5 4.3 1.5 .6 1.5-1.5 1.5-4.7 1.5-5.6 1.5-6.3 1.5-5.4 1.5-5.5 1.9-25.9 .8-30 .7-31.2 .6-29.4 .5-26.1"/>
<path class="dd" stroke-opacity="0.28" d="M717.2 670.3l1.5 31.5 1.5 23.4 1.5 21 1.5 11.8 1.5 6.1 1.5 4.6 1.5 2.7 1.5 2.3 1.5-.6 1.5-4.9 1.5-5.2 1.5-6.8 1.5-7.5 1.5-5.2 1.5-3.1 1.5-2.2 1.5-3 1.5-2.4 1.5-1.4 1.5-1.1 1.5-2.2 1.5-2.4 1.5-1.7 1.5-1.7 1.5-1 1.5 .6 1.5 0 1.5-1.3 1.5-1.4 1.5-2.2 1.5-3.3 1.5-3.7 1.5-3.7 1.5-3.2 1.5-2.6 1.5-2.1 1.5-2.1 1.5-2.7 1.5-3.6 1.5-4 1.5-3.2 1.5-2.9 1.5-3.1 1.5-1.6 1.5-.3 1.5-1.2 1.5-1.1 1.5-.5 1.5-1.2 1.5-1.6 1.5-1.5 1.5-.9 1.5-1.9 1.5-2.9 1.5-1.8 1.5-1.4 1.5-1.5 1.5-1.1 1.5-.3 1.5 .7 1.5 .5 1.5-.2 1.5 .6 1.5 .5 1.5-1.9 1.5-2.6 1.5-2.2 1.5-2 1.5-2.1 1.5-1 1.5 0 1.5 0 1.5-.6 1.5-.2 1.5 .6 1.5 .8 1.5 .6 1.5 1.1 1.5 1 1.5 .5 1.5-.4 1.5-.9 1.5-.7 1.5-.5 1.5-.6 1.5-1.8 1.5-2.5 1.5-1.9 1.5-1.7 1.5-1.4 1.5-.4 1.5 .1 1.5-.8 1.5-1.1 1.5-.5 1.5 0 1.5-.6 1.5-1.2 1.5-.4 1.5 .4 1.5 .5 1.5-1.2 1.5-2.3 1.5-.6 1.5 .8 1.5 .7 1.5 .2 1.5-1.2 1.5-1.8 1.5-.8 1.5-1.3 1.5-2.7 1.5-2.6 1.5-1.3 1.5-.5 1.5-.7 1.5-.2 1.5 1 1.5 1.2 1.5 1.1 1.5 1.1 1.5 1.4 1.5 1 1.5 .8 1.5 1 1.5 1.2 1.5 .7 1.5-.1 1.5 .2 1.5 1.8 1.5 2 1.5 1 1.5-.3 1.5 .2 1.5 2.5 1.5 2.2 1.5-.1 1.5-1 1.5-1.4 1.5-.9 1.5-.1 1.5-.3 1.5-.1 1.5-.2 1.5 .6 1.5 1.9 1.5 1.9 1.5 2 1.5 1.8 1.5 .6 1.5 .1 1.5 .4 1.5 .5 1.5 .9 1.5 1.1 1.5 .5 1.5 .1 1.5-.3 1.5 .3 1.5 1.7 1.5 1.5 1.5 .5 1.5 .8 1.5 1.6 1.5 1.4 1.5 .9 1.5 .9 1.5 .5 1.5-.3 1.5-.1 1.5 .4 1.5-.8 1.5-1.2 1.5-.8 1.5-.8 1.5 1.2 1.5 2.7 1.5 1.8 1.5 1.2 1.5 1.3 1.5 1.9 1.5 .9 1.5-.1 1.5 0 1.5-1.5 1.5-2.9 1.5-2.7 1.5-3.2 1.5-2.1 1.5 .7 1.5 1.8 1.5 .8 1.5-.2 1.5 .1 1.5-.7 1.5-2.6 1.5-3.4 1.5-2.3 1.5-1.2 1.5-1.6 1.5-1.3 1.5-.1 1.5-.4 1.5-1 1.5-.9 1.5-1.6 1.5-1.7 1.5-.1 1.5 .7 1.5-.3 1.5-1.2 1.5-1 1.5-.2 1.5 .9 1.5 1 1.5 .2 1.5-.7 1.5-.8 1.5-.5 1.5-.7 1.5 .6 1.5 1.8 1.5 .7 1.5 .2 1.5 .3 1.5-.3 1.5-.7 1.5-.7 1.5-.6 1.5-.9 1.5-1.7 1.5-2.4 1.5-2.1 1.5-.6 1.5 .9 1.5 .5 1.5 .6 1.5 1.3 1.5 1.2 1.5 1.1 1.5 .6 1.5-.5 1.5-.2 1.5 .8 1.5 .8 1.5 1.1 1.5 1.4 1.5 .5 1.5-.3 1.5-.3 1.5 .6 1.5 1.5 1.5 1.4 1.5 1 1.5 1.3 1.5 1.8 1.5 2 1.5 1 1.5 .6 1.5 .5 1.5-.1 1.5-.4 1.5-.4 1.5 .6 1.5 .5 1.5-.3 1.5 1 1.5 2.4 1.5 1.5 1.5 .3 1.5-.1 1.5 .3 1.5-.2 1.5-.4 1.5 .4 1.5 .3 1.5-.7 1.5-.2 1.5 1 1.5 .4 1.5-.8 1.5-.3 1.5 .2 1.5-.2 1.5 .1 1.5 .1 1.5-.1 1.5 .8 1.5 1.8 1.5 .9 1.5-.3 1.5-.3 1.5 .7 1.5 .6 1.5 .4 1.5 .1 1.5-1 1.5-1 1.5 .5 1.5 1.4 1.5 1.5 1.5 1.1 1.5 .6 1.5 .2 1.5-.3 1.5-.8 1.5-.8 1.5-.9 1.5 .3 1.5 .9 1.5 .4 1.5 .4 1.5 1.3 1.5 1.4 1.5 .8 1.5 1 1.5 1.4 1.5 1.5 1.5 .6 1.5-1.8 1.5-2.6 1.5-.6 1.5 1.3 1.5 1.3 1.5-.2 1.5-.1 1.5 1.3 1.5 1.5 1.5 .4 1.5-.7 1.5 1.1 1.5 2.9 1.5 3.1 1.5 1.9 1.5 1.4 1.5 1.6 1.5 2.8 1.5 3.4 1.5 2.8 1.5 4 1.5 4.8 1.5 4 1.5 4.2 1.5 4.2 1.5 3 1.5 2.5 1.5 2.8 1.5 1.9 1.5 1.5 1.5 3 1.5 3.4 1.5 2.9 1.5 2.4 1.5 1.5 1.5 3 1.5 4.7 1.5 5 1.5 4.5 1.5 5 1.5 7.2 1.5 6.4 1.5 3 1.5-1.1 1.5-1.9 1.5-3.9 1.5-3.8 1.5-5.1 1.5-6.3 1.5-7.1 1.9-30.6 .8-40.5 .7-42.1 .6-39.7 .5-35.2"/>
<path class="dd" stroke-opacity="0.28" d="M717.2 659.1l1.5 41.6 1.5 30.9 1.5 27.7 1.5 12.8 1.5 5.2 1.5 4.7 1.5 2.3 1.5 1.1 1.5 .1 1.5-4 1.5-5.3 1.5-7 1.5-7 1.5-5.7 1.5-3.3 1.5-1.9 1.5-2.2 1.5-2.1 1.5-2.4 1.5-2.8 1.5-2.4 1.5-1.8 1.5-1.1 1.5-1.5 1.5-2.1 1.5-1.2 1.5-.1 1.5-.8 1.5-2.4 1.5-2.9 1.5-2 1.5-1.6 1.5-1.6 1.5-2.6 1.5-3.7 1.5-3.1 1.5-2.3 1.5-2.7 1.5-2.5 1.5-2.3 1.5-3.3 1.5-3.9 1.5-3.2 1.5-2.1 1.5-1.6 1.5-1.3 1.5-1.1 1.5-1 1.5-1 1.5-1.7 1.5-2 1.5-1.8 1.5-2.3 1.5-2.4 1.5-1.8 1.5-1.4 1.5-.8 1.5 .3 1.5 .1 1.5-.8 1.5 .5 1.5 1.3 1.5 .2 1.5-1.5 1.5-2 1.5-1.1 1.5-1 1.5-1.5 1.5-1.7 1.5-1.6 1.5-1.3 1.5-.9 1.5-.9 1.5-.8 1.5-.6 1.5 1.2 1.5 2.8 1.5 2 1.5 .3 1.5-.6 1.5-1.3 1.5-1 1.5-.3 1.5-.5 1.5-1 1.5-1.7 1.5-1.3 1.5-1 1.5-1.1 1.5-1.4 1.5-1.6 1.5-1.2 1.5 .2 1.5 0 1.5-.5 1.5-1.2 1.5-1.5 1.5-1.3 1.5-1.7 1.5-1.2 1.5-.1 1.5-1.4 1.5-2.4 1.5-1.4 1.5-.6 1.5-.9 1.5-.3 1.5 .5 1.5 .2 1.5-1.1 1.5-3.1 1.5-2.5 1.5-1.2 1.5-1 1.5-.6 1.5 0 1.5 .7 1.5 .8 1.5-.1 1.5-.9 1.5 .1 1.5 1.8 1.5 3.1 1.5 2.1 1.5 .6 1.5 .4 1.5 .7 1.5 .6 1.5 1.8 1.5 2 1.5 .7 1.5-.4 1.5-.3 1.5 .3 1.5 1.4 1.5 2.3 1.5 1.5 1.5 .1 1.5-.5 1.5-1.3 1.5-1.4 1.5-.5 1.5 1 1.5 1.6 1.5 .5 1.5 .3 1.5 1.3 1.5 1.7 1.5 1.7 1.5 1.5 1.5 .5 1.5 .3 1.5 .4 1.5 .2 1.5 0 1.5 .2 1.5 1 1.5 .8 1.5 .6 1.5 1.3 1.5 1.7 1.5 1.1 1.5 1.2 1.5 1.6 1.5 .8 1.5 1.3 1.5 1.7 1.5-.1 1.5-1.3 1.5-.6 1.5-.5 1.5-.7 1.5 .1 1.5 1.5 1.5 1.2 1.5 .2 1.5-.6 1.5-.2 1.5 1.1 1.5 1.7 1.5 1.2 1.5 .8 1.5 1.3 1.5 1.2 1.5-.8 1.5-2.9 1.5-3.4 1.5-2.9 1.5-1.9 1.5-1 1.5 .2 1.5 .4 1.5-.2 1.5 0 1.5 .1 1.5-1.1 1.5-2 1.5-2.5 1.5-2 1.5-.8 1.5-1.9 1.5-3.3 1.5-2.4 1.5-.8 1.5-.5 1.5-.1 1.5 .6 1.5 .7 1.5 0 1.5-.5 1.5-.8 1.5-1.1 1.5-.2 1.5 .4 1.5 .2 1.5-.3 1.5-1.2 1.5-1.5 1.5-.9 1.5 .4 1.5 1.7 1.5 1.7 1.5 .7 1.5 0 1.5 .3 1.5-.5 1.5-.7 1.5-.1 1.5-.9 1.5-1.5 1.5-2 1.5-2 1.5-.6 1.5 .8 1.5 1 1.5 .8 1.5 .4 1.5 .2 1.5-.1 1.5 .2 1.5 .5 1.5 .8 1.5 .7 1.5 0 1.5 0 1.5 .2 1.5 .7 1.5 .7 1.5-.4 1.5-.4 1.5 .5 1.5 1.1 1.5 1.6 1.5 1.6 1.5 2.1 1.5 2.5 1.5 2.2 1.5 1.4 1.5 .7 1.5 .6 1.5 .4 1.5-.8 1.5-1 1.5 .1 1.5 .2 1.5 .1 1.5 1.5 1.5 1.9 1.5 .7 1.5 .6 1.5 1.1 1.5 .9 1.5 .3 1.5-.6 1.5-.5 1.5 0 1.5 .9 1.5 1 1.5 .7 1.5 .1 1.5-1 1.5-1.4 1.5-.5 1.5-.2 1.5-.3 1.5 .1 1.5 0 1.5-.9 1.5 .6 1.5 2.2 1.5 .9 1.5-.4 1.5-.6 1.5 .1 1.5 .6 1.5-.1 1.5-.8 1.5 .1 1.5 1 1.5 1 1.5 .9 1.5 .6 1.5 0 1.5 .6 1.5 .4 1.5 .2 1.5-.3 1.5-.6 1.5-.3 1.5-.1 1.5 .3 1.5 1.4 1.5 1.9 1.5 1.1 1.5 .8 1.5 .8 1.5 .6 1.5 .7 1.5 0 1.5-.7 1.5-.2 1.5-.2 1.5-1.7 1.5-1.6 1.5-.2 1.5 1.2 1.5 1.1 1.5 .3 1.5 1 1.5 .6 1.5 .3 1.5 1.5 1.5 2.7 1.5 4 1.5 3.3 1.5 1.6 1.5 1.7 1.5 3.6 1.5 3.8 1.5 3.4 1.5 3.8 1.5 4.2 1.5 4 1.5 3.7 1.5 4.1 1.5 3.2 1.5 1.6 1.5 1.7 1.5 2.6 1.5 2.2 1.5 .9 1.5 .3 1.5 1.8 1.5 3.7 1.5 4.5 1.5 4.8 1.5 5.1 1.5 4.4 1.5 5.1 1.5 6.1 1.5 5.3 1.5 2.1 1.5-1.5 1.5-2.4 1.5-4.7 1.5-4.4 1.5-4.7 1.5-5.3 1.5-7 1.9-26.8 .8-31 .7-32.1 .6-30.3 .5-26.9"/>
<path class="tk" d="M716.8 812.1v-3.0M716.8 466.2v3.0"/>
<text class="t" x="716.8" y="828.6" font-size="16.39" text-anchor="middle" lengthAdjust="spacingAndGlyphs" textLength="10.2">0</text>
<path class="tk" d="M856.4 812.1v-3.0M856.4 466.2v3.0"/>
<text class="t" x="856.4" y="828.6" font-size="16.39" text-anchor="middle" lengthAdjust="spacingAndGlyphs" textLength="25.6">0.5</text>
<path class="tk" d="M996.0 812.1v-3.0M996.0 466.2v3.0"/>
<text class="t" x="996.0" y="828.6" font-size="16.39" text-anchor="middle" lengthAdjust="spacingAndGlyphs" textLength="10.2">1</text>
<path class="tk" d="M1135.7 812.1v-3.0M1135.7 466.2v3.0"/>
<text class="t" x="1135.7" y="828.6" font-size="16.39" text-anchor="middle" lengthAdjust="spacingAndGlyphs" textLength="25.6">0.5</text>
<path class="tk" d="M1275.3 812.1v-3.0M1275.3 466.2v3.0"/>
<text class="t" x="1275.3" y="828.6" font-size="16.39" text-anchor="middle" lengthAdjust="spacingAndGlyphs" textLength="10.2">0</text>
<path class="tk" d="M716.8 812.1h3.0M1275.3 812.1h-3.0"/>
<text class="t" x="711.1" y="818.5" font-size="16.39" text-anchor="end" lengthAdjust="spacingAndGlyphs" textLength="39.1">2400</text>
<path class="tk" d="M716.8 754.5h3.0M1275.3 754.5h-3.0"/>
<text class="t" x="711.1" y="760.8" font-size="16.39" text-anchor="end" lengthAdjust="spacingAndGlyphs" textLength="39.1">2500</text>
<path class="tk" d="M716.8 696.8h3.0M1275.3 696.8h-3.0"/>
<text class="t" x="711.1" y="703.2" font-size="16.39" text-anchor="end" lengthAdjust="spacingAndGlyphs" textLength="39.1">2600</text>
<path class="tk" d="M716.8 639.2h3.0M1275.3 639.2h-3.0"/>
<text class="t" x="711.1" y="645.5" font-size="16.39" text-anchor="end" lengthAdjust="spacingAndGlyphs" textLength="39.1">2700</text>
<path class="tk" d="M716.8 581.5h3.0M1275.3 581.5h-3.0"/>
<text class="t" x="711.1" y="587.9" font-size="16.39" text-anchor="end" lengthAdjust="spacingAndGlyphs" textLength="39.1">2800</text>
<path class="tk" d="M716.8 523.9h3.0M1275.3 523.9h-3.0"/>
<text class="t" x="711.1" y="530.3" font-size="16.39" text-anchor="end" lengthAdjust="spacingAndGlyphs" textLength="39.1">2900</text>
<path class="tk" d="M716.8 466.2h3.0M1275.3 466.2h-3.0"/>
<text class="t" x="711.1" y="472.6" font-size="16.39" text-anchor="end" lengthAdjust="spacingAndGlyphs" textLength="39.1">3000</text>
<text class="t" x="996.0" y="849.6" font-size="16.39" text-anchor="middle" lengthAdjust="spacingAndGlyphs" textLength="31.3">SoC</text>
<text class="t" x="663.2" y="638.7" font-size="16.39" text-anchor="middle" lengthAdjust="spacingAndGlyphs" textLength="185.1" transform="rotate(-90 663.2 638.7)">Signal Amplitude (arb)</text>
<text class="t" x="-1.6" y="11.2" font-size="16.70" lengthAdjust="spacingAndGlyphs" textLength="22.8">(a)</text>
<text class="t" x="646.2" y="11.2" font-size="16.70" lengthAdjust="spacingAndGlyphs" textLength="23.2">(b)</text>
<text class="t" x="-0.9" y="454.6" font-size="16.70" lengthAdjust="spacingAndGlyphs" textLength="21.8">(c)</text>
<text class="t" x="646.2" y="454.6" font-size="16.70" lengthAdjust="spacingAndGlyphs" textLength="23.2">(d)</text>
</g>
</svg>
</body></html>
